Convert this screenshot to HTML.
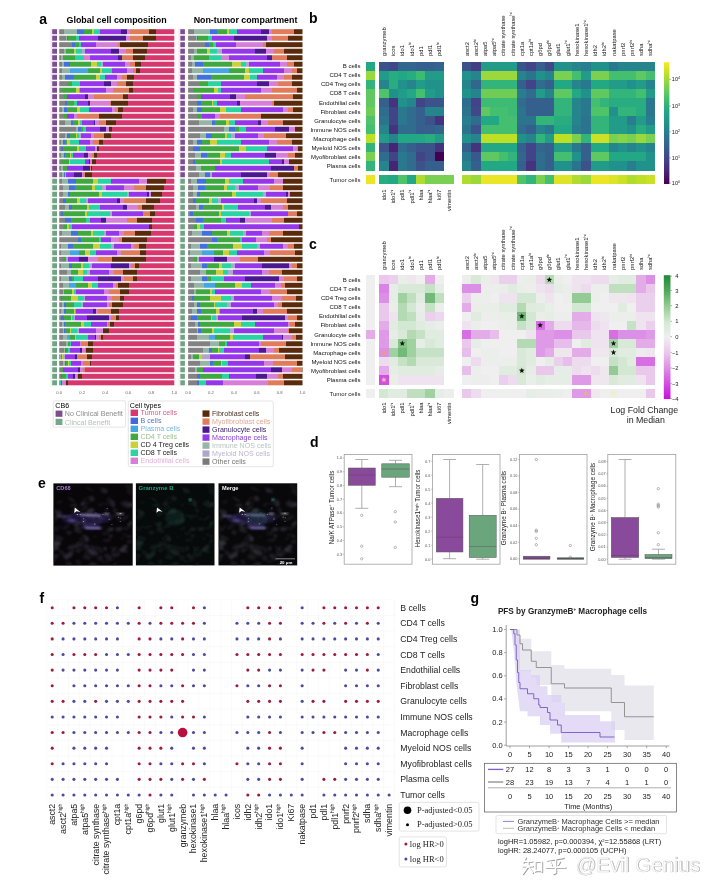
<!DOCTYPE html>
<html><head><meta charset="utf-8"><title>Figure</title>
<style>
html,body{margin:0;padding:0;background:#fff;}
body{width:720px;height:893px;overflow:hidden;}
svg{display:block;font-family:"Liberation Sans",sans-serif;will-change:transform;}
.ce rect{shape-rendering:crispEdges;}
</style></head><body>
<svg width="720" height="893" viewBox="0 0 720 893">
<rect width="720" height="893" fill="#fff"/>
<defs><linearGradient id="gl0" gradientUnits="userSpaceOnUse" x1="59.2" y1="0" x2="174.3" y2="0"><stop offset="0.0000" stop-color="#828282"/><stop offset="0.0412" stop-color="#828282"/><stop offset="0.0412" stop-color="#97b5a6"/><stop offset="0.1580" stop-color="#97b5a6"/><stop offset="0.1580" stop-color="#4470de"/><stop offset="0.2129" stop-color="#4470de"/><stop offset="0.2129" stop-color="#3fa83f"/><stop offset="0.2885" stop-color="#3fa83f"/><stop offset="0.2885" stop-color="#c9d038"/><stop offset="0.3022" stop-color="#c9d038"/><stop offset="0.3022" stop-color="#2ad3a2"/><stop offset="0.3572" stop-color="#2ad3a2"/><stop offset="0.3572" stop-color="#9636ea"/><stop offset="0.5358" stop-color="#9636ea"/><stop offset="0.5358" stop-color="#4c1890"/><stop offset="0.5907" stop-color="#4c1890"/><stop offset="0.5907" stop-color="#d77fd8"/><stop offset="0.6113" stop-color="#d77fd8"/><stop offset="0.6113" stop-color="#e07c5c"/><stop offset="0.7762" stop-color="#e07c5c"/><stop offset="0.7762" stop-color="#5a2a0c"/><stop offset="0.8380" stop-color="#5a2a0c"/><stop offset="0.8380" stop-color="#d6386e"/><stop offset="1.0000" stop-color="#d6386e"/></linearGradient><linearGradient id="gr0" gradientUnits="userSpaceOnUse" x1="188.1" y1="0" x2="302.5" y2="0"><stop offset="0.0000" stop-color="#828282"/><stop offset="0.0492" stop-color="#828282"/><stop offset="0.0492" stop-color="#97b5a6"/><stop offset="0.1885" stop-color="#97b5a6"/><stop offset="0.1885" stop-color="#4470de"/><stop offset="0.2541" stop-color="#4470de"/><stop offset="0.2541" stop-color="#3fa83f"/><stop offset="0.3443" stop-color="#3fa83f"/><stop offset="0.3443" stop-color="#c9d038"/><stop offset="0.3607" stop-color="#c9d038"/><stop offset="0.3607" stop-color="#2ad3a2"/><stop offset="0.4262" stop-color="#2ad3a2"/><stop offset="0.4262" stop-color="#9636ea"/><stop offset="0.6393" stop-color="#9636ea"/><stop offset="0.6393" stop-color="#4c1890"/><stop offset="0.7049" stop-color="#4c1890"/><stop offset="0.7049" stop-color="#d77fd8"/><stop offset="0.7295" stop-color="#d77fd8"/><stop offset="0.7295" stop-color="#e07c5c"/><stop offset="0.9262" stop-color="#e07c5c"/><stop offset="0.9262" stop-color="#5a2a0c"/><stop offset="1.0000" stop-color="#5a2a0c"/></linearGradient><linearGradient id="gl1" gradientUnits="userSpaceOnUse" x1="59.2" y1="0" x2="174.3" y2="0"><stop offset="0.0000" stop-color="#828282"/><stop offset="0.0550" stop-color="#828282"/><stop offset="0.0550" stop-color="#97b5a6"/><stop offset="0.0687" stop-color="#97b5a6"/><stop offset="0.0687" stop-color="#4470de"/><stop offset="0.0756" stop-color="#4470de"/><stop offset="0.0756" stop-color="#3fa83f"/><stop offset="0.1442" stop-color="#3fa83f"/><stop offset="0.1442" stop-color="#2ad3a2"/><stop offset="0.1717" stop-color="#2ad3a2"/><stop offset="0.1717" stop-color="#9636ea"/><stop offset="0.3366" stop-color="#9636ea"/><stop offset="0.3366" stop-color="#4c1890"/><stop offset="0.5770" stop-color="#4c1890"/><stop offset="0.5770" stop-color="#d77fd8"/><stop offset="0.6113" stop-color="#d77fd8"/><stop offset="0.6113" stop-color="#e07c5c"/><stop offset="0.7281" stop-color="#e07c5c"/><stop offset="0.7281" stop-color="#5a2a0c"/><stop offset="0.8380" stop-color="#5a2a0c"/><stop offset="0.8380" stop-color="#d6386e"/><stop offset="1.0000" stop-color="#d6386e"/></linearGradient><linearGradient id="gr1" gradientUnits="userSpaceOnUse" x1="188.1" y1="0" x2="302.5" y2="0"><stop offset="0.0000" stop-color="#828282"/><stop offset="0.0656" stop-color="#828282"/><stop offset="0.0656" stop-color="#97b5a6"/><stop offset="0.0820" stop-color="#97b5a6"/><stop offset="0.0820" stop-color="#4470de"/><stop offset="0.0902" stop-color="#4470de"/><stop offset="0.0902" stop-color="#3fa83f"/><stop offset="0.1721" stop-color="#3fa83f"/><stop offset="0.1721" stop-color="#2ad3a2"/><stop offset="0.2049" stop-color="#2ad3a2"/><stop offset="0.2049" stop-color="#9636ea"/><stop offset="0.4016" stop-color="#9636ea"/><stop offset="0.4016" stop-color="#4c1890"/><stop offset="0.6885" stop-color="#4c1890"/><stop offset="0.6885" stop-color="#d77fd8"/><stop offset="0.7295" stop-color="#d77fd8"/><stop offset="0.7295" stop-color="#e07c5c"/><stop offset="0.8689" stop-color="#e07c5c"/><stop offset="0.8689" stop-color="#5a2a0c"/><stop offset="1.0000" stop-color="#5a2a0c"/></linearGradient><linearGradient id="gl2" gradientUnits="userSpaceOnUse" x1="59.2" y1="0" x2="174.3" y2="0"><stop offset="0.0000" stop-color="#828282"/><stop offset="0.1143" stop-color="#828282"/><stop offset="0.1143" stop-color="#4470de"/><stop offset="0.1398" stop-color="#4470de"/><stop offset="0.1398" stop-color="#3fa83f"/><stop offset="0.1715" stop-color="#3fa83f"/><stop offset="0.1715" stop-color="#2ad3a2"/><stop offset="0.1906" stop-color="#2ad3a2"/><stop offset="0.1906" stop-color="#9636ea"/><stop offset="0.3240" stop-color="#9636ea"/><stop offset="0.3240" stop-color="#d77fd8"/><stop offset="0.5082" stop-color="#d77fd8"/><stop offset="0.5082" stop-color="#e07c5c"/><stop offset="0.5273" stop-color="#e07c5c"/><stop offset="0.5273" stop-color="#5a2a0c"/><stop offset="0.7750" stop-color="#5a2a0c"/><stop offset="0.7750" stop-color="#d6386e"/><stop offset="1.0000" stop-color="#d6386e"/></linearGradient><linearGradient id="gr2" gradientUnits="userSpaceOnUse" x1="188.1" y1="0" x2="302.5" y2="0"><stop offset="0.0000" stop-color="#828282"/><stop offset="0.1475" stop-color="#828282"/><stop offset="0.1475" stop-color="#4470de"/><stop offset="0.1803" stop-color="#4470de"/><stop offset="0.1803" stop-color="#3fa83f"/><stop offset="0.2213" stop-color="#3fa83f"/><stop offset="0.2213" stop-color="#2ad3a2"/><stop offset="0.2459" stop-color="#2ad3a2"/><stop offset="0.2459" stop-color="#9636ea"/><stop offset="0.4180" stop-color="#9636ea"/><stop offset="0.4180" stop-color="#d77fd8"/><stop offset="0.6557" stop-color="#d77fd8"/><stop offset="0.6557" stop-color="#e07c5c"/><stop offset="0.6803" stop-color="#e07c5c"/><stop offset="0.6803" stop-color="#5a2a0c"/><stop offset="1.0000" stop-color="#5a2a0c"/></linearGradient><linearGradient id="gl3" gradientUnits="userSpaceOnUse" x1="59.2" y1="0" x2="174.3" y2="0"><stop offset="0.0000" stop-color="#828282"/><stop offset="0.0377" stop-color="#828282"/><stop offset="0.0377" stop-color="#97b5a6"/><stop offset="0.0566" stop-color="#97b5a6"/><stop offset="0.0566" stop-color="#3fa83f"/><stop offset="0.1257" stop-color="#3fa83f"/><stop offset="0.1257" stop-color="#c9d038"/><stop offset="0.1446" stop-color="#c9d038"/><stop offset="0.1446" stop-color="#2ad3a2"/><stop offset="0.1949" stop-color="#2ad3a2"/><stop offset="0.1949" stop-color="#aea6cc"/><stop offset="0.2263" stop-color="#aea6cc"/><stop offset="0.2263" stop-color="#9636ea"/><stop offset="0.4464" stop-color="#9636ea"/><stop offset="0.4464" stop-color="#4c1890"/><stop offset="0.5218" stop-color="#4c1890"/><stop offset="0.5218" stop-color="#d77fd8"/><stop offset="0.5784" stop-color="#d77fd8"/><stop offset="0.5784" stop-color="#e07c5c"/><stop offset="0.6413" stop-color="#e07c5c"/><stop offset="0.6413" stop-color="#5a2a0c"/><stop offset="0.7670" stop-color="#5a2a0c"/><stop offset="0.7670" stop-color="#d6386e"/><stop offset="1.0000" stop-color="#d6386e"/></linearGradient><linearGradient id="gr3" gradientUnits="userSpaceOnUse" x1="188.1" y1="0" x2="302.5" y2="0"><stop offset="0.0000" stop-color="#828282"/><stop offset="0.0492" stop-color="#828282"/><stop offset="0.0492" stop-color="#97b5a6"/><stop offset="0.0738" stop-color="#97b5a6"/><stop offset="0.0738" stop-color="#3fa83f"/><stop offset="0.1639" stop-color="#3fa83f"/><stop offset="0.1639" stop-color="#c9d038"/><stop offset="0.1885" stop-color="#c9d038"/><stop offset="0.1885" stop-color="#2ad3a2"/><stop offset="0.2541" stop-color="#2ad3a2"/><stop offset="0.2541" stop-color="#aea6cc"/><stop offset="0.2951" stop-color="#aea6cc"/><stop offset="0.2951" stop-color="#9636ea"/><stop offset="0.5820" stop-color="#9636ea"/><stop offset="0.5820" stop-color="#4c1890"/><stop offset="0.6803" stop-color="#4c1890"/><stop offset="0.6803" stop-color="#d77fd8"/><stop offset="0.7541" stop-color="#d77fd8"/><stop offset="0.7541" stop-color="#e07c5c"/><stop offset="0.8361" stop-color="#e07c5c"/><stop offset="0.8361" stop-color="#5a2a0c"/><stop offset="1.0000" stop-color="#5a2a0c"/></linearGradient><linearGradient id="gl4" gradientUnits="userSpaceOnUse" x1="59.2" y1="0" x2="174.3" y2="0"><stop offset="0.0000" stop-color="#828282"/><stop offset="0.0183" stop-color="#828282"/><stop offset="0.0183" stop-color="#97b5a6"/><stop offset="0.0366" stop-color="#97b5a6"/><stop offset="0.0366" stop-color="#3fa83f"/><stop offset="0.1342" stop-color="#3fa83f"/><stop offset="0.1342" stop-color="#2ad3a2"/><stop offset="0.2134" stop-color="#2ad3a2"/><stop offset="0.2134" stop-color="#d77fd8"/><stop offset="0.2683" stop-color="#d77fd8"/><stop offset="0.2683" stop-color="#9636ea"/><stop offset="0.5123" stop-color="#9636ea"/><stop offset="0.5123" stop-color="#4c1890"/><stop offset="0.5428" stop-color="#4c1890"/><stop offset="0.5428" stop-color="#e07c5c"/><stop offset="0.6403" stop-color="#e07c5c"/><stop offset="0.6403" stop-color="#5a2a0c"/><stop offset="0.7440" stop-color="#5a2a0c"/><stop offset="0.7440" stop-color="#d6386e"/><stop offset="1.0000" stop-color="#d6386e"/></linearGradient><linearGradient id="gr4" gradientUnits="userSpaceOnUse" x1="188.1" y1="0" x2="302.5" y2="0"><stop offset="0.0000" stop-color="#828282"/><stop offset="0.0246" stop-color="#828282"/><stop offset="0.0246" stop-color="#97b5a6"/><stop offset="0.0492" stop-color="#97b5a6"/><stop offset="0.0492" stop-color="#3fa83f"/><stop offset="0.1803" stop-color="#3fa83f"/><stop offset="0.1803" stop-color="#2ad3a2"/><stop offset="0.2869" stop-color="#2ad3a2"/><stop offset="0.2869" stop-color="#d77fd8"/><stop offset="0.3607" stop-color="#d77fd8"/><stop offset="0.3607" stop-color="#9636ea"/><stop offset="0.6885" stop-color="#9636ea"/><stop offset="0.6885" stop-color="#4c1890"/><stop offset="0.7295" stop-color="#4c1890"/><stop offset="0.7295" stop-color="#e07c5c"/><stop offset="0.8607" stop-color="#e07c5c"/><stop offset="0.8607" stop-color="#5a2a0c"/><stop offset="1.0000" stop-color="#5a2a0c"/></linearGradient><linearGradient id="gl5" gradientUnits="userSpaceOnUse" x1="59.2" y1="0" x2="174.3" y2="0"><stop offset="0.0000" stop-color="#828282"/><stop offset="0.0233" stop-color="#828282"/><stop offset="0.0233" stop-color="#97b5a6"/><stop offset="0.0409" stop-color="#97b5a6"/><stop offset="0.0409" stop-color="#4470de"/><stop offset="0.0934" stop-color="#4470de"/><stop offset="0.0934" stop-color="#3fa83f"/><stop offset="0.2743" stop-color="#3fa83f"/><stop offset="0.2743" stop-color="#c9d038"/><stop offset="0.3268" stop-color="#c9d038"/><stop offset="0.3268" stop-color="#2ad3a2"/><stop offset="0.3618" stop-color="#2ad3a2"/><stop offset="0.3618" stop-color="#aea6cc"/><stop offset="0.3793" stop-color="#aea6cc"/><stop offset="0.3793" stop-color="#9636ea"/><stop offset="0.5719" stop-color="#9636ea"/><stop offset="0.5719" stop-color="#d77fd8"/><stop offset="0.6128" stop-color="#d77fd8"/><stop offset="0.6128" stop-color="#e07c5c"/><stop offset="0.6595" stop-color="#e07c5c"/><stop offset="0.6595" stop-color="#5a2a0c"/><stop offset="0.7120" stop-color="#5a2a0c"/><stop offset="0.7120" stop-color="#d6386e"/><stop offset="1.0000" stop-color="#d6386e"/></linearGradient><linearGradient id="gr5" gradientUnits="userSpaceOnUse" x1="188.1" y1="0" x2="302.5" y2="0"><stop offset="0.0000" stop-color="#828282"/><stop offset="0.0328" stop-color="#828282"/><stop offset="0.0328" stop-color="#97b5a6"/><stop offset="0.0574" stop-color="#97b5a6"/><stop offset="0.0574" stop-color="#4470de"/><stop offset="0.1311" stop-color="#4470de"/><stop offset="0.1311" stop-color="#3fa83f"/><stop offset="0.3852" stop-color="#3fa83f"/><stop offset="0.3852" stop-color="#c9d038"/><stop offset="0.4590" stop-color="#c9d038"/><stop offset="0.4590" stop-color="#2ad3a2"/><stop offset="0.5082" stop-color="#2ad3a2"/><stop offset="0.5082" stop-color="#aea6cc"/><stop offset="0.5328" stop-color="#aea6cc"/><stop offset="0.5328" stop-color="#9636ea"/><stop offset="0.8033" stop-color="#9636ea"/><stop offset="0.8033" stop-color="#d77fd8"/><stop offset="0.8607" stop-color="#d77fd8"/><stop offset="0.8607" stop-color="#e07c5c"/><stop offset="0.9262" stop-color="#e07c5c"/><stop offset="0.9262" stop-color="#5a2a0c"/><stop offset="1.0000" stop-color="#5a2a0c"/></linearGradient><linearGradient id="gl6" gradientUnits="userSpaceOnUse" x1="59.2" y1="0" x2="174.3" y2="0"><stop offset="0.0000" stop-color="#828282"/><stop offset="0.0231" stop-color="#828282"/><stop offset="0.0231" stop-color="#97b5a6"/><stop offset="0.0923" stop-color="#97b5a6"/><stop offset="0.0923" stop-color="#46a6e4"/><stop offset="0.2539" stop-color="#46a6e4"/><stop offset="0.2539" stop-color="#3fa83f"/><stop offset="0.3520" stop-color="#3fa83f"/><stop offset="0.3520" stop-color="#c9d038"/><stop offset="0.3751" stop-color="#c9d038"/><stop offset="0.3751" stop-color="#2ad3a2"/><stop offset="0.4616" stop-color="#2ad3a2"/><stop offset="0.4616" stop-color="#9636ea"/><stop offset="0.5886" stop-color="#9636ea"/><stop offset="0.5886" stop-color="#d77fd8"/><stop offset="0.6405" stop-color="#d77fd8"/><stop offset="0.6405" stop-color="#e07c5c"/><stop offset="0.6694" stop-color="#e07c5c"/><stop offset="0.6694" stop-color="#5a2a0c"/><stop offset="0.7040" stop-color="#5a2a0c"/><stop offset="0.7040" stop-color="#d6386e"/><stop offset="1.0000" stop-color="#d6386e"/></linearGradient><linearGradient id="gr6" gradientUnits="userSpaceOnUse" x1="188.1" y1="0" x2="302.5" y2="0"><stop offset="0.0000" stop-color="#828282"/><stop offset="0.0328" stop-color="#828282"/><stop offset="0.0328" stop-color="#97b5a6"/><stop offset="0.1311" stop-color="#97b5a6"/><stop offset="0.1311" stop-color="#46a6e4"/><stop offset="0.3607" stop-color="#46a6e4"/><stop offset="0.3607" stop-color="#3fa83f"/><stop offset="0.5000" stop-color="#3fa83f"/><stop offset="0.5000" stop-color="#c9d038"/><stop offset="0.5328" stop-color="#c9d038"/><stop offset="0.5328" stop-color="#2ad3a2"/><stop offset="0.6557" stop-color="#2ad3a2"/><stop offset="0.6557" stop-color="#9636ea"/><stop offset="0.8361" stop-color="#9636ea"/><stop offset="0.8361" stop-color="#d77fd8"/><stop offset="0.9098" stop-color="#d77fd8"/><stop offset="0.9098" stop-color="#e07c5c"/><stop offset="0.9508" stop-color="#e07c5c"/><stop offset="0.9508" stop-color="#5a2a0c"/><stop offset="1.0000" stop-color="#5a2a0c"/></linearGradient><linearGradient id="gl7" gradientUnits="userSpaceOnUse" x1="59.2" y1="0" x2="174.3" y2="0"><stop offset="0.0000" stop-color="#828282"/><stop offset="0.0266" stop-color="#828282"/><stop offset="0.0266" stop-color="#97b5a6"/><stop offset="0.0532" stop-color="#97b5a6"/><stop offset="0.0532" stop-color="#4470de"/><stop offset="0.1277" stop-color="#4470de"/><stop offset="0.1277" stop-color="#3fa83f"/><stop offset="0.3192" stop-color="#3fa83f"/><stop offset="0.3192" stop-color="#c9d038"/><stop offset="0.3511" stop-color="#c9d038"/><stop offset="0.3511" stop-color="#2ad3a2"/><stop offset="0.3937" stop-color="#2ad3a2"/><stop offset="0.3937" stop-color="#9636ea"/><stop offset="0.5054" stop-color="#9636ea"/><stop offset="0.5054" stop-color="#d77fd8"/><stop offset="0.5426" stop-color="#d77fd8"/><stop offset="0.5426" stop-color="#e07c5c"/><stop offset="0.5905" stop-color="#e07c5c"/><stop offset="0.5905" stop-color="#5a2a0c"/><stop offset="0.6490" stop-color="#5a2a0c"/><stop offset="0.6490" stop-color="#d6386e"/><stop offset="1.0000" stop-color="#d6386e"/></linearGradient><linearGradient id="gr7" gradientUnits="userSpaceOnUse" x1="188.1" y1="0" x2="302.5" y2="0"><stop offset="0.0000" stop-color="#828282"/><stop offset="0.0410" stop-color="#828282"/><stop offset="0.0410" stop-color="#97b5a6"/><stop offset="0.0820" stop-color="#97b5a6"/><stop offset="0.0820" stop-color="#4470de"/><stop offset="0.1967" stop-color="#4470de"/><stop offset="0.1967" stop-color="#3fa83f"/><stop offset="0.4918" stop-color="#3fa83f"/><stop offset="0.4918" stop-color="#c9d038"/><stop offset="0.5410" stop-color="#c9d038"/><stop offset="0.5410" stop-color="#2ad3a2"/><stop offset="0.6066" stop-color="#2ad3a2"/><stop offset="0.6066" stop-color="#9636ea"/><stop offset="0.7787" stop-color="#9636ea"/><stop offset="0.7787" stop-color="#d77fd8"/><stop offset="0.8361" stop-color="#d77fd8"/><stop offset="0.8361" stop-color="#e07c5c"/><stop offset="0.9098" stop-color="#e07c5c"/><stop offset="0.9098" stop-color="#5a2a0c"/><stop offset="1.0000" stop-color="#5a2a0c"/></linearGradient><linearGradient id="gl8" gradientUnits="userSpaceOnUse" x1="59.2" y1="0" x2="174.3" y2="0"><stop offset="0.0000" stop-color="#828282"/><stop offset="0.0684" stop-color="#828282"/><stop offset="0.0684" stop-color="#3fa83f"/><stop offset="0.1105" stop-color="#3fa83f"/><stop offset="0.1105" stop-color="#2ad3a2"/><stop offset="0.1842" stop-color="#2ad3a2"/><stop offset="0.1842" stop-color="#9636ea"/><stop offset="0.3894" stop-color="#9636ea"/><stop offset="0.3894" stop-color="#4c1890"/><stop offset="0.4526" stop-color="#4c1890"/><stop offset="0.4526" stop-color="#d77fd8"/><stop offset="0.5052" stop-color="#d77fd8"/><stop offset="0.5052" stop-color="#e07c5c"/><stop offset="0.5841" stop-color="#e07c5c"/><stop offset="0.5841" stop-color="#5a2a0c"/><stop offset="0.6420" stop-color="#5a2a0c"/><stop offset="0.6420" stop-color="#d6386e"/><stop offset="1.0000" stop-color="#d6386e"/></linearGradient><linearGradient id="gr8" gradientUnits="userSpaceOnUse" x1="188.1" y1="0" x2="302.5" y2="0"><stop offset="0.0000" stop-color="#828282"/><stop offset="0.1066" stop-color="#828282"/><stop offset="0.1066" stop-color="#3fa83f"/><stop offset="0.1721" stop-color="#3fa83f"/><stop offset="0.1721" stop-color="#2ad3a2"/><stop offset="0.2869" stop-color="#2ad3a2"/><stop offset="0.2869" stop-color="#9636ea"/><stop offset="0.6066" stop-color="#9636ea"/><stop offset="0.6066" stop-color="#4c1890"/><stop offset="0.7049" stop-color="#4c1890"/><stop offset="0.7049" stop-color="#d77fd8"/><stop offset="0.7869" stop-color="#d77fd8"/><stop offset="0.7869" stop-color="#e07c5c"/><stop offset="0.9098" stop-color="#e07c5c"/><stop offset="0.9098" stop-color="#5a2a0c"/><stop offset="1.0000" stop-color="#5a2a0c"/></linearGradient><linearGradient id="gl9" gradientUnits="userSpaceOnUse" x1="59.2" y1="0" x2="174.3" y2="0"><stop offset="0.0000" stop-color="#828282"/><stop offset="0.0263" stop-color="#828282"/><stop offset="0.0263" stop-color="#3fa83f"/><stop offset="0.1473" stop-color="#3fa83f"/><stop offset="0.1473" stop-color="#c9d038"/><stop offset="0.1684" stop-color="#c9d038"/><stop offset="0.1684" stop-color="#2ad3a2"/><stop offset="0.1842" stop-color="#2ad3a2"/><stop offset="0.1842" stop-color="#9636ea"/><stop offset="0.4105" stop-color="#9636ea"/><stop offset="0.4105" stop-color="#d77fd8"/><stop offset="0.4683" stop-color="#d77fd8"/><stop offset="0.4683" stop-color="#e07c5c"/><stop offset="0.6104" stop-color="#e07c5c"/><stop offset="0.6104" stop-color="#5a2a0c"/><stop offset="0.6420" stop-color="#5a2a0c"/><stop offset="0.6420" stop-color="#d6386e"/><stop offset="1.0000" stop-color="#d6386e"/></linearGradient><linearGradient id="gr9" gradientUnits="userSpaceOnUse" x1="188.1" y1="0" x2="302.5" y2="0"><stop offset="0.0000" stop-color="#828282"/><stop offset="0.0410" stop-color="#828282"/><stop offset="0.0410" stop-color="#3fa83f"/><stop offset="0.2295" stop-color="#3fa83f"/><stop offset="0.2295" stop-color="#c9d038"/><stop offset="0.2623" stop-color="#c9d038"/><stop offset="0.2623" stop-color="#2ad3a2"/><stop offset="0.2869" stop-color="#2ad3a2"/><stop offset="0.2869" stop-color="#9636ea"/><stop offset="0.6393" stop-color="#9636ea"/><stop offset="0.6393" stop-color="#d77fd8"/><stop offset="0.7295" stop-color="#d77fd8"/><stop offset="0.7295" stop-color="#e07c5c"/><stop offset="0.9508" stop-color="#e07c5c"/><stop offset="0.9508" stop-color="#5a2a0c"/><stop offset="1.0000" stop-color="#5a2a0c"/></linearGradient><linearGradient id="gl10" gradientUnits="userSpaceOnUse" x1="59.2" y1="0" x2="174.3" y2="0"><stop offset="0.0000" stop-color="#828282"/><stop offset="0.0444" stop-color="#828282"/><stop offset="0.0444" stop-color="#3fa83f"/><stop offset="0.0691" stop-color="#3fa83f"/><stop offset="0.0691" stop-color="#9636ea"/><stop offset="0.2220" stop-color="#9636ea"/><stop offset="0.2220" stop-color="#4c1890"/><stop offset="0.2517" stop-color="#4c1890"/><stop offset="0.2517" stop-color="#d77fd8"/><stop offset="0.3010" stop-color="#d77fd8"/><stop offset="0.3010" stop-color="#e07c5c"/><stop offset="0.5527" stop-color="#e07c5c"/><stop offset="0.5527" stop-color="#5a2a0c"/><stop offset="0.6020" stop-color="#5a2a0c"/><stop offset="0.6020" stop-color="#d6386e"/><stop offset="1.0000" stop-color="#d6386e"/></linearGradient><linearGradient id="gr10" gradientUnits="userSpaceOnUse" x1="188.1" y1="0" x2="302.5" y2="0"><stop offset="0.0000" stop-color="#828282"/><stop offset="0.0738" stop-color="#828282"/><stop offset="0.0738" stop-color="#3fa83f"/><stop offset="0.1148" stop-color="#3fa83f"/><stop offset="0.1148" stop-color="#9636ea"/><stop offset="0.3689" stop-color="#9636ea"/><stop offset="0.3689" stop-color="#4c1890"/><stop offset="0.4180" stop-color="#4c1890"/><stop offset="0.4180" stop-color="#d77fd8"/><stop offset="0.5000" stop-color="#d77fd8"/><stop offset="0.5000" stop-color="#e07c5c"/><stop offset="0.9180" stop-color="#e07c5c"/><stop offset="0.9180" stop-color="#5a2a0c"/><stop offset="1.0000" stop-color="#5a2a0c"/></linearGradient><linearGradient id="gl11" gradientUnits="userSpaceOnUse" x1="59.2" y1="0" x2="174.3" y2="0"><stop offset="0.0000" stop-color="#828282"/><stop offset="0.0487" stop-color="#828282"/><stop offset="0.0487" stop-color="#4470de"/><stop offset="0.0682" stop-color="#4470de"/><stop offset="0.0682" stop-color="#3fa83f"/><stop offset="0.1266" stop-color="#3fa83f"/><stop offset="0.1266" stop-color="#c9d038"/><stop offset="0.1315" stop-color="#c9d038"/><stop offset="0.1315" stop-color="#2ad3a2"/><stop offset="0.1509" stop-color="#2ad3a2"/><stop offset="0.1509" stop-color="#9636ea"/><stop offset="0.2532" stop-color="#9636ea"/><stop offset="0.2532" stop-color="#4c1890"/><stop offset="0.2678" stop-color="#4c1890"/><stop offset="0.2678" stop-color="#d77fd8"/><stop offset="0.4382" stop-color="#d77fd8"/><stop offset="0.4382" stop-color="#e07c5c"/><stop offset="0.4479" stop-color="#e07c5c"/><stop offset="0.4479" stop-color="#5a2a0c"/><stop offset="0.5940" stop-color="#5a2a0c"/><stop offset="0.5940" stop-color="#d6386e"/><stop offset="1.0000" stop-color="#d6386e"/></linearGradient><linearGradient id="gr11" gradientUnits="userSpaceOnUse" x1="188.1" y1="0" x2="302.5" y2="0"><stop offset="0.0000" stop-color="#828282"/><stop offset="0.0820" stop-color="#828282"/><stop offset="0.0820" stop-color="#4470de"/><stop offset="0.1148" stop-color="#4470de"/><stop offset="0.1148" stop-color="#3fa83f"/><stop offset="0.2131" stop-color="#3fa83f"/><stop offset="0.2131" stop-color="#c9d038"/><stop offset="0.2213" stop-color="#c9d038"/><stop offset="0.2213" stop-color="#2ad3a2"/><stop offset="0.2541" stop-color="#2ad3a2"/><stop offset="0.2541" stop-color="#9636ea"/><stop offset="0.4262" stop-color="#9636ea"/><stop offset="0.4262" stop-color="#4c1890"/><stop offset="0.4508" stop-color="#4c1890"/><stop offset="0.4508" stop-color="#d77fd8"/><stop offset="0.7377" stop-color="#d77fd8"/><stop offset="0.7377" stop-color="#e07c5c"/><stop offset="0.7541" stop-color="#e07c5c"/><stop offset="0.7541" stop-color="#5a2a0c"/><stop offset="1.0000" stop-color="#5a2a0c"/></linearGradient><linearGradient id="gl12" gradientUnits="userSpaceOnUse" x1="59.2" y1="0" x2="174.3" y2="0"><stop offset="0.0000" stop-color="#828282"/><stop offset="0.0227" stop-color="#828282"/><stop offset="0.0227" stop-color="#97b5a6"/><stop offset="0.0409" stop-color="#97b5a6"/><stop offset="0.0409" stop-color="#4470de"/><stop offset="0.0682" stop-color="#4470de"/><stop offset="0.0682" stop-color="#3fa83f"/><stop offset="0.1547" stop-color="#3fa83f"/><stop offset="0.1547" stop-color="#c9d038"/><stop offset="0.1820" stop-color="#c9d038"/><stop offset="0.1820" stop-color="#2ad3a2"/><stop offset="0.2548" stop-color="#2ad3a2"/><stop offset="0.2548" stop-color="#9636ea"/><stop offset="0.4595" stop-color="#9636ea"/><stop offset="0.4595" stop-color="#d77fd8"/><stop offset="0.4822" stop-color="#d77fd8"/><stop offset="0.4822" stop-color="#e07c5c"/><stop offset="0.5095" stop-color="#e07c5c"/><stop offset="0.5095" stop-color="#5a2a0c"/><stop offset="0.5550" stop-color="#5a2a0c"/><stop offset="0.5550" stop-color="#d6386e"/><stop offset="1.0000" stop-color="#d6386e"/></linearGradient><linearGradient id="gr12" gradientUnits="userSpaceOnUse" x1="188.1" y1="0" x2="302.5" y2="0"><stop offset="0.0000" stop-color="#828282"/><stop offset="0.0410" stop-color="#828282"/><stop offset="0.0410" stop-color="#97b5a6"/><stop offset="0.0738" stop-color="#97b5a6"/><stop offset="0.0738" stop-color="#4470de"/><stop offset="0.1230" stop-color="#4470de"/><stop offset="0.1230" stop-color="#3fa83f"/><stop offset="0.2787" stop-color="#3fa83f"/><stop offset="0.2787" stop-color="#c9d038"/><stop offset="0.3279" stop-color="#c9d038"/><stop offset="0.3279" stop-color="#2ad3a2"/><stop offset="0.4590" stop-color="#2ad3a2"/><stop offset="0.4590" stop-color="#9636ea"/><stop offset="0.8279" stop-color="#9636ea"/><stop offset="0.8279" stop-color="#d77fd8"/><stop offset="0.8689" stop-color="#d77fd8"/><stop offset="0.8689" stop-color="#e07c5c"/><stop offset="0.9180" stop-color="#e07c5c"/><stop offset="0.9180" stop-color="#5a2a0c"/><stop offset="1.0000" stop-color="#5a2a0c"/></linearGradient><linearGradient id="gl13" gradientUnits="userSpaceOnUse" x1="59.2" y1="0" x2="174.3" y2="0"><stop offset="0.0000" stop-color="#828282"/><stop offset="0.0448" stop-color="#828282"/><stop offset="0.0448" stop-color="#3fa83f"/><stop offset="0.0673" stop-color="#3fa83f"/><stop offset="0.0673" stop-color="#9636ea"/><stop offset="0.1300" stop-color="#9636ea"/><stop offset="0.1300" stop-color="#d77fd8"/><stop offset="0.1524" stop-color="#d77fd8"/><stop offset="0.1524" stop-color="#e07c5c"/><stop offset="0.3497" stop-color="#e07c5c"/><stop offset="0.3497" stop-color="#5a2a0c"/><stop offset="0.5470" stop-color="#5a2a0c"/><stop offset="0.5470" stop-color="#d6386e"/><stop offset="1.0000" stop-color="#d6386e"/></linearGradient><linearGradient id="gr13" gradientUnits="userSpaceOnUse" x1="188.1" y1="0" x2="302.5" y2="0"><stop offset="0.0000" stop-color="#828282"/><stop offset="0.0820" stop-color="#828282"/><stop offset="0.0820" stop-color="#3fa83f"/><stop offset="0.1230" stop-color="#3fa83f"/><stop offset="0.1230" stop-color="#9636ea"/><stop offset="0.2377" stop-color="#9636ea"/><stop offset="0.2377" stop-color="#d77fd8"/><stop offset="0.2787" stop-color="#d77fd8"/><stop offset="0.2787" stop-color="#e07c5c"/><stop offset="0.6393" stop-color="#e07c5c"/><stop offset="0.6393" stop-color="#5a2a0c"/><stop offset="1.0000" stop-color="#5a2a0c"/></linearGradient><linearGradient id="gl14" gradientUnits="userSpaceOnUse" x1="59.2" y1="0" x2="174.3" y2="0"><stop offset="0.0000" stop-color="#828282"/><stop offset="0.0484" stop-color="#828282"/><stop offset="0.0484" stop-color="#97b5a6"/><stop offset="0.1008" stop-color="#97b5a6"/><stop offset="0.1008" stop-color="#4470de"/><stop offset="0.1170" stop-color="#4470de"/><stop offset="0.1170" stop-color="#3fa83f"/><stop offset="0.1613" stop-color="#3fa83f"/><stop offset="0.1613" stop-color="#c9d038"/><stop offset="0.1774" stop-color="#c9d038"/><stop offset="0.1774" stop-color="#2ad3a2"/><stop offset="0.2016" stop-color="#2ad3a2"/><stop offset="0.2016" stop-color="#9636ea"/><stop offset="0.3025" stop-color="#9636ea"/><stop offset="0.3025" stop-color="#4c1890"/><stop offset="0.3146" stop-color="#4c1890"/><stop offset="0.3146" stop-color="#d77fd8"/><stop offset="0.3428" stop-color="#d77fd8"/><stop offset="0.3428" stop-color="#e07c5c"/><stop offset="0.4073" stop-color="#e07c5c"/><stop offset="0.4073" stop-color="#5a2a0c"/><stop offset="0.4920" stop-color="#5a2a0c"/><stop offset="0.4920" stop-color="#d6386e"/><stop offset="1.0000" stop-color="#d6386e"/></linearGradient><linearGradient id="gr14" gradientUnits="userSpaceOnUse" x1="188.1" y1="0" x2="302.5" y2="0"><stop offset="0.0000" stop-color="#828282"/><stop offset="0.0984" stop-color="#828282"/><stop offset="0.0984" stop-color="#97b5a6"/><stop offset="0.2049" stop-color="#97b5a6"/><stop offset="0.2049" stop-color="#4470de"/><stop offset="0.2377" stop-color="#4470de"/><stop offset="0.2377" stop-color="#3fa83f"/><stop offset="0.3279" stop-color="#3fa83f"/><stop offset="0.3279" stop-color="#c9d038"/><stop offset="0.3607" stop-color="#c9d038"/><stop offset="0.3607" stop-color="#2ad3a2"/><stop offset="0.4098" stop-color="#2ad3a2"/><stop offset="0.4098" stop-color="#9636ea"/><stop offset="0.6148" stop-color="#9636ea"/><stop offset="0.6148" stop-color="#4c1890"/><stop offset="0.6393" stop-color="#4c1890"/><stop offset="0.6393" stop-color="#d77fd8"/><stop offset="0.6967" stop-color="#d77fd8"/><stop offset="0.6967" stop-color="#e07c5c"/><stop offset="0.8279" stop-color="#e07c5c"/><stop offset="0.8279" stop-color="#5a2a0c"/><stop offset="1.0000" stop-color="#5a2a0c"/></linearGradient><linearGradient id="gl15" gradientUnits="userSpaceOnUse" x1="59.2" y1="0" x2="174.3" y2="0"><stop offset="0.0000" stop-color="#828282"/><stop offset="0.1433" stop-color="#828282"/><stop offset="0.1433" stop-color="#97b5a6"/><stop offset="0.1659" stop-color="#97b5a6"/><stop offset="0.1659" stop-color="#4470de"/><stop offset="0.1885" stop-color="#4470de"/><stop offset="0.1885" stop-color="#3fa83f"/><stop offset="0.2036" stop-color="#3fa83f"/><stop offset="0.2036" stop-color="#2ad3a2"/><stop offset="0.2338" stop-color="#2ad3a2"/><stop offset="0.2338" stop-color="#9636ea"/><stop offset="0.3507" stop-color="#9636ea"/><stop offset="0.3507" stop-color="#4c1890"/><stop offset="0.4072" stop-color="#4c1890"/><stop offset="0.4072" stop-color="#d77fd8"/><stop offset="0.4298" stop-color="#d77fd8"/><stop offset="0.4298" stop-color="#5a2a0c"/><stop offset="0.4600" stop-color="#5a2a0c"/><stop offset="0.4600" stop-color="#d6386e"/><stop offset="1.0000" stop-color="#d6386e"/></linearGradient><linearGradient id="gr15" gradientUnits="userSpaceOnUse" x1="188.1" y1="0" x2="302.5" y2="0"><stop offset="0.0000" stop-color="#828282"/><stop offset="0.3115" stop-color="#828282"/><stop offset="0.3115" stop-color="#97b5a6"/><stop offset="0.3607" stop-color="#97b5a6"/><stop offset="0.3607" stop-color="#4470de"/><stop offset="0.4098" stop-color="#4470de"/><stop offset="0.4098" stop-color="#3fa83f"/><stop offset="0.4426" stop-color="#3fa83f"/><stop offset="0.4426" stop-color="#2ad3a2"/><stop offset="0.5082" stop-color="#2ad3a2"/><stop offset="0.5082" stop-color="#9636ea"/><stop offset="0.7623" stop-color="#9636ea"/><stop offset="0.7623" stop-color="#4c1890"/><stop offset="0.8852" stop-color="#4c1890"/><stop offset="0.8852" stop-color="#d77fd8"/><stop offset="0.9344" stop-color="#d77fd8"/><stop offset="0.9344" stop-color="#5a2a0c"/><stop offset="1.0000" stop-color="#5a2a0c"/></linearGradient><linearGradient id="gl16" gradientUnits="userSpaceOnUse" x1="59.2" y1="0" x2="174.3" y2="0"><stop offset="0.0000" stop-color="#828282"/><stop offset="0.0483" stop-color="#828282"/><stop offset="0.0483" stop-color="#97b5a6"/><stop offset="0.0705" stop-color="#97b5a6"/><stop offset="0.0705" stop-color="#4470de"/><stop offset="0.0928" stop-color="#4470de"/><stop offset="0.0928" stop-color="#3fa83f"/><stop offset="0.1448" stop-color="#3fa83f"/><stop offset="0.1448" stop-color="#c9d038"/><stop offset="0.1522" stop-color="#c9d038"/><stop offset="0.1522" stop-color="#2ad3a2"/><stop offset="0.1708" stop-color="#2ad3a2"/><stop offset="0.1708" stop-color="#aea6cc"/><stop offset="0.1857" stop-color="#aea6cc"/><stop offset="0.1857" stop-color="#9636ea"/><stop offset="0.2785" stop-color="#9636ea"/><stop offset="0.2785" stop-color="#d77fd8"/><stop offset="0.3008" stop-color="#d77fd8"/><stop offset="0.3008" stop-color="#e07c5c"/><stop offset="0.3862" stop-color="#e07c5c"/><stop offset="0.3862" stop-color="#5a2a0c"/><stop offset="0.4530" stop-color="#5a2a0c"/><stop offset="0.4530" stop-color="#d6386e"/><stop offset="1.0000" stop-color="#d6386e"/></linearGradient><linearGradient id="gr16" gradientUnits="userSpaceOnUse" x1="188.1" y1="0" x2="302.5" y2="0"><stop offset="0.0000" stop-color="#828282"/><stop offset="0.1066" stop-color="#828282"/><stop offset="0.1066" stop-color="#97b5a6"/><stop offset="0.1557" stop-color="#97b5a6"/><stop offset="0.1557" stop-color="#4470de"/><stop offset="0.2049" stop-color="#4470de"/><stop offset="0.2049" stop-color="#3fa83f"/><stop offset="0.3197" stop-color="#3fa83f"/><stop offset="0.3197" stop-color="#c9d038"/><stop offset="0.3361" stop-color="#c9d038"/><stop offset="0.3361" stop-color="#2ad3a2"/><stop offset="0.3770" stop-color="#2ad3a2"/><stop offset="0.3770" stop-color="#aea6cc"/><stop offset="0.4098" stop-color="#aea6cc"/><stop offset="0.4098" stop-color="#9636ea"/><stop offset="0.6148" stop-color="#9636ea"/><stop offset="0.6148" stop-color="#d77fd8"/><stop offset="0.6639" stop-color="#d77fd8"/><stop offset="0.6639" stop-color="#e07c5c"/><stop offset="0.8525" stop-color="#e07c5c"/><stop offset="0.8525" stop-color="#5a2a0c"/><stop offset="1.0000" stop-color="#5a2a0c"/></linearGradient><linearGradient id="gl17" gradientUnits="userSpaceOnUse" x1="59.2" y1="0" x2="174.3" y2="0"><stop offset="0.0000" stop-color="#828282"/><stop offset="0.0157" stop-color="#828282"/><stop offset="0.0157" stop-color="#97b5a6"/><stop offset="0.0313" stop-color="#97b5a6"/><stop offset="0.0313" stop-color="#4470de"/><stop offset="0.0470" stop-color="#4470de"/><stop offset="0.0470" stop-color="#3fa83f"/><stop offset="0.0720" stop-color="#3fa83f"/><stop offset="0.0720" stop-color="#c9d038"/><stop offset="0.0971" stop-color="#c9d038"/><stop offset="0.0971" stop-color="#2ad3a2"/><stop offset="0.1753" stop-color="#2ad3a2"/><stop offset="0.1753" stop-color="#9636ea"/><stop offset="0.2693" stop-color="#9636ea"/><stop offset="0.2693" stop-color="#d77fd8"/><stop offset="0.2975" stop-color="#d77fd8"/><stop offset="0.2975" stop-color="#e07c5c"/><stop offset="0.3476" stop-color="#e07c5c"/><stop offset="0.3476" stop-color="#5a2a0c"/><stop offset="0.3820" stop-color="#5a2a0c"/><stop offset="0.3820" stop-color="#d6386e"/><stop offset="1.0000" stop-color="#d6386e"/></linearGradient><linearGradient id="gr17" gradientUnits="userSpaceOnUse" x1="188.1" y1="0" x2="302.5" y2="0"><stop offset="0.0000" stop-color="#828282"/><stop offset="0.0410" stop-color="#828282"/><stop offset="0.0410" stop-color="#97b5a6"/><stop offset="0.0820" stop-color="#97b5a6"/><stop offset="0.0820" stop-color="#4470de"/><stop offset="0.1230" stop-color="#4470de"/><stop offset="0.1230" stop-color="#3fa83f"/><stop offset="0.1885" stop-color="#3fa83f"/><stop offset="0.1885" stop-color="#c9d038"/><stop offset="0.2541" stop-color="#c9d038"/><stop offset="0.2541" stop-color="#2ad3a2"/><stop offset="0.4590" stop-color="#2ad3a2"/><stop offset="0.4590" stop-color="#9636ea"/><stop offset="0.7049" stop-color="#9636ea"/><stop offset="0.7049" stop-color="#d77fd8"/><stop offset="0.7787" stop-color="#d77fd8"/><stop offset="0.7787" stop-color="#e07c5c"/><stop offset="0.9098" stop-color="#e07c5c"/><stop offset="0.9098" stop-color="#5a2a0c"/><stop offset="1.0000" stop-color="#5a2a0c"/></linearGradient><linearGradient id="gl18" gradientUnits="userSpaceOnUse" x1="59.2" y1="0" x2="174.3" y2="0"><stop offset="0.0000" stop-color="#828282"/><stop offset="0.0141" stop-color="#828282"/><stop offset="0.0141" stop-color="#4470de"/><stop offset="0.0365" stop-color="#4470de"/><stop offset="0.0365" stop-color="#3fa83f"/><stop offset="0.1518" stop-color="#3fa83f"/><stop offset="0.1518" stop-color="#c9d038"/><stop offset="0.1743" stop-color="#c9d038"/><stop offset="0.1743" stop-color="#2ad3a2"/><stop offset="0.2362" stop-color="#2ad3a2"/><stop offset="0.2362" stop-color="#9636ea"/><stop offset="0.3149" stop-color="#9636ea"/><stop offset="0.3149" stop-color="#d77fd8"/><stop offset="0.3261" stop-color="#d77fd8"/><stop offset="0.3261" stop-color="#e07c5c"/><stop offset="0.3289" stop-color="#e07c5c"/><stop offset="0.3289" stop-color="#5a2a0c"/><stop offset="0.3430" stop-color="#5a2a0c"/><stop offset="0.3430" stop-color="#d6386e"/><stop offset="1.0000" stop-color="#d6386e"/></linearGradient><linearGradient id="gr18" gradientUnits="userSpaceOnUse" x1="188.1" y1="0" x2="302.5" y2="0"><stop offset="0.0000" stop-color="#828282"/><stop offset="0.0410" stop-color="#828282"/><stop offset="0.0410" stop-color="#4470de"/><stop offset="0.1066" stop-color="#4470de"/><stop offset="0.1066" stop-color="#3fa83f"/><stop offset="0.4426" stop-color="#3fa83f"/><stop offset="0.4426" stop-color="#c9d038"/><stop offset="0.5082" stop-color="#c9d038"/><stop offset="0.5082" stop-color="#2ad3a2"/><stop offset="0.6885" stop-color="#2ad3a2"/><stop offset="0.6885" stop-color="#9636ea"/><stop offset="0.9180" stop-color="#9636ea"/><stop offset="0.9180" stop-color="#d77fd8"/><stop offset="0.9508" stop-color="#d77fd8"/><stop offset="0.9508" stop-color="#e07c5c"/><stop offset="0.9590" stop-color="#e07c5c"/><stop offset="0.9590" stop-color="#5a2a0c"/><stop offset="1.0000" stop-color="#5a2a0c"/></linearGradient><linearGradient id="gl19" gradientUnits="userSpaceOnUse" x1="59.2" y1="0" x2="174.3" y2="0"><stop offset="0.0000" stop-color="#828282"/><stop offset="0.0188" stop-color="#828282"/><stop offset="0.0188" stop-color="#97b5a6"/><stop offset="0.0375" stop-color="#97b5a6"/><stop offset="0.0375" stop-color="#4470de"/><stop offset="0.0536" stop-color="#4470de"/><stop offset="0.0536" stop-color="#3fa83f"/><stop offset="0.0911" stop-color="#3fa83f"/><stop offset="0.0911" stop-color="#c9d038"/><stop offset="0.1045" stop-color="#c9d038"/><stop offset="0.1045" stop-color="#2ad3a2"/><stop offset="0.1233" stop-color="#2ad3a2"/><stop offset="0.1233" stop-color="#9636ea"/><stop offset="0.2198" stop-color="#9636ea"/><stop offset="0.2198" stop-color="#4c1890"/><stop offset="0.2520" stop-color="#4c1890"/><stop offset="0.2520" stop-color="#d77fd8"/><stop offset="0.2841" stop-color="#d77fd8"/><stop offset="0.2841" stop-color="#e07c5c"/><stop offset="0.3056" stop-color="#e07c5c"/><stop offset="0.3056" stop-color="#5a2a0c"/><stop offset="0.3270" stop-color="#5a2a0c"/><stop offset="0.3270" stop-color="#d6386e"/><stop offset="1.0000" stop-color="#d6386e"/></linearGradient><linearGradient id="gr19" gradientUnits="userSpaceOnUse" x1="188.1" y1="0" x2="302.5" y2="0"><stop offset="0.0000" stop-color="#828282"/><stop offset="0.0574" stop-color="#828282"/><stop offset="0.0574" stop-color="#97b5a6"/><stop offset="0.1148" stop-color="#97b5a6"/><stop offset="0.1148" stop-color="#4470de"/><stop offset="0.1639" stop-color="#4470de"/><stop offset="0.1639" stop-color="#3fa83f"/><stop offset="0.2787" stop-color="#3fa83f"/><stop offset="0.2787" stop-color="#c9d038"/><stop offset="0.3197" stop-color="#c9d038"/><stop offset="0.3197" stop-color="#2ad3a2"/><stop offset="0.3770" stop-color="#2ad3a2"/><stop offset="0.3770" stop-color="#9636ea"/><stop offset="0.6721" stop-color="#9636ea"/><stop offset="0.6721" stop-color="#4c1890"/><stop offset="0.7705" stop-color="#4c1890"/><stop offset="0.7705" stop-color="#d77fd8"/><stop offset="0.8689" stop-color="#d77fd8"/><stop offset="0.8689" stop-color="#e07c5c"/><stop offset="0.9344" stop-color="#e07c5c"/><stop offset="0.9344" stop-color="#5a2a0c"/><stop offset="1.0000" stop-color="#5a2a0c"/></linearGradient><linearGradient id="gl20" gradientUnits="userSpaceOnUse" x1="59.2" y1="0" x2="174.3" y2="0"><stop offset="0.0000" stop-color="#828282"/><stop offset="0.0131" stop-color="#828282"/><stop offset="0.0131" stop-color="#4470de"/><stop offset="0.0183" stop-color="#4470de"/><stop offset="0.0183" stop-color="#3fa83f"/><stop offset="0.0889" stop-color="#3fa83f"/><stop offset="0.0889" stop-color="#c9d038"/><stop offset="0.0941" stop-color="#c9d038"/><stop offset="0.0941" stop-color="#2ad3a2"/><stop offset="0.2249" stop-color="#2ad3a2"/><stop offset="0.2249" stop-color="#9636ea"/><stop offset="0.2615" stop-color="#9636ea"/><stop offset="0.2615" stop-color="#4c1890"/><stop offset="0.2667" stop-color="#4c1890"/><stop offset="0.2667" stop-color="#d77fd8"/><stop offset="0.2824" stop-color="#d77fd8"/><stop offset="0.2824" stop-color="#5a2a0c"/><stop offset="0.3190" stop-color="#5a2a0c"/><stop offset="0.3190" stop-color="#d6386e"/><stop offset="1.0000" stop-color="#d6386e"/></linearGradient><linearGradient id="gr20" gradientUnits="userSpaceOnUse" x1="188.1" y1="0" x2="302.5" y2="0"><stop offset="0.0000" stop-color="#828282"/><stop offset="0.0410" stop-color="#828282"/><stop offset="0.0410" stop-color="#4470de"/><stop offset="0.0574" stop-color="#4470de"/><stop offset="0.0574" stop-color="#3fa83f"/><stop offset="0.2787" stop-color="#3fa83f"/><stop offset="0.2787" stop-color="#c9d038"/><stop offset="0.2951" stop-color="#c9d038"/><stop offset="0.2951" stop-color="#2ad3a2"/><stop offset="0.7049" stop-color="#2ad3a2"/><stop offset="0.7049" stop-color="#9636ea"/><stop offset="0.8197" stop-color="#9636ea"/><stop offset="0.8197" stop-color="#4c1890"/><stop offset="0.8361" stop-color="#4c1890"/><stop offset="0.8361" stop-color="#d77fd8"/><stop offset="0.8852" stop-color="#d77fd8"/><stop offset="0.8852" stop-color="#5a2a0c"/><stop offset="1.0000" stop-color="#5a2a0c"/></linearGradient><linearGradient id="gl21" gradientUnits="userSpaceOnUse" x1="59.2" y1="0" x2="174.3" y2="0"><stop offset="0.0000" stop-color="#828282"/><stop offset="0.0189" stop-color="#828282"/><stop offset="0.0189" stop-color="#97b5a6"/><stop offset="0.0330" stop-color="#97b5a6"/><stop offset="0.0330" stop-color="#3fa83f"/><stop offset="0.0685" stop-color="#3fa83f"/><stop offset="0.0685" stop-color="#9636ea"/><stop offset="0.2077" stop-color="#9636ea"/><stop offset="0.2077" stop-color="#4c1890"/><stop offset="0.2668" stop-color="#4c1890"/><stop offset="0.2668" stop-color="#e07c5c"/><stop offset="0.2762" stop-color="#e07c5c"/><stop offset="0.2762" stop-color="#5a2a0c"/><stop offset="0.2880" stop-color="#5a2a0c"/><stop offset="0.2880" stop-color="#d6386e"/><stop offset="1.0000" stop-color="#d6386e"/></linearGradient><linearGradient id="gr21" gradientUnits="userSpaceOnUse" x1="188.1" y1="0" x2="302.5" y2="0"><stop offset="0.0000" stop-color="#828282"/><stop offset="0.0656" stop-color="#828282"/><stop offset="0.0656" stop-color="#97b5a6"/><stop offset="0.1148" stop-color="#97b5a6"/><stop offset="0.1148" stop-color="#3fa83f"/><stop offset="0.2377" stop-color="#3fa83f"/><stop offset="0.2377" stop-color="#9636ea"/><stop offset="0.7213" stop-color="#9636ea"/><stop offset="0.7213" stop-color="#4c1890"/><stop offset="0.9262" stop-color="#4c1890"/><stop offset="0.9262" stop-color="#e07c5c"/><stop offset="0.9590" stop-color="#e07c5c"/><stop offset="0.9590" stop-color="#5a2a0c"/><stop offset="1.0000" stop-color="#5a2a0c"/></linearGradient><linearGradient id="gl22" gradientUnits="userSpaceOnUse" x1="59.2" y1="0" x2="174.3" y2="0"><stop offset="0.0000" stop-color="#828282"/><stop offset="0.0283" stop-color="#828282"/><stop offset="0.0283" stop-color="#97b5a6"/><stop offset="0.0425" stop-color="#97b5a6"/><stop offset="0.0425" stop-color="#4470de"/><stop offset="0.0543" stop-color="#4470de"/><stop offset="0.0543" stop-color="#aea6cc"/><stop offset="0.0614" stop-color="#aea6cc"/><stop offset="0.0614" stop-color="#9636ea"/><stop offset="0.1322" stop-color="#9636ea"/><stop offset="0.1322" stop-color="#4c1890"/><stop offset="0.1983" stop-color="#4c1890"/><stop offset="0.1983" stop-color="#d77fd8"/><stop offset="0.2054" stop-color="#d77fd8"/><stop offset="0.2054" stop-color="#e07c5c"/><stop offset="0.2266" stop-color="#e07c5c"/><stop offset="0.2266" stop-color="#5a2a0c"/><stop offset="0.2880" stop-color="#5a2a0c"/><stop offset="0.2880" stop-color="#d6386e"/><stop offset="1.0000" stop-color="#d6386e"/></linearGradient><linearGradient id="gr22" gradientUnits="userSpaceOnUse" x1="188.1" y1="0" x2="302.5" y2="0"><stop offset="0.0000" stop-color="#828282"/><stop offset="0.0984" stop-color="#828282"/><stop offset="0.0984" stop-color="#97b5a6"/><stop offset="0.1475" stop-color="#97b5a6"/><stop offset="0.1475" stop-color="#4470de"/><stop offset="0.1885" stop-color="#4470de"/><stop offset="0.1885" stop-color="#aea6cc"/><stop offset="0.2131" stop-color="#aea6cc"/><stop offset="0.2131" stop-color="#9636ea"/><stop offset="0.4590" stop-color="#9636ea"/><stop offset="0.4590" stop-color="#4c1890"/><stop offset="0.6885" stop-color="#4c1890"/><stop offset="0.6885" stop-color="#d77fd8"/><stop offset="0.7131" stop-color="#d77fd8"/><stop offset="0.7131" stop-color="#e07c5c"/><stop offset="0.7869" stop-color="#e07c5c"/><stop offset="0.7869" stop-color="#5a2a0c"/><stop offset="1.0000" stop-color="#5a2a0c"/></linearGradient><linearGradient id="gl23" gradientUnits="userSpaceOnUse" x1="59.2" y1="0" x2="174.3" y2="0"><stop offset="0.0000" stop-color="#828282"/><stop offset="0.0227" stop-color="#828282"/><stop offset="0.0227" stop-color="#97b5a6"/><stop offset="0.0758" stop-color="#97b5a6"/><stop offset="0.0758" stop-color="#4470de"/><stop offset="0.1441" stop-color="#4470de"/><stop offset="0.1441" stop-color="#3fa83f"/><stop offset="0.2957" stop-color="#3fa83f"/><stop offset="0.2957" stop-color="#c9d038"/><stop offset="0.3336" stop-color="#c9d038"/><stop offset="0.3336" stop-color="#2ad3a2"/><stop offset="0.4473" stop-color="#2ad3a2"/><stop offset="0.4473" stop-color="#9636ea"/><stop offset="0.6975" stop-color="#9636ea"/><stop offset="0.6975" stop-color="#d77fd8"/><stop offset="0.7658" stop-color="#d77fd8"/><stop offset="0.7658" stop-color="#5a2a0c"/><stop offset="0.9250" stop-color="#5a2a0c"/><stop offset="0.9250" stop-color="#d6386e"/><stop offset="1.0000" stop-color="#d6386e"/></linearGradient><linearGradient id="gr23" gradientUnits="userSpaceOnUse" x1="188.1" y1="0" x2="302.5" y2="0"><stop offset="0.0000" stop-color="#828282"/><stop offset="0.0246" stop-color="#828282"/><stop offset="0.0246" stop-color="#97b5a6"/><stop offset="0.0820" stop-color="#97b5a6"/><stop offset="0.0820" stop-color="#4470de"/><stop offset="0.1557" stop-color="#4470de"/><stop offset="0.1557" stop-color="#3fa83f"/><stop offset="0.3197" stop-color="#3fa83f"/><stop offset="0.3197" stop-color="#c9d038"/><stop offset="0.3607" stop-color="#c9d038"/><stop offset="0.3607" stop-color="#2ad3a2"/><stop offset="0.4836" stop-color="#2ad3a2"/><stop offset="0.4836" stop-color="#9636ea"/><stop offset="0.7541" stop-color="#9636ea"/><stop offset="0.7541" stop-color="#d77fd8"/><stop offset="0.8279" stop-color="#d77fd8"/><stop offset="0.8279" stop-color="#5a2a0c"/><stop offset="1.0000" stop-color="#5a2a0c"/></linearGradient><linearGradient id="gl24" gradientUnits="userSpaceOnUse" x1="59.2" y1="0" x2="174.3" y2="0"><stop offset="0.0000" stop-color="#828282"/><stop offset="0.0373" stop-color="#828282"/><stop offset="0.0373" stop-color="#97b5a6"/><stop offset="0.0820" stop-color="#97b5a6"/><stop offset="0.0820" stop-color="#4470de"/><stop offset="0.1341" stop-color="#4470de"/><stop offset="0.1341" stop-color="#3fa83f"/><stop offset="0.2831" stop-color="#3fa83f"/><stop offset="0.2831" stop-color="#c9d038"/><stop offset="0.3129" stop-color="#c9d038"/><stop offset="0.3129" stop-color="#2ad3a2"/><stop offset="0.3725" stop-color="#2ad3a2"/><stop offset="0.3725" stop-color="#aea6cc"/><stop offset="0.4023" stop-color="#aea6cc"/><stop offset="0.4023" stop-color="#9636ea"/><stop offset="0.5588" stop-color="#9636ea"/><stop offset="0.5588" stop-color="#d77fd8"/><stop offset="0.6482" stop-color="#d77fd8"/><stop offset="0.6482" stop-color="#e07c5c"/><stop offset="0.7525" stop-color="#e07c5c"/><stop offset="0.7525" stop-color="#5a2a0c"/><stop offset="0.9090" stop-color="#5a2a0c"/><stop offset="0.9090" stop-color="#d6386e"/><stop offset="1.0000" stop-color="#d6386e"/></linearGradient><linearGradient id="gr24" gradientUnits="userSpaceOnUse" x1="188.1" y1="0" x2="302.5" y2="0"><stop offset="0.0000" stop-color="#828282"/><stop offset="0.0410" stop-color="#828282"/><stop offset="0.0410" stop-color="#97b5a6"/><stop offset="0.0902" stop-color="#97b5a6"/><stop offset="0.0902" stop-color="#4470de"/><stop offset="0.1475" stop-color="#4470de"/><stop offset="0.1475" stop-color="#3fa83f"/><stop offset="0.3115" stop-color="#3fa83f"/><stop offset="0.3115" stop-color="#c9d038"/><stop offset="0.3443" stop-color="#c9d038"/><stop offset="0.3443" stop-color="#2ad3a2"/><stop offset="0.4098" stop-color="#2ad3a2"/><stop offset="0.4098" stop-color="#aea6cc"/><stop offset="0.4426" stop-color="#aea6cc"/><stop offset="0.4426" stop-color="#9636ea"/><stop offset="0.6148" stop-color="#9636ea"/><stop offset="0.6148" stop-color="#d77fd8"/><stop offset="0.7131" stop-color="#d77fd8"/><stop offset="0.7131" stop-color="#e07c5c"/><stop offset="0.8279" stop-color="#e07c5c"/><stop offset="0.8279" stop-color="#5a2a0c"/><stop offset="1.0000" stop-color="#5a2a0c"/></linearGradient><linearGradient id="gl25" gradientUnits="userSpaceOnUse" x1="59.2" y1="0" x2="174.3" y2="0"><stop offset="0.0000" stop-color="#828282"/><stop offset="0.0366" stop-color="#828282"/><stop offset="0.0366" stop-color="#97b5a6"/><stop offset="0.0732" stop-color="#97b5a6"/><stop offset="0.0732" stop-color="#4470de"/><stop offset="0.0952" stop-color="#4470de"/><stop offset="0.0952" stop-color="#3fa83f"/><stop offset="0.3440" stop-color="#3fa83f"/><stop offset="0.3440" stop-color="#c9d038"/><stop offset="0.3733" stop-color="#c9d038"/><stop offset="0.3733" stop-color="#2ad3a2"/><stop offset="0.5856" stop-color="#2ad3a2"/><stop offset="0.5856" stop-color="#aea6cc"/><stop offset="0.6075" stop-color="#aea6cc"/><stop offset="0.6075" stop-color="#9636ea"/><stop offset="0.7612" stop-color="#9636ea"/><stop offset="0.7612" stop-color="#4c1890"/><stop offset="0.7759" stop-color="#4c1890"/><stop offset="0.7759" stop-color="#d77fd8"/><stop offset="0.7978" stop-color="#d77fd8"/><stop offset="0.7978" stop-color="#5a2a0c"/><stop offset="0.8930" stop-color="#5a2a0c"/><stop offset="0.8930" stop-color="#d6386e"/><stop offset="1.0000" stop-color="#d6386e"/></linearGradient><linearGradient id="gr25" gradientUnits="userSpaceOnUse" x1="188.1" y1="0" x2="302.5" y2="0"><stop offset="0.0000" stop-color="#828282"/><stop offset="0.0410" stop-color="#828282"/><stop offset="0.0410" stop-color="#97b5a6"/><stop offset="0.0820" stop-color="#97b5a6"/><stop offset="0.0820" stop-color="#4470de"/><stop offset="0.1066" stop-color="#4470de"/><stop offset="0.1066" stop-color="#3fa83f"/><stop offset="0.3852" stop-color="#3fa83f"/><stop offset="0.3852" stop-color="#c9d038"/><stop offset="0.4180" stop-color="#c9d038"/><stop offset="0.4180" stop-color="#2ad3a2"/><stop offset="0.6557" stop-color="#2ad3a2"/><stop offset="0.6557" stop-color="#aea6cc"/><stop offset="0.6803" stop-color="#aea6cc"/><stop offset="0.6803" stop-color="#9636ea"/><stop offset="0.8525" stop-color="#9636ea"/><stop offset="0.8525" stop-color="#4c1890"/><stop offset="0.8689" stop-color="#4c1890"/><stop offset="0.8689" stop-color="#d77fd8"/><stop offset="0.8934" stop-color="#d77fd8"/><stop offset="0.8934" stop-color="#5a2a0c"/><stop offset="1.0000" stop-color="#5a2a0c"/></linearGradient><linearGradient id="gl26" gradientUnits="userSpaceOnUse" x1="59.2" y1="0" x2="174.3" y2="0"><stop offset="0.0000" stop-color="#828282"/><stop offset="0.0359" stop-color="#828282"/><stop offset="0.0359" stop-color="#4470de"/><stop offset="0.0575" stop-color="#4470de"/><stop offset="0.0575" stop-color="#3fa83f"/><stop offset="0.1581" stop-color="#3fa83f"/><stop offset="0.1581" stop-color="#c9d038"/><stop offset="0.1797" stop-color="#c9d038"/><stop offset="0.1797" stop-color="#2ad3a2"/><stop offset="0.2300" stop-color="#2ad3a2"/><stop offset="0.2300" stop-color="#aea6cc"/><stop offset="0.2516" stop-color="#aea6cc"/><stop offset="0.2516" stop-color="#9636ea"/><stop offset="0.5032" stop-color="#9636ea"/><stop offset="0.5032" stop-color="#4c1890"/><stop offset="0.5320" stop-color="#4c1890"/><stop offset="0.5320" stop-color="#d77fd8"/><stop offset="0.5607" stop-color="#d77fd8"/><stop offset="0.5607" stop-color="#e07c5c"/><stop offset="0.7548" stop-color="#e07c5c"/><stop offset="0.7548" stop-color="#5a2a0c"/><stop offset="0.8770" stop-color="#5a2a0c"/><stop offset="0.8770" stop-color="#d6386e"/><stop offset="1.0000" stop-color="#d6386e"/></linearGradient><linearGradient id="gr26" gradientUnits="userSpaceOnUse" x1="188.1" y1="0" x2="302.5" y2="0"><stop offset="0.0000" stop-color="#828282"/><stop offset="0.0410" stop-color="#828282"/><stop offset="0.0410" stop-color="#4470de"/><stop offset="0.0656" stop-color="#4470de"/><stop offset="0.0656" stop-color="#3fa83f"/><stop offset="0.1803" stop-color="#3fa83f"/><stop offset="0.1803" stop-color="#c9d038"/><stop offset="0.2049" stop-color="#c9d038"/><stop offset="0.2049" stop-color="#2ad3a2"/><stop offset="0.2623" stop-color="#2ad3a2"/><stop offset="0.2623" stop-color="#aea6cc"/><stop offset="0.2869" stop-color="#aea6cc"/><stop offset="0.2869" stop-color="#9636ea"/><stop offset="0.5738" stop-color="#9636ea"/><stop offset="0.5738" stop-color="#4c1890"/><stop offset="0.6066" stop-color="#4c1890"/><stop offset="0.6066" stop-color="#d77fd8"/><stop offset="0.6393" stop-color="#d77fd8"/><stop offset="0.6393" stop-color="#e07c5c"/><stop offset="0.8607" stop-color="#e07c5c"/><stop offset="0.8607" stop-color="#5a2a0c"/><stop offset="1.0000" stop-color="#5a2a0c"/></linearGradient><linearGradient id="gl27" gradientUnits="userSpaceOnUse" x1="59.2" y1="0" x2="174.3" y2="0"><stop offset="0.0000" stop-color="#828282"/><stop offset="0.0539" stop-color="#828282"/><stop offset="0.0539" stop-color="#97b5a6"/><stop offset="0.0809" stop-color="#97b5a6"/><stop offset="0.0809" stop-color="#4470de"/><stop offset="0.1078" stop-color="#4470de"/><stop offset="0.1078" stop-color="#3fa83f"/><stop offset="0.2426" stop-color="#3fa83f"/><stop offset="0.2426" stop-color="#c9d038"/><stop offset="0.2560" stop-color="#c9d038"/><stop offset="0.2560" stop-color="#2ad3a2"/><stop offset="0.3571" stop-color="#2ad3a2"/><stop offset="0.3571" stop-color="#9636ea"/><stop offset="0.5525" stop-color="#9636ea"/><stop offset="0.5525" stop-color="#4c1890"/><stop offset="0.5929" stop-color="#4c1890"/><stop offset="0.5929" stop-color="#d77fd8"/><stop offset="0.6805" stop-color="#d77fd8"/><stop offset="0.6805" stop-color="#e07c5c"/><stop offset="0.7209" stop-color="#e07c5c"/><stop offset="0.7209" stop-color="#5a2a0c"/><stop offset="0.8220" stop-color="#5a2a0c"/><stop offset="0.8220" stop-color="#d6386e"/><stop offset="1.0000" stop-color="#d6386e"/></linearGradient><linearGradient id="gr27" gradientUnits="userSpaceOnUse" x1="188.1" y1="0" x2="302.5" y2="0"><stop offset="0.0000" stop-color="#828282"/><stop offset="0.0656" stop-color="#828282"/><stop offset="0.0656" stop-color="#97b5a6"/><stop offset="0.0984" stop-color="#97b5a6"/><stop offset="0.0984" stop-color="#4470de"/><stop offset="0.1311" stop-color="#4470de"/><stop offset="0.1311" stop-color="#3fa83f"/><stop offset="0.2951" stop-color="#3fa83f"/><stop offset="0.2951" stop-color="#c9d038"/><stop offset="0.3115" stop-color="#c9d038"/><stop offset="0.3115" stop-color="#2ad3a2"/><stop offset="0.4344" stop-color="#2ad3a2"/><stop offset="0.4344" stop-color="#9636ea"/><stop offset="0.6721" stop-color="#9636ea"/><stop offset="0.6721" stop-color="#4c1890"/><stop offset="0.7213" stop-color="#4c1890"/><stop offset="0.7213" stop-color="#d77fd8"/><stop offset="0.8279" stop-color="#d77fd8"/><stop offset="0.8279" stop-color="#e07c5c"/><stop offset="0.8770" stop-color="#e07c5c"/><stop offset="0.8770" stop-color="#5a2a0c"/><stop offset="1.0000" stop-color="#5a2a0c"/></linearGradient><linearGradient id="gl28" gradientUnits="userSpaceOnUse" x1="59.2" y1="0" x2="174.3" y2="0"><stop offset="0.0000" stop-color="#828282"/><stop offset="0.0136" stop-color="#828282"/><stop offset="0.0136" stop-color="#4470de"/><stop offset="0.0340" stop-color="#4470de"/><stop offset="0.0340" stop-color="#3fa83f"/><stop offset="0.2245" stop-color="#3fa83f"/><stop offset="0.2245" stop-color="#c9d038"/><stop offset="0.2381" stop-color="#c9d038"/><stop offset="0.2381" stop-color="#2ad3a2"/><stop offset="0.4422" stop-color="#2ad3a2"/><stop offset="0.4422" stop-color="#aea6cc"/><stop offset="0.4558" stop-color="#aea6cc"/><stop offset="0.4558" stop-color="#9636ea"/><stop offset="0.7280" stop-color="#9636ea"/><stop offset="0.7280" stop-color="#e07c5c"/><stop offset="0.7892" stop-color="#e07c5c"/><stop offset="0.7892" stop-color="#5a2a0c"/><stop offset="0.8300" stop-color="#5a2a0c"/><stop offset="0.8300" stop-color="#d6386e"/><stop offset="1.0000" stop-color="#d6386e"/></linearGradient><linearGradient id="gr28" gradientUnits="userSpaceOnUse" x1="188.1" y1="0" x2="302.5" y2="0"><stop offset="0.0000" stop-color="#828282"/><stop offset="0.0164" stop-color="#828282"/><stop offset="0.0164" stop-color="#4470de"/><stop offset="0.0410" stop-color="#4470de"/><stop offset="0.0410" stop-color="#3fa83f"/><stop offset="0.2705" stop-color="#3fa83f"/><stop offset="0.2705" stop-color="#c9d038"/><stop offset="0.2869" stop-color="#c9d038"/><stop offset="0.2869" stop-color="#2ad3a2"/><stop offset="0.5328" stop-color="#2ad3a2"/><stop offset="0.5328" stop-color="#aea6cc"/><stop offset="0.5492" stop-color="#aea6cc"/><stop offset="0.5492" stop-color="#9636ea"/><stop offset="0.8770" stop-color="#9636ea"/><stop offset="0.8770" stop-color="#e07c5c"/><stop offset="0.9508" stop-color="#e07c5c"/><stop offset="0.9508" stop-color="#5a2a0c"/><stop offset="1.0000" stop-color="#5a2a0c"/></linearGradient><linearGradient id="gl29" gradientUnits="userSpaceOnUse" x1="59.2" y1="0" x2="174.3" y2="0"><stop offset="0.0000" stop-color="#828282"/><stop offset="0.0529" stop-color="#828282"/><stop offset="0.0529" stop-color="#4470de"/><stop offset="0.1058" stop-color="#4470de"/><stop offset="0.1058" stop-color="#3fa83f"/><stop offset="0.2315" stop-color="#3fa83f"/><stop offset="0.2315" stop-color="#2ad3a2"/><stop offset="0.2646" stop-color="#2ad3a2"/><stop offset="0.2646" stop-color="#9636ea"/><stop offset="0.3638" stop-color="#9636ea"/><stop offset="0.3638" stop-color="#4c1890"/><stop offset="0.4035" stop-color="#4c1890"/><stop offset="0.4035" stop-color="#d77fd8"/><stop offset="0.5887" stop-color="#d77fd8"/><stop offset="0.5887" stop-color="#e07c5c"/><stop offset="0.6747" stop-color="#e07c5c"/><stop offset="0.6747" stop-color="#5a2a0c"/><stop offset="0.8070" stop-color="#5a2a0c"/><stop offset="0.8070" stop-color="#d6386e"/><stop offset="1.0000" stop-color="#d6386e"/></linearGradient><linearGradient id="gr29" gradientUnits="userSpaceOnUse" x1="188.1" y1="0" x2="302.5" y2="0"><stop offset="0.0000" stop-color="#828282"/><stop offset="0.0656" stop-color="#828282"/><stop offset="0.0656" stop-color="#4470de"/><stop offset="0.1311" stop-color="#4470de"/><stop offset="0.1311" stop-color="#3fa83f"/><stop offset="0.2869" stop-color="#3fa83f"/><stop offset="0.2869" stop-color="#2ad3a2"/><stop offset="0.3279" stop-color="#2ad3a2"/><stop offset="0.3279" stop-color="#9636ea"/><stop offset="0.4508" stop-color="#9636ea"/><stop offset="0.4508" stop-color="#4c1890"/><stop offset="0.5000" stop-color="#4c1890"/><stop offset="0.5000" stop-color="#d77fd8"/><stop offset="0.7295" stop-color="#d77fd8"/><stop offset="0.7295" stop-color="#e07c5c"/><stop offset="0.8361" stop-color="#e07c5c"/><stop offset="0.8361" stop-color="#5a2a0c"/><stop offset="1.0000" stop-color="#5a2a0c"/></linearGradient><linearGradient id="gl30" gradientUnits="userSpaceOnUse" x1="59.2" y1="0" x2="174.3" y2="0"><stop offset="0.0000" stop-color="#828282"/><stop offset="0.0397" stop-color="#828282"/><stop offset="0.0397" stop-color="#3fa83f"/><stop offset="0.0661" stop-color="#3fa83f"/><stop offset="0.0661" stop-color="#c9d038"/><stop offset="0.0860" stop-color="#c9d038"/><stop offset="0.0860" stop-color="#2ad3a2"/><stop offset="0.1125" stop-color="#2ad3a2"/><stop offset="0.1125" stop-color="#9636ea"/><stop offset="0.7805" stop-color="#9636ea"/><stop offset="0.7805" stop-color="#5a2a0c"/><stop offset="0.8070" stop-color="#5a2a0c"/><stop offset="0.8070" stop-color="#d6386e"/><stop offset="1.0000" stop-color="#d6386e"/></linearGradient><linearGradient id="gr30" gradientUnits="userSpaceOnUse" x1="188.1" y1="0" x2="302.5" y2="0"><stop offset="0.0000" stop-color="#828282"/><stop offset="0.0492" stop-color="#828282"/><stop offset="0.0492" stop-color="#3fa83f"/><stop offset="0.0820" stop-color="#3fa83f"/><stop offset="0.0820" stop-color="#c9d038"/><stop offset="0.1066" stop-color="#c9d038"/><stop offset="0.1066" stop-color="#2ad3a2"/><stop offset="0.1393" stop-color="#2ad3a2"/><stop offset="0.1393" stop-color="#9636ea"/><stop offset="0.9672" stop-color="#9636ea"/><stop offset="0.9672" stop-color="#5a2a0c"/><stop offset="1.0000" stop-color="#5a2a0c"/></linearGradient><linearGradient id="gl31" gradientUnits="userSpaceOnUse" x1="59.2" y1="0" x2="174.3" y2="0"><stop offset="0.0000" stop-color="#828282"/><stop offset="0.0262" stop-color="#828282"/><stop offset="0.0262" stop-color="#97b5a6"/><stop offset="0.0982" stop-color="#97b5a6"/><stop offset="0.0982" stop-color="#4470de"/><stop offset="0.1637" stop-color="#4470de"/><stop offset="0.1637" stop-color="#3fa83f"/><stop offset="0.2751" stop-color="#3fa83f"/><stop offset="0.2751" stop-color="#c9d038"/><stop offset="0.2947" stop-color="#c9d038"/><stop offset="0.2947" stop-color="#2ad3a2"/><stop offset="0.3864" stop-color="#2ad3a2"/><stop offset="0.3864" stop-color="#aea6cc"/><stop offset="0.4060" stop-color="#aea6cc"/><stop offset="0.4060" stop-color="#9636ea"/><stop offset="0.5174" stop-color="#9636ea"/><stop offset="0.5174" stop-color="#d77fd8"/><stop offset="0.5632" stop-color="#d77fd8"/><stop offset="0.5632" stop-color="#e07c5c"/><stop offset="0.6615" stop-color="#e07c5c"/><stop offset="0.6615" stop-color="#5a2a0c"/><stop offset="0.7990" stop-color="#5a2a0c"/><stop offset="0.7990" stop-color="#d6386e"/><stop offset="1.0000" stop-color="#d6386e"/></linearGradient><linearGradient id="gr31" gradientUnits="userSpaceOnUse" x1="188.1" y1="0" x2="302.5" y2="0"><stop offset="0.0000" stop-color="#828282"/><stop offset="0.0328" stop-color="#828282"/><stop offset="0.0328" stop-color="#97b5a6"/><stop offset="0.1230" stop-color="#97b5a6"/><stop offset="0.1230" stop-color="#4470de"/><stop offset="0.2049" stop-color="#4470de"/><stop offset="0.2049" stop-color="#3fa83f"/><stop offset="0.3443" stop-color="#3fa83f"/><stop offset="0.3443" stop-color="#c9d038"/><stop offset="0.3689" stop-color="#c9d038"/><stop offset="0.3689" stop-color="#2ad3a2"/><stop offset="0.4836" stop-color="#2ad3a2"/><stop offset="0.4836" stop-color="#aea6cc"/><stop offset="0.5082" stop-color="#aea6cc"/><stop offset="0.5082" stop-color="#9636ea"/><stop offset="0.6475" stop-color="#9636ea"/><stop offset="0.6475" stop-color="#d77fd8"/><stop offset="0.7049" stop-color="#d77fd8"/><stop offset="0.7049" stop-color="#e07c5c"/><stop offset="0.8279" stop-color="#e07c5c"/><stop offset="0.8279" stop-color="#5a2a0c"/><stop offset="1.0000" stop-color="#5a2a0c"/></linearGradient><linearGradient id="gl32" gradientUnits="userSpaceOnUse" x1="59.2" y1="0" x2="174.3" y2="0"><stop offset="0.0000" stop-color="#828282"/><stop offset="0.1618" stop-color="#828282"/><stop offset="0.1618" stop-color="#4470de"/><stop offset="0.1929" stop-color="#4470de"/><stop offset="0.1929" stop-color="#3fa83f"/><stop offset="0.3422" stop-color="#3fa83f"/><stop offset="0.3422" stop-color="#2ad3a2"/><stop offset="0.3608" stop-color="#2ad3a2"/><stop offset="0.3608" stop-color="#9636ea"/><stop offset="0.4479" stop-color="#9636ea"/><stop offset="0.4479" stop-color="#d77fd8"/><stop offset="0.5226" stop-color="#d77fd8"/><stop offset="0.5226" stop-color="#e07c5c"/><stop offset="0.5475" stop-color="#e07c5c"/><stop offset="0.5475" stop-color="#5a2a0c"/><stop offset="0.7590" stop-color="#5a2a0c"/><stop offset="0.7590" stop-color="#d6386e"/><stop offset="1.0000" stop-color="#d6386e"/></linearGradient><linearGradient id="gr32" gradientUnits="userSpaceOnUse" x1="188.1" y1="0" x2="302.5" y2="0"><stop offset="0.0000" stop-color="#828282"/><stop offset="0.2131" stop-color="#828282"/><stop offset="0.2131" stop-color="#4470de"/><stop offset="0.2541" stop-color="#4470de"/><stop offset="0.2541" stop-color="#3fa83f"/><stop offset="0.4508" stop-color="#3fa83f"/><stop offset="0.4508" stop-color="#2ad3a2"/><stop offset="0.4754" stop-color="#2ad3a2"/><stop offset="0.4754" stop-color="#9636ea"/><stop offset="0.5902" stop-color="#9636ea"/><stop offset="0.5902" stop-color="#d77fd8"/><stop offset="0.6885" stop-color="#d77fd8"/><stop offset="0.6885" stop-color="#e07c5c"/><stop offset="0.7213" stop-color="#e07c5c"/><stop offset="0.7213" stop-color="#5a2a0c"/><stop offset="1.0000" stop-color="#5a2a0c"/></linearGradient><linearGradient id="gl33" gradientUnits="userSpaceOnUse" x1="59.2" y1="0" x2="174.3" y2="0"><stop offset="0.0000" stop-color="#828282"/><stop offset="0.0185" stop-color="#828282"/><stop offset="0.0185" stop-color="#97b5a6"/><stop offset="0.0801" stop-color="#97b5a6"/><stop offset="0.0801" stop-color="#4470de"/><stop offset="0.1233" stop-color="#4470de"/><stop offset="0.1233" stop-color="#3fa83f"/><stop offset="0.2959" stop-color="#3fa83f"/><stop offset="0.2959" stop-color="#c9d038"/><stop offset="0.3575" stop-color="#c9d038"/><stop offset="0.3575" stop-color="#2ad3a2"/><stop offset="0.4500" stop-color="#2ad3a2"/><stop offset="0.4500" stop-color="#aea6cc"/><stop offset="0.4746" stop-color="#aea6cc"/><stop offset="0.4746" stop-color="#9636ea"/><stop offset="0.6226" stop-color="#9636ea"/><stop offset="0.6226" stop-color="#d77fd8"/><stop offset="0.6534" stop-color="#d77fd8"/><stop offset="0.6534" stop-color="#e07c5c"/><stop offset="0.6965" stop-color="#e07c5c"/><stop offset="0.6965" stop-color="#5a2a0c"/><stop offset="0.7520" stop-color="#5a2a0c"/><stop offset="0.7520" stop-color="#d6386e"/><stop offset="1.0000" stop-color="#d6386e"/></linearGradient><linearGradient id="gr33" gradientUnits="userSpaceOnUse" x1="188.1" y1="0" x2="302.5" y2="0"><stop offset="0.0000" stop-color="#828282"/><stop offset="0.0246" stop-color="#828282"/><stop offset="0.0246" stop-color="#97b5a6"/><stop offset="0.1066" stop-color="#97b5a6"/><stop offset="0.1066" stop-color="#4470de"/><stop offset="0.1639" stop-color="#4470de"/><stop offset="0.1639" stop-color="#3fa83f"/><stop offset="0.3934" stop-color="#3fa83f"/><stop offset="0.3934" stop-color="#c9d038"/><stop offset="0.4754" stop-color="#c9d038"/><stop offset="0.4754" stop-color="#2ad3a2"/><stop offset="0.5984" stop-color="#2ad3a2"/><stop offset="0.5984" stop-color="#aea6cc"/><stop offset="0.6311" stop-color="#aea6cc"/><stop offset="0.6311" stop-color="#9636ea"/><stop offset="0.8279" stop-color="#9636ea"/><stop offset="0.8279" stop-color="#d77fd8"/><stop offset="0.8689" stop-color="#d77fd8"/><stop offset="0.8689" stop-color="#e07c5c"/><stop offset="0.9262" stop-color="#e07c5c"/><stop offset="0.9262" stop-color="#5a2a0c"/><stop offset="1.0000" stop-color="#5a2a0c"/></linearGradient><linearGradient id="gl34" gradientUnits="userSpaceOnUse" x1="59.2" y1="0" x2="174.3" y2="0"><stop offset="0.0000" stop-color="#828282"/><stop offset="0.0123" stop-color="#828282"/><stop offset="0.0123" stop-color="#97b5a6"/><stop offset="0.0925" stop-color="#97b5a6"/><stop offset="0.0925" stop-color="#46a6e4"/><stop offset="0.1726" stop-color="#46a6e4"/><stop offset="0.1726" stop-color="#3fa83f"/><stop offset="0.2281" stop-color="#3fa83f"/><stop offset="0.2281" stop-color="#c9d038"/><stop offset="0.2712" stop-color="#c9d038"/><stop offset="0.2712" stop-color="#2ad3a2"/><stop offset="0.3205" stop-color="#2ad3a2"/><stop offset="0.3205" stop-color="#9636ea"/><stop offset="0.4993" stop-color="#9636ea"/><stop offset="0.4993" stop-color="#d77fd8"/><stop offset="0.5363" stop-color="#d77fd8"/><stop offset="0.5363" stop-color="#e07c5c"/><stop offset="0.7027" stop-color="#e07c5c"/><stop offset="0.7027" stop-color="#5a2a0c"/><stop offset="0.7520" stop-color="#5a2a0c"/><stop offset="0.7520" stop-color="#d6386e"/><stop offset="1.0000" stop-color="#d6386e"/></linearGradient><linearGradient id="gr34" gradientUnits="userSpaceOnUse" x1="188.1" y1="0" x2="302.5" y2="0"><stop offset="0.0000" stop-color="#828282"/><stop offset="0.0164" stop-color="#828282"/><stop offset="0.0164" stop-color="#97b5a6"/><stop offset="0.1230" stop-color="#97b5a6"/><stop offset="0.1230" stop-color="#46a6e4"/><stop offset="0.2295" stop-color="#46a6e4"/><stop offset="0.2295" stop-color="#3fa83f"/><stop offset="0.3033" stop-color="#3fa83f"/><stop offset="0.3033" stop-color="#c9d038"/><stop offset="0.3607" stop-color="#c9d038"/><stop offset="0.3607" stop-color="#2ad3a2"/><stop offset="0.4262" stop-color="#2ad3a2"/><stop offset="0.4262" stop-color="#9636ea"/><stop offset="0.6639" stop-color="#9636ea"/><stop offset="0.6639" stop-color="#d77fd8"/><stop offset="0.7131" stop-color="#d77fd8"/><stop offset="0.7131" stop-color="#e07c5c"/><stop offset="0.9344" stop-color="#e07c5c"/><stop offset="0.9344" stop-color="#5a2a0c"/><stop offset="1.0000" stop-color="#5a2a0c"/></linearGradient><linearGradient id="gl35" gradientUnits="userSpaceOnUse" x1="59.2" y1="0" x2="174.3" y2="0"><stop offset="0.0000" stop-color="#828282"/><stop offset="0.0370" stop-color="#828282"/><stop offset="0.0370" stop-color="#3fa83f"/><stop offset="0.0616" stop-color="#3fa83f"/><stop offset="0.0616" stop-color="#aea6cc"/><stop offset="0.0740" stop-color="#aea6cc"/><stop offset="0.0740" stop-color="#9636ea"/><stop offset="0.1726" stop-color="#9636ea"/><stop offset="0.1726" stop-color="#4c1890"/><stop offset="0.2527" stop-color="#4c1890"/><stop offset="0.2527" stop-color="#d77fd8"/><stop offset="0.3390" stop-color="#d77fd8"/><stop offset="0.3390" stop-color="#e07c5c"/><stop offset="0.4623" stop-color="#e07c5c"/><stop offset="0.4623" stop-color="#5a2a0c"/><stop offset="0.7520" stop-color="#5a2a0c"/><stop offset="0.7520" stop-color="#d6386e"/><stop offset="1.0000" stop-color="#d6386e"/></linearGradient><linearGradient id="gr35" gradientUnits="userSpaceOnUse" x1="188.1" y1="0" x2="302.5" y2="0"><stop offset="0.0000" stop-color="#828282"/><stop offset="0.0492" stop-color="#828282"/><stop offset="0.0492" stop-color="#3fa83f"/><stop offset="0.0820" stop-color="#3fa83f"/><stop offset="0.0820" stop-color="#aea6cc"/><stop offset="0.0984" stop-color="#aea6cc"/><stop offset="0.0984" stop-color="#9636ea"/><stop offset="0.2295" stop-color="#9636ea"/><stop offset="0.2295" stop-color="#4c1890"/><stop offset="0.3361" stop-color="#4c1890"/><stop offset="0.3361" stop-color="#d77fd8"/><stop offset="0.4508" stop-color="#d77fd8"/><stop offset="0.4508" stop-color="#e07c5c"/><stop offset="0.6148" stop-color="#e07c5c"/><stop offset="0.6148" stop-color="#5a2a0c"/><stop offset="1.0000" stop-color="#5a2a0c"/></linearGradient><linearGradient id="gl36" gradientUnits="userSpaceOnUse" x1="59.2" y1="0" x2="174.3" y2="0"><stop offset="0.0000" stop-color="#828282"/><stop offset="0.0169" stop-color="#828282"/><stop offset="0.0169" stop-color="#97b5a6"/><stop offset="0.0847" stop-color="#97b5a6"/><stop offset="0.0847" stop-color="#4470de"/><stop offset="0.1130" stop-color="#4470de"/><stop offset="0.1130" stop-color="#3fa83f"/><stop offset="0.1864" stop-color="#3fa83f"/><stop offset="0.1864" stop-color="#c9d038"/><stop offset="0.2033" stop-color="#c9d038"/><stop offset="0.2033" stop-color="#2ad3a2"/><stop offset="0.2598" stop-color="#2ad3a2"/><stop offset="0.2598" stop-color="#aea6cc"/><stop offset="0.2824" stop-color="#aea6cc"/><stop offset="0.2824" stop-color="#9636ea"/><stop offset="0.4462" stop-color="#9636ea"/><stop offset="0.4462" stop-color="#4c1890"/><stop offset="0.6099" stop-color="#4c1890"/><stop offset="0.6099" stop-color="#d77fd8"/><stop offset="0.6269" stop-color="#d77fd8"/><stop offset="0.6269" stop-color="#e07c5c"/><stop offset="0.6551" stop-color="#e07c5c"/><stop offset="0.6551" stop-color="#5a2a0c"/><stop offset="0.6890" stop-color="#5a2a0c"/><stop offset="0.6890" stop-color="#d6386e"/><stop offset="1.0000" stop-color="#d6386e"/></linearGradient><linearGradient id="gr36" gradientUnits="userSpaceOnUse" x1="188.1" y1="0" x2="302.5" y2="0"><stop offset="0.0000" stop-color="#828282"/><stop offset="0.0246" stop-color="#828282"/><stop offset="0.0246" stop-color="#97b5a6"/><stop offset="0.1230" stop-color="#97b5a6"/><stop offset="0.1230" stop-color="#4470de"/><stop offset="0.1639" stop-color="#4470de"/><stop offset="0.1639" stop-color="#3fa83f"/><stop offset="0.2705" stop-color="#3fa83f"/><stop offset="0.2705" stop-color="#c9d038"/><stop offset="0.2951" stop-color="#c9d038"/><stop offset="0.2951" stop-color="#2ad3a2"/><stop offset="0.3770" stop-color="#2ad3a2"/><stop offset="0.3770" stop-color="#aea6cc"/><stop offset="0.4098" stop-color="#aea6cc"/><stop offset="0.4098" stop-color="#9636ea"/><stop offset="0.6475" stop-color="#9636ea"/><stop offset="0.6475" stop-color="#4c1890"/><stop offset="0.8852" stop-color="#4c1890"/><stop offset="0.8852" stop-color="#d77fd8"/><stop offset="0.9098" stop-color="#d77fd8"/><stop offset="0.9098" stop-color="#e07c5c"/><stop offset="0.9508" stop-color="#e07c5c"/><stop offset="0.9508" stop-color="#5a2a0c"/><stop offset="1.0000" stop-color="#5a2a0c"/></linearGradient><linearGradient id="gl37" gradientUnits="userSpaceOnUse" x1="59.2" y1="0" x2="174.3" y2="0"><stop offset="0.0000" stop-color="#828282"/><stop offset="0.0717" stop-color="#828282"/><stop offset="0.0717" stop-color="#97b5a6"/><stop offset="0.1048" stop-color="#97b5a6"/><stop offset="0.1048" stop-color="#3fa83f"/><stop offset="0.1655" stop-color="#3fa83f"/><stop offset="0.1655" stop-color="#c9d038"/><stop offset="0.2041" stop-color="#c9d038"/><stop offset="0.2041" stop-color="#2ad3a2"/><stop offset="0.2372" stop-color="#2ad3a2"/><stop offset="0.2372" stop-color="#aea6cc"/><stop offset="0.2648" stop-color="#aea6cc"/><stop offset="0.2648" stop-color="#9636ea"/><stop offset="0.4358" stop-color="#9636ea"/><stop offset="0.4358" stop-color="#d77fd8"/><stop offset="0.4744" stop-color="#d77fd8"/><stop offset="0.4744" stop-color="#e07c5c"/><stop offset="0.5516" stop-color="#e07c5c"/><stop offset="0.5516" stop-color="#5a2a0c"/><stop offset="0.6730" stop-color="#5a2a0c"/><stop offset="0.6730" stop-color="#d6386e"/><stop offset="1.0000" stop-color="#d6386e"/></linearGradient><linearGradient id="gr37" gradientUnits="userSpaceOnUse" x1="188.1" y1="0" x2="302.5" y2="0"><stop offset="0.0000" stop-color="#828282"/><stop offset="0.1066" stop-color="#828282"/><stop offset="0.1066" stop-color="#97b5a6"/><stop offset="0.1557" stop-color="#97b5a6"/><stop offset="0.1557" stop-color="#3fa83f"/><stop offset="0.2459" stop-color="#3fa83f"/><stop offset="0.2459" stop-color="#c9d038"/><stop offset="0.3033" stop-color="#c9d038"/><stop offset="0.3033" stop-color="#2ad3a2"/><stop offset="0.3525" stop-color="#2ad3a2"/><stop offset="0.3525" stop-color="#aea6cc"/><stop offset="0.3934" stop-color="#aea6cc"/><stop offset="0.3934" stop-color="#9636ea"/><stop offset="0.6475" stop-color="#9636ea"/><stop offset="0.6475" stop-color="#d77fd8"/><stop offset="0.7049" stop-color="#d77fd8"/><stop offset="0.7049" stop-color="#e07c5c"/><stop offset="0.8197" stop-color="#e07c5c"/><stop offset="0.8197" stop-color="#5a2a0c"/><stop offset="1.0000" stop-color="#5a2a0c"/></linearGradient><linearGradient id="gl38" gradientUnits="userSpaceOnUse" x1="59.2" y1="0" x2="174.3" y2="0"><stop offset="0.0000" stop-color="#828282"/><stop offset="0.0165" stop-color="#828282"/><stop offset="0.0165" stop-color="#97b5a6"/><stop offset="0.0827" stop-color="#97b5a6"/><stop offset="0.0827" stop-color="#4470de"/><stop offset="0.1103" stop-color="#4470de"/><stop offset="0.1103" stop-color="#3fa83f"/><stop offset="0.1324" stop-color="#3fa83f"/><stop offset="0.1324" stop-color="#2ad3a2"/><stop offset="0.2096" stop-color="#2ad3a2"/><stop offset="0.2096" stop-color="#9636ea"/><stop offset="0.3365" stop-color="#9636ea"/><stop offset="0.3365" stop-color="#4c1890"/><stop offset="0.5351" stop-color="#4c1890"/><stop offset="0.5351" stop-color="#d77fd8"/><stop offset="0.5627" stop-color="#d77fd8"/><stop offset="0.5627" stop-color="#e07c5c"/><stop offset="0.6399" stop-color="#e07c5c"/><stop offset="0.6399" stop-color="#5a2a0c"/><stop offset="0.6730" stop-color="#5a2a0c"/><stop offset="0.6730" stop-color="#d6386e"/><stop offset="1.0000" stop-color="#d6386e"/></linearGradient><linearGradient id="gr38" gradientUnits="userSpaceOnUse" x1="188.1" y1="0" x2="302.5" y2="0"><stop offset="0.0000" stop-color="#828282"/><stop offset="0.0246" stop-color="#828282"/><stop offset="0.0246" stop-color="#97b5a6"/><stop offset="0.1230" stop-color="#97b5a6"/><stop offset="0.1230" stop-color="#4470de"/><stop offset="0.1639" stop-color="#4470de"/><stop offset="0.1639" stop-color="#3fa83f"/><stop offset="0.1967" stop-color="#3fa83f"/><stop offset="0.1967" stop-color="#2ad3a2"/><stop offset="0.3115" stop-color="#2ad3a2"/><stop offset="0.3115" stop-color="#9636ea"/><stop offset="0.5000" stop-color="#9636ea"/><stop offset="0.5000" stop-color="#4c1890"/><stop offset="0.7951" stop-color="#4c1890"/><stop offset="0.7951" stop-color="#d77fd8"/><stop offset="0.8361" stop-color="#d77fd8"/><stop offset="0.8361" stop-color="#e07c5c"/><stop offset="0.9508" stop-color="#e07c5c"/><stop offset="0.9508" stop-color="#5a2a0c"/><stop offset="1.0000" stop-color="#5a2a0c"/></linearGradient><linearGradient id="gl39" gradientUnits="userSpaceOnUse" x1="59.2" y1="0" x2="174.3" y2="0"><stop offset="0.0000" stop-color="#828282"/><stop offset="0.0300" stop-color="#828282"/><stop offset="0.0300" stop-color="#97b5a6"/><stop offset="0.0850" stop-color="#97b5a6"/><stop offset="0.0850" stop-color="#46a6e4"/><stop offset="0.1450" stop-color="#46a6e4"/><stop offset="0.1450" stop-color="#3fa83f"/><stop offset="0.2500" stop-color="#3fa83f"/><stop offset="0.2500" stop-color="#c9d038"/><stop offset="0.2850" stop-color="#c9d038"/><stop offset="0.2850" stop-color="#2ad3a2"/><stop offset="0.3350" stop-color="#2ad3a2"/><stop offset="0.3350" stop-color="#9636ea"/><stop offset="0.4650" stop-color="#9636ea"/><stop offset="0.4650" stop-color="#d77fd8"/><stop offset="0.4950" stop-color="#d77fd8"/><stop offset="0.4950" stop-color="#e07c5c"/><stop offset="0.5150" stop-color="#e07c5c"/><stop offset="0.5150" stop-color="#5a2a0c"/><stop offset="0.6100" stop-color="#5a2a0c"/><stop offset="0.6100" stop-color="#d6386e"/><stop offset="1.0000" stop-color="#d6386e"/></linearGradient><linearGradient id="gr39" gradientUnits="userSpaceOnUse" x1="188.1" y1="0" x2="302.5" y2="0"><stop offset="0.0000" stop-color="#828282"/><stop offset="0.0492" stop-color="#828282"/><stop offset="0.0492" stop-color="#97b5a6"/><stop offset="0.1393" stop-color="#97b5a6"/><stop offset="0.1393" stop-color="#46a6e4"/><stop offset="0.2377" stop-color="#46a6e4"/><stop offset="0.2377" stop-color="#3fa83f"/><stop offset="0.4098" stop-color="#3fa83f"/><stop offset="0.4098" stop-color="#c9d038"/><stop offset="0.4672" stop-color="#c9d038"/><stop offset="0.4672" stop-color="#2ad3a2"/><stop offset="0.5492" stop-color="#2ad3a2"/><stop offset="0.5492" stop-color="#9636ea"/><stop offset="0.7623" stop-color="#9636ea"/><stop offset="0.7623" stop-color="#d77fd8"/><stop offset="0.8115" stop-color="#d77fd8"/><stop offset="0.8115" stop-color="#e07c5c"/><stop offset="0.8443" stop-color="#e07c5c"/><stop offset="0.8443" stop-color="#5a2a0c"/><stop offset="1.0000" stop-color="#5a2a0c"/></linearGradient><linearGradient id="gl40" gradientUnits="userSpaceOnUse" x1="59.2" y1="0" x2="174.3" y2="0"><stop offset="0.0000" stop-color="#828282"/><stop offset="0.0300" stop-color="#828282"/><stop offset="0.0300" stop-color="#97b5a6"/><stop offset="0.0400" stop-color="#97b5a6"/><stop offset="0.0400" stop-color="#3fa83f"/><stop offset="0.1150" stop-color="#3fa83f"/><stop offset="0.1150" stop-color="#c9d038"/><stop offset="0.1250" stop-color="#c9d038"/><stop offset="0.1250" stop-color="#2ad3a2"/><stop offset="0.1450" stop-color="#2ad3a2"/><stop offset="0.1450" stop-color="#9636ea"/><stop offset="0.3900" stop-color="#9636ea"/><stop offset="0.3900" stop-color="#d77fd8"/><stop offset="0.4350" stop-color="#d77fd8"/><stop offset="0.4350" stop-color="#e07c5c"/><stop offset="0.5250" stop-color="#e07c5c"/><stop offset="0.5250" stop-color="#5a2a0c"/><stop offset="0.6100" stop-color="#5a2a0c"/><stop offset="0.6100" stop-color="#d6386e"/><stop offset="1.0000" stop-color="#d6386e"/></linearGradient><linearGradient id="gr40" gradientUnits="userSpaceOnUse" x1="188.1" y1="0" x2="302.5" y2="0"><stop offset="0.0000" stop-color="#828282"/><stop offset="0.0492" stop-color="#828282"/><stop offset="0.0492" stop-color="#97b5a6"/><stop offset="0.0656" stop-color="#97b5a6"/><stop offset="0.0656" stop-color="#3fa83f"/><stop offset="0.1885" stop-color="#3fa83f"/><stop offset="0.1885" stop-color="#c9d038"/><stop offset="0.2049" stop-color="#c9d038"/><stop offset="0.2049" stop-color="#2ad3a2"/><stop offset="0.2377" stop-color="#2ad3a2"/><stop offset="0.2377" stop-color="#9636ea"/><stop offset="0.6393" stop-color="#9636ea"/><stop offset="0.6393" stop-color="#d77fd8"/><stop offset="0.7131" stop-color="#d77fd8"/><stop offset="0.7131" stop-color="#e07c5c"/><stop offset="0.8607" stop-color="#e07c5c"/><stop offset="0.8607" stop-color="#5a2a0c"/><stop offset="1.0000" stop-color="#5a2a0c"/></linearGradient><linearGradient id="gl41" gradientUnits="userSpaceOnUse" x1="59.2" y1="0" x2="174.3" y2="0"><stop offset="0.0000" stop-color="#828282"/><stop offset="0.0185" stop-color="#828282"/><stop offset="0.0185" stop-color="#4470de"/><stop offset="0.0277" stop-color="#4470de"/><stop offset="0.0277" stop-color="#3fa83f"/><stop offset="0.1061" stop-color="#3fa83f"/><stop offset="0.1061" stop-color="#c9d038"/><stop offset="0.1615" stop-color="#c9d038"/><stop offset="0.1615" stop-color="#2ad3a2"/><stop offset="0.2123" stop-color="#2ad3a2"/><stop offset="0.2123" stop-color="#aea6cc"/><stop offset="0.2261" stop-color="#aea6cc"/><stop offset="0.2261" stop-color="#9636ea"/><stop offset="0.4153" stop-color="#9636ea"/><stop offset="0.4153" stop-color="#d77fd8"/><stop offset="0.4615" stop-color="#d77fd8"/><stop offset="0.4615" stop-color="#e07c5c"/><stop offset="0.5307" stop-color="#e07c5c"/><stop offset="0.5307" stop-color="#5a2a0c"/><stop offset="0.5630" stop-color="#5a2a0c"/><stop offset="0.5630" stop-color="#d6386e"/><stop offset="1.0000" stop-color="#d6386e"/></linearGradient><linearGradient id="gr41" gradientUnits="userSpaceOnUse" x1="188.1" y1="0" x2="302.5" y2="0"><stop offset="0.0000" stop-color="#828282"/><stop offset="0.0328" stop-color="#828282"/><stop offset="0.0328" stop-color="#4470de"/><stop offset="0.0492" stop-color="#4470de"/><stop offset="0.0492" stop-color="#3fa83f"/><stop offset="0.1885" stop-color="#3fa83f"/><stop offset="0.1885" stop-color="#c9d038"/><stop offset="0.2869" stop-color="#c9d038"/><stop offset="0.2869" stop-color="#2ad3a2"/><stop offset="0.3770" stop-color="#2ad3a2"/><stop offset="0.3770" stop-color="#aea6cc"/><stop offset="0.4016" stop-color="#aea6cc"/><stop offset="0.4016" stop-color="#9636ea"/><stop offset="0.7377" stop-color="#9636ea"/><stop offset="0.7377" stop-color="#d77fd8"/><stop offset="0.8197" stop-color="#d77fd8"/><stop offset="0.8197" stop-color="#e07c5c"/><stop offset="0.9426" stop-color="#e07c5c"/><stop offset="0.9426" stop-color="#5a2a0c"/><stop offset="1.0000" stop-color="#5a2a0c"/></linearGradient><linearGradient id="gl42" gradientUnits="userSpaceOnUse" x1="59.2" y1="0" x2="174.3" y2="0"><stop offset="0.0000" stop-color="#828282"/><stop offset="0.0273" stop-color="#828282"/><stop offset="0.0273" stop-color="#97b5a6"/><stop offset="0.0455" stop-color="#97b5a6"/><stop offset="0.0455" stop-color="#4470de"/><stop offset="0.0591" stop-color="#4470de"/><stop offset="0.0591" stop-color="#3fa83f"/><stop offset="0.1274" stop-color="#3fa83f"/><stop offset="0.1274" stop-color="#c9d038"/><stop offset="0.1319" stop-color="#c9d038"/><stop offset="0.1319" stop-color="#2ad3a2"/><stop offset="0.1865" stop-color="#2ad3a2"/><stop offset="0.1865" stop-color="#aea6cc"/><stop offset="0.2093" stop-color="#aea6cc"/><stop offset="0.2093" stop-color="#9636ea"/><stop offset="0.4185" stop-color="#9636ea"/><stop offset="0.4185" stop-color="#d77fd8"/><stop offset="0.4367" stop-color="#d77fd8"/><stop offset="0.4367" stop-color="#e07c5c"/><stop offset="0.4549" stop-color="#e07c5c"/><stop offset="0.4549" stop-color="#5a2a0c"/><stop offset="0.5550" stop-color="#5a2a0c"/><stop offset="0.5550" stop-color="#d6386e"/><stop offset="1.0000" stop-color="#d6386e"/></linearGradient><linearGradient id="gr42" gradientUnits="userSpaceOnUse" x1="188.1" y1="0" x2="302.5" y2="0"><stop offset="0.0000" stop-color="#828282"/><stop offset="0.0492" stop-color="#828282"/><stop offset="0.0492" stop-color="#97b5a6"/><stop offset="0.0820" stop-color="#97b5a6"/><stop offset="0.0820" stop-color="#4470de"/><stop offset="0.1066" stop-color="#4470de"/><stop offset="0.1066" stop-color="#3fa83f"/><stop offset="0.2295" stop-color="#3fa83f"/><stop offset="0.2295" stop-color="#c9d038"/><stop offset="0.2377" stop-color="#c9d038"/><stop offset="0.2377" stop-color="#2ad3a2"/><stop offset="0.3361" stop-color="#2ad3a2"/><stop offset="0.3361" stop-color="#aea6cc"/><stop offset="0.3770" stop-color="#aea6cc"/><stop offset="0.3770" stop-color="#9636ea"/><stop offset="0.7541" stop-color="#9636ea"/><stop offset="0.7541" stop-color="#d77fd8"/><stop offset="0.7869" stop-color="#d77fd8"/><stop offset="0.7869" stop-color="#e07c5c"/><stop offset="0.8197" stop-color="#e07c5c"/><stop offset="0.8197" stop-color="#5a2a0c"/><stop offset="1.0000" stop-color="#5a2a0c"/></linearGradient><linearGradient id="gl43" gradientUnits="userSpaceOnUse" x1="59.2" y1="0" x2="174.3" y2="0"><stop offset="0.0000" stop-color="#828282"/><stop offset="0.0170" stop-color="#828282"/><stop offset="0.0170" stop-color="#97b5a6"/><stop offset="0.0384" stop-color="#97b5a6"/><stop offset="0.0384" stop-color="#4470de"/><stop offset="0.0597" stop-color="#4470de"/><stop offset="0.0597" stop-color="#3fa83f"/><stop offset="0.1279" stop-color="#3fa83f"/><stop offset="0.1279" stop-color="#c9d038"/><stop offset="0.1407" stop-color="#c9d038"/><stop offset="0.1407" stop-color="#2ad3a2"/><stop offset="0.1449" stop-color="#2ad3a2"/><stop offset="0.1449" stop-color="#9636ea"/><stop offset="0.2941" stop-color="#9636ea"/><stop offset="0.2941" stop-color="#4c1890"/><stop offset="0.3154" stop-color="#4c1890"/><stop offset="0.3154" stop-color="#d77fd8"/><stop offset="0.3410" stop-color="#d77fd8"/><stop offset="0.3410" stop-color="#e07c5c"/><stop offset="0.4475" stop-color="#e07c5c"/><stop offset="0.4475" stop-color="#5a2a0c"/><stop offset="0.5200" stop-color="#5a2a0c"/><stop offset="0.5200" stop-color="#d6386e"/><stop offset="1.0000" stop-color="#d6386e"/></linearGradient><linearGradient id="gr43" gradientUnits="userSpaceOnUse" x1="188.1" y1="0" x2="302.5" y2="0"><stop offset="0.0000" stop-color="#828282"/><stop offset="0.0328" stop-color="#828282"/><stop offset="0.0328" stop-color="#97b5a6"/><stop offset="0.0738" stop-color="#97b5a6"/><stop offset="0.0738" stop-color="#4470de"/><stop offset="0.1148" stop-color="#4470de"/><stop offset="0.1148" stop-color="#3fa83f"/><stop offset="0.2459" stop-color="#3fa83f"/><stop offset="0.2459" stop-color="#c9d038"/><stop offset="0.2705" stop-color="#c9d038"/><stop offset="0.2705" stop-color="#2ad3a2"/><stop offset="0.2787" stop-color="#2ad3a2"/><stop offset="0.2787" stop-color="#9636ea"/><stop offset="0.5656" stop-color="#9636ea"/><stop offset="0.5656" stop-color="#4c1890"/><stop offset="0.6066" stop-color="#4c1890"/><stop offset="0.6066" stop-color="#d77fd8"/><stop offset="0.6557" stop-color="#d77fd8"/><stop offset="0.6557" stop-color="#e07c5c"/><stop offset="0.8607" stop-color="#e07c5c"/><stop offset="0.8607" stop-color="#5a2a0c"/><stop offset="1.0000" stop-color="#5a2a0c"/></linearGradient><linearGradient id="gl44" gradientUnits="userSpaceOnUse" x1="59.2" y1="0" x2="174.3" y2="0"><stop offset="0.0000" stop-color="#828282"/><stop offset="0.0127" stop-color="#828282"/><stop offset="0.0127" stop-color="#4470de"/><stop offset="0.0381" stop-color="#4470de"/><stop offset="0.0381" stop-color="#3fa83f"/><stop offset="0.1015" stop-color="#3fa83f"/><stop offset="0.1015" stop-color="#c9d038"/><stop offset="0.1100" stop-color="#c9d038"/><stop offset="0.1100" stop-color="#2ad3a2"/><stop offset="0.1269" stop-color="#2ad3a2"/><stop offset="0.1269" stop-color="#aea6cc"/><stop offset="0.1353" stop-color="#aea6cc"/><stop offset="0.1353" stop-color="#9636ea"/><stop offset="0.2411" stop-color="#9636ea"/><stop offset="0.2411" stop-color="#4c1890"/><stop offset="0.4356" stop-color="#4c1890"/><stop offset="0.4356" stop-color="#d77fd8"/><stop offset="0.4483" stop-color="#d77fd8"/><stop offset="0.4483" stop-color="#e07c5c"/><stop offset="0.4906" stop-color="#e07c5c"/><stop offset="0.4906" stop-color="#5a2a0c"/><stop offset="0.5160" stop-color="#5a2a0c"/><stop offset="0.5160" stop-color="#d6386e"/><stop offset="1.0000" stop-color="#d6386e"/></linearGradient><linearGradient id="gr44" gradientUnits="userSpaceOnUse" x1="188.1" y1="0" x2="302.5" y2="0"><stop offset="0.0000" stop-color="#828282"/><stop offset="0.0246" stop-color="#828282"/><stop offset="0.0246" stop-color="#4470de"/><stop offset="0.0738" stop-color="#4470de"/><stop offset="0.0738" stop-color="#3fa83f"/><stop offset="0.1967" stop-color="#3fa83f"/><stop offset="0.1967" stop-color="#c9d038"/><stop offset="0.2131" stop-color="#c9d038"/><stop offset="0.2131" stop-color="#2ad3a2"/><stop offset="0.2459" stop-color="#2ad3a2"/><stop offset="0.2459" stop-color="#aea6cc"/><stop offset="0.2623" stop-color="#aea6cc"/><stop offset="0.2623" stop-color="#9636ea"/><stop offset="0.4672" stop-color="#9636ea"/><stop offset="0.4672" stop-color="#4c1890"/><stop offset="0.8443" stop-color="#4c1890"/><stop offset="0.8443" stop-color="#d77fd8"/><stop offset="0.8689" stop-color="#d77fd8"/><stop offset="0.8689" stop-color="#e07c5c"/><stop offset="0.9508" stop-color="#e07c5c"/><stop offset="0.9508" stop-color="#5a2a0c"/><stop offset="1.0000" stop-color="#5a2a0c"/></linearGradient><linearGradient id="gl45" gradientUnits="userSpaceOnUse" x1="59.2" y1="0" x2="174.3" y2="0"><stop offset="0.0000" stop-color="#828282"/><stop offset="0.0273" stop-color="#828282"/><stop offset="0.0273" stop-color="#97b5a6"/><stop offset="0.0429" stop-color="#97b5a6"/><stop offset="0.0429" stop-color="#4470de"/><stop offset="0.0507" stop-color="#4470de"/><stop offset="0.0507" stop-color="#3fa83f"/><stop offset="0.1912" stop-color="#3fa83f"/><stop offset="0.1912" stop-color="#c9d038"/><stop offset="0.2185" stop-color="#c9d038"/><stop offset="0.2185" stop-color="#2ad3a2"/><stop offset="0.2770" stop-color="#2ad3a2"/><stop offset="0.2770" stop-color="#9636ea"/><stop offset="0.4175" stop-color="#9636ea"/><stop offset="0.4175" stop-color="#d77fd8"/><stop offset="0.4253" stop-color="#d77fd8"/><stop offset="0.4253" stop-color="#e07c5c"/><stop offset="0.4448" stop-color="#e07c5c"/><stop offset="0.4448" stop-color="#5a2a0c"/><stop offset="0.4760" stop-color="#5a2a0c"/><stop offset="0.4760" stop-color="#d6386e"/><stop offset="1.0000" stop-color="#d6386e"/></linearGradient><linearGradient id="gr45" gradientUnits="userSpaceOnUse" x1="188.1" y1="0" x2="302.5" y2="0"><stop offset="0.0000" stop-color="#828282"/><stop offset="0.0574" stop-color="#828282"/><stop offset="0.0574" stop-color="#97b5a6"/><stop offset="0.0902" stop-color="#97b5a6"/><stop offset="0.0902" stop-color="#4470de"/><stop offset="0.1066" stop-color="#4470de"/><stop offset="0.1066" stop-color="#3fa83f"/><stop offset="0.4016" stop-color="#3fa83f"/><stop offset="0.4016" stop-color="#c9d038"/><stop offset="0.4590" stop-color="#c9d038"/><stop offset="0.4590" stop-color="#2ad3a2"/><stop offset="0.5820" stop-color="#2ad3a2"/><stop offset="0.5820" stop-color="#9636ea"/><stop offset="0.8770" stop-color="#9636ea"/><stop offset="0.8770" stop-color="#d77fd8"/><stop offset="0.8934" stop-color="#d77fd8"/><stop offset="0.8934" stop-color="#e07c5c"/><stop offset="0.9344" stop-color="#e07c5c"/><stop offset="0.9344" stop-color="#5a2a0c"/><stop offset="1.0000" stop-color="#5a2a0c"/></linearGradient><linearGradient id="gl46" gradientUnits="userSpaceOnUse" x1="59.2" y1="0" x2="174.3" y2="0"><stop offset="0.0000" stop-color="#828282"/><stop offset="0.0316" stop-color="#828282"/><stop offset="0.0316" stop-color="#97b5a6"/><stop offset="0.0387" stop-color="#97b5a6"/><stop offset="0.0387" stop-color="#4470de"/><stop offset="0.0492" stop-color="#4470de"/><stop offset="0.0492" stop-color="#3fa83f"/><stop offset="0.0914" stop-color="#3fa83f"/><stop offset="0.0914" stop-color="#c9d038"/><stop offset="0.0985" stop-color="#c9d038"/><stop offset="0.0985" stop-color="#2ad3a2"/><stop offset="0.1582" stop-color="#2ad3a2"/><stop offset="0.1582" stop-color="#aea6cc"/><stop offset="0.1723" stop-color="#aea6cc"/><stop offset="0.1723" stop-color="#9636ea"/><stop offset="0.3235" stop-color="#9636ea"/><stop offset="0.3235" stop-color="#d77fd8"/><stop offset="0.3763" stop-color="#d77fd8"/><stop offset="0.3763" stop-color="#e07c5c"/><stop offset="0.3798" stop-color="#e07c5c"/><stop offset="0.3798" stop-color="#5a2a0c"/><stop offset="0.4290" stop-color="#5a2a0c"/><stop offset="0.4290" stop-color="#d6386e"/><stop offset="1.0000" stop-color="#d6386e"/></linearGradient><linearGradient id="gr46" gradientUnits="userSpaceOnUse" x1="188.1" y1="0" x2="302.5" y2="0"><stop offset="0.0000" stop-color="#828282"/><stop offset="0.0738" stop-color="#828282"/><stop offset="0.0738" stop-color="#97b5a6"/><stop offset="0.0902" stop-color="#97b5a6"/><stop offset="0.0902" stop-color="#4470de"/><stop offset="0.1148" stop-color="#4470de"/><stop offset="0.1148" stop-color="#3fa83f"/><stop offset="0.2131" stop-color="#3fa83f"/><stop offset="0.2131" stop-color="#c9d038"/><stop offset="0.2295" stop-color="#c9d038"/><stop offset="0.2295" stop-color="#2ad3a2"/><stop offset="0.3689" stop-color="#2ad3a2"/><stop offset="0.3689" stop-color="#aea6cc"/><stop offset="0.4016" stop-color="#aea6cc"/><stop offset="0.4016" stop-color="#9636ea"/><stop offset="0.7541" stop-color="#9636ea"/><stop offset="0.7541" stop-color="#d77fd8"/><stop offset="0.8770" stop-color="#d77fd8"/><stop offset="0.8770" stop-color="#e07c5c"/><stop offset="0.8852" stop-color="#e07c5c"/><stop offset="0.8852" stop-color="#5a2a0c"/><stop offset="1.0000" stop-color="#5a2a0c"/></linearGradient><linearGradient id="gl47" gradientUnits="userSpaceOnUse" x1="59.2" y1="0" x2="174.3" y2="0"><stop offset="0.0000" stop-color="#828282"/><stop offset="0.0313" stop-color="#828282"/><stop offset="0.0313" stop-color="#97b5a6"/><stop offset="0.0689" stop-color="#97b5a6"/><stop offset="0.0689" stop-color="#46a6e4"/><stop offset="0.0908" stop-color="#46a6e4"/><stop offset="0.0908" stop-color="#3fa83f"/><stop offset="0.1409" stop-color="#3fa83f"/><stop offset="0.1409" stop-color="#c9d038"/><stop offset="0.1503" stop-color="#c9d038"/><stop offset="0.1503" stop-color="#2ad3a2"/><stop offset="0.2505" stop-color="#2ad3a2"/><stop offset="0.2505" stop-color="#9636ea"/><stop offset="0.3131" stop-color="#9636ea"/><stop offset="0.3131" stop-color="#4c1890"/><stop offset="0.3162" stop-color="#4c1890"/><stop offset="0.3162" stop-color="#d77fd8"/><stop offset="0.3476" stop-color="#d77fd8"/><stop offset="0.3476" stop-color="#e07c5c"/><stop offset="0.3601" stop-color="#e07c5c"/><stop offset="0.3601" stop-color="#5a2a0c"/><stop offset="0.3820" stop-color="#5a2a0c"/><stop offset="0.3820" stop-color="#d6386e"/><stop offset="1.0000" stop-color="#d6386e"/></linearGradient><linearGradient id="gr47" gradientUnits="userSpaceOnUse" x1="188.1" y1="0" x2="302.5" y2="0"><stop offset="0.0000" stop-color="#828282"/><stop offset="0.0820" stop-color="#828282"/><stop offset="0.0820" stop-color="#97b5a6"/><stop offset="0.1803" stop-color="#97b5a6"/><stop offset="0.1803" stop-color="#46a6e4"/><stop offset="0.2377" stop-color="#46a6e4"/><stop offset="0.2377" stop-color="#3fa83f"/><stop offset="0.3689" stop-color="#3fa83f"/><stop offset="0.3689" stop-color="#c9d038"/><stop offset="0.3934" stop-color="#c9d038"/><stop offset="0.3934" stop-color="#2ad3a2"/><stop offset="0.6557" stop-color="#2ad3a2"/><stop offset="0.6557" stop-color="#9636ea"/><stop offset="0.8197" stop-color="#9636ea"/><stop offset="0.8197" stop-color="#4c1890"/><stop offset="0.8279" stop-color="#4c1890"/><stop offset="0.8279" stop-color="#d77fd8"/><stop offset="0.9098" stop-color="#d77fd8"/><stop offset="0.9098" stop-color="#e07c5c"/><stop offset="0.9426" stop-color="#e07c5c"/><stop offset="0.9426" stop-color="#5a2a0c"/><stop offset="1.0000" stop-color="#5a2a0c"/></linearGradient><linearGradient id="gl48" gradientUnits="userSpaceOnUse" x1="59.2" y1="0" x2="174.3" y2="0"><stop offset="0.0000" stop-color="#828282"/><stop offset="0.0558" stop-color="#828282"/><stop offset="0.0558" stop-color="#97b5a6"/><stop offset="0.0801" stop-color="#97b5a6"/><stop offset="0.0801" stop-color="#3fa83f"/><stop offset="0.0946" stop-color="#3fa83f"/><stop offset="0.0946" stop-color="#2ad3a2"/><stop offset="0.1019" stop-color="#2ad3a2"/><stop offset="0.1019" stop-color="#9636ea"/><stop offset="0.1844" stop-color="#9636ea"/><stop offset="0.1844" stop-color="#d77fd8"/><stop offset="0.1892" stop-color="#d77fd8"/><stop offset="0.1892" stop-color="#e07c5c"/><stop offset="0.2523" stop-color="#e07c5c"/><stop offset="0.2523" stop-color="#5a2a0c"/><stop offset="0.2960" stop-color="#5a2a0c"/><stop offset="0.2960" stop-color="#d6386e"/><stop offset="1.0000" stop-color="#d6386e"/></linearGradient><linearGradient id="gr48" gradientUnits="userSpaceOnUse" x1="188.1" y1="0" x2="302.5" y2="0"><stop offset="0.0000" stop-color="#828282"/><stop offset="0.1885" stop-color="#828282"/><stop offset="0.1885" stop-color="#97b5a6"/><stop offset="0.2705" stop-color="#97b5a6"/><stop offset="0.2705" stop-color="#3fa83f"/><stop offset="0.3197" stop-color="#3fa83f"/><stop offset="0.3197" stop-color="#2ad3a2"/><stop offset="0.3443" stop-color="#2ad3a2"/><stop offset="0.3443" stop-color="#9636ea"/><stop offset="0.6230" stop-color="#9636ea"/><stop offset="0.6230" stop-color="#d77fd8"/><stop offset="0.6393" stop-color="#d77fd8"/><stop offset="0.6393" stop-color="#e07c5c"/><stop offset="0.8525" stop-color="#e07c5c"/><stop offset="0.8525" stop-color="#5a2a0c"/><stop offset="1.0000" stop-color="#5a2a0c"/></linearGradient><linearGradient id="gl49" gradientUnits="userSpaceOnUse" x1="59.2" y1="0" x2="174.3" y2="0"><stop offset="0.0000" stop-color="#828282"/><stop offset="0.0388" stop-color="#828282"/><stop offset="0.0388" stop-color="#97b5a6"/><stop offset="0.0534" stop-color="#97b5a6"/><stop offset="0.0534" stop-color="#4470de"/><stop offset="0.0607" stop-color="#4470de"/><stop offset="0.0607" stop-color="#3fa83f"/><stop offset="0.0776" stop-color="#3fa83f"/><stop offset="0.0776" stop-color="#c9d038"/><stop offset="0.0801" stop-color="#c9d038"/><stop offset="0.0801" stop-color="#2ad3a2"/><stop offset="0.0922" stop-color="#2ad3a2"/><stop offset="0.0922" stop-color="#9636ea"/><stop offset="0.1844" stop-color="#9636ea"/><stop offset="0.1844" stop-color="#4c1890"/><stop offset="0.2014" stop-color="#4c1890"/><stop offset="0.2014" stop-color="#d77fd8"/><stop offset="0.2232" stop-color="#d77fd8"/><stop offset="0.2232" stop-color="#e07c5c"/><stop offset="0.2353" stop-color="#e07c5c"/><stop offset="0.2353" stop-color="#5a2a0c"/><stop offset="0.2960" stop-color="#5a2a0c"/><stop offset="0.2960" stop-color="#d6386e"/><stop offset="1.0000" stop-color="#d6386e"/></linearGradient><linearGradient id="gr49" gradientUnits="userSpaceOnUse" x1="188.1" y1="0" x2="302.5" y2="0"><stop offset="0.0000" stop-color="#828282"/><stop offset="0.1311" stop-color="#828282"/><stop offset="0.1311" stop-color="#97b5a6"/><stop offset="0.1803" stop-color="#97b5a6"/><stop offset="0.1803" stop-color="#4470de"/><stop offset="0.2049" stop-color="#4470de"/><stop offset="0.2049" stop-color="#3fa83f"/><stop offset="0.2623" stop-color="#3fa83f"/><stop offset="0.2623" stop-color="#c9d038"/><stop offset="0.2705" stop-color="#c9d038"/><stop offset="0.2705" stop-color="#2ad3a2"/><stop offset="0.3115" stop-color="#2ad3a2"/><stop offset="0.3115" stop-color="#9636ea"/><stop offset="0.6230" stop-color="#9636ea"/><stop offset="0.6230" stop-color="#4c1890"/><stop offset="0.6803" stop-color="#4c1890"/><stop offset="0.6803" stop-color="#d77fd8"/><stop offset="0.7541" stop-color="#d77fd8"/><stop offset="0.7541" stop-color="#e07c5c"/><stop offset="0.7951" stop-color="#e07c5c"/><stop offset="0.7951" stop-color="#5a2a0c"/><stop offset="1.0000" stop-color="#5a2a0c"/></linearGradient><linearGradient id="gl50" gradientUnits="userSpaceOnUse" x1="59.2" y1="0" x2="174.3" y2="0"><stop offset="0.0000" stop-color="#828282"/><stop offset="0.0070" stop-color="#828282"/><stop offset="0.0070" stop-color="#97b5a6"/><stop offset="0.0116" stop-color="#97b5a6"/><stop offset="0.0116" stop-color="#3fa83f"/><stop offset="0.0278" stop-color="#3fa83f"/><stop offset="0.0278" stop-color="#c9d038"/><stop offset="0.0348" stop-color="#c9d038"/><stop offset="0.0348" stop-color="#aea6cc"/><stop offset="0.0534" stop-color="#aea6cc"/><stop offset="0.0534" stop-color="#9636ea"/><stop offset="0.1415" stop-color="#9636ea"/><stop offset="0.1415" stop-color="#4c1890"/><stop offset="0.1531" stop-color="#4c1890"/><stop offset="0.1531" stop-color="#e07c5c"/><stop offset="0.2389" stop-color="#e07c5c"/><stop offset="0.2389" stop-color="#5a2a0c"/><stop offset="0.2830" stop-color="#5a2a0c"/><stop offset="0.2830" stop-color="#d6386e"/><stop offset="1.0000" stop-color="#d6386e"/></linearGradient><linearGradient id="gr50" gradientUnits="userSpaceOnUse" x1="188.1" y1="0" x2="302.5" y2="0"><stop offset="0.0000" stop-color="#828282"/><stop offset="0.0246" stop-color="#828282"/><stop offset="0.0246" stop-color="#97b5a6"/><stop offset="0.0410" stop-color="#97b5a6"/><stop offset="0.0410" stop-color="#3fa83f"/><stop offset="0.0984" stop-color="#3fa83f"/><stop offset="0.0984" stop-color="#c9d038"/><stop offset="0.1230" stop-color="#c9d038"/><stop offset="0.1230" stop-color="#aea6cc"/><stop offset="0.1885" stop-color="#aea6cc"/><stop offset="0.1885" stop-color="#9636ea"/><stop offset="0.5000" stop-color="#9636ea"/><stop offset="0.5000" stop-color="#4c1890"/><stop offset="0.5410" stop-color="#4c1890"/><stop offset="0.5410" stop-color="#e07c5c"/><stop offset="0.8443" stop-color="#e07c5c"/><stop offset="0.8443" stop-color="#5a2a0c"/><stop offset="1.0000" stop-color="#5a2a0c"/></linearGradient><linearGradient id="gl51" gradientUnits="userSpaceOnUse" x1="59.2" y1="0" x2="174.3" y2="0"><stop offset="0.0000" stop-color="#828282"/><stop offset="0.0298" stop-color="#828282"/><stop offset="0.0298" stop-color="#97b5a6"/><stop offset="0.0528" stop-color="#97b5a6"/><stop offset="0.0528" stop-color="#4470de"/><stop offset="0.0620" stop-color="#4470de"/><stop offset="0.0620" stop-color="#3fa83f"/><stop offset="0.0803" stop-color="#3fa83f"/><stop offset="0.0803" stop-color="#c9d038"/><stop offset="0.0826" stop-color="#c9d038"/><stop offset="0.0826" stop-color="#2ad3a2"/><stop offset="0.0987" stop-color="#2ad3a2"/><stop offset="0.0987" stop-color="#9636ea"/><stop offset="0.1859" stop-color="#9636ea"/><stop offset="0.1859" stop-color="#d77fd8"/><stop offset="0.2089" stop-color="#d77fd8"/><stop offset="0.2089" stop-color="#e07c5c"/><stop offset="0.2662" stop-color="#e07c5c"/><stop offset="0.2662" stop-color="#5a2a0c"/><stop offset="0.2800" stop-color="#5a2a0c"/><stop offset="0.2800" stop-color="#d6386e"/><stop offset="1.0000" stop-color="#d6386e"/></linearGradient><linearGradient id="gr51" gradientUnits="userSpaceOnUse" x1="188.1" y1="0" x2="302.5" y2="0"><stop offset="0.0000" stop-color="#828282"/><stop offset="0.1066" stop-color="#828282"/><stop offset="0.1066" stop-color="#97b5a6"/><stop offset="0.1885" stop-color="#97b5a6"/><stop offset="0.1885" stop-color="#4470de"/><stop offset="0.2213" stop-color="#4470de"/><stop offset="0.2213" stop-color="#3fa83f"/><stop offset="0.2869" stop-color="#3fa83f"/><stop offset="0.2869" stop-color="#c9d038"/><stop offset="0.2951" stop-color="#c9d038"/><stop offset="0.2951" stop-color="#2ad3a2"/><stop offset="0.3525" stop-color="#2ad3a2"/><stop offset="0.3525" stop-color="#9636ea"/><stop offset="0.6639" stop-color="#9636ea"/><stop offset="0.6639" stop-color="#d77fd8"/><stop offset="0.7459" stop-color="#d77fd8"/><stop offset="0.7459" stop-color="#e07c5c"/><stop offset="0.9508" stop-color="#e07c5c"/><stop offset="0.9508" stop-color="#5a2a0c"/><stop offset="1.0000" stop-color="#5a2a0c"/></linearGradient><linearGradient id="gl52" gradientUnits="userSpaceOnUse" x1="59.2" y1="0" x2="174.3" y2="0"><stop offset="0.0000" stop-color="#828282"/><stop offset="0.0129" stop-color="#828282"/><stop offset="0.0129" stop-color="#97b5a6"/><stop offset="0.0166" stop-color="#97b5a6"/><stop offset="0.0166" stop-color="#3fa83f"/><stop offset="0.0295" stop-color="#3fa83f"/><stop offset="0.0295" stop-color="#9636ea"/><stop offset="0.1623" stop-color="#9636ea"/><stop offset="0.1623" stop-color="#4c1890"/><stop offset="0.1844" stop-color="#4c1890"/><stop offset="0.1844" stop-color="#d77fd8"/><stop offset="0.2047" stop-color="#d77fd8"/><stop offset="0.2047" stop-color="#e07c5c"/><stop offset="0.2232" stop-color="#e07c5c"/><stop offset="0.2232" stop-color="#5a2a0c"/><stop offset="0.2250" stop-color="#5a2a0c"/><stop offset="0.2250" stop-color="#d6386e"/><stop offset="1.0000" stop-color="#d6386e"/></linearGradient><linearGradient id="gr52" gradientUnits="userSpaceOnUse" x1="188.1" y1="0" x2="302.5" y2="0"><stop offset="0.0000" stop-color="#828282"/><stop offset="0.0574" stop-color="#828282"/><stop offset="0.0574" stop-color="#97b5a6"/><stop offset="0.0738" stop-color="#97b5a6"/><stop offset="0.0738" stop-color="#3fa83f"/><stop offset="0.1311" stop-color="#3fa83f"/><stop offset="0.1311" stop-color="#9636ea"/><stop offset="0.7213" stop-color="#9636ea"/><stop offset="0.7213" stop-color="#4c1890"/><stop offset="0.8197" stop-color="#4c1890"/><stop offset="0.8197" stop-color="#d77fd8"/><stop offset="0.9098" stop-color="#d77fd8"/><stop offset="0.9098" stop-color="#e07c5c"/><stop offset="0.9918" stop-color="#e07c5c"/><stop offset="0.9918" stop-color="#5a2a0c"/><stop offset="1.0000" stop-color="#5a2a0c"/></linearGradient><linearGradient id="gl53" gradientUnits="userSpaceOnUse" x1="59.2" y1="0" x2="174.3" y2="0"><stop offset="0.0000" stop-color="#828282"/><stop offset="0.0165" stop-color="#828282"/><stop offset="0.0165" stop-color="#4470de"/><stop offset="0.0214" stop-color="#4470de"/><stop offset="0.0214" stop-color="#3fa83f"/><stop offset="0.0593" stop-color="#3fa83f"/><stop offset="0.0593" stop-color="#2ad3a2"/><stop offset="0.0725" stop-color="#2ad3a2"/><stop offset="0.0725" stop-color="#9636ea"/><stop offset="0.1186" stop-color="#9636ea"/><stop offset="0.1186" stop-color="#4c1890"/><stop offset="0.1384" stop-color="#4c1890"/><stop offset="0.1384" stop-color="#d77fd8"/><stop offset="0.1582" stop-color="#d77fd8"/><stop offset="0.1582" stop-color="#e07c5c"/><stop offset="0.1664" stop-color="#e07c5c"/><stop offset="0.1664" stop-color="#5a2a0c"/><stop offset="0.2010" stop-color="#5a2a0c"/><stop offset="0.2010" stop-color="#d6386e"/><stop offset="1.0000" stop-color="#d6386e"/></linearGradient><linearGradient id="gr53" gradientUnits="userSpaceOnUse" x1="188.1" y1="0" x2="302.5" y2="0"><stop offset="0.0000" stop-color="#828282"/><stop offset="0.0820" stop-color="#828282"/><stop offset="0.0820" stop-color="#4470de"/><stop offset="0.1066" stop-color="#4470de"/><stop offset="0.1066" stop-color="#3fa83f"/><stop offset="0.2951" stop-color="#3fa83f"/><stop offset="0.2951" stop-color="#2ad3a2"/><stop offset="0.3607" stop-color="#2ad3a2"/><stop offset="0.3607" stop-color="#9636ea"/><stop offset="0.5902" stop-color="#9636ea"/><stop offset="0.5902" stop-color="#4c1890"/><stop offset="0.6885" stop-color="#4c1890"/><stop offset="0.6885" stop-color="#d77fd8"/><stop offset="0.7869" stop-color="#d77fd8"/><stop offset="0.7869" stop-color="#e07c5c"/><stop offset="0.8279" stop-color="#e07c5c"/><stop offset="0.8279" stop-color="#5a2a0c"/><stop offset="1.0000" stop-color="#5a2a0c"/></linearGradient><linearGradient id="gl54" gradientUnits="userSpaceOnUse" x1="59.2" y1="0" x2="174.3" y2="0"><stop offset="0.0000" stop-color="#828282"/><stop offset="0.0055" stop-color="#828282"/><stop offset="0.0055" stop-color="#4470de"/><stop offset="0.0074" stop-color="#4470de"/><stop offset="0.0074" stop-color="#2ad3a2"/><stop offset="0.0117" stop-color="#2ad3a2"/><stop offset="0.0117" stop-color="#9636ea"/><stop offset="0.0227" stop-color="#9636ea"/><stop offset="0.0227" stop-color="#d77fd8"/><stop offset="0.0523" stop-color="#d77fd8"/><stop offset="0.0523" stop-color="#e07c5c"/><stop offset="0.0627" stop-color="#e07c5c"/><stop offset="0.0627" stop-color="#5a2a0c"/><stop offset="0.0750" stop-color="#5a2a0c"/><stop offset="0.0750" stop-color="#d6386e"/><stop offset="1.0000" stop-color="#d6386e"/></linearGradient><linearGradient id="gr54" gradientUnits="userSpaceOnUse" x1="188.1" y1="0" x2="302.5" y2="0"><stop offset="0.0000" stop-color="#828282"/><stop offset="0.0738" stop-color="#828282"/><stop offset="0.0738" stop-color="#4470de"/><stop offset="0.0984" stop-color="#4470de"/><stop offset="0.0984" stop-color="#2ad3a2"/><stop offset="0.1557" stop-color="#2ad3a2"/><stop offset="0.1557" stop-color="#9636ea"/><stop offset="0.3033" stop-color="#9636ea"/><stop offset="0.3033" stop-color="#d77fd8"/><stop offset="0.6967" stop-color="#d77fd8"/><stop offset="0.6967" stop-color="#e07c5c"/><stop offset="0.8361" stop-color="#e07c5c"/><stop offset="0.8361" stop-color="#5a2a0c"/><stop offset="1.0000" stop-color="#5a2a0c"/></linearGradient></defs>
<rect x="52.2" y="29.20" width="4.8" height="5.00" fill="#7e4e92"/>
<rect x="180.3" y="29.20" width="4.6" height="5.00" fill="#7e4e92"/>
<rect x="59.2" y="29.20" width="115.10" height="5.00" fill="url(#gl0)"/>
<rect x="188.1" y="29.20" width="114.40" height="5.00" fill="url(#gr0)"/>
<rect x="52.2" y="35.70" width="4.8" height="5.00" fill="#7e4e92"/>
<rect x="180.3" y="35.70" width="4.6" height="5.00" fill="#7e4e92"/>
<rect x="59.2" y="35.70" width="115.10" height="5.00" fill="url(#gl1)"/>
<rect x="188.1" y="35.70" width="114.40" height="5.00" fill="url(#gr1)"/>
<rect x="52.2" y="42.20" width="4.8" height="5.00" fill="#7e4e92"/>
<rect x="180.3" y="42.20" width="4.6" height="5.00" fill="#7e4e92"/>
<rect x="59.2" y="42.20" width="115.10" height="5.00" fill="url(#gl2)"/>
<rect x="188.1" y="42.20" width="114.40" height="5.00" fill="url(#gr2)"/>
<rect x="52.2" y="48.71" width="4.8" height="5.00" fill="#7e4e92"/>
<rect x="180.3" y="48.71" width="4.6" height="5.00" fill="#7e4e92"/>
<rect x="59.2" y="48.71" width="115.10" height="5.00" fill="url(#gl3)"/>
<rect x="188.1" y="48.71" width="114.40" height="5.00" fill="url(#gr3)"/>
<rect x="52.2" y="55.21" width="4.8" height="5.00" fill="#7e4e92"/>
<rect x="180.3" y="55.21" width="4.6" height="5.00" fill="#7e4e92"/>
<rect x="59.2" y="55.21" width="115.10" height="5.00" fill="url(#gl4)"/>
<rect x="188.1" y="55.21" width="114.40" height="5.00" fill="url(#gr4)"/>
<rect x="52.2" y="61.71" width="4.8" height="5.00" fill="#7e4e92"/>
<rect x="180.3" y="61.71" width="4.6" height="5.00" fill="#7e4e92"/>
<rect x="59.2" y="61.71" width="115.10" height="5.00" fill="url(#gl5)"/>
<rect x="188.1" y="61.71" width="114.40" height="5.00" fill="url(#gr5)"/>
<rect x="52.2" y="68.21" width="4.8" height="5.00" fill="#7e4e92"/>
<rect x="180.3" y="68.21" width="4.6" height="5.00" fill="#7e4e92"/>
<rect x="59.2" y="68.21" width="115.10" height="5.00" fill="url(#gl6)"/>
<rect x="188.1" y="68.21" width="114.40" height="5.00" fill="url(#gr6)"/>
<rect x="52.2" y="74.71" width="4.8" height="5.00" fill="#7e4e92"/>
<rect x="180.3" y="74.71" width="4.6" height="5.00" fill="#7e4e92"/>
<rect x="59.2" y="74.71" width="115.10" height="5.00" fill="url(#gl7)"/>
<rect x="188.1" y="74.71" width="114.40" height="5.00" fill="url(#gr7)"/>
<rect x="52.2" y="81.21" width="4.8" height="5.00" fill="#7e4e92"/>
<rect x="180.3" y="81.21" width="4.6" height="5.00" fill="#7e4e92"/>
<rect x="59.2" y="81.21" width="115.10" height="5.00" fill="url(#gl8)"/>
<rect x="188.1" y="81.21" width="114.40" height="5.00" fill="url(#gr8)"/>
<rect x="52.2" y="87.72" width="4.8" height="5.00" fill="#7e4e92"/>
<rect x="180.3" y="87.72" width="4.6" height="5.00" fill="#7e4e92"/>
<rect x="59.2" y="87.72" width="115.10" height="5.00" fill="url(#gl9)"/>
<rect x="188.1" y="87.72" width="114.40" height="5.00" fill="url(#gr9)"/>
<rect x="52.2" y="94.22" width="4.8" height="5.00" fill="#7e4e92"/>
<rect x="180.3" y="94.22" width="4.6" height="5.00" fill="#7e4e92"/>
<rect x="59.2" y="94.22" width="115.10" height="5.00" fill="url(#gl10)"/>
<rect x="188.1" y="94.22" width="114.40" height="5.00" fill="url(#gr10)"/>
<rect x="52.2" y="100.72" width="4.8" height="5.00" fill="#7e4e92"/>
<rect x="180.3" y="100.72" width="4.6" height="5.00" fill="#7e4e92"/>
<rect x="59.2" y="100.72" width="115.10" height="5.00" fill="url(#gl11)"/>
<rect x="188.1" y="100.72" width="114.40" height="5.00" fill="url(#gr11)"/>
<rect x="52.2" y="107.22" width="4.8" height="5.00" fill="#7e4e92"/>
<rect x="180.3" y="107.22" width="4.6" height="5.00" fill="#7e4e92"/>
<rect x="59.2" y="107.22" width="115.10" height="5.00" fill="url(#gl12)"/>
<rect x="188.1" y="107.22" width="114.40" height="5.00" fill="url(#gr12)"/>
<rect x="52.2" y="113.72" width="4.8" height="5.00" fill="#7e4e92"/>
<rect x="180.3" y="113.72" width="4.6" height="5.00" fill="#7e4e92"/>
<rect x="59.2" y="113.72" width="115.10" height="5.00" fill="url(#gl13)"/>
<rect x="188.1" y="113.72" width="114.40" height="5.00" fill="url(#gr13)"/>
<rect x="52.2" y="120.23" width="4.8" height="5.00" fill="#7e4e92"/>
<rect x="180.3" y="120.23" width="4.6" height="5.00" fill="#7e4e92"/>
<rect x="59.2" y="120.23" width="115.10" height="5.00" fill="url(#gl14)"/>
<rect x="188.1" y="120.23" width="114.40" height="5.00" fill="url(#gr14)"/>
<rect x="52.2" y="126.73" width="4.8" height="5.00" fill="#7e4e92"/>
<rect x="180.3" y="126.73" width="4.6" height="5.00" fill="#7e4e92"/>
<rect x="59.2" y="126.73" width="115.10" height="5.00" fill="url(#gl15)"/>
<rect x="188.1" y="126.73" width="114.40" height="5.00" fill="url(#gr15)"/>
<rect x="52.2" y="133.23" width="4.8" height="5.00" fill="#7e4e92"/>
<rect x="180.3" y="133.23" width="4.6" height="5.00" fill="#7e4e92"/>
<rect x="59.2" y="133.23" width="115.10" height="5.00" fill="url(#gl16)"/>
<rect x="188.1" y="133.23" width="114.40" height="5.00" fill="url(#gr16)"/>
<rect x="52.2" y="139.73" width="4.8" height="5.00" fill="#7e4e92"/>
<rect x="180.3" y="139.73" width="4.6" height="5.00" fill="#7e4e92"/>
<rect x="59.2" y="139.73" width="115.10" height="5.00" fill="url(#gl17)"/>
<rect x="188.1" y="139.73" width="114.40" height="5.00" fill="url(#gr17)"/>
<rect x="52.2" y="146.23" width="4.8" height="5.00" fill="#7e4e92"/>
<rect x="180.3" y="146.23" width="4.6" height="5.00" fill="#7e4e92"/>
<rect x="59.2" y="146.23" width="115.10" height="5.00" fill="url(#gl18)"/>
<rect x="188.1" y="146.23" width="114.40" height="5.00" fill="url(#gr18)"/>
<rect x="52.2" y="152.73" width="4.8" height="5.00" fill="#7e4e92"/>
<rect x="180.3" y="152.73" width="4.6" height="5.00" fill="#7e4e92"/>
<rect x="59.2" y="152.73" width="115.10" height="5.00" fill="url(#gl19)"/>
<rect x="188.1" y="152.73" width="114.40" height="5.00" fill="url(#gr19)"/>
<rect x="52.2" y="159.24" width="4.8" height="5.00" fill="#7e4e92"/>
<rect x="180.3" y="159.24" width="4.6" height="5.00" fill="#7e4e92"/>
<rect x="59.2" y="159.24" width="115.10" height="5.00" fill="url(#gl20)"/>
<rect x="188.1" y="159.24" width="114.40" height="5.00" fill="url(#gr20)"/>
<rect x="52.2" y="165.74" width="4.8" height="5.00" fill="#7e4e92"/>
<rect x="180.3" y="165.74" width="4.6" height="5.00" fill="#7e4e92"/>
<rect x="59.2" y="165.74" width="115.10" height="5.00" fill="url(#gl21)"/>
<rect x="188.1" y="165.74" width="114.40" height="5.00" fill="url(#gr21)"/>
<rect x="52.2" y="172.24" width="4.8" height="5.00" fill="#7e4e92"/>
<rect x="180.3" y="172.24" width="4.6" height="5.00" fill="#7e4e92"/>
<rect x="59.2" y="172.24" width="115.10" height="5.00" fill="url(#gl22)"/>
<rect x="188.1" y="172.24" width="114.40" height="5.00" fill="url(#gr22)"/>
<rect x="52.2" y="178.74" width="4.8" height="5.00" fill="#70a383"/>
<rect x="180.3" y="178.74" width="4.6" height="5.00" fill="#70a383"/>
<rect x="59.2" y="178.74" width="115.10" height="5.00" fill="url(#gl23)"/>
<rect x="188.1" y="178.74" width="114.40" height="5.00" fill="url(#gr23)"/>
<rect x="52.2" y="185.24" width="4.8" height="5.00" fill="#70a383"/>
<rect x="180.3" y="185.24" width="4.6" height="5.00" fill="#70a383"/>
<rect x="59.2" y="185.24" width="115.10" height="5.00" fill="url(#gl24)"/>
<rect x="188.1" y="185.24" width="114.40" height="5.00" fill="url(#gr24)"/>
<rect x="52.2" y="191.75" width="4.8" height="5.00" fill="#70a383"/>
<rect x="180.3" y="191.75" width="4.6" height="5.00" fill="#70a383"/>
<rect x="59.2" y="191.75" width="115.10" height="5.00" fill="url(#gl25)"/>
<rect x="188.1" y="191.75" width="114.40" height="5.00" fill="url(#gr25)"/>
<rect x="52.2" y="198.25" width="4.8" height="5.00" fill="#70a383"/>
<rect x="180.3" y="198.25" width="4.6" height="5.00" fill="#70a383"/>
<rect x="59.2" y="198.25" width="115.10" height="5.00" fill="url(#gl26)"/>
<rect x="188.1" y="198.25" width="114.40" height="5.00" fill="url(#gr26)"/>
<rect x="52.2" y="204.75" width="4.8" height="5.00" fill="#70a383"/>
<rect x="180.3" y="204.75" width="4.6" height="5.00" fill="#70a383"/>
<rect x="59.2" y="204.75" width="115.10" height="5.00" fill="url(#gl27)"/>
<rect x="188.1" y="204.75" width="114.40" height="5.00" fill="url(#gr27)"/>
<rect x="52.2" y="211.25" width="4.8" height="5.00" fill="#70a383"/>
<rect x="180.3" y="211.25" width="4.6" height="5.00" fill="#70a383"/>
<rect x="59.2" y="211.25" width="115.10" height="5.00" fill="url(#gl28)"/>
<rect x="188.1" y="211.25" width="114.40" height="5.00" fill="url(#gr28)"/>
<rect x="52.2" y="217.75" width="4.8" height="5.00" fill="#70a383"/>
<rect x="180.3" y="217.75" width="4.6" height="5.00" fill="#70a383"/>
<rect x="59.2" y="217.75" width="115.10" height="5.00" fill="url(#gl29)"/>
<rect x="188.1" y="217.75" width="114.40" height="5.00" fill="url(#gr29)"/>
<rect x="52.2" y="224.25" width="4.8" height="5.00" fill="#70a383"/>
<rect x="180.3" y="224.25" width="4.6" height="5.00" fill="#70a383"/>
<rect x="59.2" y="224.25" width="115.10" height="5.00" fill="url(#gl30)"/>
<rect x="188.1" y="224.25" width="114.40" height="5.00" fill="url(#gr30)"/>
<rect x="52.2" y="230.76" width="4.8" height="5.00" fill="#70a383"/>
<rect x="180.3" y="230.76" width="4.6" height="5.00" fill="#70a383"/>
<rect x="59.2" y="230.76" width="115.10" height="5.00" fill="url(#gl31)"/>
<rect x="188.1" y="230.76" width="114.40" height="5.00" fill="url(#gr31)"/>
<rect x="52.2" y="237.26" width="4.8" height="5.00" fill="#70a383"/>
<rect x="180.3" y="237.26" width="4.6" height="5.00" fill="#70a383"/>
<rect x="59.2" y="237.26" width="115.10" height="5.00" fill="url(#gl32)"/>
<rect x="188.1" y="237.26" width="114.40" height="5.00" fill="url(#gr32)"/>
<rect x="52.2" y="243.76" width="4.8" height="5.00" fill="#70a383"/>
<rect x="180.3" y="243.76" width="4.6" height="5.00" fill="#70a383"/>
<rect x="59.2" y="243.76" width="115.10" height="5.00" fill="url(#gl33)"/>
<rect x="188.1" y="243.76" width="114.40" height="5.00" fill="url(#gr33)"/>
<rect x="52.2" y="250.26" width="4.8" height="5.00" fill="#70a383"/>
<rect x="180.3" y="250.26" width="4.6" height="5.00" fill="#70a383"/>
<rect x="59.2" y="250.26" width="115.10" height="5.00" fill="url(#gl34)"/>
<rect x="188.1" y="250.26" width="114.40" height="5.00" fill="url(#gr34)"/>
<rect x="52.2" y="256.76" width="4.8" height="5.00" fill="#70a383"/>
<rect x="180.3" y="256.76" width="4.6" height="5.00" fill="#70a383"/>
<rect x="59.2" y="256.76" width="115.10" height="5.00" fill="url(#gl35)"/>
<rect x="188.1" y="256.76" width="114.40" height="5.00" fill="url(#gr35)"/>
<rect x="52.2" y="263.27" width="4.8" height="5.00" fill="#70a383"/>
<rect x="180.3" y="263.27" width="4.6" height="5.00" fill="#70a383"/>
<rect x="59.2" y="263.27" width="115.10" height="5.00" fill="url(#gl36)"/>
<rect x="188.1" y="263.27" width="114.40" height="5.00" fill="url(#gr36)"/>
<rect x="52.2" y="269.77" width="4.8" height="5.00" fill="#70a383"/>
<rect x="180.3" y="269.77" width="4.6" height="5.00" fill="#70a383"/>
<rect x="59.2" y="269.77" width="115.10" height="5.00" fill="url(#gl37)"/>
<rect x="188.1" y="269.77" width="114.40" height="5.00" fill="url(#gr37)"/>
<rect x="52.2" y="276.27" width="4.8" height="5.00" fill="#70a383"/>
<rect x="180.3" y="276.27" width="4.6" height="5.00" fill="#70a383"/>
<rect x="59.2" y="276.27" width="115.10" height="5.00" fill="url(#gl38)"/>
<rect x="188.1" y="276.27" width="114.40" height="5.00" fill="url(#gr38)"/>
<rect x="52.2" y="282.77" width="4.8" height="5.00" fill="#70a383"/>
<rect x="180.3" y="282.77" width="4.6" height="5.00" fill="#70a383"/>
<rect x="59.2" y="282.77" width="115.10" height="5.00" fill="url(#gl39)"/>
<rect x="188.1" y="282.77" width="114.40" height="5.00" fill="url(#gr39)"/>
<rect x="52.2" y="289.27" width="4.8" height="5.00" fill="#70a383"/>
<rect x="180.3" y="289.27" width="4.6" height="5.00" fill="#70a383"/>
<rect x="59.2" y="289.27" width="115.10" height="5.00" fill="url(#gl40)"/>
<rect x="188.1" y="289.27" width="114.40" height="5.00" fill="url(#gr40)"/>
<rect x="52.2" y="295.77" width="4.8" height="5.00" fill="#70a383"/>
<rect x="180.3" y="295.77" width="4.6" height="5.00" fill="#70a383"/>
<rect x="59.2" y="295.77" width="115.10" height="5.00" fill="url(#gl41)"/>
<rect x="188.1" y="295.77" width="114.40" height="5.00" fill="url(#gr41)"/>
<rect x="52.2" y="302.28" width="4.8" height="5.00" fill="#70a383"/>
<rect x="180.3" y="302.28" width="4.6" height="5.00" fill="#70a383"/>
<rect x="59.2" y="302.28" width="115.10" height="5.00" fill="url(#gl42)"/>
<rect x="188.1" y="302.28" width="114.40" height="5.00" fill="url(#gr42)"/>
<rect x="52.2" y="308.78" width="4.8" height="5.00" fill="#70a383"/>
<rect x="180.3" y="308.78" width="4.6" height="5.00" fill="#70a383"/>
<rect x="59.2" y="308.78" width="115.10" height="5.00" fill="url(#gl43)"/>
<rect x="188.1" y="308.78" width="114.40" height="5.00" fill="url(#gr43)"/>
<rect x="52.2" y="315.28" width="4.8" height="5.00" fill="#70a383"/>
<rect x="180.3" y="315.28" width="4.6" height="5.00" fill="#70a383"/>
<rect x="59.2" y="315.28" width="115.10" height="5.00" fill="url(#gl44)"/>
<rect x="188.1" y="315.28" width="114.40" height="5.00" fill="url(#gr44)"/>
<rect x="52.2" y="321.78" width="4.8" height="5.00" fill="#70a383"/>
<rect x="180.3" y="321.78" width="4.6" height="5.00" fill="#70a383"/>
<rect x="59.2" y="321.78" width="115.10" height="5.00" fill="url(#gl45)"/>
<rect x="188.1" y="321.78" width="114.40" height="5.00" fill="url(#gr45)"/>
<rect x="52.2" y="328.28" width="4.8" height="5.00" fill="#70a383"/>
<rect x="180.3" y="328.28" width="4.6" height="5.00" fill="#70a383"/>
<rect x="59.2" y="328.28" width="115.10" height="5.00" fill="url(#gl46)"/>
<rect x="188.1" y="328.28" width="114.40" height="5.00" fill="url(#gr46)"/>
<rect x="52.2" y="334.79" width="4.8" height="5.00" fill="#70a383"/>
<rect x="180.3" y="334.79" width="4.6" height="5.00" fill="#70a383"/>
<rect x="59.2" y="334.79" width="115.10" height="5.00" fill="url(#gl47)"/>
<rect x="188.1" y="334.79" width="114.40" height="5.00" fill="url(#gr47)"/>
<rect x="52.2" y="341.29" width="4.8" height="5.00" fill="#70a383"/>
<rect x="180.3" y="341.29" width="4.6" height="5.00" fill="#70a383"/>
<rect x="59.2" y="341.29" width="115.10" height="5.00" fill="url(#gl48)"/>
<rect x="188.1" y="341.29" width="114.40" height="5.00" fill="url(#gr48)"/>
<rect x="52.2" y="347.79" width="4.8" height="5.00" fill="#70a383"/>
<rect x="180.3" y="347.79" width="4.6" height="5.00" fill="#70a383"/>
<rect x="59.2" y="347.79" width="115.10" height="5.00" fill="url(#gl49)"/>
<rect x="188.1" y="347.79" width="114.40" height="5.00" fill="url(#gr49)"/>
<rect x="52.2" y="354.29" width="4.8" height="5.00" fill="#70a383"/>
<rect x="180.3" y="354.29" width="4.6" height="5.00" fill="#70a383"/>
<rect x="59.2" y="354.29" width="115.10" height="5.00" fill="url(#gl50)"/>
<rect x="188.1" y="354.29" width="114.40" height="5.00" fill="url(#gr50)"/>
<rect x="52.2" y="360.79" width="4.8" height="5.00" fill="#70a383"/>
<rect x="180.3" y="360.79" width="4.6" height="5.00" fill="#70a383"/>
<rect x="59.2" y="360.79" width="115.10" height="5.00" fill="url(#gl51)"/>
<rect x="188.1" y="360.79" width="114.40" height="5.00" fill="url(#gr51)"/>
<rect x="52.2" y="367.29" width="4.8" height="5.00" fill="#70a383"/>
<rect x="180.3" y="367.29" width="4.6" height="5.00" fill="#70a383"/>
<rect x="59.2" y="367.29" width="115.10" height="5.00" fill="url(#gl52)"/>
<rect x="188.1" y="367.29" width="114.40" height="5.00" fill="url(#gr52)"/>
<rect x="52.2" y="373.80" width="4.8" height="5.00" fill="#70a383"/>
<rect x="180.3" y="373.80" width="4.6" height="5.00" fill="#70a383"/>
<rect x="59.2" y="373.80" width="115.10" height="5.00" fill="url(#gl53)"/>
<rect x="188.1" y="373.80" width="114.40" height="5.00" fill="url(#gr53)"/>
<rect x="52.2" y="380.30" width="4.8" height="5.00" fill="#70a383"/>
<rect x="180.3" y="380.30" width="4.6" height="5.00" fill="#70a383"/>
<rect x="59.2" y="380.30" width="115.10" height="5.00" fill="url(#gl54)"/>
<rect x="188.1" y="380.30" width="114.40" height="5.00" fill="url(#gr54)"/>
<rect x="50.6" y="29" width="1" height="149.5" fill="#f3d6f3"/>
<rect x="50.6" y="178.5" width="1" height="208.1" fill="#e2f3e6"/>
<rect x="178.6" y="29" width="1" height="149.5" fill="#f3d6f3"/>
<rect x="178.6" y="178.5" width="1" height="208.1" fill="#e2f3e6"/>
<text x="39.3" y="23.5" font-size="14" font-weight="bold">a</text>
<text x="116.6" y="23" font-size="8.9" font-weight="bold" text-anchor="middle">Global cell composition</text>
<text x="245.5" y="23" font-size="8.85" font-weight="bold" text-anchor="middle">Non-tumor compartment</text>
<text x="59.2" y="393.6" font-size="4.2" fill="#666" text-anchor="middle">0.0</text>
<text x="188.1" y="393.6" font-size="4.2" fill="#666" text-anchor="middle">0.0</text>
<text x="82.2" y="393.6" font-size="4.2" fill="#666" text-anchor="middle">0.2</text>
<text x="211.0" y="393.6" font-size="4.2" fill="#666" text-anchor="middle">0.2</text>
<text x="105.2" y="393.6" font-size="4.2" fill="#666" text-anchor="middle">0.4</text>
<text x="233.9" y="393.6" font-size="4.2" fill="#666" text-anchor="middle">0.4</text>
<text x="128.3" y="393.6" font-size="4.2" fill="#666" text-anchor="middle">0.6</text>
<text x="256.7" y="393.6" font-size="4.2" fill="#666" text-anchor="middle">0.6</text>
<text x="151.3" y="393.6" font-size="4.2" fill="#666" text-anchor="middle">0.8</text>
<text x="279.6" y="393.6" font-size="4.2" fill="#666" text-anchor="middle">0.8</text>
<text x="174.3" y="393.6" font-size="4.2" fill="#666" text-anchor="middle">1.0</text>
<text x="302.5" y="393.6" font-size="4.2" fill="#666" text-anchor="middle">1.0</text>
<rect x="53.2" y="400.8" width="72.4" height="26.3" rx="1.5" fill="#fff" stroke="#dedede" stroke-width="0.8"/>
<text x="55.3" y="408.2" font-size="7.1">CB6</text>
<rect x="55.6" y="410.6" width="6.8" height="6.2" fill="#7d4e8d"/>
<text x="64.8" y="416.4" font-size="7.1" fill="#8a8a8a">No Clinical Benefit</text>
<rect x="55.6" y="418.8" width="6.8" height="6.2" fill="#74a88a"/>
<text x="64.8" y="424.6" font-size="7.1" fill="#b4c2b8">Clincal Benefit</text>
<rect x="128.3" y="401" width="145" height="65.7" rx="1.5" fill="#fff" stroke="#dedede" stroke-width="0.8"/>
<text x="129.8" y="408" font-size="7.1">Cell types</text>
<rect x="130.6" y="409.6" width="7.4" height="6.4" fill="#d6386e"/>
<text x="140.6" y="415.4" font-size="7.1" fill="#d0608a">Tumor cells</text>
<rect x="130.6" y="417.6" width="7.4" height="6.4" fill="#4666de"/>
<text x="140.6" y="423.4" font-size="7.1" fill="#5a70c8">B cells</text>
<rect x="130.6" y="425.6" width="7.4" height="6.4" fill="#46a6e4"/>
<text x="140.6" y="431.4" font-size="7.1" fill="#78b8e0">Plasma cells</text>
<rect x="130.6" y="433.6" width="7.4" height="6.4" fill="#3fa83f"/>
<text x="140.6" y="439.4" font-size="7.1" fill="#98c088">CD4 T cells</text>
<rect x="130.6" y="441.6" width="7.4" height="6.4" fill="#c9d038"/>
<text x="140.6" y="447.4" font-size="7.1" fill="#222">CD 4 Treg cells</text>
<rect x="130.6" y="449.6" width="7.4" height="6.4" fill="#2ad3a2"/>
<text x="140.6" y="455.4" font-size="7.1" fill="#222">CD8 T cells</text>
<rect x="130.6" y="457.6" width="7.4" height="6.4" fill="#d77fd8"/>
<text x="140.6" y="463.4" font-size="7.1" fill="#e2b0dc">Endothilial cells</text>
<rect x="202.5" y="410.4" width="7" height="6.4" fill="#5a2a0c"/>
<text x="212" y="416.2" font-size="7.1" fill="#4a3020">Fibroblast cells</text>
<rect x="202.5" y="418.4" width="7" height="6.4" fill="#e07c5c"/>
<text x="212" y="424.2" font-size="7.1" fill="#e0a898">Myofibroblast cells</text>
<rect x="202.5" y="426.4" width="7" height="6.4" fill="#4c1890"/>
<text x="212" y="432.2" font-size="7.1" fill="#3a2068">Granulocyte cells</text>
<rect x="202.5" y="434.4" width="7" height="6.4" fill="#9636ea"/>
<text x="212" y="440.2" font-size="7.1" fill="#8a40d0">Macrophage cells</text>
<rect x="202.5" y="442.4" width="7" height="6.4" fill="#97b5a6"/>
<text x="212" y="448.2" font-size="7.1" fill="#b8c6bf">Immune NOS cells</text>
<rect x="202.5" y="450.4" width="7" height="6.4" fill="#aea6cc"/>
<text x="212" y="456.2" font-size="7.1" fill="#bcb6cc">Myeloid NOS cells</text>
<rect x="202.5" y="458.4" width="7" height="6.4" fill="#7a7a7a"/>
<text x="212" y="464.2" font-size="7.1" fill="#777">Other cells</text>
<g class="ce">
<text x="309.0" y="22.9" font-size="14" font-weight="bold">b</text>
<rect x="365.6" y="61.50" width="9.10" height="9.38" fill="#22a884"/>
<rect x="379.30" y="61.50" width="9.50" height="9.38" fill="#3b528a"/>
<rect x="388.50" y="61.50" width="9.50" height="9.38" fill="#3f4988"/>
<rect x="397.70" y="61.50" width="9.50" height="9.38" fill="#32668d"/>
<rect x="406.90" y="61.50" width="9.50" height="9.38" fill="#32668d"/>
<rect x="416.10" y="61.50" width="9.50" height="9.38" fill="#355f8d"/>
<rect x="425.30" y="61.50" width="9.50" height="9.38" fill="#355f8d"/>
<rect x="434.50" y="61.50" width="9.50" height="9.38" fill="#33648d"/>
<rect x="462.20" y="61.50" width="9.47" height="9.38" fill="#3b528a"/>
<rect x="471.37" y="61.50" width="9.47" height="9.38" fill="#423e83"/>
<rect x="480.54" y="61.50" width="9.47" height="9.38" fill="#229c88"/>
<rect x="489.71" y="61.50" width="9.47" height="9.38" fill="#229c88"/>
<rect x="498.88" y="61.50" width="9.47" height="9.38" fill="#229c88"/>
<rect x="508.05" y="61.50" width="9.47" height="9.38" fill="#229c88"/>
<rect x="517.22" y="61.50" width="9.47" height="9.38" fill="#3b528a"/>
<rect x="526.39" y="61.50" width="9.47" height="9.38" fill="#414487"/>
<rect x="535.56" y="61.50" width="9.47" height="9.38" fill="#355f8d"/>
<rect x="544.73" y="61.50" width="9.47" height="9.38" fill="#3f4988"/>
<rect x="553.90" y="61.50" width="9.47" height="9.38" fill="#21918c"/>
<rect x="563.07" y="61.50" width="9.47" height="9.38" fill="#21918c"/>
<rect x="572.24" y="61.50" width="9.47" height="9.38" fill="#26848d"/>
<rect x="581.41" y="61.50" width="9.47" height="9.38" fill="#287d8e"/>
<rect x="590.58" y="61.50" width="9.47" height="9.38" fill="#21918c"/>
<rect x="599.75" y="61.50" width="9.47" height="9.38" fill="#21918c"/>
<rect x="608.92" y="61.50" width="9.47" height="9.38" fill="#2a788e"/>
<rect x="618.09" y="61.50" width="9.47" height="9.38" fill="#26848d"/>
<rect x="627.26" y="61.50" width="9.47" height="9.38" fill="#26848d"/>
<rect x="636.43" y="61.50" width="9.47" height="9.38" fill="#26848d"/>
<rect x="645.60" y="61.50" width="9.47" height="9.38" fill="#26848d"/>
<text x="360.4" y="68.24" font-size="6.0" fill="#111" text-anchor="end">B cells</text>
<rect x="365.6" y="70.58" width="9.10" height="9.38" fill="#9bd83c"/>
<rect x="379.30" y="70.58" width="9.50" height="9.38" fill="#229c88"/>
<rect x="388.50" y="70.58" width="9.50" height="9.38" fill="#29ad80"/>
<rect x="397.70" y="70.58" width="9.50" height="9.38" fill="#22a884"/>
<rect x="406.90" y="70.58" width="9.50" height="9.38" fill="#29ad80"/>
<rect x="416.10" y="70.58" width="9.50" height="9.38" fill="#3dba74"/>
<rect x="425.30" y="70.58" width="9.50" height="9.38" fill="#229c88"/>
<rect x="434.50" y="70.58" width="9.50" height="9.38" fill="#229c88"/>
<rect x="462.20" y="70.58" width="9.47" height="9.38" fill="#21918c"/>
<rect x="471.37" y="70.58" width="9.47" height="9.38" fill="#26848d"/>
<rect x="480.54" y="70.58" width="9.47" height="9.38" fill="#9bd83c"/>
<rect x="489.71" y="70.58" width="9.47" height="9.38" fill="#9bd83c"/>
<rect x="498.88" y="70.58" width="9.47" height="9.38" fill="#9bd83c"/>
<rect x="508.05" y="70.58" width="9.47" height="9.38" fill="#9bd83c"/>
<rect x="517.22" y="70.58" width="9.47" height="9.38" fill="#26848d"/>
<rect x="526.39" y="70.58" width="9.47" height="9.38" fill="#2c738e"/>
<rect x="535.56" y="70.58" width="9.47" height="9.38" fill="#21918c"/>
<rect x="544.73" y="70.58" width="9.47" height="9.38" fill="#26848d"/>
<rect x="553.90" y="70.58" width="9.47" height="9.38" fill="#7ad151"/>
<rect x="563.07" y="70.58" width="9.47" height="9.38" fill="#7ad151"/>
<rect x="572.24" y="70.58" width="9.47" height="9.38" fill="#44bf70"/>
<rect x="581.41" y="70.58" width="9.47" height="9.38" fill="#229c88"/>
<rect x="590.58" y="70.58" width="9.47" height="9.38" fill="#7ad151"/>
<rect x="599.75" y="70.58" width="9.47" height="9.38" fill="#7ad151"/>
<rect x="608.92" y="70.58" width="9.47" height="9.38" fill="#44bf70"/>
<rect x="618.09" y="70.58" width="9.47" height="9.38" fill="#44bf70"/>
<rect x="627.26" y="70.58" width="9.47" height="9.38" fill="#44bf70"/>
<rect x="636.43" y="70.58" width="9.47" height="9.38" fill="#5fc860"/>
<rect x="645.60" y="70.58" width="9.47" height="9.38" fill="#44bf70"/>
<text x="360.4" y="77.32" font-size="6.0" fill="#111" text-anchor="end">CD4 T cells</text>
<rect x="365.6" y="79.66" width="9.10" height="9.38" fill="#33b47a"/>
<rect x="379.30" y="79.66" width="9.50" height="9.38" fill="#26848d"/>
<rect x="388.50" y="79.66" width="9.50" height="9.38" fill="#29ad80"/>
<rect x="397.70" y="79.66" width="9.50" height="9.38" fill="#21918c"/>
<rect x="406.90" y="79.66" width="9.50" height="9.38" fill="#26848d"/>
<rect x="416.10" y="79.66" width="9.50" height="9.38" fill="#229c88"/>
<rect x="425.30" y="79.66" width="9.50" height="9.38" fill="#21918c"/>
<rect x="434.50" y="79.66" width="9.50" height="9.38" fill="#21918c"/>
<rect x="462.20" y="79.66" width="9.47" height="9.38" fill="#26848d"/>
<rect x="471.37" y="79.66" width="9.47" height="9.38" fill="#32668d"/>
<rect x="480.54" y="79.66" width="9.47" height="9.38" fill="#33b47a"/>
<rect x="489.71" y="79.66" width="9.47" height="9.38" fill="#33b47a"/>
<rect x="498.88" y="79.66" width="9.47" height="9.38" fill="#33b47a"/>
<rect x="508.05" y="79.66" width="9.47" height="9.38" fill="#33b47a"/>
<rect x="517.22" y="79.66" width="9.47" height="9.38" fill="#355f8d"/>
<rect x="526.39" y="79.66" width="9.47" height="9.38" fill="#414487"/>
<rect x="535.56" y="79.66" width="9.47" height="9.38" fill="#306c8e"/>
<rect x="544.73" y="79.66" width="9.47" height="9.38" fill="#355f8d"/>
<rect x="553.90" y="79.66" width="9.47" height="9.38" fill="#22a884"/>
<rect x="563.07" y="79.66" width="9.47" height="9.38" fill="#22a884"/>
<rect x="572.24" y="79.66" width="9.47" height="9.38" fill="#26848d"/>
<rect x="581.41" y="79.66" width="9.47" height="9.38" fill="#2a788e"/>
<rect x="590.58" y="79.66" width="9.47" height="9.38" fill="#22a884"/>
<rect x="599.75" y="79.66" width="9.47" height="9.38" fill="#22a884"/>
<rect x="608.92" y="79.66" width="9.47" height="9.38" fill="#229c88"/>
<rect x="618.09" y="79.66" width="9.47" height="9.38" fill="#229c88"/>
<rect x="627.26" y="79.66" width="9.47" height="9.38" fill="#21918c"/>
<rect x="636.43" y="79.66" width="9.47" height="9.38" fill="#229c88"/>
<rect x="645.60" y="79.66" width="9.47" height="9.38" fill="#26848d"/>
<text x="360.4" y="86.40" font-size="6.0" fill="#111" text-anchor="end">CD4 Treg cells</text>
<rect x="365.6" y="88.74" width="9.10" height="9.38" fill="#5fc860"/>
<rect x="379.30" y="88.74" width="9.50" height="9.38" fill="#4fc36a"/>
<rect x="388.50" y="88.74" width="9.50" height="9.38" fill="#21918c"/>
<rect x="397.70" y="88.74" width="9.50" height="9.38" fill="#229c88"/>
<rect x="406.90" y="88.74" width="9.50" height="9.38" fill="#22a884"/>
<rect x="416.10" y="88.74" width="9.50" height="9.38" fill="#44bf70"/>
<rect x="425.30" y="88.74" width="9.50" height="9.38" fill="#229c88"/>
<rect x="434.50" y="88.74" width="9.50" height="9.38" fill="#21918c"/>
<rect x="462.20" y="88.74" width="9.47" height="9.38" fill="#21918c"/>
<rect x="471.37" y="88.74" width="9.47" height="9.38" fill="#26848d"/>
<rect x="480.54" y="88.74" width="9.47" height="9.38" fill="#6fcd57"/>
<rect x="489.71" y="88.74" width="9.47" height="9.38" fill="#6fcd57"/>
<rect x="498.88" y="88.74" width="9.47" height="9.38" fill="#6fcd57"/>
<rect x="508.05" y="88.74" width="9.47" height="9.38" fill="#6fcd57"/>
<rect x="517.22" y="88.74" width="9.47" height="9.38" fill="#287d8e"/>
<rect x="526.39" y="88.74" width="9.47" height="9.38" fill="#306c8e"/>
<rect x="535.56" y="88.74" width="9.47" height="9.38" fill="#229c88"/>
<rect x="544.73" y="88.74" width="9.47" height="9.38" fill="#26848d"/>
<rect x="553.90" y="88.74" width="9.47" height="9.38" fill="#5fc860"/>
<rect x="563.07" y="88.74" width="9.47" height="9.38" fill="#5fc860"/>
<rect x="572.24" y="88.74" width="9.47" height="9.38" fill="#22a884"/>
<rect x="581.41" y="88.74" width="9.47" height="9.38" fill="#21918c"/>
<rect x="590.58" y="88.74" width="9.47" height="9.38" fill="#5fc860"/>
<rect x="599.75" y="88.74" width="9.47" height="9.38" fill="#5fc860"/>
<rect x="608.92" y="88.74" width="9.47" height="9.38" fill="#33b47a"/>
<rect x="618.09" y="88.74" width="9.47" height="9.38" fill="#33b47a"/>
<rect x="627.26" y="88.74" width="9.47" height="9.38" fill="#33b47a"/>
<rect x="636.43" y="88.74" width="9.47" height="9.38" fill="#44bf70"/>
<rect x="645.60" y="88.74" width="9.47" height="9.38" fill="#229c88"/>
<text x="360.4" y="95.48" font-size="6.0" fill="#111" text-anchor="end">CD8 T cells</text>
<rect x="365.6" y="97.82" width="9.10" height="9.38" fill="#5fc860"/>
<rect x="379.30" y="97.82" width="9.50" height="9.38" fill="#355f8d"/>
<rect x="388.50" y="97.82" width="9.50" height="9.38" fill="#44347e"/>
<rect x="397.70" y="97.82" width="9.50" height="9.38" fill="#21918c"/>
<rect x="406.90" y="97.82" width="9.50" height="9.38" fill="#26848d"/>
<rect x="416.10" y="97.82" width="9.50" height="9.38" fill="#414487"/>
<rect x="425.30" y="97.82" width="9.50" height="9.38" fill="#3b528a"/>
<rect x="434.50" y="97.82" width="9.50" height="9.38" fill="#3b528a"/>
<rect x="462.20" y="97.82" width="9.47" height="9.38" fill="#306c8e"/>
<rect x="471.37" y="97.82" width="9.47" height="9.38" fill="#414487"/>
<rect x="480.54" y="97.82" width="9.47" height="9.38" fill="#3dba74"/>
<rect x="489.71" y="97.82" width="9.47" height="9.38" fill="#3dba74"/>
<rect x="498.88" y="97.82" width="9.47" height="9.38" fill="#3dba74"/>
<rect x="508.05" y="97.82" width="9.47" height="9.38" fill="#3dba74"/>
<rect x="517.22" y="97.82" width="9.47" height="9.38" fill="#306c8e"/>
<rect x="526.39" y="97.82" width="9.47" height="9.38" fill="#355f8d"/>
<rect x="535.56" y="97.82" width="9.47" height="9.38" fill="#355f8d"/>
<rect x="544.73" y="97.82" width="9.47" height="9.38" fill="#355f8d"/>
<rect x="553.90" y="97.82" width="9.47" height="9.38" fill="#33b47a"/>
<rect x="563.07" y="97.82" width="9.47" height="9.38" fill="#33b47a"/>
<rect x="572.24" y="97.82" width="9.47" height="9.38" fill="#26848d"/>
<rect x="581.41" y="97.82" width="9.47" height="9.38" fill="#2a788e"/>
<rect x="590.58" y="97.82" width="9.47" height="9.38" fill="#44bf70"/>
<rect x="599.75" y="97.82" width="9.47" height="9.38" fill="#33b47a"/>
<rect x="608.92" y="97.82" width="9.47" height="9.38" fill="#29ad80"/>
<rect x="618.09" y="97.82" width="9.47" height="9.38" fill="#29ad80"/>
<rect x="627.26" y="97.82" width="9.47" height="9.38" fill="#29ad80"/>
<rect x="636.43" y="97.82" width="9.47" height="9.38" fill="#29ad80"/>
<rect x="645.60" y="97.82" width="9.47" height="9.38" fill="#2a788e"/>
<text x="360.4" y="104.56" font-size="6.0" fill="#111" text-anchor="end">Endothilial cells</text>
<rect x="365.6" y="106.90" width="9.10" height="9.38" fill="#6fcd57"/>
<rect x="379.30" y="106.90" width="9.50" height="9.38" fill="#306c8e"/>
<rect x="388.50" y="106.90" width="9.50" height="9.38" fill="#414487"/>
<rect x="397.70" y="106.90" width="9.50" height="9.38" fill="#2a788e"/>
<rect x="406.90" y="106.90" width="9.50" height="9.38" fill="#306c8e"/>
<rect x="416.10" y="106.90" width="9.50" height="9.38" fill="#355f8d"/>
<rect x="425.30" y="106.90" width="9.50" height="9.38" fill="#26848d"/>
<rect x="434.50" y="106.90" width="9.50" height="9.38" fill="#26848d"/>
<rect x="462.20" y="106.90" width="9.47" height="9.38" fill="#2c738e"/>
<rect x="471.37" y="106.90" width="9.47" height="9.38" fill="#3f4988"/>
<rect x="480.54" y="106.90" width="9.47" height="9.38" fill="#5fc860"/>
<rect x="489.71" y="106.90" width="9.47" height="9.38" fill="#44bf70"/>
<rect x="498.88" y="106.90" width="9.47" height="9.38" fill="#44bf70"/>
<rect x="508.05" y="106.90" width="9.47" height="9.38" fill="#3dba74"/>
<rect x="517.22" y="106.90" width="9.47" height="9.38" fill="#2c738e"/>
<rect x="526.39" y="106.90" width="9.47" height="9.38" fill="#355f8d"/>
<rect x="535.56" y="106.90" width="9.47" height="9.38" fill="#355f8d"/>
<rect x="544.73" y="106.90" width="9.47" height="9.38" fill="#355f8d"/>
<rect x="553.90" y="106.90" width="9.47" height="9.38" fill="#33b47a"/>
<rect x="563.07" y="106.90" width="9.47" height="9.38" fill="#33b47a"/>
<rect x="572.24" y="106.90" width="9.47" height="9.38" fill="#26848d"/>
<rect x="581.41" y="106.90" width="9.47" height="9.38" fill="#2a788e"/>
<rect x="590.58" y="106.90" width="9.47" height="9.38" fill="#4fc36a"/>
<rect x="599.75" y="106.90" width="9.47" height="9.38" fill="#4fc36a"/>
<rect x="608.92" y="106.90" width="9.47" height="9.38" fill="#21918c"/>
<rect x="618.09" y="106.90" width="9.47" height="9.38" fill="#33b47a"/>
<rect x="627.26" y="106.90" width="9.47" height="9.38" fill="#33b47a"/>
<rect x="636.43" y="106.90" width="9.47" height="9.38" fill="#29ad80"/>
<rect x="645.60" y="106.90" width="9.47" height="9.38" fill="#2a788e"/>
<text x="360.4" y="113.64" font-size="6.0" fill="#111" text-anchor="end">Fibroblast cells</text>
<rect x="365.6" y="115.98" width="9.10" height="9.38" fill="#4fc36a"/>
<rect x="379.30" y="115.98" width="9.50" height="9.38" fill="#2c738e"/>
<rect x="388.50" y="115.98" width="9.50" height="9.38" fill="#414487"/>
<rect x="397.70" y="115.98" width="9.50" height="9.38" fill="#2a788e"/>
<rect x="406.90" y="115.98" width="9.50" height="9.38" fill="#306c8e"/>
<rect x="416.10" y="115.98" width="9.50" height="9.38" fill="#355f8d"/>
<rect x="425.30" y="115.98" width="9.50" height="9.38" fill="#3b528a"/>
<rect x="434.50" y="115.98" width="9.50" height="9.38" fill="#44347e"/>
<rect x="462.20" y="115.98" width="9.47" height="9.38" fill="#287d8e"/>
<rect x="471.37" y="115.98" width="9.47" height="9.38" fill="#306c8e"/>
<rect x="480.54" y="115.98" width="9.47" height="9.38" fill="#22a884"/>
<rect x="489.71" y="115.98" width="9.47" height="9.38" fill="#22a884"/>
<rect x="498.88" y="115.98" width="9.47" height="9.38" fill="#44bf70"/>
<rect x="508.05" y="115.98" width="9.47" height="9.38" fill="#44bf70"/>
<rect x="517.22" y="115.98" width="9.47" height="9.38" fill="#2c738e"/>
<rect x="526.39" y="115.98" width="9.47" height="9.38" fill="#2c738e"/>
<rect x="535.56" y="115.98" width="9.47" height="9.38" fill="#33b47a"/>
<rect x="544.73" y="115.98" width="9.47" height="9.38" fill="#33b47a"/>
<rect x="553.90" y="115.98" width="9.47" height="9.38" fill="#29ad80"/>
<rect x="563.07" y="115.98" width="9.47" height="9.38" fill="#29ad80"/>
<rect x="572.24" y="115.98" width="9.47" height="9.38" fill="#26848d"/>
<rect x="581.41" y="115.98" width="9.47" height="9.38" fill="#2c738e"/>
<rect x="590.58" y="115.98" width="9.47" height="9.38" fill="#33b47a"/>
<rect x="599.75" y="115.98" width="9.47" height="9.38" fill="#33b47a"/>
<rect x="608.92" y="115.98" width="9.47" height="9.38" fill="#229c88"/>
<rect x="618.09" y="115.98" width="9.47" height="9.38" fill="#229c88"/>
<rect x="627.26" y="115.98" width="9.47" height="9.38" fill="#287d8e"/>
<rect x="636.43" y="115.98" width="9.47" height="9.38" fill="#229c88"/>
<rect x="645.60" y="115.98" width="9.47" height="9.38" fill="#287d8e"/>
<text x="360.4" y="122.72" font-size="6.0" fill="#111" text-anchor="end">Granulocyte cells</text>
<rect x="365.6" y="125.06" width="9.10" height="9.38" fill="#44bf70"/>
<rect x="379.30" y="125.06" width="9.50" height="9.38" fill="#26848d"/>
<rect x="388.50" y="125.06" width="9.50" height="9.38" fill="#44347e"/>
<rect x="397.70" y="125.06" width="9.50" height="9.38" fill="#306c8e"/>
<rect x="406.90" y="125.06" width="9.50" height="9.38" fill="#306c8e"/>
<rect x="416.10" y="125.06" width="9.50" height="9.38" fill="#355f8d"/>
<rect x="425.30" y="125.06" width="9.50" height="9.38" fill="#355f8d"/>
<rect x="434.50" y="125.06" width="9.50" height="9.38" fill="#32668d"/>
<rect x="462.20" y="125.06" width="9.47" height="9.38" fill="#2c738e"/>
<rect x="471.37" y="125.06" width="9.47" height="9.38" fill="#3b528a"/>
<rect x="480.54" y="125.06" width="9.47" height="9.38" fill="#44bf70"/>
<rect x="489.71" y="125.06" width="9.47" height="9.38" fill="#44bf70"/>
<rect x="498.88" y="125.06" width="9.47" height="9.38" fill="#44bf70"/>
<rect x="508.05" y="125.06" width="9.47" height="9.38" fill="#44bf70"/>
<rect x="517.22" y="125.06" width="9.47" height="9.38" fill="#306c8e"/>
<rect x="526.39" y="125.06" width="9.47" height="9.38" fill="#355f8d"/>
<rect x="535.56" y="125.06" width="9.47" height="9.38" fill="#26848d"/>
<rect x="544.73" y="125.06" width="9.47" height="9.38" fill="#2a788e"/>
<rect x="553.90" y="125.06" width="9.47" height="9.38" fill="#22a884"/>
<rect x="563.07" y="125.06" width="9.47" height="9.38" fill="#22a884"/>
<rect x="572.24" y="125.06" width="9.47" height="9.38" fill="#287d8e"/>
<rect x="581.41" y="125.06" width="9.47" height="9.38" fill="#2c738e"/>
<rect x="590.58" y="125.06" width="9.47" height="9.38" fill="#33b47a"/>
<rect x="599.75" y="125.06" width="9.47" height="9.38" fill="#33b47a"/>
<rect x="608.92" y="125.06" width="9.47" height="9.38" fill="#229c88"/>
<rect x="618.09" y="125.06" width="9.47" height="9.38" fill="#229c88"/>
<rect x="627.26" y="125.06" width="9.47" height="9.38" fill="#21918c"/>
<rect x="636.43" y="125.06" width="9.47" height="9.38" fill="#29ad80"/>
<rect x="645.60" y="125.06" width="9.47" height="9.38" fill="#229c88"/>
<text x="360.4" y="131.80" font-size="6.0" fill="#111" text-anchor="end">Immune NOS cells</text>
<rect x="365.6" y="134.14" width="9.10" height="9.38" fill="#bddf26"/>
<rect x="379.30" y="134.14" width="9.50" height="9.38" fill="#229c88"/>
<rect x="388.50" y="134.14" width="9.50" height="9.38" fill="#26848d"/>
<rect x="397.70" y="134.14" width="9.50" height="9.38" fill="#22a884"/>
<rect x="406.90" y="134.14" width="9.50" height="9.38" fill="#22a884"/>
<rect x="416.10" y="134.14" width="9.50" height="9.38" fill="#22a884"/>
<rect x="425.30" y="134.14" width="9.50" height="9.38" fill="#29ad80"/>
<rect x="434.50" y="134.14" width="9.50" height="9.38" fill="#229c88"/>
<rect x="462.20" y="134.14" width="9.47" height="9.38" fill="#21918c"/>
<rect x="471.37" y="134.14" width="9.47" height="9.38" fill="#26848d"/>
<rect x="480.54" y="134.14" width="9.47" height="9.38" fill="#bddf26"/>
<rect x="489.71" y="134.14" width="9.47" height="9.38" fill="#bddf26"/>
<rect x="498.88" y="134.14" width="9.47" height="9.38" fill="#bddf26"/>
<rect x="508.05" y="134.14" width="9.47" height="9.38" fill="#bddf26"/>
<rect x="517.22" y="134.14" width="9.47" height="9.38" fill="#21918c"/>
<rect x="526.39" y="134.14" width="9.47" height="9.38" fill="#26848d"/>
<rect x="535.56" y="134.14" width="9.47" height="9.38" fill="#33b47a"/>
<rect x="544.73" y="134.14" width="9.47" height="9.38" fill="#229c88"/>
<rect x="553.90" y="134.14" width="9.47" height="9.38" fill="#bddf26"/>
<rect x="563.07" y="134.14" width="9.47" height="9.38" fill="#bddf26"/>
<rect x="572.24" y="134.14" width="9.47" height="9.38" fill="#7ad151"/>
<rect x="581.41" y="134.14" width="9.47" height="9.38" fill="#33b47a"/>
<rect x="590.58" y="134.14" width="9.47" height="9.38" fill="#cae126"/>
<rect x="599.75" y="134.14" width="9.47" height="9.38" fill="#cae126"/>
<rect x="608.92" y="134.14" width="9.47" height="9.38" fill="#7ad151"/>
<rect x="618.09" y="134.14" width="9.47" height="9.38" fill="#87d448"/>
<rect x="627.26" y="134.14" width="9.47" height="9.38" fill="#7ad151"/>
<rect x="636.43" y="134.14" width="9.47" height="9.38" fill="#9bd83c"/>
<rect x="645.60" y="134.14" width="9.47" height="9.38" fill="#7ad151"/>
<text x="360.4" y="140.88" font-size="6.0" fill="#111" text-anchor="end">Macrophage cells</text>
<rect x="365.6" y="143.22" width="9.10" height="9.38" fill="#33b47a"/>
<rect x="379.30" y="143.22" width="9.50" height="9.38" fill="#3b528a"/>
<rect x="388.50" y="143.22" width="9.50" height="9.38" fill="#482475"/>
<rect x="397.70" y="143.22" width="9.50" height="9.38" fill="#306c8e"/>
<rect x="406.90" y="143.22" width="9.50" height="9.38" fill="#355f8d"/>
<rect x="416.10" y="143.22" width="9.50" height="9.38" fill="#3b528a"/>
<rect x="425.30" y="143.22" width="9.50" height="9.38" fill="#3b528a"/>
<rect x="434.50" y="143.22" width="9.50" height="9.38" fill="#44347e"/>
<rect x="462.20" y="143.22" width="9.47" height="9.38" fill="#355f8d"/>
<rect x="471.37" y="143.22" width="9.47" height="9.38" fill="#44347e"/>
<rect x="480.54" y="143.22" width="9.47" height="9.38" fill="#22a884"/>
<rect x="489.71" y="143.22" width="9.47" height="9.38" fill="#22a884"/>
<rect x="498.88" y="143.22" width="9.47" height="9.38" fill="#22a884"/>
<rect x="508.05" y="143.22" width="9.47" height="9.38" fill="#22a884"/>
<rect x="517.22" y="143.22" width="9.47" height="9.38" fill="#355f8d"/>
<rect x="526.39" y="143.22" width="9.47" height="9.38" fill="#414487"/>
<rect x="535.56" y="143.22" width="9.47" height="9.38" fill="#32668d"/>
<rect x="544.73" y="143.22" width="9.47" height="9.38" fill="#355f8d"/>
<rect x="553.90" y="143.22" width="9.47" height="9.38" fill="#229c88"/>
<rect x="563.07" y="143.22" width="9.47" height="9.38" fill="#229c88"/>
<rect x="572.24" y="143.22" width="9.47" height="9.38" fill="#2a788e"/>
<rect x="581.41" y="143.22" width="9.47" height="9.38" fill="#355f8d"/>
<rect x="590.58" y="143.22" width="9.47" height="9.38" fill="#22a884"/>
<rect x="599.75" y="143.22" width="9.47" height="9.38" fill="#22a884"/>
<rect x="608.92" y="143.22" width="9.47" height="9.38" fill="#26848d"/>
<rect x="618.09" y="143.22" width="9.47" height="9.38" fill="#21918c"/>
<rect x="627.26" y="143.22" width="9.47" height="9.38" fill="#26848d"/>
<rect x="636.43" y="143.22" width="9.47" height="9.38" fill="#21918c"/>
<rect x="645.60" y="143.22" width="9.47" height="9.38" fill="#26848d"/>
<text x="360.4" y="149.96" font-size="6.0" fill="#111" text-anchor="end">Myeloid NOS cells</text>
<rect x="365.6" y="152.30" width="9.10" height="9.38" fill="#7ad151"/>
<rect x="379.30" y="152.30" width="9.50" height="9.38" fill="#306c8e"/>
<rect x="388.50" y="152.30" width="9.50" height="9.38" fill="#414487"/>
<rect x="397.70" y="152.30" width="9.50" height="9.38" fill="#2a788e"/>
<rect x="406.90" y="152.30" width="9.50" height="9.38" fill="#306c8e"/>
<rect x="416.10" y="152.30" width="9.50" height="9.38" fill="#414487"/>
<rect x="425.30" y="152.30" width="9.50" height="9.38" fill="#3b528a"/>
<rect x="434.50" y="152.30" width="9.50" height="9.38" fill="#440154"/>
<rect x="462.20" y="152.30" width="9.47" height="9.38" fill="#2a788e"/>
<rect x="471.37" y="152.30" width="9.47" height="9.38" fill="#375a8c"/>
<rect x="480.54" y="152.30" width="9.47" height="9.38" fill="#5fc860"/>
<rect x="489.71" y="152.30" width="9.47" height="9.38" fill="#5fc860"/>
<rect x="498.88" y="152.30" width="9.47" height="9.38" fill="#44bf70"/>
<rect x="508.05" y="152.30" width="9.47" height="9.38" fill="#33b47a"/>
<rect x="517.22" y="152.30" width="9.47" height="9.38" fill="#32668d"/>
<rect x="526.39" y="152.30" width="9.47" height="9.38" fill="#414487"/>
<rect x="535.56" y="152.30" width="9.47" height="9.38" fill="#306c8e"/>
<rect x="544.73" y="152.30" width="9.47" height="9.38" fill="#355f8d"/>
<rect x="553.90" y="152.30" width="9.47" height="9.38" fill="#44bf70"/>
<rect x="563.07" y="152.30" width="9.47" height="9.38" fill="#44bf70"/>
<rect x="572.24" y="152.30" width="9.47" height="9.38" fill="#21918c"/>
<rect x="581.41" y="152.30" width="9.47" height="9.38" fill="#355f8d"/>
<rect x="590.58" y="152.30" width="9.47" height="9.38" fill="#5fc860"/>
<rect x="599.75" y="152.30" width="9.47" height="9.38" fill="#5fc860"/>
<rect x="608.92" y="152.30" width="9.47" height="9.38" fill="#22a884"/>
<rect x="618.09" y="152.30" width="9.47" height="9.38" fill="#22a884"/>
<rect x="627.26" y="152.30" width="9.47" height="9.38" fill="#22a884"/>
<rect x="636.43" y="152.30" width="9.47" height="9.38" fill="#22a884"/>
<rect x="645.60" y="152.30" width="9.47" height="9.38" fill="#21918c"/>
<text x="360.4" y="159.04" font-size="6.0" fill="#111" text-anchor="end">Myofibroblast cells</text>
<rect x="365.6" y="161.38" width="9.10" height="9.38" fill="#33b47a"/>
<rect x="379.30" y="161.38" width="9.50" height="9.38" fill="#26848d"/>
<rect x="388.50" y="161.38" width="9.50" height="9.38" fill="#482475"/>
<rect x="397.70" y="161.38" width="9.50" height="9.38" fill="#2a788e"/>
<rect x="406.90" y="161.38" width="9.50" height="9.38" fill="#306c8e"/>
<rect x="416.10" y="161.38" width="9.50" height="9.38" fill="#3b528a"/>
<rect x="425.30" y="161.38" width="9.50" height="9.38" fill="#355f8d"/>
<rect x="434.50" y="161.38" width="9.50" height="9.38" fill="#355f8d"/>
<rect x="462.20" y="161.38" width="9.47" height="9.38" fill="#26848d"/>
<rect x="471.37" y="161.38" width="9.47" height="9.38" fill="#355f8d"/>
<rect x="480.54" y="161.38" width="9.47" height="9.38" fill="#22a884"/>
<rect x="489.71" y="161.38" width="9.47" height="9.38" fill="#22a884"/>
<rect x="498.88" y="161.38" width="9.47" height="9.38" fill="#22a884"/>
<rect x="508.05" y="161.38" width="9.47" height="9.38" fill="#22a884"/>
<rect x="517.22" y="161.38" width="9.47" height="9.38" fill="#355f8d"/>
<rect x="526.39" y="161.38" width="9.47" height="9.38" fill="#44347e"/>
<rect x="535.56" y="161.38" width="9.47" height="9.38" fill="#306c8e"/>
<rect x="544.73" y="161.38" width="9.47" height="9.38" fill="#355f8d"/>
<rect x="553.90" y="161.38" width="9.47" height="9.38" fill="#21918c"/>
<rect x="563.07" y="161.38" width="9.47" height="9.38" fill="#21918c"/>
<rect x="572.24" y="161.38" width="9.47" height="9.38" fill="#2c738e"/>
<rect x="581.41" y="161.38" width="9.47" height="9.38" fill="#3b528a"/>
<rect x="590.58" y="161.38" width="9.47" height="9.38" fill="#229c88"/>
<rect x="599.75" y="161.38" width="9.47" height="9.38" fill="#229c88"/>
<rect x="608.92" y="161.38" width="9.47" height="9.38" fill="#21918c"/>
<rect x="618.09" y="161.38" width="9.47" height="9.38" fill="#21918c"/>
<rect x="627.26" y="161.38" width="9.47" height="9.38" fill="#287d8e"/>
<rect x="636.43" y="161.38" width="9.47" height="9.38" fill="#21918c"/>
<rect x="645.60" y="161.38" width="9.47" height="9.38" fill="#21918c"/>
<text x="360.4" y="168.12" font-size="6.0" fill="#111" text-anchor="end">Plasma cells</text>
<rect x="365.6" y="175.06" width="9.10" height="8.9" fill="#eae525"/>
<rect x="379.00" y="175.06" width="9.59" height="8.9" fill="#29ad80"/>
<rect x="388.29" y="175.06" width="9.59" height="8.9" fill="#22a884"/>
<rect x="397.57" y="175.06" width="9.59" height="8.9" fill="#4fc36a"/>
<rect x="406.86" y="175.06" width="9.59" height="8.9" fill="#22a884"/>
<rect x="416.15" y="175.06" width="9.59" height="8.9" fill="#b0dc2f"/>
<rect x="425.44" y="175.06" width="9.59" height="8.9" fill="#7ad151"/>
<rect x="434.73" y="175.06" width="9.59" height="8.9" fill="#7ad151"/>
<rect x="444.01" y="175.06" width="9.59" height="8.9" fill="#7ad151"/>
<rect x="462.20" y="175.06" width="9.47" height="8.9" fill="#b0dc2f"/>
<rect x="471.37" y="175.06" width="9.47" height="8.9" fill="#9bd83c"/>
<rect x="480.54" y="175.06" width="9.47" height="8.9" fill="#eae525"/>
<rect x="489.71" y="175.06" width="9.47" height="8.9" fill="#eae525"/>
<rect x="498.88" y="175.06" width="9.47" height="8.9" fill="#eae525"/>
<rect x="508.05" y="175.06" width="9.47" height="8.9" fill="#eae525"/>
<rect x="517.22" y="175.06" width="9.47" height="8.9" fill="#4fc36a"/>
<rect x="526.39" y="175.06" width="9.47" height="8.9" fill="#33b47a"/>
<rect x="535.56" y="175.06" width="9.47" height="8.9" fill="#7ad151"/>
<rect x="544.73" y="175.06" width="9.47" height="8.9" fill="#44bf70"/>
<rect x="553.90" y="175.06" width="9.47" height="8.9" fill="#dde326"/>
<rect x="563.07" y="175.06" width="9.47" height="8.9" fill="#dde326"/>
<rect x="572.24" y="175.06" width="9.47" height="8.9" fill="#b0dc2f"/>
<rect x="581.41" y="175.06" width="9.47" height="8.9" fill="#9bd83c"/>
<rect x="590.58" y="175.06" width="9.47" height="8.9" fill="#eae525"/>
<rect x="599.75" y="175.06" width="9.47" height="8.9" fill="#eae525"/>
<rect x="608.92" y="175.06" width="9.47" height="8.9" fill="#dde326"/>
<rect x="618.09" y="175.06" width="9.47" height="8.9" fill="#cae126"/>
<rect x="627.26" y="175.06" width="9.47" height="8.9" fill="#b0dc2f"/>
<rect x="636.43" y="175.06" width="9.47" height="8.9" fill="#bddf26"/>
<rect x="645.60" y="175.06" width="9.47" height="8.9" fill="#cae126"/>
<text x="360.4" y="181.71" font-size="6.0" fill="#222" text-anchor="end">Tumor cells</text>
</g>
<text transform="translate(385.90,56.00) rotate(-90)" font-size="5.8" fill="#111" text-anchor="start">granzymeb</text>
<text transform="translate(395.10,56.00) rotate(-90)" font-size="5.8" fill="#111" text-anchor="start">icos</text>
<text transform="translate(404.30,56.00) rotate(-90)" font-size="5.8" fill="#111" text-anchor="start">ido1</text>
<text transform="translate(413.50,56.00) rotate(-90)" font-size="5.8" fill="#111" text-anchor="start">ido1<tspan font-size="3.94" dy="-2.32">hi</tspan></text>
<text transform="translate(422.70,56.00) rotate(-90)" font-size="5.8" fill="#111" text-anchor="start">pd1</text>
<text transform="translate(431.90,56.00) rotate(-90)" font-size="5.8" fill="#111" text-anchor="start">pdl1</text>
<text transform="translate(441.10,56.00) rotate(-90)" font-size="5.8" fill="#111" text-anchor="start">pdl1<tspan font-size="3.94" dy="-2.32">hi</tspan></text>
<text transform="translate(468.78,56.00) rotate(-90)" font-size="5.8" fill="#111" text-anchor="start">asct2</text>
<text transform="translate(477.95,56.00) rotate(-90)" font-size="5.8" fill="#111" text-anchor="start">asct2<tspan font-size="3.94" dy="-2.32">hi</tspan></text>
<text transform="translate(487.12,56.00) rotate(-90)" font-size="5.8" fill="#111" text-anchor="start">atpa5</text>
<text transform="translate(496.29,56.00) rotate(-90)" font-size="5.8" fill="#111" text-anchor="start">atpa5<tspan font-size="3.94" dy="-2.32">hi</tspan></text>
<text transform="translate(505.46,56.00) rotate(-90)" font-size="5.8" fill="#111" text-anchor="start">citrate synthase</text>
<text transform="translate(514.63,56.00) rotate(-90)" font-size="5.8" fill="#111" text-anchor="start">citrate synthase<tspan font-size="3.94" dy="-2.32">hi</tspan></text>
<text transform="translate(523.81,56.00) rotate(-90)" font-size="5.8" fill="#111" text-anchor="start">cpt1a</text>
<text transform="translate(532.98,56.00) rotate(-90)" font-size="5.8" fill="#111" text-anchor="start">cpt1a<tspan font-size="3.94" dy="-2.32">hi</tspan></text>
<text transform="translate(542.14,56.00) rotate(-90)" font-size="5.8" fill="#111" text-anchor="start">g6pd</text>
<text transform="translate(551.32,56.00) rotate(-90)" font-size="5.8" fill="#111" text-anchor="start">g6pd<tspan font-size="3.94" dy="-2.32">hi</tspan></text>
<text transform="translate(560.49,56.00) rotate(-90)" font-size="5.8" fill="#111" text-anchor="start">glut1</text>
<text transform="translate(569.65,56.00) rotate(-90)" font-size="5.8" fill="#111" text-anchor="start">glut1<tspan font-size="3.94" dy="-2.32">hi</tspan></text>
<text transform="translate(578.83,56.00) rotate(-90)" font-size="5.8" fill="#111" text-anchor="start">hexokinase1</text>
<text transform="translate(588.00,56.00) rotate(-90)" font-size="5.8" fill="#111" text-anchor="start">hexokinase1<tspan font-size="3.94" dy="-2.32">hi</tspan></text>
<text transform="translate(597.16,56.00) rotate(-90)" font-size="5.8" fill="#111" text-anchor="start">idh2</text>
<text transform="translate(606.34,56.00) rotate(-90)" font-size="5.8" fill="#111" text-anchor="start">idh2<tspan font-size="3.94" dy="-2.32">hi</tspan></text>
<text transform="translate(615.50,56.00) rotate(-90)" font-size="5.8" fill="#111" text-anchor="start">nakatpase</text>
<text transform="translate(624.67,56.00) rotate(-90)" font-size="5.8" fill="#111" text-anchor="start">pnrf2</text>
<text transform="translate(633.85,56.00) rotate(-90)" font-size="5.8" fill="#111" text-anchor="start">pnrf2<tspan font-size="3.94" dy="-2.32">hi</tspan></text>
<text transform="translate(643.01,56.00) rotate(-90)" font-size="5.8" fill="#111" text-anchor="start">sdha</text>
<text transform="translate(652.19,56.00) rotate(-90)" font-size="5.8" fill="#111" text-anchor="start">sdha<tspan font-size="3.94" dy="-2.32">hi</tspan></text>
<text transform="translate(385.64,189.50) rotate(-90)" font-size="5.8" fill="#111" text-anchor="end">ido1</text>
<text transform="translate(394.93,189.50) rotate(-90)" font-size="5.8" fill="#111" text-anchor="end">ido1<tspan font-size="3.94" dy="-2.32">hi</tspan></text>
<text transform="translate(404.22,189.50) rotate(-90)" font-size="5.8" fill="#111" text-anchor="end">pdl1</text>
<text transform="translate(413.51,189.50) rotate(-90)" font-size="5.8" fill="#111" text-anchor="end">pdl1<tspan font-size="3.94" dy="-2.32">hi</tspan></text>
<text transform="translate(422.79,189.50) rotate(-90)" font-size="5.8" fill="#111" text-anchor="end">hlaa</text>
<text transform="translate(432.08,189.50) rotate(-90)" font-size="5.8" fill="#111" text-anchor="end">hlaa<tspan font-size="3.94" dy="-2.32">hi</tspan></text>
<text transform="translate(441.37,189.50) rotate(-90)" font-size="5.8" fill="#111" text-anchor="end">ki67</text>
<text transform="translate(450.66,189.50) rotate(-90)" font-size="5.8" fill="#111" text-anchor="end">vimentin</text>
<defs><linearGradient id="gv" x1="0" y1="0" x2="0" y2="1"><stop offset="0.00" stop-color="#fde725"/><stop offset="0.10" stop-color="#bddf26"/><stop offset="0.20" stop-color="#7ad151"/><stop offset="0.30" stop-color="#44bf70"/><stop offset="0.40" stop-color="#22a884"/><stop offset="0.50" stop-color="#21918c"/><stop offset="0.60" stop-color="#2a788e"/><stop offset="0.70" stop-color="#355f8d"/><stop offset="0.80" stop-color="#414487"/><stop offset="0.90" stop-color="#482475"/><stop offset="1.00" stop-color="#440154"/></linearGradient></defs>
<rect x="664" y="62.2" width="5.4" height="121.8" fill="url(#gv)"/>
<line x1="669.4" y1="79.4" x2="671" y2="79.4" stroke="#444" stroke-width="0.4"/>
<text x="671.8" y="81.4" font-size="5.6" fill="#222">10<tspan font-size="3.6" dy="-2.2">4</tspan></text>
<line x1="669.4" y1="106.0" x2="671" y2="106.0" stroke="#444" stroke-width="0.4"/>
<text x="671.8" y="108.0" font-size="5.6" fill="#222">10<tspan font-size="3.6" dy="-2.2">3</tspan></text>
<line x1="669.4" y1="131.7" x2="671" y2="131.7" stroke="#444" stroke-width="0.4"/>
<text x="671.8" y="133.7" font-size="5.6" fill="#222">10<tspan font-size="3.6" dy="-2.2">2</tspan></text>
<line x1="669.4" y1="157.9" x2="671" y2="157.9" stroke="#444" stroke-width="0.4"/>
<text x="671.8" y="159.9" font-size="5.6" fill="#222">10<tspan font-size="3.6" dy="-2.2">1</tspan></text>
<line x1="669.4" y1="183.0" x2="671" y2="183.0" stroke="#444" stroke-width="0.4"/>
<text x="671.8" y="185.0" font-size="5.6" fill="#222">10<tspan font-size="3.6" dy="-2.2">0</tspan></text>
<g class="ce">
<text x="309.0" y="248.9" font-size="14" font-weight="bold">c</text>
<rect x="365.6" y="275.30" width="9.10" height="9.38" fill="#efefef"/>
<rect x="379.30" y="275.30" width="9.50" height="9.38" fill="#eac8ec"/>
<rect x="388.50" y="275.30" width="9.50" height="9.38" fill="#ebd0ed"/>
<rect x="397.70" y="275.30" width="9.50" height="9.38" fill="#e9eee9"/>
<rect x="406.90" y="275.30" width="9.50" height="9.38" fill="#eee7ee"/>
<rect x="416.10" y="275.30" width="9.50" height="9.38" fill="#efefef"/>
<rect x="425.30" y="275.30" width="9.50" height="9.38" fill="#e3ace9"/>
<rect x="434.50" y="275.30" width="9.50" height="9.38" fill="#efefef"/>
<rect x="462.20" y="275.30" width="9.47" height="9.38" fill="#eceeec"/>
<rect x="471.37" y="275.30" width="9.47" height="9.38" fill="#d8e9d8"/>
<rect x="480.54" y="275.30" width="9.47" height="9.38" fill="#e9eee9"/>
<rect x="489.71" y="275.30" width="9.47" height="9.38" fill="#eee7ee"/>
<rect x="498.88" y="275.30" width="9.47" height="9.38" fill="#ebd0ed"/>
<rect x="508.05" y="275.30" width="9.47" height="9.38" fill="#ebd0ed"/>
<rect x="517.22" y="275.30" width="9.47" height="9.38" fill="#eceeec"/>
<rect x="526.39" y="275.30" width="9.47" height="9.38" fill="#e9eee9"/>
<rect x="535.56" y="275.30" width="9.47" height="9.38" fill="#ecdcee"/>
<rect x="544.73" y="275.30" width="9.47" height="9.38" fill="#b3dab3"/>
<rect x="553.90" y="275.30" width="9.47" height="9.38" fill="#e9eee9"/>
<rect x="563.07" y="275.30" width="9.47" height="9.38" fill="#efefef"/>
<rect x="572.24" y="275.30" width="9.47" height="9.38" fill="#eee3ee"/>
<rect x="581.41" y="275.30" width="9.47" height="9.38" fill="#eee3ee"/>
<rect x="590.58" y="275.30" width="9.47" height="9.38" fill="#ecdcee"/>
<rect x="599.75" y="275.30" width="9.47" height="9.38" fill="#ecdcee"/>
<rect x="608.92" y="275.30" width="9.47" height="9.38" fill="#e6ede6"/>
<rect x="618.09" y="275.30" width="9.47" height="9.38" fill="#e0ece0"/>
<rect x="627.26" y="275.30" width="9.47" height="9.38" fill="#e0ece0"/>
<rect x="636.43" y="275.30" width="9.47" height="9.38" fill="#e3ace9"/>
<rect x="645.60" y="275.30" width="9.47" height="9.38" fill="#dc8fe6"/>
<text x="360.4" y="282.04" font-size="6.0" fill="#111" text-anchor="end">B cells</text>
<rect x="365.6" y="284.38" width="9.10" height="9.38" fill="#efefef"/>
<rect x="379.30" y="284.38" width="9.50" height="9.38" fill="#da82e5"/>
<rect x="388.50" y="284.38" width="9.50" height="9.38" fill="#e6ede6"/>
<rect x="397.70" y="284.38" width="9.50" height="9.38" fill="#d8e9d8"/>
<rect x="406.90" y="284.38" width="9.50" height="9.38" fill="#d8e9d8"/>
<rect x="416.10" y="284.38" width="9.50" height="9.38" fill="#d8e9d8"/>
<rect x="425.30" y="284.38" width="9.50" height="9.38" fill="#c6e2c6"/>
<rect x="434.50" y="284.38" width="9.50" height="9.38" fill="#e6ede6"/>
<rect x="462.20" y="284.38" width="9.47" height="9.38" fill="#dc8fe6"/>
<rect x="471.37" y="284.38" width="9.47" height="9.38" fill="#dc8fe6"/>
<rect x="480.54" y="284.38" width="9.47" height="9.38" fill="#eceeec"/>
<rect x="489.71" y="284.38" width="9.47" height="9.38" fill="#eceeec"/>
<rect x="498.88" y="284.38" width="9.47" height="9.38" fill="#e9eee9"/>
<rect x="508.05" y="284.38" width="9.47" height="9.38" fill="#e0ece0"/>
<rect x="517.22" y="284.38" width="9.47" height="9.38" fill="#e9eee9"/>
<rect x="526.39" y="284.38" width="9.47" height="9.38" fill="#eceeec"/>
<rect x="535.56" y="284.38" width="9.47" height="9.38" fill="#eee3ee"/>
<rect x="544.73" y="284.38" width="9.47" height="9.38" fill="#ecdcee"/>
<rect x="553.90" y="284.38" width="9.47" height="9.38" fill="#e6ede6"/>
<rect x="563.07" y="284.38" width="9.47" height="9.38" fill="#e9eee9"/>
<rect x="572.24" y="284.38" width="9.47" height="9.38" fill="#eee3ee"/>
<rect x="581.41" y="284.38" width="9.47" height="9.38" fill="#ecdcee"/>
<rect x="590.58" y="284.38" width="9.47" height="9.38" fill="#eceeec"/>
<rect x="599.75" y="284.38" width="9.47" height="9.38" fill="#eceeec"/>
<rect x="608.92" y="284.38" width="9.47" height="9.38" fill="#bfdfbf"/>
<rect x="618.09" y="284.38" width="9.47" height="9.38" fill="#bfdfbf"/>
<rect x="627.26" y="284.38" width="9.47" height="9.38" fill="#bfdfbf"/>
<rect x="636.43" y="284.38" width="9.47" height="9.38" fill="#e3ace9"/>
<rect x="645.60" y="284.38" width="9.47" height="9.38" fill="#eac8ec"/>
<text x="360.4" y="291.12" font-size="6.0" fill="#111" text-anchor="end">CD4 T cells</text>
<rect x="365.6" y="293.46" width="9.10" height="9.38" fill="#efefef"/>
<rect x="379.30" y="293.46" width="9.50" height="9.38" fill="#dc8fe6"/>
<rect x="388.50" y="293.46" width="9.50" height="9.38" fill="#e6ede6"/>
<rect x="397.70" y="293.46" width="9.50" height="9.38" fill="#a0d1a0"/>
<rect x="406.90" y="293.46" width="9.50" height="9.38" fill="#bfdfbf"/>
<rect x="416.10" y="293.46" width="9.50" height="9.38" fill="#e0ece0"/>
<rect x="425.30" y="293.46" width="9.50" height="9.38" fill="#71ba77"/>
<rect x="434.50" y="293.46" width="9.50" height="9.38" fill="#bfdfbf"/>
<rect x="462.20" y="293.46" width="9.47" height="9.38" fill="#ebd0ed"/>
<rect x="471.37" y="293.46" width="9.47" height="9.38" fill="#eceeec"/>
<rect x="480.54" y="293.46" width="9.47" height="9.38" fill="#eceeec"/>
<rect x="489.71" y="293.46" width="9.47" height="9.38" fill="#efefef"/>
<rect x="498.88" y="293.46" width="9.47" height="9.38" fill="#eee3ee"/>
<rect x="508.05" y="293.46" width="9.47" height="9.38" fill="#eee3ee"/>
<rect x="517.22" y="293.46" width="9.47" height="9.38" fill="#d2e8d2"/>
<rect x="526.39" y="293.46" width="9.47" height="9.38" fill="#d2e8d2"/>
<rect x="535.56" y="293.46" width="9.47" height="9.38" fill="#eceeec"/>
<rect x="544.73" y="293.46" width="9.47" height="9.38" fill="#eee3ee"/>
<rect x="553.90" y="293.46" width="9.47" height="9.38" fill="#efefef"/>
<rect x="563.07" y="293.46" width="9.47" height="9.38" fill="#eceeec"/>
<rect x="572.24" y="293.46" width="9.47" height="9.38" fill="#94cb94"/>
<rect x="581.41" y="293.46" width="9.47" height="9.38" fill="#94cb94"/>
<rect x="590.58" y="293.46" width="9.47" height="9.38" fill="#eceeec"/>
<rect x="599.75" y="293.46" width="9.47" height="9.38" fill="#efefef"/>
<rect x="608.92" y="293.46" width="9.47" height="9.38" fill="#eee7ee"/>
<rect x="618.09" y="293.46" width="9.47" height="9.38" fill="#eee7ee"/>
<rect x="627.26" y="293.46" width="9.47" height="9.38" fill="#eee3ee"/>
<rect x="636.43" y="293.46" width="9.47" height="9.38" fill="#ebd0ed"/>
<rect x="645.60" y="293.46" width="9.47" height="9.38" fill="#ebd0ed"/>
<text x="360.4" y="300.20" font-size="6.0" fill="#111" text-anchor="end">CD4 Treg cells</text>
<rect x="365.6" y="302.54" width="9.10" height="9.38" fill="#efefef"/>
<rect x="379.30" y="302.54" width="9.50" height="9.38" fill="#eac8ec"/>
<rect x="388.50" y="302.54" width="9.50" height="9.38" fill="#e9eee9"/>
<rect x="397.70" y="302.54" width="9.50" height="9.38" fill="#b3dab3"/>
<rect x="406.90" y="302.54" width="9.50" height="9.38" fill="#d2e8d2"/>
<rect x="416.10" y="302.54" width="9.50" height="9.38" fill="#e9eee9"/>
<rect x="425.30" y="302.54" width="9.50" height="9.38" fill="#c6e2c6"/>
<rect x="434.50" y="302.54" width="9.50" height="9.38" fill="#eceeec"/>
<rect x="462.20" y="302.54" width="9.47" height="9.38" fill="#e3ace9"/>
<rect x="471.37" y="302.54" width="9.47" height="9.38" fill="#e9eee9"/>
<rect x="480.54" y="302.54" width="9.47" height="9.38" fill="#e9eee9"/>
<rect x="489.71" y="302.54" width="9.47" height="9.38" fill="#e9eee9"/>
<rect x="498.88" y="302.54" width="9.47" height="9.38" fill="#e0ece0"/>
<rect x="508.05" y="302.54" width="9.47" height="9.38" fill="#e0ece0"/>
<rect x="517.22" y="302.54" width="9.47" height="9.38" fill="#b3dab3"/>
<rect x="526.39" y="302.54" width="9.47" height="9.38" fill="#deebde"/>
<rect x="535.56" y="302.54" width="9.47" height="9.38" fill="#e0ece0"/>
<rect x="544.73" y="302.54" width="9.47" height="9.38" fill="#e9eee9"/>
<rect x="553.90" y="302.54" width="9.47" height="9.38" fill="#efefef"/>
<rect x="563.07" y="302.54" width="9.47" height="9.38" fill="#efefef"/>
<rect x="572.24" y="302.54" width="9.47" height="9.38" fill="#d2e8d2"/>
<rect x="581.41" y="302.54" width="9.47" height="9.38" fill="#d2e8d2"/>
<rect x="590.58" y="302.54" width="9.47" height="9.38" fill="#efefef"/>
<rect x="599.75" y="302.54" width="9.47" height="9.38" fill="#efefef"/>
<rect x="608.92" y="302.54" width="9.47" height="9.38" fill="#efefef"/>
<rect x="618.09" y="302.54" width="9.47" height="9.38" fill="#e0ece0"/>
<rect x="627.26" y="302.54" width="9.47" height="9.38" fill="#efefef"/>
<rect x="636.43" y="302.54" width="9.47" height="9.38" fill="#ebd0ed"/>
<rect x="645.60" y="302.54" width="9.47" height="9.38" fill="#ebd0ed"/>
<text x="360.4" y="309.28" font-size="6.0" fill="#111" text-anchor="end">CD8 T cells</text>
<rect x="365.6" y="311.62" width="9.10" height="9.38" fill="#efefef"/>
<rect x="379.30" y="311.62" width="9.50" height="9.38" fill="#eac8ec"/>
<rect x="388.50" y="311.62" width="9.50" height="9.38" fill="#eee3ee"/>
<rect x="397.70" y="311.62" width="9.50" height="9.38" fill="#b3dab3"/>
<rect x="406.90" y="311.62" width="9.50" height="9.38" fill="#bfdfbf"/>
<rect x="416.10" y="311.62" width="9.50" height="9.38" fill="#e6ede6"/>
<rect x="425.30" y="311.62" width="9.50" height="9.38" fill="#ebd0ed"/>
<rect x="434.50" y="311.62" width="9.50" height="9.38" fill="#ecd8ed"/>
<rect x="462.20" y="311.62" width="9.47" height="9.38" fill="#efefef"/>
<rect x="471.37" y="311.62" width="9.47" height="9.38" fill="#e0ece0"/>
<rect x="480.54" y="311.62" width="9.47" height="9.38" fill="#eceeec"/>
<rect x="489.71" y="311.62" width="9.47" height="9.38" fill="#eceeec"/>
<rect x="498.88" y="311.62" width="9.47" height="9.38" fill="#e9eee9"/>
<rect x="508.05" y="311.62" width="9.47" height="9.38" fill="#e9eee9"/>
<rect x="517.22" y="311.62" width="9.47" height="9.38" fill="#71ba77"/>
<rect x="526.39" y="311.62" width="9.47" height="9.38" fill="#d2e8d2"/>
<rect x="535.56" y="311.62" width="9.47" height="9.38" fill="#e9eee9"/>
<rect x="544.73" y="311.62" width="9.47" height="9.38" fill="#e6ede6"/>
<rect x="553.90" y="311.62" width="9.47" height="9.38" fill="#eceeec"/>
<rect x="563.07" y="311.62" width="9.47" height="9.38" fill="#eceeec"/>
<rect x="572.24" y="311.62" width="9.47" height="9.38" fill="#e3ace9"/>
<rect x="581.41" y="311.62" width="9.47" height="9.38" fill="#e3ace9"/>
<rect x="590.58" y="311.62" width="9.47" height="9.38" fill="#eee3ee"/>
<rect x="599.75" y="311.62" width="9.47" height="9.38" fill="#eee7ee"/>
<rect x="608.92" y="311.62" width="9.47" height="9.38" fill="#eceeec"/>
<rect x="618.09" y="311.62" width="9.47" height="9.38" fill="#eceeec"/>
<rect x="627.26" y="311.62" width="9.47" height="9.38" fill="#eceeec"/>
<rect x="636.43" y="311.62" width="9.47" height="9.38" fill="#eee3ee"/>
<rect x="645.60" y="311.62" width="9.47" height="9.38" fill="#eee3ee"/>
<text x="360.4" y="318.36" font-size="6.0" fill="#111" text-anchor="end">Endothilial cells</text>
<rect x="365.6" y="320.70" width="9.10" height="9.38" fill="#efefef"/>
<rect x="379.30" y="320.70" width="9.50" height="9.38" fill="#e3ace9"/>
<rect x="388.50" y="320.70" width="9.50" height="9.38" fill="#e0ece0"/>
<rect x="397.70" y="320.70" width="9.50" height="9.38" fill="#d2e8d2"/>
<rect x="406.90" y="320.70" width="9.50" height="9.38" fill="#d2e8d2"/>
<rect x="416.10" y="320.70" width="9.50" height="9.38" fill="#e0ece0"/>
<rect x="425.30" y="320.70" width="9.50" height="9.38" fill="#e6ede6"/>
<rect x="434.50" y="320.70" width="9.50" height="9.38" fill="#e9eee9"/>
<rect x="462.20" y="320.70" width="9.47" height="9.38" fill="#eee3ee"/>
<rect x="471.37" y="320.70" width="9.47" height="9.38" fill="#eceeec"/>
<rect x="480.54" y="320.70" width="9.47" height="9.38" fill="#efefef"/>
<rect x="489.71" y="320.70" width="9.47" height="9.38" fill="#efefef"/>
<rect x="498.88" y="320.70" width="9.47" height="9.38" fill="#eceeec"/>
<rect x="508.05" y="320.70" width="9.47" height="9.38" fill="#e9eee9"/>
<rect x="517.22" y="320.70" width="9.47" height="9.38" fill="#c6e2c6"/>
<rect x="526.39" y="320.70" width="9.47" height="9.38" fill="#d8e9d8"/>
<rect x="535.56" y="320.70" width="9.47" height="9.38" fill="#d76ee4"/>
<rect x="544.73" y="320.70" width="9.47" height="9.38" fill="#e3ace9"/>
<rect x="553.90" y="320.70" width="9.47" height="9.38" fill="#ecdcee"/>
<rect x="563.07" y="320.70" width="9.47" height="9.38" fill="#ecdcee"/>
<rect x="572.24" y="320.70" width="9.47" height="9.38" fill="#e6b7ea"/>
<rect x="581.41" y="320.70" width="9.47" height="9.38" fill="#e6b7ea"/>
<rect x="590.58" y="320.70" width="9.47" height="9.38" fill="#ecdcee"/>
<rect x="599.75" y="320.70" width="9.47" height="9.38" fill="#eee3ee"/>
<rect x="608.92" y="320.70" width="9.47" height="9.38" fill="#efefef"/>
<rect x="618.09" y="320.70" width="9.47" height="9.38" fill="#efefef"/>
<rect x="627.26" y="320.70" width="9.47" height="9.38" fill="#c6e2c6"/>
<rect x="636.43" y="320.70" width="9.47" height="9.38" fill="#eee3ee"/>
<rect x="645.60" y="320.70" width="9.47" height="9.38" fill="#ebd0ed"/>
<text x="360.4" y="327.44" font-size="6.0" fill="#111" text-anchor="end">Fibroblast cells</text>
<rect x="365.6" y="329.78" width="9.10" height="9.38" fill="#e3ace9"/>
<rect x="379.30" y="329.78" width="9.50" height="9.38" fill="#df9ae7"/>
<rect x="388.50" y="329.78" width="9.50" height="9.38" fill="#e6ede6"/>
<rect x="397.70" y="329.78" width="9.50" height="9.38" fill="#d8e9d8"/>
<rect x="406.90" y="329.78" width="9.50" height="9.38" fill="#b3dab3"/>
<rect x="416.10" y="329.78" width="9.50" height="9.38" fill="#c6e2c6"/>
<rect x="425.30" y="329.78" width="9.50" height="9.38" fill="#e0ece0"/>
<rect x="434.50" y="329.78" width="9.50" height="9.38" fill="#e0ece0"/>
<rect x="462.20" y="329.78" width="9.47" height="9.38" fill="#d76ee4"/>
<rect x="471.37" y="329.78" width="9.47" height="9.38" fill="#e3ace9"/>
<rect x="480.54" y="329.78" width="9.47" height="9.38" fill="#e3ace9"/>
<rect x="489.71" y="329.78" width="9.47" height="9.38" fill="#e7bdeb"/>
<rect x="498.88" y="329.78" width="9.47" height="9.38" fill="#efefef"/>
<rect x="508.05" y="329.78" width="9.47" height="9.38" fill="#efefef"/>
<rect x="517.22" y="329.78" width="9.47" height="9.38" fill="#efefef"/>
<rect x="526.39" y="329.78" width="9.47" height="9.38" fill="#eee3ee"/>
<rect x="535.56" y="329.78" width="9.47" height="9.38" fill="#df9ae7"/>
<rect x="544.73" y="329.78" width="9.47" height="9.38" fill="#df9ae7"/>
<rect x="553.90" y="329.78" width="9.47" height="9.38" fill="#dc8fe6"/>
<rect x="563.07" y="329.78" width="9.47" height="9.38" fill="#dc8fe6"/>
<rect x="572.24" y="329.78" width="9.47" height="9.38" fill="#eac8ec"/>
<rect x="581.41" y="329.78" width="9.47" height="9.38" fill="#eac8ec"/>
<rect x="590.58" y="329.78" width="9.47" height="9.38" fill="#eee3ee"/>
<rect x="599.75" y="329.78" width="9.47" height="9.38" fill="#eee3ee"/>
<rect x="608.92" y="329.78" width="9.47" height="9.38" fill="#d76ee4"/>
<rect x="618.09" y="329.78" width="9.47" height="9.38" fill="#dc8fe6"/>
<rect x="627.26" y="329.78" width="9.47" height="9.38" fill="#dc8fe6"/>
<rect x="636.43" y="329.78" width="9.47" height="9.38" fill="#dc8fe6"/>
<rect x="645.60" y="329.78" width="9.47" height="9.38" fill="#df9ae7"/>
<text x="360.4" y="336.52" font-size="6.0" fill="#111" text-anchor="end">Granulocyte cells</text>
<rect x="365.6" y="338.86" width="9.10" height="9.38" fill="#efefef"/>
<rect x="379.30" y="338.86" width="9.50" height="9.38" fill="#df9ae7"/>
<rect x="388.50" y="338.86" width="9.50" height="9.38" fill="#d8e9d8"/>
<rect x="397.70" y="338.86" width="9.50" height="9.38" fill="#86c488"/>
<rect x="406.90" y="338.86" width="9.50" height="9.38" fill="#a0d1a0"/>
<rect x="416.10" y="338.86" width="9.50" height="9.38" fill="#e6ede6"/>
<rect x="425.30" y="338.86" width="9.50" height="9.38" fill="#d8e9d8"/>
<rect x="434.50" y="338.86" width="9.50" height="9.38" fill="#e0ece0"/>
<rect x="462.20" y="338.86" width="9.47" height="9.38" fill="#eac8ec"/>
<rect x="471.37" y="338.86" width="9.47" height="9.38" fill="#e6ede6"/>
<rect x="480.54" y="338.86" width="9.47" height="9.38" fill="#efefef"/>
<rect x="489.71" y="338.86" width="9.47" height="9.38" fill="#efefef"/>
<rect x="498.88" y="338.86" width="9.47" height="9.38" fill="#efefef"/>
<rect x="508.05" y="338.86" width="9.47" height="9.38" fill="#efefef"/>
<rect x="517.22" y="338.86" width="9.47" height="9.38" fill="#b3dab3"/>
<rect x="526.39" y="338.86" width="9.47" height="9.38" fill="#b3dab3"/>
<rect x="535.56" y="338.86" width="9.47" height="9.38" fill="#df9ae7"/>
<rect x="544.73" y="338.86" width="9.47" height="9.38" fill="#df9ae7"/>
<rect x="553.90" y="338.86" width="9.47" height="9.38" fill="#e7bdeb"/>
<rect x="563.07" y="338.86" width="9.47" height="9.38" fill="#e7bdeb"/>
<rect x="572.24" y="338.86" width="9.47" height="9.38" fill="#efefef"/>
<rect x="581.41" y="338.86" width="9.47" height="9.38" fill="#e0ece0"/>
<rect x="590.58" y="338.86" width="9.47" height="9.38" fill="#eee3ee"/>
<rect x="599.75" y="338.86" width="9.47" height="9.38" fill="#eee3ee"/>
<rect x="608.92" y="338.86" width="9.47" height="9.38" fill="#a0d1a0"/>
<rect x="618.09" y="338.86" width="9.47" height="9.38" fill="#d8e9d8"/>
<rect x="627.26" y="338.86" width="9.47" height="9.38" fill="#d8e9d8"/>
<rect x="636.43" y="338.86" width="9.47" height="9.38" fill="#e3ace9"/>
<rect x="645.60" y="338.86" width="9.47" height="9.38" fill="#e3ace9"/>
<text x="360.4" y="345.60" font-size="6.0" fill="#111" text-anchor="end">Immune NOS cells</text>
<rect x="365.6" y="347.94" width="9.10" height="9.38" fill="#efefef"/>
<rect x="379.30" y="347.94" width="9.50" height="9.38" fill="#dc8fe6"/>
<rect x="388.50" y="347.94" width="9.50" height="9.38" fill="#a0d1a0"/>
<rect x="397.70" y="347.94" width="9.50" height="9.38" fill="#71ba77"/>
<rect x="406.90" y="347.94" width="9.50" height="9.38" fill="#a0d1a0"/>
<rect x="416.10" y="347.94" width="9.50" height="9.38" fill="#c6e2c6"/>
<rect x="425.30" y="347.94" width="9.50" height="9.38" fill="#c6e2c6"/>
<rect x="434.50" y="347.94" width="9.50" height="9.38" fill="#c6e2c6"/>
<rect x="462.20" y="347.94" width="9.47" height="9.38" fill="#e7bdeb"/>
<rect x="471.37" y="347.94" width="9.47" height="9.38" fill="#efefef"/>
<rect x="480.54" y="347.94" width="9.47" height="9.38" fill="#eceeec"/>
<rect x="489.71" y="347.94" width="9.47" height="9.38" fill="#eceeec"/>
<rect x="498.88" y="347.94" width="9.47" height="9.38" fill="#efefef"/>
<rect x="508.05" y="347.94" width="9.47" height="9.38" fill="#efefef"/>
<rect x="517.22" y="347.94" width="9.47" height="9.38" fill="#d8e9d8"/>
<rect x="526.39" y="347.94" width="9.47" height="9.38" fill="#e0ece0"/>
<rect x="535.56" y="347.94" width="9.47" height="9.38" fill="#df9ae7"/>
<rect x="544.73" y="347.94" width="9.47" height="9.38" fill="#e3ace9"/>
<rect x="553.90" y="347.94" width="9.47" height="9.38" fill="#eee7ee"/>
<rect x="563.07" y="347.94" width="9.47" height="9.38" fill="#eee7ee"/>
<rect x="572.24" y="347.94" width="9.47" height="9.38" fill="#e3ace9"/>
<rect x="581.41" y="347.94" width="9.47" height="9.38" fill="#e3ace9"/>
<rect x="590.58" y="347.94" width="9.47" height="9.38" fill="#eee7ee"/>
<rect x="599.75" y="347.94" width="9.47" height="9.38" fill="#eee7ee"/>
<rect x="608.92" y="347.94" width="9.47" height="9.38" fill="#d8e9d8"/>
<rect x="618.09" y="347.94" width="9.47" height="9.38" fill="#e0ece0"/>
<rect x="627.26" y="347.94" width="9.47" height="9.38" fill="#e0ece0"/>
<rect x="636.43" y="347.94" width="9.47" height="9.38" fill="#eeebef"/>
<rect x="645.60" y="347.94" width="9.47" height="9.38" fill="#eee7ee"/>
<text x="360.4" y="354.68" font-size="6.0" fill="#111" text-anchor="end">Macrophage cells</text>
<rect x="365.6" y="357.02" width="9.10" height="9.38" fill="#efefef"/>
<rect x="379.30" y="357.02" width="9.50" height="9.38" fill="#ecdcee"/>
<rect x="388.50" y="357.02" width="9.50" height="9.38" fill="#e0ece0"/>
<rect x="397.70" y="357.02" width="9.50" height="9.38" fill="#c6e2c6"/>
<rect x="406.90" y="357.02" width="9.50" height="9.38" fill="#b3dab3"/>
<rect x="416.10" y="357.02" width="9.50" height="9.38" fill="#d8e9d8"/>
<rect x="425.30" y="357.02" width="9.50" height="9.38" fill="#d8e9d8"/>
<rect x="434.50" y="357.02" width="9.50" height="9.38" fill="#d8e9d8"/>
<rect x="462.20" y="357.02" width="9.47" height="9.38" fill="#efefef"/>
<rect x="471.37" y="357.02" width="9.47" height="9.38" fill="#ecdcee"/>
<rect x="480.54" y="357.02" width="9.47" height="9.38" fill="#eceeec"/>
<rect x="489.71" y="357.02" width="9.47" height="9.38" fill="#eceeec"/>
<rect x="498.88" y="357.02" width="9.47" height="9.38" fill="#eceeec"/>
<rect x="508.05" y="357.02" width="9.47" height="9.38" fill="#eceeec"/>
<rect x="517.22" y="357.02" width="9.47" height="9.38" fill="#d8e9d8"/>
<rect x="526.39" y="357.02" width="9.47" height="9.38" fill="#e0ece0"/>
<rect x="535.56" y="357.02" width="9.47" height="9.38" fill="#efefef"/>
<rect x="544.73" y="357.02" width="9.47" height="9.38" fill="#e6ede6"/>
<rect x="553.90" y="357.02" width="9.47" height="9.38" fill="#ebd0ed"/>
<rect x="563.07" y="357.02" width="9.47" height="9.38" fill="#e7bdeb"/>
<rect x="572.24" y="357.02" width="9.47" height="9.38" fill="#ecdcee"/>
<rect x="581.41" y="357.02" width="9.47" height="9.38" fill="#ecdcee"/>
<rect x="590.58" y="357.02" width="9.47" height="9.38" fill="#efefef"/>
<rect x="599.75" y="357.02" width="9.47" height="9.38" fill="#efefef"/>
<rect x="608.92" y="357.02" width="9.47" height="9.38" fill="#c6e2c6"/>
<rect x="618.09" y="357.02" width="9.47" height="9.38" fill="#d2e8d2"/>
<rect x="627.26" y="357.02" width="9.47" height="9.38" fill="#e0ece0"/>
<rect x="636.43" y="357.02" width="9.47" height="9.38" fill="#d76ee4"/>
<rect x="645.60" y="357.02" width="9.47" height="9.38" fill="#d76ee4"/>
<text x="360.4" y="363.76" font-size="6.0" fill="#111" text-anchor="end">Myeloid NOS cells</text>
<rect x="365.6" y="366.10" width="9.10" height="9.38" fill="#efefef"/>
<rect x="379.30" y="366.10" width="9.50" height="9.38" fill="#e3ace9"/>
<rect x="388.50" y="366.10" width="9.50" height="9.38" fill="#e6ede6"/>
<rect x="397.70" y="366.10" width="9.50" height="9.38" fill="#e0ece0"/>
<rect x="406.90" y="366.10" width="9.50" height="9.38" fill="#e0ece0"/>
<rect x="416.10" y="366.10" width="9.50" height="9.38" fill="#e0ece0"/>
<rect x="425.30" y="366.10" width="9.50" height="9.38" fill="#e0ece0"/>
<rect x="434.50" y="366.10" width="9.50" height="9.38" fill="#e6ede6"/>
<rect x="462.20" y="366.10" width="9.47" height="9.38" fill="#e7bdeb"/>
<rect x="471.37" y="366.10" width="9.47" height="9.38" fill="#eceeec"/>
<rect x="480.54" y="366.10" width="9.47" height="9.38" fill="#efefef"/>
<rect x="489.71" y="366.10" width="9.47" height="9.38" fill="#efefef"/>
<rect x="498.88" y="366.10" width="9.47" height="9.38" fill="#e0ece0"/>
<rect x="508.05" y="366.10" width="9.47" height="9.38" fill="#e0ece0"/>
<rect x="517.22" y="366.10" width="9.47" height="9.38" fill="#d2e8d2"/>
<rect x="526.39" y="366.10" width="9.47" height="9.38" fill="#e6ede6"/>
<rect x="535.56" y="366.10" width="9.47" height="9.38" fill="#eac8ec"/>
<rect x="544.73" y="366.10" width="9.47" height="9.38" fill="#eac8ec"/>
<rect x="553.90" y="366.10" width="9.47" height="9.38" fill="#e6ede6"/>
<rect x="563.07" y="366.10" width="9.47" height="9.38" fill="#e6ede6"/>
<rect x="572.24" y="366.10" width="9.47" height="9.38" fill="#ecdcee"/>
<rect x="581.41" y="366.10" width="9.47" height="9.38" fill="#eee3ee"/>
<rect x="590.58" y="366.10" width="9.47" height="9.38" fill="#ecdcee"/>
<rect x="599.75" y="366.10" width="9.47" height="9.38" fill="#eee7ee"/>
<rect x="608.92" y="366.10" width="9.47" height="9.38" fill="#94cb94"/>
<rect x="618.09" y="366.10" width="9.47" height="9.38" fill="#d2e8d2"/>
<rect x="627.26" y="366.10" width="9.47" height="9.38" fill="#d2e8d2"/>
<rect x="636.43" y="366.10" width="9.47" height="9.38" fill="#eac8ec"/>
<rect x="645.60" y="366.10" width="9.47" height="9.38" fill="#eac8ec"/>
<text x="360.4" y="372.84" font-size="6.0" fill="#111" text-anchor="end">Myofibroblast cells</text>
<rect x="365.6" y="375.18" width="9.10" height="9.38" fill="#efefef"/>
<rect x="379.30" y="375.18" width="9.50" height="9.38" fill="#d24ee2"/>
<rect x="388.50" y="375.18" width="9.50" height="9.38" fill="#e9eee9"/>
<rect x="397.70" y="375.18" width="9.50" height="9.38" fill="#eee3ee"/>
<rect x="406.90" y="375.18" width="9.50" height="9.38" fill="#eee3ee"/>
<rect x="416.10" y="375.18" width="9.50" height="9.38" fill="#eee3ee"/>
<rect x="425.30" y="375.18" width="9.50" height="9.38" fill="#eee3ee"/>
<rect x="434.50" y="375.18" width="9.50" height="9.38" fill="#eee3ee"/>
<rect x="462.20" y="375.18" width="9.47" height="9.38" fill="#efefef"/>
<rect x="471.37" y="375.18" width="9.47" height="9.38" fill="#eceeec"/>
<rect x="480.54" y="375.18" width="9.47" height="9.38" fill="#eceeec"/>
<rect x="489.71" y="375.18" width="9.47" height="9.38" fill="#efefef"/>
<rect x="498.88" y="375.18" width="9.47" height="9.38" fill="#ebd0ed"/>
<rect x="508.05" y="375.18" width="9.47" height="9.38" fill="#ecdcee"/>
<rect x="517.22" y="375.18" width="9.47" height="9.38" fill="#d8e9d8"/>
<rect x="526.39" y="375.18" width="9.47" height="9.38" fill="#e9eee9"/>
<rect x="535.56" y="375.18" width="9.47" height="9.38" fill="#e0ece0"/>
<rect x="544.73" y="375.18" width="9.47" height="9.38" fill="#e6ede6"/>
<rect x="553.90" y="375.18" width="9.47" height="9.38" fill="#e6ede6"/>
<rect x="563.07" y="375.18" width="9.47" height="9.38" fill="#e6ede6"/>
<rect x="572.24" y="375.18" width="9.47" height="9.38" fill="#df9ae7"/>
<rect x="581.41" y="375.18" width="9.47" height="9.38" fill="#df9ae7"/>
<rect x="590.58" y="375.18" width="9.47" height="9.38" fill="#eee7ee"/>
<rect x="599.75" y="375.18" width="9.47" height="9.38" fill="#eee7ee"/>
<rect x="608.92" y="375.18" width="9.47" height="9.38" fill="#d8e9d8"/>
<rect x="618.09" y="375.18" width="9.47" height="9.38" fill="#e0ece0"/>
<rect x="627.26" y="375.18" width="9.47" height="9.38" fill="#e0ece0"/>
<rect x="636.43" y="375.18" width="9.47" height="9.38" fill="#eee3ee"/>
<rect x="645.60" y="375.18" width="9.47" height="9.38" fill="#eac8ec"/>
<text x="360.4" y="381.92" font-size="6.0" fill="#111" text-anchor="end">Plasma cells</text>
<rect x="365.6" y="388.86" width="9.10" height="8.9" fill="#efefef"/>
<rect x="379.00" y="388.86" width="9.59" height="8.9" fill="#d2e8d2"/>
<rect x="388.29" y="388.86" width="9.59" height="8.9" fill="#e0ece0"/>
<rect x="397.57" y="388.86" width="9.59" height="8.9" fill="#e0ece0"/>
<rect x="406.86" y="388.86" width="9.59" height="8.9" fill="#bfdfbf"/>
<rect x="416.15" y="388.86" width="9.59" height="8.9" fill="#bfdfbf"/>
<rect x="425.44" y="388.86" width="9.59" height="8.9" fill="#a0d1a0"/>
<rect x="434.73" y="388.86" width="9.59" height="8.9" fill="#e6ede6"/>
<rect x="444.01" y="388.86" width="9.59" height="8.9" fill="#eceeec"/>
<rect x="462.20" y="388.86" width="9.47" height="8.9" fill="#eac8ec"/>
<rect x="471.37" y="388.86" width="9.47" height="8.9" fill="#ecdcee"/>
<rect x="480.54" y="388.86" width="9.47" height="8.9" fill="#efefef"/>
<rect x="489.71" y="388.86" width="9.47" height="8.9" fill="#efefef"/>
<rect x="498.88" y="388.86" width="9.47" height="8.9" fill="#efefef"/>
<rect x="508.05" y="388.86" width="9.47" height="8.9" fill="#efefef"/>
<rect x="517.22" y="388.86" width="9.47" height="8.9" fill="#efefef"/>
<rect x="526.39" y="388.86" width="9.47" height="8.9" fill="#e6ede6"/>
<rect x="535.56" y="388.86" width="9.47" height="8.9" fill="#e9eee9"/>
<rect x="544.73" y="388.86" width="9.47" height="8.9" fill="#e9eee9"/>
<rect x="553.90" y="388.86" width="9.47" height="8.9" fill="#eceeec"/>
<rect x="563.07" y="388.86" width="9.47" height="8.9" fill="#efefef"/>
<rect x="572.24" y="388.86" width="9.47" height="8.9" fill="#df9ae7"/>
<rect x="581.41" y="388.86" width="9.47" height="8.9" fill="#df9ae7"/>
<rect x="590.58" y="388.86" width="9.47" height="8.9" fill="#eee7ee"/>
<rect x="599.75" y="388.86" width="9.47" height="8.9" fill="#efefef"/>
<rect x="608.92" y="388.86" width="9.47" height="8.9" fill="#eceeec"/>
<rect x="618.09" y="388.86" width="9.47" height="8.9" fill="#efefef"/>
<rect x="627.26" y="388.86" width="9.47" height="8.9" fill="#efefef"/>
<rect x="636.43" y="388.86" width="9.47" height="8.9" fill="#efefef"/>
<rect x="645.60" y="388.86" width="9.47" height="8.9" fill="#eac8ec"/>
<text x="360.4" y="395.51" font-size="6.0" fill="#222" text-anchor="end">Tumor cells</text>
</g>
<text transform="translate(385.90,270.00) rotate(-90)" font-size="5.8" fill="#111" text-anchor="start">granzymeb</text>
<text transform="translate(395.10,270.00) rotate(-90)" font-size="5.8" fill="#111" text-anchor="start">icos</text>
<text transform="translate(404.30,270.00) rotate(-90)" font-size="5.8" fill="#111" text-anchor="start">ido1</text>
<text transform="translate(413.50,270.00) rotate(-90)" font-size="5.8" fill="#111" text-anchor="start">ido1<tspan font-size="3.94" dy="-2.32">hi</tspan></text>
<text transform="translate(422.70,270.00) rotate(-90)" font-size="5.8" fill="#111" text-anchor="start">pd1</text>
<text transform="translate(431.90,270.00) rotate(-90)" font-size="5.8" fill="#111" text-anchor="start">pdl1</text>
<text transform="translate(441.10,270.00) rotate(-90)" font-size="5.8" fill="#111" text-anchor="start">pdl1<tspan font-size="3.94" dy="-2.32">hi</tspan></text>
<text transform="translate(468.78,270.00) rotate(-90)" font-size="5.8" fill="#111" text-anchor="start">asct2</text>
<text transform="translate(477.95,270.00) rotate(-90)" font-size="5.8" fill="#111" text-anchor="start">asct2<tspan font-size="3.94" dy="-2.32">hi</tspan></text>
<text transform="translate(487.12,270.00) rotate(-90)" font-size="5.8" fill="#111" text-anchor="start">atpa5</text>
<text transform="translate(496.29,270.00) rotate(-90)" font-size="5.8" fill="#111" text-anchor="start">atpa5<tspan font-size="3.94" dy="-2.32">hi</tspan></text>
<text transform="translate(505.46,270.00) rotate(-90)" font-size="5.8" fill="#111" text-anchor="start">citrate synthase</text>
<text transform="translate(514.63,270.00) rotate(-90)" font-size="5.8" fill="#111" text-anchor="start">citrate synthase<tspan font-size="3.94" dy="-2.32">hi</tspan></text>
<text transform="translate(523.81,270.00) rotate(-90)" font-size="5.8" fill="#111" text-anchor="start">cpt1a</text>
<text transform="translate(532.98,270.00) rotate(-90)" font-size="5.8" fill="#111" text-anchor="start">cpt1a<tspan font-size="3.94" dy="-2.32">hi</tspan></text>
<text transform="translate(542.14,270.00) rotate(-90)" font-size="5.8" fill="#111" text-anchor="start">g6pd</text>
<text transform="translate(551.32,270.00) rotate(-90)" font-size="5.8" fill="#111" text-anchor="start">g6pd<tspan font-size="3.94" dy="-2.32">hi</tspan></text>
<text transform="translate(560.49,270.00) rotate(-90)" font-size="5.8" fill="#111" text-anchor="start">glut1</text>
<text transform="translate(569.65,270.00) rotate(-90)" font-size="5.8" fill="#111" text-anchor="start">glut1<tspan font-size="3.94" dy="-2.32">hi</tspan></text>
<text transform="translate(578.83,270.00) rotate(-90)" font-size="5.8" fill="#111" text-anchor="start">hexokinase1</text>
<text transform="translate(588.00,270.00) rotate(-90)" font-size="5.8" fill="#111" text-anchor="start">hexokinase1<tspan font-size="3.94" dy="-2.32">hi</tspan></text>
<text transform="translate(597.16,270.00) rotate(-90)" font-size="5.8" fill="#111" text-anchor="start">idh2</text>
<text transform="translate(606.34,270.00) rotate(-90)" font-size="5.8" fill="#111" text-anchor="start">idh2<tspan font-size="3.94" dy="-2.32">hi</tspan></text>
<text transform="translate(615.50,270.00) rotate(-90)" font-size="5.8" fill="#111" text-anchor="start">nakatpase</text>
<text transform="translate(624.67,270.00) rotate(-90)" font-size="5.8" fill="#111" text-anchor="start">pnrf2</text>
<text transform="translate(633.85,270.00) rotate(-90)" font-size="5.8" fill="#111" text-anchor="start">pnrf2<tspan font-size="3.94" dy="-2.32">hi</tspan></text>
<text transform="translate(643.01,270.00) rotate(-90)" font-size="5.8" fill="#111" text-anchor="start">sdha</text>
<text transform="translate(652.19,270.00) rotate(-90)" font-size="5.8" fill="#111" text-anchor="start">sdha<tspan font-size="3.94" dy="-2.32">hi</tspan></text>
<text transform="translate(385.64,402.50) rotate(-90)" font-size="5.8" fill="#111" text-anchor="end">ido1</text>
<text transform="translate(394.93,402.50) rotate(-90)" font-size="5.8" fill="#111" text-anchor="end">ido1<tspan font-size="3.94" dy="-2.32">hi</tspan></text>
<text transform="translate(404.22,402.50) rotate(-90)" font-size="5.8" fill="#111" text-anchor="end">pdl1</text>
<text transform="translate(413.51,402.50) rotate(-90)" font-size="5.8" fill="#111" text-anchor="end">pdl1<tspan font-size="3.94" dy="-2.32">hi</tspan></text>
<text transform="translate(422.79,402.50) rotate(-90)" font-size="5.8" fill="#111" text-anchor="end">hlaa</text>
<text transform="translate(432.08,402.50) rotate(-90)" font-size="5.8" fill="#111" text-anchor="end">hlaa<tspan font-size="3.94" dy="-2.32">hi</tspan></text>
<text transform="translate(441.37,402.50) rotate(-90)" font-size="5.8" fill="#111" text-anchor="end">ki67</text>
<text transform="translate(450.66,402.50) rotate(-90)" font-size="5.8" fill="#111" text-anchor="end">vimentin</text>
<polygon points="549.32,276.84 550.06,278.82 552.17,278.91 550.51,280.23 551.08,282.27 549.32,281.10 547.55,282.27 548.12,280.23 546.46,278.91 548.57,278.82" fill="#111"/>
<polygon points="402.30,340.40 403.04,342.38 405.15,342.47 403.50,343.79 404.06,345.83 402.30,344.66 400.54,345.83 401.10,343.79 399.45,342.47 401.56,342.38" fill="#111"/>
<polygon points="521.81,313.16 522.55,315.14 524.66,315.23 523.00,316.55 523.57,318.59 521.81,317.42 520.04,318.59 520.61,316.55 518.95,315.23 521.06,315.14" fill="#111"/>
<polygon points="540.14,322.24 540.89,324.22 543.00,324.31 541.34,325.63 541.91,327.67 540.14,326.50 538.38,327.67 538.95,325.63 537.29,324.31 539.40,324.22" fill="#111"/>
<polygon points="521.81,367.64 522.55,369.62 524.66,369.71 523.00,371.03 523.57,373.07 521.81,371.90 520.04,373.07 520.61,371.03 518.95,369.71 521.06,369.62" fill="#111"/>
<polygon points="613.50,340.40 614.25,342.38 616.36,342.47 614.70,343.79 615.27,345.83 613.50,344.66 611.74,345.83 612.31,343.79 610.65,342.47 612.76,342.38" fill="#111"/>
<polygon points="613.50,349.48 614.25,351.46 616.36,351.55 614.70,352.87 615.27,354.91 613.50,353.74 611.74,354.91 612.31,352.87 610.65,351.55 612.76,351.46" fill="#111"/>
<polygon points="383.90,349.48 384.64,351.46 386.75,351.55 385.10,352.87 385.66,354.91 383.90,353.74 382.14,354.91 382.70,352.87 381.05,351.55 383.16,351.46" fill="#f0a060"/>
<polygon points="383.90,376.72 384.64,378.70 386.75,378.79 385.10,380.11 385.66,382.15 383.90,380.98 382.14,382.15 382.70,380.11 381.05,378.79 383.16,378.70" fill="#f4c0a8"/>
<polygon points="586.00,390.31 586.74,392.29 588.85,392.38 587.19,393.70 587.76,395.74 586.00,394.57 584.23,395.74 584.80,393.70 583.14,392.38 585.25,392.29" fill="#f0b070"/>
<polygon points="613.50,390.31 614.25,392.29 616.36,392.38 614.70,393.70 615.27,395.74 613.50,394.57 611.74,395.74 612.31,393.70 610.65,392.38 612.76,392.29" fill="#eef0b0"/>
<defs><linearGradient id="gp" x1="0" y1="0" x2="0" y2="1"><stop offset="0.000" stop-color="#22883a"/><stop offset="0.125" stop-color="#4ea85a"/><stop offset="0.250" stop-color="#94cb94"/><stop offset="0.375" stop-color="#d2e8d2"/><stop offset="0.500" stop-color="#efefef"/><stop offset="0.625" stop-color="#eac8ec"/><stop offset="0.750" stop-color="#dc8fe6"/><stop offset="0.875" stop-color="#d24ee2"/><stop offset="1.000" stop-color="#c810d8"/></linearGradient></defs>
<rect x="663.8" y="275.2" width="6.7" height="123.8" fill="url(#gp)"/>
<line x1="670.5" y1="276.2" x2="672" y2="276.2" stroke="#444" stroke-width="0.4"/>
<text x="678.6" y="278.3" font-size="5.8" fill="#222" text-anchor="end">4</text>
<line x1="670.5" y1="290.5" x2="672" y2="290.5" stroke="#444" stroke-width="0.4"/>
<text x="678.6" y="292.6" font-size="5.8" fill="#222" text-anchor="end">3</text>
<line x1="670.5" y1="305.7" x2="672" y2="305.7" stroke="#444" stroke-width="0.4"/>
<text x="678.6" y="307.8" font-size="5.8" fill="#222" text-anchor="end">2</text>
<line x1="670.5" y1="321.3" x2="672" y2="321.3" stroke="#444" stroke-width="0.4"/>
<text x="678.6" y="323.4" font-size="5.8" fill="#222" text-anchor="end">1</text>
<line x1="670.5" y1="336.6" x2="672" y2="336.6" stroke="#444" stroke-width="0.4"/>
<text x="678.6" y="338.7" font-size="5.8" fill="#222" text-anchor="end">0</text>
<line x1="670.5" y1="352.4" x2="672" y2="352.4" stroke="#444" stroke-width="0.4"/>
<text x="678.6" y="354.5" font-size="5.8" fill="#222" text-anchor="end">−1</text>
<line x1="670.5" y1="368.0" x2="672" y2="368.0" stroke="#444" stroke-width="0.4"/>
<text x="678.6" y="370.1" font-size="5.8" fill="#222" text-anchor="end">−2</text>
<line x1="670.5" y1="383.4" x2="672" y2="383.4" stroke="#444" stroke-width="0.4"/>
<text x="678.6" y="385.5" font-size="5.8" fill="#222" text-anchor="end">−3</text>
<line x1="670.5" y1="398.7" x2="672" y2="398.7" stroke="#444" stroke-width="0.4"/>
<text x="678.6" y="400.8" font-size="5.8" fill="#222" text-anchor="end">−4</text>
<text x="644.3" y="413.2" font-size="8.8" fill="#222" text-anchor="middle">Log Fold Change</text>
<text x="645.8" y="423.2" font-size="8.8" fill="#222" text-anchor="middle">in Median</text>
<text x="310.0" y="447.2" font-size="14" font-weight="bold">d</text>
<rect x="344.2" y="454.5" width="67.80000000000001" height="109.7" fill="#fff" stroke="#a0a0a0" stroke-width="0.8"/>
<line x1="342.7" y1="458.0" x2="344.2" y2="458.0" stroke="#777" stroke-width="0.4"/>
<text x="342.0" y="459.3" font-size="3.8" fill="#555" text-anchor="end">1.0</text>
<line x1="342.7" y1="471.75" x2="344.2" y2="471.75" stroke="#777" stroke-width="0.4"/>
<text x="342.0" y="473.05" font-size="3.8" fill="#555" text-anchor="end">0.9</text>
<line x1="342.7" y1="485.5" x2="344.2" y2="485.5" stroke="#777" stroke-width="0.4"/>
<text x="342.0" y="486.8" font-size="3.8" fill="#555" text-anchor="end">0.8</text>
<line x1="342.7" y1="499.25" x2="344.2" y2="499.25" stroke="#777" stroke-width="0.4"/>
<text x="342.0" y="500.55" font-size="3.8" fill="#555" text-anchor="end">0.7</text>
<line x1="342.7" y1="513.0" x2="344.2" y2="513.0" stroke="#777" stroke-width="0.4"/>
<text x="342.0" y="514.3" font-size="3.8" fill="#555" text-anchor="end">0.6</text>
<line x1="342.7" y1="526.75" x2="344.2" y2="526.75" stroke="#777" stroke-width="0.4"/>
<text x="342.0" y="528.05" font-size="3.8" fill="#555" text-anchor="end">0.5</text>
<line x1="342.7" y1="540.5" x2="344.2" y2="540.5" stroke="#777" stroke-width="0.4"/>
<text x="342.0" y="541.8" font-size="3.8" fill="#555" text-anchor="end">0.4</text>
<line x1="342.7" y1="554.25" x2="344.2" y2="554.25" stroke="#777" stroke-width="0.4"/>
<text x="342.0" y="555.55" font-size="3.8" fill="#555" text-anchor="end">0.3</text>
<text transform="translate(333.6,507.5) rotate(-90)" font-size="6.3" fill="#222" text-anchor="middle">Na/K ATPase<tspan font-size="4" dy="-2.4">+</tspan><tspan dy="2.4"> Tumor cells</tspan></text>
<line x1="361.8" y1="459.5" x2="361.8" y2="468" stroke="#9a9a9a" stroke-width="0.8"/>
<line x1="361.8" y1="485.3" x2="361.8" y2="508.3" stroke="#9a9a9a" stroke-width="0.8"/>
<line x1="355.3" y1="459.5" x2="368.3" y2="459.5" stroke="#9a9a9a" stroke-width="0.8"/>
<line x1="355.3" y1="508.3" x2="368.3" y2="508.3" stroke="#9a9a9a" stroke-width="0.8"/>
<rect x="348.3" y="468" width="27" height="17.30000000000001" fill="#8a4a9c" stroke="#555" stroke-width="0.5"/>
<line x1="348.3" y1="475" x2="375.3" y2="475" stroke="#5a3a5a" stroke-width="0.6" opacity="0.7"/>
<circle cx="361.7" cy="515.3" r="1.2" fill="none" stroke="#666" stroke-width="0.45"/>
<circle cx="361.7" cy="546.2" r="1.2" fill="none" stroke="#666" stroke-width="0.45"/>
<circle cx="361.7" cy="558.8" r="1.2" fill="none" stroke="#666" stroke-width="0.45"/>
<line x1="395.5" y1="460.3" x2="395.5" y2="463.8" stroke="#9a9a9a" stroke-width="0.8"/>
<line x1="395.5" y1="477.2" x2="395.5" y2="486.7" stroke="#9a9a9a" stroke-width="0.8"/>
<line x1="389.0" y1="460.3" x2="402.0" y2="460.3" stroke="#9a9a9a" stroke-width="0.8"/>
<line x1="389.0" y1="486.7" x2="402.0" y2="486.7" stroke="#9a9a9a" stroke-width="0.8"/>
<rect x="381.75" y="463.8" width="27.5" height="13.399999999999977" fill="#6aa57c" stroke="#555" stroke-width="0.5"/>
<line x1="381.75" y1="469" x2="409.25" y2="469" stroke="#5a3a5a" stroke-width="0.6" opacity="0.7"/>
<circle cx="395.3" cy="511.7" r="1.2" fill="none" stroke="#666" stroke-width="0.45"/>
<circle cx="395.3" cy="522" r="1.2" fill="none" stroke="#666" stroke-width="0.45"/>
<circle cx="395.3" cy="547.5" r="1.2" fill="none" stroke="#666" stroke-width="0.45"/>
<rect x="432.5" y="454.5" width="67.5" height="109.7" fill="#fff" stroke="#a0a0a0" stroke-width="0.8"/>
<line x1="431.0" y1="461.2" x2="432.5" y2="461.2" stroke="#777" stroke-width="0.4"/>
<text x="430.3" y="462.5" font-size="3.8" fill="#555" text-anchor="end">0.7</text>
<line x1="431.0" y1="475.2" x2="432.5" y2="475.2" stroke="#777" stroke-width="0.4"/>
<text x="430.3" y="476.5" font-size="3.8" fill="#555" text-anchor="end">0.6</text>
<line x1="431.0" y1="489.2" x2="432.5" y2="489.2" stroke="#777" stroke-width="0.4"/>
<text x="430.3" y="490.5" font-size="3.8" fill="#555" text-anchor="end">0.5</text>
<line x1="431.0" y1="503.2" x2="432.5" y2="503.2" stroke="#777" stroke-width="0.4"/>
<text x="430.3" y="504.5" font-size="3.8" fill="#555" text-anchor="end">0.4</text>
<line x1="431.0" y1="517.2" x2="432.5" y2="517.2" stroke="#777" stroke-width="0.4"/>
<text x="430.3" y="518.5" font-size="3.8" fill="#555" text-anchor="end">0.3</text>
<line x1="431.0" y1="531.2" x2="432.5" y2="531.2" stroke="#777" stroke-width="0.4"/>
<text x="430.3" y="532.5" font-size="3.8" fill="#555" text-anchor="end">0.2</text>
<line x1="431.0" y1="545.2" x2="432.5" y2="545.2" stroke="#777" stroke-width="0.4"/>
<text x="430.3" y="546.5" font-size="3.8" fill="#555" text-anchor="end">0.1</text>
<line x1="431.0" y1="559.2" x2="432.5" y2="559.2" stroke="#777" stroke-width="0.4"/>
<text x="430.3" y="560.5" font-size="3.8" fill="#555" text-anchor="end">0.0</text>
<text transform="translate(420.2,508.5) rotate(-90)" font-size="6.3" fill="#222" text-anchor="middle">Hexokinase1<tspan font-size="4" dy="-2.4">high</tspan><tspan dy="2.4"> Tumor cells</tspan></text>
<line x1="449.6" y1="459.5" x2="449.6" y2="498.3" stroke="#9a9a9a" stroke-width="0.8"/>
<line x1="449.6" y1="552" x2="449.6" y2="558.7" stroke="#9a9a9a" stroke-width="0.8"/>
<line x1="443.1" y1="459.5" x2="456.1" y2="459.5" stroke="#9a9a9a" stroke-width="0.8"/>
<line x1="443.1" y1="558.7" x2="456.1" y2="558.7" stroke="#9a9a9a" stroke-width="0.8"/>
<rect x="436.25" y="498.3" width="26.7" height="53.69999999999999" fill="#8a4a9c" stroke="#555" stroke-width="0.5"/>
<line x1="436.25" y1="537.2" x2="462.95" y2="537.2" stroke="#5a3a5a" stroke-width="0.6" opacity="0.7"/>
<line x1="482.7" y1="464.5" x2="482.7" y2="515.3" stroke="#9a9a9a" stroke-width="0.8"/>
<line x1="482.7" y1="557.5" x2="482.7" y2="559.2" stroke="#9a9a9a" stroke-width="0.8"/>
<line x1="476.2" y1="464.5" x2="489.2" y2="464.5" stroke="#9a9a9a" stroke-width="0.8"/>
<line x1="476.2" y1="559.2" x2="489.2" y2="559.2" stroke="#9a9a9a" stroke-width="0.8"/>
<rect x="469.2" y="515.3" width="27" height="42.200000000000045" fill="#6aa57c" stroke="#555" stroke-width="0.5"/>
<line x1="469.2" y1="546.7" x2="496.2" y2="546.7" stroke="#5a3a5a" stroke-width="0.6" opacity="0.7"/>
<rect x="519.5" y="454.5" width="67.5" height="109.7" fill="#fff" stroke="#a0a0a0" stroke-width="0.8"/>
<line x1="518.0" y1="459.49999999999994" x2="519.5" y2="459.49999999999994" stroke="#777" stroke-width="0.4"/>
<text x="517.3" y="460.79999999999995" font-size="3.8" fill="#555" text-anchor="end">0.12</text>
<line x1="518.0" y1="476.04999999999995" x2="519.5" y2="476.04999999999995" stroke="#777" stroke-width="0.4"/>
<text x="517.3" y="477.34999999999997" font-size="3.8" fill="#555" text-anchor="end">0.10</text>
<line x1="518.0" y1="492.59999999999997" x2="519.5" y2="492.59999999999997" stroke="#777" stroke-width="0.4"/>
<text x="517.3" y="493.9" font-size="3.8" fill="#555" text-anchor="end">0.08</text>
<line x1="518.0" y1="509.15" x2="519.5" y2="509.15" stroke="#777" stroke-width="0.4"/>
<text x="517.3" y="510.45" font-size="3.8" fill="#555" text-anchor="end">0.06</text>
<line x1="518.0" y1="525.6999999999999" x2="519.5" y2="525.6999999999999" stroke="#777" stroke-width="0.4"/>
<text x="517.3" y="526.9999999999999" font-size="3.8" fill="#555" text-anchor="end">0.04</text>
<line x1="518.0" y1="542.25" x2="519.5" y2="542.25" stroke="#777" stroke-width="0.4"/>
<text x="517.3" y="543.55" font-size="3.8" fill="#555" text-anchor="end">0.02</text>
<line x1="518.0" y1="558.8" x2="519.5" y2="558.8" stroke="#777" stroke-width="0.4"/>
<text x="517.3" y="560.0999999999999" font-size="3.8" fill="#555" text-anchor="end">0.00</text>
<text transform="translate(506.2,508) rotate(-90)" font-size="6.3" fill="#222" text-anchor="middle">Granzyme B<tspan font-size="4" dy="-2.4">+</tspan><tspan dy="2.4"> Plasma cells</tspan></text>
<line x1="536.6" y1="556.2" x2="536.6" y2="556.2" stroke="#9a9a9a" stroke-width="0.8"/>
<line x1="536.6" y1="559.2" x2="536.6" y2="559.2" stroke="#9a9a9a" stroke-width="0.8"/>
<line x1="536.6" y1="556.2" x2="536.6" y2="556.2" stroke="#9a9a9a" stroke-width="0.8"/>
<line x1="536.6" y1="559.2" x2="536.6" y2="559.2" stroke="#9a9a9a" stroke-width="0.8"/>
<rect x="523.25" y="556.2" width="26.7" height="3.0" fill="#7a4a8c" stroke="#555" stroke-width="0.5"/>
<line x1="523.25" y1="558.5" x2="549.95" y2="558.5" stroke="#5a3a5a" stroke-width="0.6" opacity="0.7"/>
<circle cx="536.3" cy="459.5" r="1.2" fill="none" stroke="#666" stroke-width="0.45"/>
<circle cx="536.3" cy="530.3" r="1.2" fill="none" stroke="#666" stroke-width="0.45"/>
<circle cx="536.3" cy="531.4" r="1.2" fill="none" stroke="#666" stroke-width="0.45"/>
<circle cx="536.3" cy="538.3" r="1.2" fill="none" stroke="#666" stroke-width="0.45"/>
<circle cx="536.3" cy="544.7" r="1.2" fill="none" stroke="#666" stroke-width="0.45"/>
<line x1="570.5" y1="557.8" x2="570.5" y2="557.8" stroke="#9a9a9a" stroke-width="0.8"/>
<line x1="570.5" y1="559.2" x2="570.5" y2="559.2" stroke="#9a9a9a" stroke-width="0.8"/>
<line x1="570.5" y1="557.8" x2="570.5" y2="557.8" stroke="#9a9a9a" stroke-width="0.8"/>
<line x1="570.5" y1="559.2" x2="570.5" y2="559.2" stroke="#9a9a9a" stroke-width="0.8"/>
<rect x="557.2" y="557.8" width="26.6" height="1.400000000000091" fill="#4a6a55" stroke="#555" stroke-width="0.5"/>
<line x1="557.2" y1="558.8" x2="583.8000000000001" y2="558.8" stroke="#5a3a5a" stroke-width="0.6" opacity="0.7"/>
<circle cx="570.3" cy="545.5" r="1.2" fill="none" stroke="#666" stroke-width="0.45"/>
<circle cx="570.3" cy="557.2" r="1.2" fill="none" stroke="#666" stroke-width="0.45"/>
<rect x="607.8" y="454.5" width="68.0" height="109.7" fill="#fff" stroke="#a0a0a0" stroke-width="0.8"/>
<line x1="606.3" y1="461.68000000000006" x2="607.8" y2="461.68000000000006" stroke="#777" stroke-width="0.4"/>
<text x="605.5999999999999" y="462.9800000000001" font-size="3.8" fill="#555" text-anchor="end">0.08</text>
<line x1="606.3" y1="473.87000000000006" x2="607.8" y2="473.87000000000006" stroke="#777" stroke-width="0.4"/>
<text x="605.5999999999999" y="475.1700000000001" font-size="3.8" fill="#555" text-anchor="end">0.07</text>
<line x1="606.3" y1="486.06000000000006" x2="607.8" y2="486.06000000000006" stroke="#777" stroke-width="0.4"/>
<text x="605.5999999999999" y="487.36000000000007" font-size="3.8" fill="#555" text-anchor="end">0.06</text>
<line x1="606.3" y1="498.25000000000006" x2="607.8" y2="498.25000000000006" stroke="#777" stroke-width="0.4"/>
<text x="605.5999999999999" y="499.55000000000007" font-size="3.8" fill="#555" text-anchor="end">0.05</text>
<line x1="606.3" y1="510.44000000000005" x2="607.8" y2="510.44000000000005" stroke="#777" stroke-width="0.4"/>
<text x="605.5999999999999" y="511.74000000000007" font-size="3.8" fill="#555" text-anchor="end">0.04</text>
<line x1="606.3" y1="522.63" x2="607.8" y2="522.63" stroke="#777" stroke-width="0.4"/>
<text x="605.5999999999999" y="523.93" font-size="3.8" fill="#555" text-anchor="end">0.03</text>
<line x1="606.3" y1="534.82" x2="607.8" y2="534.82" stroke="#777" stroke-width="0.4"/>
<text x="605.5999999999999" y="536.12" font-size="3.8" fill="#555" text-anchor="end">0.02</text>
<line x1="606.3" y1="547.01" x2="607.8" y2="547.01" stroke="#777" stroke-width="0.4"/>
<text x="605.5999999999999" y="548.31" font-size="3.8" fill="#555" text-anchor="end">0.01</text>
<line x1="606.3" y1="559.2" x2="607.8" y2="559.2" stroke="#777" stroke-width="0.4"/>
<text x="605.5999999999999" y="560.5" font-size="3.8" fill="#555" text-anchor="end">0.00</text>
<text transform="translate(595.0,507) rotate(-90)" font-size="6.3" fill="#222" text-anchor="middle">Granzyme B<tspan font-size="4" dy="-2.4">+</tspan><tspan dy="2.4"> Macrophage cells</tspan></text>
<line x1="625" y1="459.5" x2="625" y2="517.5" stroke="#9a9a9a" stroke-width="0.8"/>
<line x1="625" y1="557.5" x2="625" y2="559.2" stroke="#9a9a9a" stroke-width="0.8"/>
<line x1="618.5" y1="459.5" x2="631.5" y2="459.5" stroke="#9a9a9a" stroke-width="0.8"/>
<line x1="618.5" y1="559.2" x2="631.5" y2="559.2" stroke="#9a9a9a" stroke-width="0.8"/>
<rect x="611.25" y="517.5" width="27.5" height="40.0" fill="#8a4a9c" stroke="#555" stroke-width="0.5"/>
<line x1="611.25" y1="555.5" x2="638.75" y2="555.5" stroke="#5a3a5a" stroke-width="0.6" opacity="0.7"/>
<line x1="658.5" y1="549.2" x2="658.5" y2="554.5" stroke="#9a9a9a" stroke-width="0.8"/>
<line x1="658.5" y1="558.7" x2="658.5" y2="559.2" stroke="#9a9a9a" stroke-width="0.8"/>
<line x1="652.0" y1="549.2" x2="665.0" y2="549.2" stroke="#9a9a9a" stroke-width="0.8"/>
<line x1="652.0" y1="559.2" x2="665.0" y2="559.2" stroke="#9a9a9a" stroke-width="0.8"/>
<rect x="645.0" y="554.5" width="27" height="4.2000000000000455" fill="#6aa57c" stroke="#555" stroke-width="0.5"/>
<line x1="645.0" y1="557.5" x2="672.0" y2="557.5" stroke="#5a3a5a" stroke-width="0.6" opacity="0.7"/>
<circle cx="658.3" cy="488.7" r="1.2" fill="none" stroke="#666" stroke-width="0.45"/>
<circle cx="658.3" cy="504.2" r="1.2" fill="none" stroke="#666" stroke-width="0.45"/>
<circle cx="658.3" cy="505.6" r="1.2" fill="none" stroke="#666" stroke-width="0.45"/>
<circle cx="658.3" cy="507" r="1.2" fill="none" stroke="#666" stroke-width="0.45"/>
<circle cx="658.3" cy="532.8" r="1.2" fill="none" stroke="#666" stroke-width="0.45"/>
<circle cx="658.3" cy="544.7" r="1.2" fill="none" stroke="#666" stroke-width="0.45"/>
<defs><filter id="blur1" x="-10%" y="-10%" width="120%" height="120%"><feGaussianBlur stdDeviation="0.95"/></filter><filter id="blur2" x="-20%" y="-20%" width="140%" height="140%"><feGaussianBlur stdDeviation="1.2"/></filter></defs>
<text x="37.9" y="488.2" font-size="14" font-weight="bold">e</text>
<clipPath id="clcd68"><rect x="53.4" y="483.4" width="79.3" height="82.2"/></clipPath>
<rect x="53.4" y="483.4" width="79.3" height="82.2" fill="#080609"/>
<g clip-path="url(#clcd68)">
<g filter="url(#blur1)">
<ellipse cx="59.1" cy="527.4" rx="3.0" ry="1.0" fill="#494354" opacity="0.25" transform="rotate(-41 59.1 527.4)"/>
<ellipse cx="86.6" cy="503.2" rx="3.7" ry="1.0" fill="#4c4759" opacity="0.23" transform="rotate(-28 86.6 503.2)"/>
<ellipse cx="103.2" cy="561.3" rx="3.8" ry="1.6" fill="#383340" opacity="0.21" transform="rotate(36 103.2 561.3)"/>
<ellipse cx="77.9" cy="550.5" rx="2.2" ry="1.9" fill="#504a5d" opacity="0.25" transform="rotate(-40 77.9 550.5)"/>
<ellipse cx="109.9" cy="529.8" rx="4.0" ry="1.7" fill="#4b4556" opacity="0.31" transform="rotate(-19 109.9 529.8)"/>
<ellipse cx="99.8" cy="520.7" rx="2.7" ry="2.3" fill="#544e61" opacity="0.39" transform="rotate(-42 99.8 520.7)"/>
<ellipse cx="77.2" cy="524.1" rx="2.9" ry="1.7" fill="#4e495b" opacity="0.45" transform="rotate(-38 77.2 524.1)"/>
<ellipse cx="86.6" cy="545.6" rx="2.1" ry="1.7" fill="#2c2933" opacity="0.44" transform="rotate(-42 86.6 545.6)"/>
<ellipse cx="97.7" cy="548.3" rx="4.8" ry="1.5" fill="#3f3a49" opacity="0.35" transform="rotate(8 97.7 548.3)"/>
<ellipse cx="89.6" cy="552.4" rx="5.3" ry="1.7" fill="#524c5f" opacity="0.22" transform="rotate(23 89.6 552.4)"/>
<ellipse cx="78.0" cy="530.9" rx="4.2" ry="1.7" fill="#554f63" opacity="0.30" transform="rotate(17 78.0 530.9)"/>
<ellipse cx="55.2" cy="521.4" rx="2.2" ry="1.1" fill="#2d2a34" opacity="0.25" transform="rotate(-21 55.2 521.4)"/>
<ellipse cx="112.0" cy="516.1" rx="5.2" ry="1.7" fill="#34303c" opacity="0.31" transform="rotate(5 112.0 516.1)"/>
<ellipse cx="123.5" cy="550.7" rx="5.0" ry="1.4" fill="#433e4e" opacity="0.45" transform="rotate(18 123.5 550.7)"/>
<ellipse cx="83.6" cy="502.4" rx="1.8" ry="1.2" fill="#524c5f" opacity="0.26" transform="rotate(-2 83.6 502.4)"/>
<ellipse cx="100.1" cy="505.0" rx="1.5" ry="1.6" fill="#403b4a" opacity="0.35" transform="rotate(-18 100.1 505.0)"/>
<ellipse cx="63.4" cy="554.0" rx="5.3" ry="2.0" fill="#575065" opacity="0.21" transform="rotate(40 63.4 554.0)"/>
<ellipse cx="115.3" cy="555.3" rx="4.7" ry="1.6" fill="#423d4d" opacity="0.30" transform="rotate(-2 115.3 555.3)"/>
<ellipse cx="85.2" cy="499.1" rx="3.3" ry="1.1" fill="#4e495b" opacity="0.21" transform="rotate(-50 85.2 499.1)"/>
<ellipse cx="55.4" cy="555.3" rx="4.0" ry="1.2" fill="#393543" opacity="0.44" transform="rotate(10 55.4 555.3)"/>
<ellipse cx="130.9" cy="522.9" rx="2.7" ry="1.1" fill="#575065" opacity="0.29" transform="rotate(-24 130.9 522.9)"/>
<ellipse cx="128.8" cy="526.8" rx="2.1" ry="1.8" fill="#2b2832" opacity="0.39" transform="rotate(-20 128.8 526.8)"/>
<ellipse cx="104.4" cy="490.9" rx="3.6" ry="2.4" fill="#3f3a49" opacity="0.39" transform="rotate(3 104.4 490.9)"/>
<ellipse cx="115.2" cy="510.5" rx="2.4" ry="2.3" fill="#36323e" opacity="0.40" transform="rotate(32 115.2 510.5)"/>
<ellipse cx="112.1" cy="502.0" rx="3.6" ry="1.5" fill="#2b2832" opacity="0.45" transform="rotate(29 112.1 502.0)"/>
<ellipse cx="80.7" cy="549.9" rx="4.4" ry="1.5" fill="#403b4a" opacity="0.22" transform="rotate(-40 80.7 549.9)"/>
<ellipse cx="90.7" cy="511.2" rx="3.4" ry="2.6" fill="#4f495c" opacity="0.41" transform="rotate(-2 90.7 511.2)"/>
<ellipse cx="105.2" cy="549.1" rx="1.8" ry="2.0" fill="#413c4b" opacity="0.40" transform="rotate(25 105.2 549.1)"/>
<ellipse cx="91.3" cy="498.1" rx="2.8" ry="2.3" fill="#565064" opacity="0.30" transform="rotate(-10 91.3 498.1)"/>
<ellipse cx="128.5" cy="543.0" rx="2.2" ry="1.1" fill="#332f3b" opacity="0.35" transform="rotate(-3 128.5 543.0)"/>
<ellipse cx="105.4" cy="533.7" rx="3.9" ry="1.7" fill="#3f3a49" opacity="0.24" transform="rotate(5 105.4 533.7)"/>
<ellipse cx="55.1" cy="549.1" rx="4.4" ry="1.1" fill="#575065" opacity="0.43" transform="rotate(-7 55.1 549.1)"/>
<ellipse cx="122.5" cy="551.3" rx="2.3" ry="1.3" fill="#3b3745" opacity="0.33" transform="rotate(26 122.5 551.3)"/>
<ellipse cx="79.3" cy="528.1" rx="4.8" ry="1.0" fill="#575065" opacity="0.29" transform="rotate(-4 79.3 528.1)"/>
<ellipse cx="99.7" cy="557.7" rx="3.2" ry="2.5" fill="#494354" opacity="0.23" transform="rotate(-35 99.7 557.7)"/>
<ellipse cx="93.9" cy="555.1" rx="4.6" ry="1.9" fill="#332f3b" opacity="0.24" transform="rotate(-3 93.9 555.1)"/>
<ellipse cx="110.9" cy="529.1" rx="2.8" ry="1.8" fill="#4c4658" opacity="0.32" transform="rotate(28 110.9 529.1)"/>
<ellipse cx="55.6" cy="556.9" rx="1.8" ry="1.5" fill="#494354" opacity="0.35" transform="rotate(-30 55.6 556.9)"/>
<ellipse cx="75.4" cy="525.2" rx="4.7" ry="1.8" fill="#393442" opacity="0.37" transform="rotate(38 75.4 525.2)"/>
<ellipse cx="128.1" cy="504.7" rx="3.7" ry="2.5" fill="#454050" opacity="0.23" transform="rotate(-38 128.1 504.7)"/>
<ellipse cx="59.2" cy="538.4" rx="4.6" ry="2.4" fill="#332f3b" opacity="0.43" transform="rotate(14 59.2 538.4)"/>
<ellipse cx="82.4" cy="504.2" rx="2.0" ry="1.7" fill="#575065" opacity="0.44" transform="rotate(-10 82.4 504.2)"/>
<ellipse cx="92.0" cy="564.8" rx="4.8" ry="1.2" fill="#443f4f" opacity="0.45" transform="rotate(-10 92.0 564.8)"/>
<ellipse cx="86.8" cy="512.7" rx="1.9" ry="1.5" fill="#3e3a48" opacity="0.34" transform="rotate(-6 86.8 512.7)"/>
<ellipse cx="54.8" cy="510.6" rx="4.0" ry="1.8" fill="#2e2b35" opacity="0.23" transform="rotate(42 54.8 510.6)"/>
<ellipse cx="71.5" cy="555.4" rx="1.8" ry="1.4" fill="#35313d" opacity="0.27" transform="rotate(-37 71.5 555.4)"/>
<ellipse cx="86.9" cy="558.3" rx="4.8" ry="1.3" fill="#332f3b" opacity="0.33" transform="rotate(1 86.9 558.3)"/>
<ellipse cx="92.6" cy="510.3" rx="2.6" ry="2.3" fill="#35313d" opacity="0.31" transform="rotate(-43 92.6 510.3)"/>
<ellipse cx="127.8" cy="535.6" rx="4.7" ry="1.0" fill="#383340" opacity="0.22" transform="rotate(36 127.8 535.6)"/>
<ellipse cx="89.4" cy="511.3" rx="3.7" ry="2.5" fill="#3a3644" opacity="0.36" transform="rotate(-46 89.4 511.3)"/>
<ellipse cx="109.7" cy="560.5" rx="5.4" ry="1.3" fill="#35313d" opacity="0.25" transform="rotate(-19 109.7 560.5)"/>
<ellipse cx="77.6" cy="545.8" rx="2.7" ry="1.8" fill="#35313d" opacity="0.27" transform="rotate(30 77.6 545.8)"/>
<ellipse cx="93.5" cy="563.8" rx="3.6" ry="1.3" fill="#454050" opacity="0.23" transform="rotate(32 93.5 563.8)"/>
<ellipse cx="87.7" cy="524.1" rx="4.8" ry="1.6" fill="#494354" opacity="0.28" transform="rotate(-28 87.7 524.1)"/>
<ellipse cx="71.6" cy="499.7" rx="4.4" ry="1.1" fill="#3f3a49" opacity="0.45" transform="rotate(34 71.6 499.7)"/>
<ellipse cx="54.5" cy="534.8" rx="5.0" ry="1.6" fill="#2d2a34" opacity="0.22" transform="rotate(34 54.5 534.8)"/>
<ellipse cx="122.4" cy="538.5" rx="2.6" ry="1.3" fill="#3b3745" opacity="0.21" transform="rotate(-31 122.4 538.5)"/>
<ellipse cx="79.5" cy="564.4" rx="2.8" ry="1.0" fill="#3c3846" opacity="0.25" transform="rotate(-32 79.5 564.4)"/>
<ellipse cx="105.4" cy="503.8" rx="4.6" ry="1.1" fill="#2f2c37" opacity="0.24" transform="rotate(9 105.4 503.8)"/>
<ellipse cx="84.6" cy="508.0" rx="4.0" ry="1.0" fill="#4a4455" opacity="0.41" transform="rotate(-34 84.6 508.0)"/>
<ellipse cx="124.2" cy="547.8" rx="3.9" ry="2.2" fill="#565064" opacity="0.45" transform="rotate(-35 124.2 547.8)"/>
<ellipse cx="110.8" cy="536.3" rx="1.7" ry="2.3" fill="#494354" opacity="0.36" transform="rotate(23 110.8 536.3)"/>
<ellipse cx="93.4" cy="552.0" rx="4.7" ry="2.3" fill="#4d485a" opacity="0.40" transform="rotate(21 93.4 552.0)"/>
<ellipse cx="129.2" cy="536.2" rx="1.8" ry="1.0" fill="#504a5d" opacity="0.29" transform="rotate(-40 129.2 536.2)"/>
<ellipse cx="119.7" cy="529.3" rx="4.0" ry="2.0" fill="#534d60" opacity="0.26" transform="rotate(-24 119.7 529.3)"/>
<ellipse cx="89.6" cy="489.2" rx="5.1" ry="1.1" fill="#4a4455" opacity="0.22" transform="rotate(24 89.6 489.2)"/>
<ellipse cx="111.2" cy="500.3" rx="5.4" ry="1.7" fill="#413c4b" opacity="0.22" transform="rotate(41 111.2 500.3)"/>
<ellipse cx="69.1" cy="532.7" rx="2.8" ry="2.0" fill="#544e61" opacity="0.28" transform="rotate(7 69.1 532.7)"/>
<ellipse cx="106.7" cy="540.3" rx="4.2" ry="1.4" fill="#4a4455" opacity="0.27" transform="rotate(-3 106.7 540.3)"/>
<ellipse cx="114.2" cy="565.0" rx="3.7" ry="1.4" fill="#2f2c37" opacity="0.43" transform="rotate(-48 114.2 565.0)"/>
<ellipse cx="89.8" cy="550.8" rx="5.4" ry="1.7" fill="#3a3644" opacity="0.30" transform="rotate(42 89.8 550.8)"/>
<ellipse cx="112.7" cy="504.9" rx="2.9" ry="1.9" fill="#504a5d" opacity="0.33" transform="rotate(39 112.7 504.9)"/>
<ellipse cx="109.2" cy="502.4" rx="5.1" ry="1.7" fill="#2b2832" opacity="0.24" transform="rotate(45 109.2 502.4)"/>
<ellipse cx="107.4" cy="516.7" rx="4.4" ry="1.6" fill="#413c4b" opacity="0.28" transform="rotate(34 107.4 516.7)"/>
<ellipse cx="53.5" cy="545.1" rx="4.9" ry="1.1" fill="#36323e" opacity="0.38" transform="rotate(40 53.5 545.1)"/>
<ellipse cx="76.4" cy="514.0" rx="3.1" ry="2.6" fill="#4d485a" opacity="0.22" transform="rotate(43 76.4 514.0)"/>
<ellipse cx="113.3" cy="553.6" rx="2.6" ry="1.0" fill="#524c5f" opacity="0.27" transform="rotate(44 113.3 553.6)"/>
<ellipse cx="73.2" cy="505.2" rx="3.5" ry="1.2" fill="#403b4a" opacity="0.40" transform="rotate(-7 73.2 505.2)"/>
<ellipse cx="55.7" cy="546.0" rx="3.1" ry="2.4" fill="#4c4658" opacity="0.34" transform="rotate(22 55.7 546.0)"/>
<ellipse cx="57.3" cy="543.6" rx="3.3" ry="2.2" fill="#514b5e" opacity="0.42" transform="rotate(-1 57.3 543.6)"/>
<ellipse cx="125.7" cy="528.6" rx="2.2" ry="1.6" fill="#3b3745" opacity="0.27" transform="rotate(24 125.7 528.6)"/>
<ellipse cx="130.8" cy="504.8" rx="4.1" ry="1.4" fill="#4c4658" opacity="0.37" transform="rotate(-38 130.8 504.8)"/>
<ellipse cx="117.8" cy="528.6" rx="3.3" ry="1.5" fill="#454050" opacity="0.31" transform="rotate(5 117.8 528.6)"/>
<ellipse cx="78.7" cy="513.7" rx="4.7" ry="1.2" fill="#2b2832" opacity="0.39" transform="rotate(-9 78.7 513.7)"/>
<ellipse cx="86.2" cy="526.5" rx="3.0" ry="1.5" fill="#2d2a34" opacity="0.32" transform="rotate(7 86.2 526.5)"/>
<ellipse cx="82.0" cy="539.9" rx="3.6" ry="2.2" fill="#37333f" opacity="0.22" transform="rotate(40 82.0 539.9)"/>
<ellipse cx="83.9" cy="536.5" rx="3.2" ry="1.4" fill="#2b2832" opacity="0.23" transform="rotate(-7 83.9 536.5)"/>
<ellipse cx="114.0" cy="549.5" rx="5.4" ry="1.7" fill="#2e2b35" opacity="0.30" transform="rotate(43 114.0 549.5)"/>
<ellipse cx="118.9" cy="553.7" rx="5.4" ry="1.3" fill="#302c38" opacity="0.26" transform="rotate(-35 118.9 553.7)"/>
<ellipse cx="130.5" cy="492.4" rx="4.3" ry="2.3" fill="#464151" opacity="0.22" transform="rotate(28 130.5 492.4)"/>
<ellipse cx="56.4" cy="542.2" rx="5.3" ry="2.0" fill="#4a4455" opacity="0.36" transform="rotate(20 56.4 542.2)"/>
<ellipse cx="99.6" cy="515.3" rx="2.4" ry="1.9" fill="#2a2731" opacity="0.33" transform="rotate(50 99.6 515.3)"/>
<ellipse cx="75.5" cy="509.4" rx="4.9" ry="1.3" fill="#4a4455" opacity="0.26" transform="rotate(-25 75.5 509.4)"/>
<ellipse cx="129.6" cy="541.3" rx="2.7" ry="0.9" fill="#484253" opacity="0.42" transform="rotate(15 129.6 541.3)"/>
<ellipse cx="59.8" cy="502.1" rx="3.2" ry="1.5" fill="#484253" opacity="0.21" transform="rotate(-16 59.8 502.1)"/>
<ellipse cx="86.8" cy="539.5" rx="2.3" ry="2.3" fill="#575065" opacity="0.41" transform="rotate(-43 86.8 539.5)"/>
<ellipse cx="92.7" cy="499.9" rx="2.3" ry="1.7" fill="#393543" opacity="0.39" transform="rotate(-21 92.7 499.9)"/>
<ellipse cx="128.9" cy="524.2" rx="2.2" ry="1.3" fill="#433e4e" opacity="0.43" transform="rotate(-44 128.9 524.2)"/>
<ellipse cx="100.6" cy="559.2" rx="1.7" ry="0.9" fill="#4e495b" opacity="0.24" transform="rotate(-45 100.6 559.2)"/>
<ellipse cx="58.2" cy="515.7" rx="5.1" ry="2.4" fill="#565064" opacity="0.23" transform="rotate(-42 58.2 515.7)"/>
<ellipse cx="95.0" cy="521.8" rx="2.7" ry="2.1" fill="#403b4a" opacity="0.45" transform="rotate(-6 95.0 521.8)"/>
<ellipse cx="86.7" cy="556.2" rx="3.7" ry="2.2" fill="#413c4b" opacity="0.29" transform="rotate(32 86.7 556.2)"/>
<ellipse cx="118.6" cy="518.9" rx="1.7" ry="1.7" fill="#403b4a" opacity="0.34" transform="rotate(-5 118.6 518.9)"/>
<ellipse cx="79.0" cy="544.0" rx="3.4" ry="2.0" fill="#393442" opacity="0.40" transform="rotate(27 79.0 544.0)"/>
<ellipse cx="126.4" cy="504.5" rx="4.5" ry="2.4" fill="#3e3a48" opacity="0.29" transform="rotate(-17 126.4 504.5)"/>
<ellipse cx="129.0" cy="487.0" rx="4.3" ry="2.5" fill="#3c3846" opacity="0.20" transform="rotate(26 129.0 487.0)"/>
<ellipse cx="126.1" cy="535.5" rx="5.3" ry="0.9" fill="#383340" opacity="0.23" transform="rotate(22 126.1 535.5)"/>
<ellipse cx="90.3" cy="547.2" rx="4.7" ry="2.5" fill="#484253" opacity="0.23" transform="rotate(-0 90.3 547.2)"/>
<ellipse cx="54.1" cy="559.9" rx="2.7" ry="2.1" fill="#332f3b" opacity="0.35" transform="rotate(-17 54.1 559.9)"/>
<ellipse cx="78.7" cy="513.1" rx="4.6" ry="1.0" fill="#36323e" opacity="0.30" transform="rotate(-34 78.7 513.1)"/>
<ellipse cx="85.7" cy="536.8" rx="3.4" ry="1.8" fill="#34303c" opacity="0.45" transform="rotate(38 85.7 536.8)"/>
<ellipse cx="131.7" cy="505.2" rx="1.8" ry="1.1" fill="#484253" opacity="0.45" transform="rotate(47 131.7 505.2)"/>
<ellipse cx="124.1" cy="502.7" rx="3.7" ry="2.2" fill="#312d39" opacity="0.39" transform="rotate(-21 124.1 502.7)"/>
<ellipse cx="75.6" cy="505.4" rx="2.5" ry="1.3" fill="#454050" opacity="0.26" transform="rotate(-25 75.6 505.4)"/>
<ellipse cx="65.6" cy="556.1" rx="3.8" ry="1.5" fill="#423d4d" opacity="0.26" transform="rotate(-25 65.6 556.1)"/>
<ellipse cx="95.1" cy="536.8" rx="1.9" ry="1.7" fill="#2c2933" opacity="0.23" transform="rotate(-3 95.1 536.8)"/>
<ellipse cx="118.4" cy="552.5" rx="5.2" ry="1.0" fill="#3b3745" opacity="0.26" transform="rotate(-45 118.4 552.5)"/>
<ellipse cx="101.0" cy="551.5" rx="2.3" ry="1.0" fill="#494354" opacity="0.42" transform="rotate(-5 101.0 551.5)"/>
<ellipse cx="74.0" cy="547.3" rx="5.3" ry="1.1" fill="#4e495b" opacity="0.38" transform="rotate(-15 74.0 547.3)"/>
<ellipse cx="56.4" cy="511.3" rx="1.7" ry="2.6" fill="#2c2933" opacity="0.35" transform="rotate(15 56.4 511.3)"/>
<ellipse cx="69.5" cy="548.8" rx="3.7" ry="1.0" fill="#302c38" opacity="0.40" transform="rotate(16 69.5 548.8)"/>
<ellipse cx="65.7" cy="527.3" rx="4.1" ry="1.6" fill="#3a3644" opacity="0.30" transform="rotate(-22 65.7 527.3)"/>
<ellipse cx="77.8" cy="561.8" rx="2.7" ry="1.9" fill="#3f3a49" opacity="0.30" transform="rotate(-48 77.8 561.8)"/>
<ellipse cx="114.2" cy="549.3" rx="4.1" ry="1.6" fill="#423d4d" opacity="0.25" transform="rotate(-49 114.2 549.3)"/>
<ellipse cx="124.9" cy="518.2" rx="4.8" ry="1.6" fill="#403b4a" opacity="0.32" transform="rotate(-34 124.9 518.2)"/>
<ellipse cx="54.6" cy="528.7" rx="4.1" ry="2.4" fill="#2f2c37" opacity="0.34" transform="rotate(43 54.6 528.7)"/>
<ellipse cx="83.8" cy="545.3" rx="4.7" ry="2.3" fill="#3c3846" opacity="0.23" transform="rotate(44 83.8 545.3)"/>
<ellipse cx="130.8" cy="523.1" rx="1.7" ry="2.5" fill="#413c4b" opacity="0.22" transform="rotate(21 130.8 523.1)"/>
<ellipse cx="108.0" cy="556.7" rx="4.1" ry="2.4" fill="#4f495c" opacity="0.30" transform="rotate(35 108.0 556.7)"/>
<ellipse cx="85.1" cy="526.0" rx="3.0" ry="1.1" fill="#393442" opacity="0.44" transform="rotate(32 85.1 526.0)"/>
<ellipse cx="68.7" cy="556.1" rx="4.9" ry="2.0" fill="#524c5f" opacity="0.41" transform="rotate(-38 68.7 556.1)"/>
<ellipse cx="100.9" cy="528.6" rx="4.0" ry="1.4" fill="#433e4e" opacity="0.28" transform="rotate(-25 100.9 528.6)"/>
<ellipse cx="84.3" cy="513.6" rx="3.5" ry="1.2" fill="#2a2731" opacity="0.35" transform="rotate(-1 84.3 513.6)"/>
<ellipse cx="72.1" cy="546.2" rx="4.6" ry="1.7" fill="#35313d" opacity="0.40" transform="rotate(-10 72.1 546.2)"/>
<ellipse cx="58.7" cy="512.9" rx="3.0" ry="2.3" fill="#494354" opacity="0.33" transform="rotate(-46 58.7 512.9)"/>
<ellipse cx="103.9" cy="490.2" rx="4.6" ry="1.8" fill="#2d2a34" opacity="0.39" transform="rotate(39 103.9 490.2)"/>
<ellipse cx="105.2" cy="547.9" rx="1.6" ry="1.0" fill="#4f495c" opacity="0.38" transform="rotate(31 105.2 547.9)"/>
<ellipse cx="68.8" cy="564.1" rx="3.5" ry="2.5" fill="#34303c" opacity="0.37" transform="rotate(22 68.8 564.1)"/>
<ellipse cx="70.9" cy="551.9" rx="3.9" ry="1.3" fill="#3d3947" opacity="0.42" transform="rotate(-23 70.9 551.9)"/>
</g>
<g filter="url(#blur2)">
<ellipse cx="86.7" cy="518.7" rx="25.4" ry="5.8" fill="#2a2250" opacity="0.6"/>
<ellipse cx="91.5" cy="527.0" rx="9.5" ry="3.3" fill="#3a2f70" opacity="0.6"/>
<ellipse cx="73.1" cy="520.3" rx="2.5" ry="0.8" fill="#7468b8" opacity="0.51"/>
<ellipse cx="94.1" cy="525.6" rx="1.7" ry="0.9" fill="#5c4ea0" opacity="0.28"/>
<ellipse cx="85.1" cy="520.4" rx="2.3" ry="1.0" fill="#4a3c88" opacity="0.43"/>
<ellipse cx="77.0" cy="521.5" rx="2.1" ry="1.0" fill="#7468b8" opacity="0.25"/>
<ellipse cx="82.9" cy="518.5" rx="1.1" ry="0.7" fill="#4a3c88" opacity="0.48"/>
<ellipse cx="79.9" cy="523.6" rx="1.2" ry="0.7" fill="#6a5cb0" opacity="0.40"/>
<ellipse cx="80.3" cy="514.9" rx="1.3" ry="1.2" fill="#4a3c88" opacity="0.46"/>
<ellipse cx="83.5" cy="521.5" rx="1.3" ry="0.5" fill="#4a3c88" opacity="0.37"/>
<ellipse cx="93.0" cy="515.4" rx="2.5" ry="1.1" fill="#4a3c88" opacity="0.31"/>
<ellipse cx="90.0" cy="518.1" rx="1.5" ry="1.0" fill="#40347a" opacity="0.27"/>
<ellipse cx="73.5" cy="513.6" rx="1.3" ry="0.6" fill="#6a5cb0" opacity="0.25"/>
<ellipse cx="65.5" cy="523.7" rx="1.0" ry="1.0" fill="#4a3c88" opacity="0.27"/>
<ellipse cx="88.7" cy="516.3" rx="1.8" ry="0.8" fill="#5c4ea0" opacity="0.55"/>
<ellipse cx="88.1" cy="514.5" rx="1.5" ry="0.8" fill="#5c4ea0" opacity="0.25"/>
<ellipse cx="106.5" cy="510.3" rx="1.9" ry="1.2" fill="#4a3c88" opacity="0.31"/>
<ellipse cx="69.5" cy="523.7" rx="2.0" ry="0.6" fill="#5c4ea0" opacity="0.31"/>
<ellipse cx="85.7" cy="525.8" rx="1.4" ry="0.7" fill="#4a3c88" opacity="0.27"/>
<ellipse cx="90.8" cy="524.4" rx="0.8" ry="0.8" fill="#7468b8" opacity="0.39"/>
<ellipse cx="99.1" cy="517.5" rx="1.8" ry="1.1" fill="#5c4ea0" opacity="0.44"/>
<ellipse cx="83.7" cy="521.5" rx="1.9" ry="1.0" fill="#5c4ea0" opacity="0.47"/>
<ellipse cx="93.5" cy="517.8" rx="2.5" ry="1.1" fill="#7468b8" opacity="0.27"/>
<ellipse cx="91.8" cy="519.3" rx="1.7" ry="0.7" fill="#40347a" opacity="0.33"/>
<ellipse cx="93.4" cy="513.8" rx="1.3" ry="0.6" fill="#4a3c88" opacity="0.29"/>
<ellipse cx="70.7" cy="519.5" rx="1.9" ry="0.6" fill="#5c4ea0" opacity="0.53"/>
<ellipse cx="87.3" cy="519.5" rx="1.3" ry="0.8" fill="#4a3c88" opacity="0.26"/>
<ellipse cx="84.0" cy="523.7" rx="2.6" ry="0.6" fill="#5c4ea0" opacity="0.52"/>
<ellipse cx="102.8" cy="518.0" rx="2.0" ry="0.9" fill="#5c4ea0" opacity="0.43"/>
<ellipse cx="97.9" cy="516.6" rx="1.4" ry="0.7" fill="#4a3c88" opacity="0.26"/>
<ellipse cx="78.4" cy="515.2" rx="2.1" ry="0.7" fill="#4a3c88" opacity="0.27"/>
<ellipse cx="69.3" cy="516.8" rx="2.4" ry="1.0" fill="#5c4ea0" opacity="0.49"/>
</g>
<g filter="url(#blur1)">
<line x1="81.2" y1="515.0" x2="100.2" y2="515.5" stroke="#cfc6f4" stroke-width="1.43" opacity="0.8" stroke-linecap="round"/>
<line x1="85.9" y1="527.8" x2="100.2" y2="528.2" stroke="#b8a8ee" stroke-width="1.43" opacity="0.8" stroke-linecap="round"/>
<line x1="104.2" y1="513.8" x2="108.9" y2="513.8" stroke="#e0ddef" stroke-width="1.21" opacity="0.8" stroke-linecap="round"/>
<line x1="116.8" y1="513.8" x2="123.2" y2="513.8" stroke="#e0ddef" stroke-width="1.32" opacity="0.8" stroke-linecap="round"/>
<line x1="58.2" y1="516.3" x2="66.1" y2="516.3" stroke="#9080c8" stroke-width="1.10" opacity="0.8" stroke-linecap="round"/>
<line x1="67.7" y1="520.4" x2="74.0" y2="521.2" stroke="#7a68c0" stroke-width="1.32" opacity="0.8" stroke-linecap="round"/>
</g>
<ellipse cx="120.4" cy="513.4" rx="0.9" ry="0.5" fill="#e8e6f4" opacity="0.65"/>
<ellipse cx="94.7" cy="523.9" rx="0.9" ry="0.5" fill="#e8e6f4" opacity="0.65"/>
<ellipse cx="102.8" cy="514.5" rx="0.7" ry="0.5" fill="#e8e6f4" opacity="0.54"/>
<ellipse cx="77.4" cy="514.5" rx="0.8" ry="0.5" fill="#e8e6f4" opacity="0.70"/>
<ellipse cx="118.6" cy="517.3" rx="0.8" ry="0.5" fill="#e8e6f4" opacity="0.53"/>
<ellipse cx="95.9" cy="513.1" rx="0.9" ry="0.5" fill="#e8e6f4" opacity="0.33"/>
<ellipse cx="111.9" cy="524.5" rx="0.7" ry="0.5" fill="#e8e6f4" opacity="0.39"/>
<ellipse cx="109.2" cy="519.2" rx="0.7" ry="0.5" fill="#e8e6f4" opacity="0.55"/>
<ellipse cx="120.7" cy="517.9" rx="0.6" ry="0.5" fill="#e8e6f4" opacity="0.57"/>
<ellipse cx="83.7" cy="518.7" rx="0.5" ry="0.5" fill="#e8e6f4" opacity="0.66"/>
<ellipse cx="107.2" cy="508.2" rx="0.6" ry="0.5" fill="#e8e6f4" opacity="0.57"/>
<ellipse cx="83.5" cy="521.6" rx="0.7" ry="0.5" fill="#e8e6f4" opacity="0.62"/>
<ellipse cx="120.3" cy="521.5" rx="0.7" ry="0.5" fill="#e8e6f4" opacity="0.43"/>
<ellipse cx="80.2" cy="514.6" rx="0.7" ry="0.5" fill="#e8e6f4" opacity="0.63"/>
</g>
<polygon points="74.769,507.537 80.369,511.93699999999995 76.569,511.13699999999994 74.169,512.9369999999999" fill="#fff"/>
<clipPath id="clgz"><rect x="135.9" y="483.3" width="78.6" height="82.1"/></clipPath>
<rect x="135.9" y="483.3" width="78.6" height="82.1" fill="#070a0a"/>
<g clip-path="url(#clgz)">
<g filter="url(#blur1)">
<ellipse cx="141.6" cy="527.3" rx="3.0" ry="1.0" fill="#263734" opacity="0.25" transform="rotate(-41 141.6 527.3)"/>
<ellipse cx="168.8" cy="503.1" rx="3.7" ry="1.0" fill="#283a37" opacity="0.23" transform="rotate(-28 168.8 503.1)"/>
<ellipse cx="185.2" cy="561.1" rx="3.8" ry="1.6" fill="#1d2a28" opacity="0.21" transform="rotate(36 185.2 561.1)"/>
<ellipse cx="160.1" cy="550.3" rx="2.2" ry="1.9" fill="#2a3d39" opacity="0.25" transform="rotate(-40 160.1 550.3)"/>
<ellipse cx="191.9" cy="529.6" rx="4.0" ry="1.7" fill="#273835" opacity="0.31" transform="rotate(-19 191.9 529.6)"/>
<ellipse cx="181.9" cy="520.5" rx="2.7" ry="2.3" fill="#2c403c" opacity="0.39" transform="rotate(-42 181.9 520.5)"/>
<ellipse cx="159.5" cy="523.9" rx="2.9" ry="1.7" fill="#293b38" opacity="0.45" transform="rotate(-38 159.5 523.9)"/>
<ellipse cx="168.8" cy="545.5" rx="2.1" ry="1.7" fill="#17211f" opacity="0.44" transform="rotate(-42 168.8 545.5)"/>
<ellipse cx="179.8" cy="548.1" rx="4.8" ry="1.5" fill="#21302d" opacity="0.35" transform="rotate(8 179.8 548.1)"/>
<ellipse cx="171.8" cy="552.3" rx="5.3" ry="1.7" fill="#2b3e3b" opacity="0.22" transform="rotate(23 171.8 552.3)"/>
<ellipse cx="160.2" cy="530.7" rx="4.2" ry="1.7" fill="#2d403d" opacity="0.30" transform="rotate(17 160.2 530.7)"/>
<ellipse cx="137.7" cy="521.2" rx="2.2" ry="1.1" fill="#182220" opacity="0.25" transform="rotate(-21 137.7 521.2)"/>
<ellipse cx="193.9" cy="516.0" rx="5.2" ry="1.7" fill="#1b2725" opacity="0.31" transform="rotate(5 193.9 516.0)"/>
<ellipse cx="205.3" cy="550.6" rx="5.0" ry="1.4" fill="#233330" opacity="0.45" transform="rotate(18 205.3 550.6)"/>
<ellipse cx="165.8" cy="502.2" rx="1.8" ry="1.2" fill="#2b3e3b" opacity="0.26" transform="rotate(-2 165.8 502.2)"/>
<ellipse cx="182.2" cy="504.9" rx="1.5" ry="1.6" fill="#22302e" opacity="0.35" transform="rotate(-18 182.2 504.9)"/>
<ellipse cx="145.8" cy="553.8" rx="5.3" ry="2.0" fill="#2e423e" opacity="0.21" transform="rotate(40 145.8 553.8)"/>
<ellipse cx="197.2" cy="555.1" rx="4.7" ry="1.6" fill="#23322f" opacity="0.30" transform="rotate(-2 197.2 555.1)"/>
<ellipse cx="167.4" cy="498.9" rx="3.3" ry="1.1" fill="#293b38" opacity="0.21" transform="rotate(-50 167.4 498.9)"/>
<ellipse cx="137.9" cy="555.1" rx="4.0" ry="1.2" fill="#1e2b29" opacity="0.44" transform="rotate(10 137.9 555.1)"/>
<ellipse cx="212.8" cy="522.7" rx="2.7" ry="1.1" fill="#2e423e" opacity="0.29" transform="rotate(-24 212.8 522.7)"/>
<ellipse cx="210.6" cy="526.7" rx="2.1" ry="1.8" fill="#17211f" opacity="0.39" transform="rotate(-20 210.6 526.7)"/>
<ellipse cx="186.4" cy="490.8" rx="3.6" ry="2.4" fill="#21302d" opacity="0.39" transform="rotate(3 186.4 490.8)"/>
<ellipse cx="197.1" cy="510.4" rx="2.4" ry="2.3" fill="#1c2926" opacity="0.40" transform="rotate(32 197.1 510.4)"/>
<ellipse cx="194.1" cy="501.9" rx="3.6" ry="1.5" fill="#17211f" opacity="0.45" transform="rotate(29 194.1 501.9)"/>
<ellipse cx="163.0" cy="549.7" rx="4.4" ry="1.5" fill="#22302e" opacity="0.22" transform="rotate(-40 163.0 549.7)"/>
<ellipse cx="172.8" cy="511.0" rx="3.4" ry="2.6" fill="#2a3c39" opacity="0.41" transform="rotate(-2 172.8 511.0)"/>
<ellipse cx="187.2" cy="549.0" rx="1.8" ry="2.0" fill="#22312e" opacity="0.40" transform="rotate(25 187.2 549.0)"/>
<ellipse cx="173.5" cy="498.0" rx="2.8" ry="2.3" fill="#2d413d" opacity="0.30" transform="rotate(-10 173.5 498.0)"/>
<ellipse cx="210.3" cy="542.8" rx="2.2" ry="1.1" fill="#1b2624" opacity="0.35" transform="rotate(-3 210.3 542.8)"/>
<ellipse cx="187.5" cy="533.5" rx="3.9" ry="1.7" fill="#21302d" opacity="0.24" transform="rotate(5 187.5 533.5)"/>
<ellipse cx="137.6" cy="548.9" rx="4.4" ry="1.1" fill="#2e423e" opacity="0.43" transform="rotate(-7 137.6 548.9)"/>
<ellipse cx="204.4" cy="551.1" rx="2.3" ry="1.3" fill="#1f2d2a" opacity="0.33" transform="rotate(26 204.4 551.1)"/>
<ellipse cx="161.5" cy="528.0" rx="4.8" ry="1.0" fill="#2e423e" opacity="0.29" transform="rotate(-4 161.5 528.0)"/>
<ellipse cx="181.8" cy="557.5" rx="3.2" ry="2.5" fill="#263734" opacity="0.23" transform="rotate(-35 181.8 557.5)"/>
<ellipse cx="176.0" cy="555.0" rx="4.6" ry="1.9" fill="#1b2624" opacity="0.24" transform="rotate(-3 176.0 555.0)"/>
<ellipse cx="192.9" cy="529.0" rx="2.8" ry="1.8" fill="#283936" opacity="0.32" transform="rotate(28 192.9 529.0)"/>
<ellipse cx="138.1" cy="556.7" rx="1.8" ry="1.5" fill="#263734" opacity="0.35" transform="rotate(-30 138.1 556.7)"/>
<ellipse cx="157.7" cy="525.0" rx="4.7" ry="1.8" fill="#1e2b28" opacity="0.37" transform="rotate(38 157.7 525.0)"/>
<ellipse cx="210.0" cy="504.6" rx="3.7" ry="2.5" fill="#243431" opacity="0.23" transform="rotate(-38 210.0 504.6)"/>
<ellipse cx="141.6" cy="538.3" rx="4.6" ry="2.4" fill="#1b2624" opacity="0.43" transform="rotate(14 141.6 538.3)"/>
<ellipse cx="164.7" cy="504.1" rx="2.0" ry="1.7" fill="#2e423e" opacity="0.44" transform="rotate(-10 164.7 504.1)"/>
<ellipse cx="174.2" cy="564.6" rx="4.8" ry="1.2" fill="#243330" opacity="0.45" transform="rotate(-10 174.2 564.6)"/>
<ellipse cx="169.0" cy="512.6" rx="1.9" ry="1.5" fill="#212f2c" opacity="0.34" transform="rotate(-6 169.0 512.6)"/>
<ellipse cx="137.3" cy="510.5" rx="4.0" ry="1.8" fill="#182321" opacity="0.23" transform="rotate(42 137.3 510.5)"/>
<ellipse cx="153.9" cy="555.3" rx="1.8" ry="1.4" fill="#1c2826" opacity="0.27" transform="rotate(-37 153.9 555.3)"/>
<ellipse cx="169.1" cy="558.1" rx="4.8" ry="1.3" fill="#1b2624" opacity="0.33" transform="rotate(1 169.1 558.1)"/>
<ellipse cx="174.8" cy="510.2" rx="2.6" ry="2.3" fill="#1c2826" opacity="0.31" transform="rotate(-43 174.8 510.2)"/>
<ellipse cx="209.7" cy="535.4" rx="4.7" ry="1.0" fill="#1d2a28" opacity="0.22" transform="rotate(36 209.7 535.4)"/>
<ellipse cx="171.6" cy="511.1" rx="3.7" ry="2.5" fill="#1f2c2a" opacity="0.36" transform="rotate(-46 171.6 511.1)"/>
<ellipse cx="191.7" cy="560.3" rx="5.4" ry="1.3" fill="#1c2826" opacity="0.25" transform="rotate(-19 191.7 560.3)"/>
<ellipse cx="159.9" cy="545.7" rx="2.7" ry="1.8" fill="#1c2826" opacity="0.27" transform="rotate(30 159.9 545.7)"/>
<ellipse cx="175.6" cy="563.6" rx="3.6" ry="1.3" fill="#243431" opacity="0.23" transform="rotate(32 175.6 563.6)"/>
<ellipse cx="169.9" cy="523.9" rx="4.8" ry="1.6" fill="#263734" opacity="0.28" transform="rotate(-28 169.9 523.9)"/>
<ellipse cx="153.9" cy="499.6" rx="4.4" ry="1.1" fill="#21302d" opacity="0.45" transform="rotate(34 153.9 499.6)"/>
<ellipse cx="137.0" cy="534.6" rx="5.0" ry="1.6" fill="#182220" opacity="0.22" transform="rotate(34 137.0 534.6)"/>
<ellipse cx="204.3" cy="538.4" rx="2.6" ry="1.3" fill="#1f2d2a" opacity="0.21" transform="rotate(-31 204.3 538.4)"/>
<ellipse cx="161.8" cy="564.2" rx="2.8" ry="1.0" fill="#202e2b" opacity="0.25" transform="rotate(-32 161.8 564.2)"/>
<ellipse cx="187.5" cy="503.7" rx="4.6" ry="1.1" fill="#192422" opacity="0.24" transform="rotate(9 187.5 503.7)"/>
<ellipse cx="166.9" cy="507.9" rx="4.0" ry="1.0" fill="#273835" opacity="0.41" transform="rotate(-34 166.9 507.9)"/>
<ellipse cx="206.1" cy="547.7" rx="3.9" ry="2.2" fill="#2d413d" opacity="0.45" transform="rotate(-35 206.1 547.7)"/>
<ellipse cx="192.8" cy="536.1" rx="1.7" ry="2.3" fill="#263734" opacity="0.36" transform="rotate(23 192.8 536.1)"/>
<ellipse cx="175.5" cy="551.8" rx="4.7" ry="2.3" fill="#293b37" opacity="0.40" transform="rotate(21 175.5 551.8)"/>
<ellipse cx="211.0" cy="536.1" rx="1.8" ry="1.0" fill="#2a3d39" opacity="0.29" transform="rotate(-40 211.0 536.1)"/>
<ellipse cx="201.6" cy="529.2" rx="4.0" ry="2.0" fill="#2c3f3b" opacity="0.26" transform="rotate(-24 201.6 529.2)"/>
<ellipse cx="171.8" cy="489.1" rx="5.1" ry="1.1" fill="#273835" opacity="0.22" transform="rotate(24 171.8 489.1)"/>
<ellipse cx="193.2" cy="500.1" rx="5.4" ry="1.7" fill="#22312e" opacity="0.22" transform="rotate(41 193.2 500.1)"/>
<ellipse cx="151.5" cy="532.5" rx="2.8" ry="2.0" fill="#2c403c" opacity="0.28" transform="rotate(7 151.5 532.5)"/>
<ellipse cx="188.7" cy="540.1" rx="4.2" ry="1.4" fill="#273835" opacity="0.27" transform="rotate(-3 188.7 540.1)"/>
<ellipse cx="196.2" cy="564.8" rx="3.7" ry="1.4" fill="#192422" opacity="0.43" transform="rotate(-48 196.2 564.8)"/>
<ellipse cx="172.0" cy="550.6" rx="5.4" ry="1.7" fill="#1f2c2a" opacity="0.30" transform="rotate(42 172.0 550.6)"/>
<ellipse cx="194.7" cy="504.8" rx="2.9" ry="1.9" fill="#2a3d39" opacity="0.33" transform="rotate(39 194.7 504.8)"/>
<ellipse cx="191.2" cy="502.3" rx="5.1" ry="1.7" fill="#17211f" opacity="0.24" transform="rotate(45 191.2 502.3)"/>
<ellipse cx="189.5" cy="516.6" rx="4.4" ry="1.6" fill="#22312e" opacity="0.28" transform="rotate(34 189.5 516.6)"/>
<ellipse cx="136.0" cy="544.9" rx="4.9" ry="1.1" fill="#1c2926" opacity="0.38" transform="rotate(40 136.0 544.9)"/>
<ellipse cx="158.7" cy="513.9" rx="3.1" ry="2.6" fill="#293b37" opacity="0.22" transform="rotate(43 158.7 513.9)"/>
<ellipse cx="195.3" cy="553.4" rx="2.6" ry="1.0" fill="#2b3e3b" opacity="0.27" transform="rotate(44 195.3 553.4)"/>
<ellipse cx="155.5" cy="505.1" rx="3.5" ry="1.2" fill="#22302e" opacity="0.40" transform="rotate(-7 155.5 505.1)"/>
<ellipse cx="138.2" cy="545.8" rx="3.1" ry="2.4" fill="#283936" opacity="0.34" transform="rotate(22 138.2 545.8)"/>
<ellipse cx="139.8" cy="543.4" rx="3.3" ry="2.2" fill="#2b3d3a" opacity="0.42" transform="rotate(-1 139.8 543.4)"/>
<ellipse cx="207.6" cy="528.5" rx="2.2" ry="1.6" fill="#1f2d2a" opacity="0.27" transform="rotate(24 207.6 528.5)"/>
<ellipse cx="212.6" cy="504.7" rx="4.1" ry="1.4" fill="#283936" opacity="0.37" transform="rotate(-38 212.6 504.7)"/>
<ellipse cx="199.7" cy="528.5" rx="3.3" ry="1.5" fill="#243431" opacity="0.31" transform="rotate(5 199.7 528.5)"/>
<ellipse cx="161.0" cy="513.5" rx="4.7" ry="1.2" fill="#17211f" opacity="0.39" transform="rotate(-9 161.0 513.5)"/>
<ellipse cx="168.4" cy="526.3" rx="3.0" ry="1.5" fill="#182220" opacity="0.32" transform="rotate(7 168.4 526.3)"/>
<ellipse cx="164.2" cy="539.7" rx="3.6" ry="2.2" fill="#1d2927" opacity="0.22" transform="rotate(40 164.2 539.7)"/>
<ellipse cx="166.1" cy="536.3" rx="3.2" ry="1.4" fill="#17211f" opacity="0.23" transform="rotate(-7 166.1 536.3)"/>
<ellipse cx="195.9" cy="549.3" rx="5.4" ry="1.7" fill="#182321" opacity="0.30" transform="rotate(43 195.9 549.3)"/>
<ellipse cx="200.8" cy="553.5" rx="5.4" ry="1.3" fill="#192422" opacity="0.26" transform="rotate(-35 200.8 553.5)"/>
<ellipse cx="212.3" cy="492.2" rx="4.3" ry="2.3" fill="#253532" opacity="0.22" transform="rotate(28 212.3 492.2)"/>
<ellipse cx="138.9" cy="542.0" rx="5.3" ry="2.0" fill="#273835" opacity="0.36" transform="rotate(20 138.9 542.0)"/>
<ellipse cx="181.7" cy="515.2" rx="2.4" ry="1.9" fill="#16201e" opacity="0.33" transform="rotate(50 181.7 515.2)"/>
<ellipse cx="157.8" cy="509.3" rx="4.9" ry="1.3" fill="#273835" opacity="0.26" transform="rotate(-25 157.8 509.3)"/>
<ellipse cx="211.4" cy="541.2" rx="2.7" ry="0.9" fill="#263633" opacity="0.42" transform="rotate(15 211.4 541.2)"/>
<ellipse cx="142.3" cy="502.0" rx="3.2" ry="1.5" fill="#263633" opacity="0.21" transform="rotate(-16 142.3 502.0)"/>
<ellipse cx="169.0" cy="539.3" rx="2.3" ry="2.3" fill="#2e423e" opacity="0.41" transform="rotate(-43 169.0 539.3)"/>
<ellipse cx="174.9" cy="499.8" rx="2.3" ry="1.7" fill="#1e2b29" opacity="0.39" transform="rotate(-21 174.9 499.8)"/>
<ellipse cx="210.7" cy="524.0" rx="2.2" ry="1.3" fill="#233330" opacity="0.43" transform="rotate(-44 210.7 524.0)"/>
<ellipse cx="182.7" cy="559.0" rx="1.7" ry="0.9" fill="#293b38" opacity="0.24" transform="rotate(-45 182.7 559.0)"/>
<ellipse cx="140.6" cy="515.6" rx="5.1" ry="2.4" fill="#2d413d" opacity="0.23" transform="rotate(-42 140.6 515.6)"/>
<ellipse cx="177.1" cy="521.7" rx="2.7" ry="2.1" fill="#22302e" opacity="0.45" transform="rotate(-6 177.1 521.7)"/>
<ellipse cx="168.9" cy="556.0" rx="3.7" ry="2.2" fill="#22312e" opacity="0.29" transform="rotate(32 168.9 556.0)"/>
<ellipse cx="200.5" cy="518.8" rx="1.7" ry="1.7" fill="#22302e" opacity="0.34" transform="rotate(-5 200.5 518.8)"/>
<ellipse cx="161.3" cy="543.8" rx="3.4" ry="2.0" fill="#1e2b28" opacity="0.40" transform="rotate(27 161.3 543.8)"/>
<ellipse cx="208.2" cy="504.4" rx="4.5" ry="2.4" fill="#212f2c" opacity="0.29" transform="rotate(-17 208.2 504.4)"/>
<ellipse cx="210.9" cy="486.9" rx="4.3" ry="2.5" fill="#202e2b" opacity="0.20" transform="rotate(26 210.9 486.9)"/>
<ellipse cx="207.9" cy="535.3" rx="5.3" ry="0.9" fill="#1d2a28" opacity="0.23" transform="rotate(22 207.9 535.3)"/>
<ellipse cx="172.5" cy="547.0" rx="4.7" ry="2.5" fill="#263633" opacity="0.23" transform="rotate(-0 172.5 547.0)"/>
<ellipse cx="136.6" cy="559.7" rx="2.7" ry="2.1" fill="#1b2624" opacity="0.35" transform="rotate(-17 136.6 559.7)"/>
<ellipse cx="161.0" cy="513.0" rx="4.6" ry="1.0" fill="#1c2926" opacity="0.30" transform="rotate(-34 161.0 513.0)"/>
<ellipse cx="167.9" cy="536.6" rx="3.4" ry="1.8" fill="#1b2725" opacity="0.45" transform="rotate(38 167.9 536.6)"/>
<ellipse cx="213.5" cy="505.0" rx="1.8" ry="1.1" fill="#263633" opacity="0.45" transform="rotate(47 213.5 505.0)"/>
<ellipse cx="206.0" cy="502.6" rx="3.7" ry="2.2" fill="#1a2523" opacity="0.39" transform="rotate(-21 206.0 502.6)"/>
<ellipse cx="157.9" cy="505.3" rx="2.5" ry="1.3" fill="#243431" opacity="0.26" transform="rotate(-25 157.9 505.3)"/>
<ellipse cx="148.0" cy="555.9" rx="3.8" ry="1.5" fill="#23322f" opacity="0.26" transform="rotate(-25 148.0 555.9)"/>
<ellipse cx="177.3" cy="536.6" rx="1.9" ry="1.7" fill="#17211f" opacity="0.23" transform="rotate(-3 177.3 536.6)"/>
<ellipse cx="200.3" cy="552.3" rx="5.2" ry="1.0" fill="#1f2d2a" opacity="0.26" transform="rotate(-45 200.3 552.3)"/>
<ellipse cx="183.1" cy="551.3" rx="2.3" ry="1.0" fill="#263734" opacity="0.42" transform="rotate(-5 183.1 551.3)"/>
<ellipse cx="156.3" cy="547.2" rx="5.3" ry="1.1" fill="#293b38" opacity="0.38" transform="rotate(-15 156.3 547.2)"/>
<ellipse cx="138.8" cy="511.2" rx="1.7" ry="2.6" fill="#17211f" opacity="0.35" transform="rotate(15 138.8 511.2)"/>
<ellipse cx="151.9" cy="548.6" rx="3.7" ry="1.0" fill="#192422" opacity="0.40" transform="rotate(16 151.9 548.6)"/>
<ellipse cx="148.0" cy="527.1" rx="4.1" ry="1.6" fill="#1f2c2a" opacity="0.30" transform="rotate(-22 148.0 527.1)"/>
<ellipse cx="160.1" cy="561.6" rx="2.7" ry="1.9" fill="#21302d" opacity="0.30" transform="rotate(-48 160.1 561.6)"/>
<ellipse cx="196.2" cy="549.2" rx="4.1" ry="1.6" fill="#23322f" opacity="0.25" transform="rotate(-49 196.2 549.2)"/>
<ellipse cx="206.8" cy="518.1" rx="4.8" ry="1.6" fill="#22302e" opacity="0.32" transform="rotate(-34 206.8 518.1)"/>
<ellipse cx="137.1" cy="528.6" rx="4.1" ry="2.4" fill="#192422" opacity="0.34" transform="rotate(43 137.1 528.6)"/>
<ellipse cx="166.1" cy="545.2" rx="4.7" ry="2.3" fill="#202e2b" opacity="0.23" transform="rotate(44 166.1 545.2)"/>
<ellipse cx="212.6" cy="522.9" rx="1.7" ry="2.5" fill="#22312e" opacity="0.22" transform="rotate(21 212.6 522.9)"/>
<ellipse cx="190.0" cy="556.5" rx="4.1" ry="2.4" fill="#2a3c39" opacity="0.30" transform="rotate(35 190.0 556.5)"/>
<ellipse cx="167.3" cy="525.8" rx="3.0" ry="1.1" fill="#1e2b28" opacity="0.44" transform="rotate(32 167.3 525.8)"/>
<ellipse cx="151.0" cy="555.9" rx="4.9" ry="2.0" fill="#2b3e3b" opacity="0.41" transform="rotate(-38 151.0 555.9)"/>
<ellipse cx="183.0" cy="528.5" rx="4.0" ry="1.4" fill="#233330" opacity="0.28" transform="rotate(-25 183.0 528.5)"/>
<ellipse cx="166.5" cy="513.5" rx="3.5" ry="1.2" fill="#16201e" opacity="0.35" transform="rotate(-1 166.5 513.5)"/>
<ellipse cx="154.4" cy="546.0" rx="4.6" ry="1.7" fill="#1c2826" opacity="0.40" transform="rotate(-10 154.4 546.0)"/>
<ellipse cx="141.2" cy="512.7" rx="3.0" ry="2.3" fill="#263734" opacity="0.33" transform="rotate(-46 141.2 512.7)"/>
<ellipse cx="185.9" cy="490.1" rx="4.6" ry="1.8" fill="#182220" opacity="0.39" transform="rotate(39 185.9 490.1)"/>
<ellipse cx="187.2" cy="547.7" rx="1.6" ry="1.0" fill="#2a3c39" opacity="0.38" transform="rotate(31 187.2 547.7)"/>
<ellipse cx="151.1" cy="563.9" rx="3.5" ry="2.5" fill="#1b2725" opacity="0.37" transform="rotate(22 151.1 563.9)"/>
<ellipse cx="153.3" cy="551.7" rx="3.9" ry="1.3" fill="#202e2c" opacity="0.42" transform="rotate(-23 153.3 551.7)"/>
</g>
<ellipse cx="175.2" cy="517.782" rx="10.218" ry="8.209999999999999" fill="#1a4842" opacity="0.3" filter="url(#blur2)"/>
</g>
<circle cx="190.13400000000001" cy="499.72" r="1.1" fill="#30e0b0" filter="url(#blur1)"/>
<polygon points="157.03799999999998,507.4035 162.638,511.8035 158.838,511.0035 156.438,512.8035" fill="#fff"/>
<clipPath id="clmerge"><rect x="218.5" y="483.3" width="78.7" height="82.1"/></clipPath>
<rect x="218.5" y="483.3" width="78.7" height="82.1" fill="#08080a"/>
<g clip-path="url(#clmerge)">
<g filter="url(#blur1)">
<ellipse cx="224.2" cy="527.3" rx="3.0" ry="1.0" fill="#464653" opacity="0.25" transform="rotate(-41 224.2 527.3)"/>
<ellipse cx="251.4" cy="503.1" rx="3.7" ry="1.0" fill="#4a4a57" opacity="0.23" transform="rotate(-28 251.4 503.1)"/>
<ellipse cx="267.9" cy="561.1" rx="3.8" ry="1.6" fill="#36363f" opacity="0.21" transform="rotate(36 267.9 561.1)"/>
<ellipse cx="242.8" cy="550.3" rx="2.2" ry="1.9" fill="#4e4e5b" opacity="0.25" transform="rotate(-40 242.8 550.3)"/>
<ellipse cx="274.5" cy="529.6" rx="4.0" ry="1.7" fill="#484855" opacity="0.31" transform="rotate(-19 274.5 529.6)"/>
<ellipse cx="264.6" cy="520.5" rx="2.7" ry="2.3" fill="#515160" opacity="0.39" transform="rotate(-42 264.6 520.5)"/>
<ellipse cx="242.1" cy="523.9" rx="2.9" ry="1.7" fill="#4c4c59" opacity="0.45" transform="rotate(-38 242.1 523.9)"/>
<ellipse cx="251.4" cy="545.5" rx="2.1" ry="1.7" fill="#2b2b32" opacity="0.44" transform="rotate(-42 251.4 545.5)"/>
<ellipse cx="262.4" cy="548.1" rx="4.8" ry="1.5" fill="#3d3d48" opacity="0.35" transform="rotate(8 262.4 548.1)"/>
<ellipse cx="254.4" cy="552.3" rx="5.3" ry="1.7" fill="#50505d" opacity="0.22" transform="rotate(23 254.4 552.3)"/>
<ellipse cx="242.9" cy="530.7" rx="4.2" ry="1.7" fill="#525261" opacity="0.30" transform="rotate(17 242.9 530.7)"/>
<ellipse cx="220.3" cy="521.2" rx="2.2" ry="1.1" fill="#2c2c33" opacity="0.25" transform="rotate(-21 220.3 521.2)"/>
<ellipse cx="276.6" cy="516.0" rx="5.2" ry="1.7" fill="#32323b" opacity="0.31" transform="rotate(5 276.6 516.0)"/>
<ellipse cx="288.0" cy="550.6" rx="5.0" ry="1.4" fill="#41414c" opacity="0.45" transform="rotate(18 288.0 550.6)"/>
<ellipse cx="248.4" cy="502.2" rx="1.8" ry="1.2" fill="#50505d" opacity="0.26" transform="rotate(-2 248.4 502.2)"/>
<ellipse cx="264.9" cy="504.9" rx="1.5" ry="1.6" fill="#3e3e49" opacity="0.35" transform="rotate(-18 264.9 504.9)"/>
<ellipse cx="228.4" cy="553.8" rx="5.3" ry="2.0" fill="#545463" opacity="0.21" transform="rotate(40 228.4 553.8)"/>
<ellipse cx="279.9" cy="555.1" rx="4.7" ry="1.6" fill="#40404b" opacity="0.30" transform="rotate(-2 279.9 555.1)"/>
<ellipse cx="250.0" cy="498.9" rx="3.3" ry="1.1" fill="#4c4c59" opacity="0.21" transform="rotate(-50 250.0 498.9)"/>
<ellipse cx="220.5" cy="555.1" rx="4.0" ry="1.2" fill="#383841" opacity="0.44" transform="rotate(10 220.5 555.1)"/>
<ellipse cx="295.5" cy="522.7" rx="2.7" ry="1.1" fill="#545463" opacity="0.29" transform="rotate(-24 295.5 522.7)"/>
<ellipse cx="293.3" cy="526.7" rx="2.1" ry="1.8" fill="#2a2a31" opacity="0.39" transform="rotate(-20 293.3 526.7)"/>
<ellipse cx="269.1" cy="490.8" rx="3.6" ry="2.4" fill="#3d3d48" opacity="0.39" transform="rotate(3 269.1 490.8)"/>
<ellipse cx="279.8" cy="510.4" rx="2.4" ry="2.3" fill="#34343d" opacity="0.40" transform="rotate(32 279.8 510.4)"/>
<ellipse cx="276.7" cy="501.9" rx="3.6" ry="1.5" fill="#2a2a31" opacity="0.45" transform="rotate(29 276.7 501.9)"/>
<ellipse cx="245.6" cy="549.7" rx="4.4" ry="1.5" fill="#3e3e49" opacity="0.22" transform="rotate(-40 245.6 549.7)"/>
<ellipse cx="255.5" cy="511.0" rx="3.4" ry="2.6" fill="#4d4d5a" opacity="0.41" transform="rotate(-2 255.5 511.0)"/>
<ellipse cx="269.9" cy="549.0" rx="1.8" ry="2.0" fill="#3f3f4a" opacity="0.40" transform="rotate(25 269.9 549.0)"/>
<ellipse cx="256.1" cy="498.0" rx="2.8" ry="2.3" fill="#535362" opacity="0.30" transform="rotate(-10 256.1 498.0)"/>
<ellipse cx="293.0" cy="542.8" rx="2.2" ry="1.1" fill="#31313a" opacity="0.35" transform="rotate(-3 293.0 542.8)"/>
<ellipse cx="270.1" cy="533.5" rx="3.9" ry="1.7" fill="#3d3d48" opacity="0.24" transform="rotate(5 270.1 533.5)"/>
<ellipse cx="220.2" cy="548.9" rx="4.4" ry="1.1" fill="#545463" opacity="0.43" transform="rotate(-7 220.2 548.9)"/>
<ellipse cx="287.1" cy="551.1" rx="2.3" ry="1.3" fill="#393944" opacity="0.33" transform="rotate(26 287.1 551.1)"/>
<ellipse cx="244.2" cy="528.0" rx="4.8" ry="1.0" fill="#545463" opacity="0.29" transform="rotate(-4 244.2 528.0)"/>
<ellipse cx="264.4" cy="557.5" rx="3.2" ry="2.5" fill="#464653" opacity="0.23" transform="rotate(-35 264.4 557.5)"/>
<ellipse cx="258.7" cy="555.0" rx="4.6" ry="1.9" fill="#31313a" opacity="0.24" transform="rotate(-3 258.7 555.0)"/>
<ellipse cx="275.6" cy="529.0" rx="2.8" ry="1.8" fill="#494956" opacity="0.32" transform="rotate(28 275.6 529.0)"/>
<ellipse cx="220.7" cy="556.7" rx="1.8" ry="1.5" fill="#464653" opacity="0.35" transform="rotate(-30 220.7 556.7)"/>
<ellipse cx="240.3" cy="525.0" rx="4.7" ry="1.8" fill="#373740" opacity="0.37" transform="rotate(38 240.3 525.0)"/>
<ellipse cx="292.6" cy="504.6" rx="3.7" ry="2.5" fill="#43434e" opacity="0.23" transform="rotate(-38 292.6 504.6)"/>
<ellipse cx="224.3" cy="538.3" rx="4.6" ry="2.4" fill="#31313a" opacity="0.43" transform="rotate(14 224.3 538.3)"/>
<ellipse cx="247.3" cy="504.1" rx="2.0" ry="1.7" fill="#545463" opacity="0.44" transform="rotate(-10 247.3 504.1)"/>
<ellipse cx="256.8" cy="564.6" rx="4.8" ry="1.2" fill="#42424d" opacity="0.45" transform="rotate(-10 256.8 564.6)"/>
<ellipse cx="251.7" cy="512.6" rx="1.9" ry="1.5" fill="#3c3c47" opacity="0.34" transform="rotate(-6 251.7 512.6)"/>
<ellipse cx="219.9" cy="510.5" rx="4.0" ry="1.8" fill="#2d2d34" opacity="0.23" transform="rotate(42 219.9 510.5)"/>
<ellipse cx="236.5" cy="555.3" rx="1.8" ry="1.4" fill="#33333c" opacity="0.27" transform="rotate(-37 236.5 555.3)"/>
<ellipse cx="251.7" cy="558.1" rx="4.8" ry="1.3" fill="#31313a" opacity="0.33" transform="rotate(1 251.7 558.1)"/>
<ellipse cx="257.4" cy="510.2" rx="2.6" ry="2.3" fill="#33333c" opacity="0.31" transform="rotate(-43 257.4 510.2)"/>
<ellipse cx="292.3" cy="535.4" rx="4.7" ry="1.0" fill="#36363f" opacity="0.22" transform="rotate(36 292.3 535.4)"/>
<ellipse cx="254.2" cy="511.1" rx="3.7" ry="2.5" fill="#393942" opacity="0.36" transform="rotate(-46 254.2 511.1)"/>
<ellipse cx="274.3" cy="560.3" rx="5.4" ry="1.3" fill="#33333c" opacity="0.25" transform="rotate(-19 274.3 560.3)"/>
<ellipse cx="242.5" cy="545.7" rx="2.7" ry="1.8" fill="#33333c" opacity="0.27" transform="rotate(30 242.5 545.7)"/>
<ellipse cx="258.3" cy="563.6" rx="3.6" ry="1.3" fill="#43434e" opacity="0.23" transform="rotate(32 258.3 563.6)"/>
<ellipse cx="252.5" cy="523.9" rx="4.8" ry="1.6" fill="#464653" opacity="0.28" transform="rotate(-28 252.5 523.9)"/>
<ellipse cx="236.6" cy="499.6" rx="4.4" ry="1.1" fill="#3d3d48" opacity="0.45" transform="rotate(34 236.6 499.6)"/>
<ellipse cx="219.6" cy="534.6" rx="5.0" ry="1.6" fill="#2c2c33" opacity="0.22" transform="rotate(34 219.6 534.6)"/>
<ellipse cx="287.0" cy="538.4" rx="2.6" ry="1.3" fill="#393944" opacity="0.21" transform="rotate(-31 287.0 538.4)"/>
<ellipse cx="244.4" cy="564.2" rx="2.8" ry="1.0" fill="#3a3a45" opacity="0.25" transform="rotate(-32 244.4 564.2)"/>
<ellipse cx="270.1" cy="503.7" rx="4.6" ry="1.1" fill="#2e2e36" opacity="0.24" transform="rotate(9 270.1 503.7)"/>
<ellipse cx="249.5" cy="507.9" rx="4.0" ry="1.0" fill="#474754" opacity="0.41" transform="rotate(-34 249.5 507.9)"/>
<ellipse cx="288.8" cy="547.7" rx="3.9" ry="2.2" fill="#535362" opacity="0.45" transform="rotate(-35 288.8 547.7)"/>
<ellipse cx="275.5" cy="536.1" rx="1.7" ry="2.3" fill="#464653" opacity="0.36" transform="rotate(23 275.5 536.1)"/>
<ellipse cx="258.2" cy="551.8" rx="4.7" ry="2.3" fill="#4b4b58" opacity="0.40" transform="rotate(21 258.2 551.8)"/>
<ellipse cx="293.7" cy="536.1" rx="1.8" ry="1.0" fill="#4e4e5b" opacity="0.29" transform="rotate(-40 293.7 536.1)"/>
<ellipse cx="284.3" cy="529.2" rx="4.0" ry="2.0" fill="#50505f" opacity="0.26" transform="rotate(-24 284.3 529.2)"/>
<ellipse cx="254.5" cy="489.1" rx="5.1" ry="1.1" fill="#474754" opacity="0.22" transform="rotate(24 254.5 489.1)"/>
<ellipse cx="275.9" cy="500.1" rx="5.4" ry="1.7" fill="#3f3f4a" opacity="0.22" transform="rotate(41 275.9 500.1)"/>
<ellipse cx="234.1" cy="532.5" rx="2.8" ry="2.0" fill="#515160" opacity="0.28" transform="rotate(7 234.1 532.5)"/>
<ellipse cx="271.4" cy="540.1" rx="4.2" ry="1.4" fill="#474754" opacity="0.27" transform="rotate(-3 271.4 540.1)"/>
<ellipse cx="278.9" cy="564.8" rx="3.7" ry="1.4" fill="#2e2e36" opacity="0.43" transform="rotate(-48 278.9 564.8)"/>
<ellipse cx="254.6" cy="550.6" rx="5.4" ry="1.7" fill="#393942" opacity="0.30" transform="rotate(42 254.6 550.6)"/>
<ellipse cx="277.3" cy="504.8" rx="2.9" ry="1.9" fill="#4e4e5b" opacity="0.33" transform="rotate(39 277.3 504.8)"/>
<ellipse cx="273.9" cy="502.3" rx="5.1" ry="1.7" fill="#2a2a31" opacity="0.24" transform="rotate(45 273.9 502.3)"/>
<ellipse cx="272.1" cy="516.6" rx="4.4" ry="1.6" fill="#3f3f4a" opacity="0.28" transform="rotate(34 272.1 516.6)"/>
<ellipse cx="218.6" cy="544.9" rx="4.9" ry="1.1" fill="#34343d" opacity="0.38" transform="rotate(40 218.6 544.9)"/>
<ellipse cx="241.3" cy="513.9" rx="3.1" ry="2.6" fill="#4b4b58" opacity="0.22" transform="rotate(43 241.3 513.9)"/>
<ellipse cx="278.0" cy="553.4" rx="2.6" ry="1.0" fill="#50505d" opacity="0.27" transform="rotate(44 278.0 553.4)"/>
<ellipse cx="238.1" cy="505.1" rx="3.5" ry="1.2" fill="#3e3e49" opacity="0.40" transform="rotate(-7 238.1 505.1)"/>
<ellipse cx="220.8" cy="545.8" rx="3.1" ry="2.4" fill="#494956" opacity="0.34" transform="rotate(22 220.8 545.8)"/>
<ellipse cx="222.4" cy="543.4" rx="3.3" ry="2.2" fill="#4f4f5c" opacity="0.42" transform="rotate(-1 222.4 543.4)"/>
<ellipse cx="290.3" cy="528.5" rx="2.2" ry="1.6" fill="#393944" opacity="0.27" transform="rotate(24 290.3 528.5)"/>
<ellipse cx="295.3" cy="504.7" rx="4.1" ry="1.4" fill="#494956" opacity="0.37" transform="rotate(-38 295.3 504.7)"/>
<ellipse cx="282.4" cy="528.5" rx="3.3" ry="1.5" fill="#43434e" opacity="0.31" transform="rotate(5 282.4 528.5)"/>
<ellipse cx="243.6" cy="513.5" rx="4.7" ry="1.2" fill="#2a2a31" opacity="0.39" transform="rotate(-9 243.6 513.5)"/>
<ellipse cx="251.1" cy="526.3" rx="3.0" ry="1.5" fill="#2c2c33" opacity="0.32" transform="rotate(7 251.1 526.3)"/>
<ellipse cx="246.8" cy="539.7" rx="3.6" ry="2.2" fill="#35353e" opacity="0.22" transform="rotate(40 246.8 539.7)"/>
<ellipse cx="248.8" cy="536.3" rx="3.2" ry="1.4" fill="#2a2a31" opacity="0.23" transform="rotate(-7 248.8 536.3)"/>
<ellipse cx="278.6" cy="549.3" rx="5.4" ry="1.7" fill="#2d2d34" opacity="0.30" transform="rotate(43 278.6 549.3)"/>
<ellipse cx="283.5" cy="553.5" rx="5.4" ry="1.3" fill="#2e2e37" opacity="0.26" transform="rotate(-35 283.5 553.5)"/>
<ellipse cx="295.0" cy="492.2" rx="4.3" ry="2.3" fill="#44444f" opacity="0.22" transform="rotate(28 295.0 492.2)"/>
<ellipse cx="221.5" cy="542.0" rx="5.3" ry="2.0" fill="#474754" opacity="0.36" transform="rotate(20 221.5 542.0)"/>
<ellipse cx="264.4" cy="515.2" rx="2.4" ry="1.9" fill="#292930" opacity="0.33" transform="rotate(50 264.4 515.2)"/>
<ellipse cx="240.4" cy="509.3" rx="4.9" ry="1.3" fill="#474754" opacity="0.26" transform="rotate(-25 240.4 509.3)"/>
<ellipse cx="294.1" cy="541.2" rx="2.7" ry="0.9" fill="#454552" opacity="0.42" transform="rotate(15 294.1 541.2)"/>
<ellipse cx="224.9" cy="502.0" rx="3.2" ry="1.5" fill="#454552" opacity="0.21" transform="rotate(-16 224.9 502.0)"/>
<ellipse cx="251.6" cy="539.3" rx="2.3" ry="2.3" fill="#545463" opacity="0.41" transform="rotate(-43 251.6 539.3)"/>
<ellipse cx="257.5" cy="499.8" rx="2.3" ry="1.7" fill="#383841" opacity="0.39" transform="rotate(-21 257.5 499.8)"/>
<ellipse cx="293.4" cy="524.0" rx="2.2" ry="1.3" fill="#41414c" opacity="0.43" transform="rotate(-44 293.4 524.0)"/>
<ellipse cx="265.3" cy="559.0" rx="1.7" ry="0.9" fill="#4c4c59" opacity="0.24" transform="rotate(-45 265.3 559.0)"/>
<ellipse cx="223.2" cy="515.6" rx="5.1" ry="2.4" fill="#535362" opacity="0.23" transform="rotate(-42 223.2 515.6)"/>
<ellipse cx="259.8" cy="521.7" rx="2.7" ry="2.1" fill="#3e3e49" opacity="0.45" transform="rotate(-6 259.8 521.7)"/>
<ellipse cx="251.6" cy="556.0" rx="3.7" ry="2.2" fill="#3f3f4a" opacity="0.29" transform="rotate(32 251.6 556.0)"/>
<ellipse cx="283.2" cy="518.8" rx="1.7" ry="1.7" fill="#3e3e49" opacity="0.34" transform="rotate(-5 283.2 518.8)"/>
<ellipse cx="243.9" cy="543.8" rx="3.4" ry="2.0" fill="#373740" opacity="0.40" transform="rotate(27 243.9 543.8)"/>
<ellipse cx="290.9" cy="504.4" rx="4.5" ry="2.4" fill="#3c3c47" opacity="0.29" transform="rotate(-17 290.9 504.4)"/>
<ellipse cx="293.6" cy="486.9" rx="4.3" ry="2.5" fill="#3a3a45" opacity="0.20" transform="rotate(26 293.6 486.9)"/>
<ellipse cx="290.6" cy="535.3" rx="5.3" ry="0.9" fill="#36363f" opacity="0.23" transform="rotate(22 290.6 535.3)"/>
<ellipse cx="255.2" cy="547.0" rx="4.7" ry="2.5" fill="#454552" opacity="0.23" transform="rotate(-0 255.2 547.0)"/>
<ellipse cx="219.2" cy="559.7" rx="2.7" ry="2.1" fill="#31313a" opacity="0.35" transform="rotate(-17 219.2 559.7)"/>
<ellipse cx="243.6" cy="513.0" rx="4.6" ry="1.0" fill="#34343d" opacity="0.30" transform="rotate(-34 243.6 513.0)"/>
<ellipse cx="250.6" cy="536.6" rx="3.4" ry="1.8" fill="#32323b" opacity="0.45" transform="rotate(38 250.6 536.6)"/>
<ellipse cx="296.2" cy="505.0" rx="1.8" ry="1.1" fill="#454552" opacity="0.45" transform="rotate(47 296.2 505.0)"/>
<ellipse cx="288.6" cy="502.6" rx="3.7" ry="2.2" fill="#2f2f38" opacity="0.39" transform="rotate(-21 288.6 502.6)"/>
<ellipse cx="240.5" cy="505.3" rx="2.5" ry="1.3" fill="#43434e" opacity="0.26" transform="rotate(-25 240.5 505.3)"/>
<ellipse cx="230.6" cy="555.9" rx="3.8" ry="1.5" fill="#40404b" opacity="0.26" transform="rotate(-25 230.6 555.9)"/>
<ellipse cx="259.9" cy="536.6" rx="1.9" ry="1.7" fill="#2b2b32" opacity="0.23" transform="rotate(-3 259.9 536.6)"/>
<ellipse cx="283.0" cy="552.3" rx="5.2" ry="1.0" fill="#393944" opacity="0.26" transform="rotate(-45 283.0 552.3)"/>
<ellipse cx="265.8" cy="551.3" rx="2.3" ry="1.0" fill="#464653" opacity="0.42" transform="rotate(-5 265.8 551.3)"/>
<ellipse cx="239.0" cy="547.2" rx="5.3" ry="1.1" fill="#4c4c59" opacity="0.38" transform="rotate(-15 239.0 547.2)"/>
<ellipse cx="221.4" cy="511.2" rx="1.7" ry="2.6" fill="#2b2b32" opacity="0.35" transform="rotate(15 221.4 511.2)"/>
<ellipse cx="234.5" cy="548.6" rx="3.7" ry="1.0" fill="#2e2e37" opacity="0.40" transform="rotate(16 234.5 548.6)"/>
<ellipse cx="230.7" cy="527.1" rx="4.1" ry="1.6" fill="#393942" opacity="0.30" transform="rotate(-22 230.7 527.1)"/>
<ellipse cx="242.7" cy="561.6" rx="2.7" ry="1.9" fill="#3d3d48" opacity="0.30" transform="rotate(-48 242.7 561.6)"/>
<ellipse cx="278.8" cy="549.2" rx="4.1" ry="1.6" fill="#40404b" opacity="0.25" transform="rotate(-49 278.8 549.2)"/>
<ellipse cx="289.5" cy="518.1" rx="4.8" ry="1.6" fill="#3e3e49" opacity="0.32" transform="rotate(-34 289.5 518.1)"/>
<ellipse cx="219.7" cy="528.6" rx="4.1" ry="2.4" fill="#2e2e36" opacity="0.34" transform="rotate(43 219.7 528.6)"/>
<ellipse cx="248.7" cy="545.2" rx="4.7" ry="2.3" fill="#3a3a45" opacity="0.23" transform="rotate(44 248.7 545.2)"/>
<ellipse cx="295.3" cy="522.9" rx="1.7" ry="2.5" fill="#3f3f4a" opacity="0.22" transform="rotate(21 295.3 522.9)"/>
<ellipse cx="272.7" cy="556.5" rx="4.1" ry="2.4" fill="#4d4d5a" opacity="0.30" transform="rotate(35 272.7 556.5)"/>
<ellipse cx="250.0" cy="525.8" rx="3.0" ry="1.1" fill="#373740" opacity="0.44" transform="rotate(32 250.0 525.8)"/>
<ellipse cx="233.7" cy="555.9" rx="4.9" ry="2.0" fill="#50505d" opacity="0.41" transform="rotate(-38 233.7 555.9)"/>
<ellipse cx="265.7" cy="528.5" rx="4.0" ry="1.4" fill="#41414c" opacity="0.28" transform="rotate(-25 265.7 528.5)"/>
<ellipse cx="249.1" cy="513.5" rx="3.5" ry="1.2" fill="#292930" opacity="0.35" transform="rotate(-1 249.1 513.5)"/>
<ellipse cx="237.0" cy="546.0" rx="4.6" ry="1.7" fill="#33333c" opacity="0.40" transform="rotate(-10 237.0 546.0)"/>
<ellipse cx="223.8" cy="512.7" rx="3.0" ry="2.3" fill="#464653" opacity="0.33" transform="rotate(-46 223.8 512.7)"/>
<ellipse cx="268.6" cy="490.1" rx="4.6" ry="1.8" fill="#2c2c33" opacity="0.39" transform="rotate(39 268.6 490.1)"/>
<ellipse cx="269.9" cy="547.7" rx="1.6" ry="1.0" fill="#4d4d5a" opacity="0.38" transform="rotate(31 269.9 547.7)"/>
<ellipse cx="233.7" cy="563.9" rx="3.5" ry="2.5" fill="#32323b" opacity="0.37" transform="rotate(22 233.7 563.9)"/>
<ellipse cx="235.9" cy="551.7" rx="3.9" ry="1.3" fill="#3b3b46" opacity="0.42" transform="rotate(-23 235.9 551.7)"/>
</g>
<g filter="url(#blur2)">
<ellipse cx="251.6" cy="518.6" rx="25.2" ry="5.7" fill="#2a2250" opacity="0.6"/>
<ellipse cx="256.3" cy="526.8" rx="9.4" ry="3.3" fill="#3a2f70" opacity="0.6"/>
<ellipse cx="238.1" cy="520.2" rx="2.5" ry="0.8" fill="#7468b8" opacity="0.51"/>
<ellipse cx="258.9" cy="525.5" rx="1.7" ry="0.9" fill="#5c4ea0" opacity="0.28"/>
<ellipse cx="250.0" cy="520.3" rx="2.3" ry="1.0" fill="#4a3c88" opacity="0.43"/>
<ellipse cx="241.9" cy="521.3" rx="2.1" ry="1.0" fill="#7468b8" opacity="0.25"/>
<ellipse cx="247.8" cy="518.3" rx="1.1" ry="0.7" fill="#4a3c88" opacity="0.48"/>
<ellipse cx="244.8" cy="523.5" rx="1.2" ry="0.7" fill="#6a5cb0" opacity="0.40"/>
<ellipse cx="245.2" cy="514.7" rx="1.3" ry="1.2" fill="#4a3c88" opacity="0.46"/>
<ellipse cx="248.4" cy="521.3" rx="1.3" ry="0.5" fill="#4a3c88" opacity="0.37"/>
<ellipse cx="257.8" cy="515.3" rx="2.5" ry="1.1" fill="#4a3c88" opacity="0.31"/>
<ellipse cx="254.8" cy="518.0" rx="1.5" ry="1.0" fill="#40347a" opacity="0.27"/>
<ellipse cx="238.4" cy="513.4" rx="1.3" ry="0.6" fill="#6a5cb0" opacity="0.25"/>
<ellipse cx="230.5" cy="523.6" rx="1.0" ry="1.0" fill="#4a3c88" opacity="0.27"/>
<ellipse cx="253.6" cy="516.1" rx="1.8" ry="0.8" fill="#5c4ea0" opacity="0.55"/>
<ellipse cx="253.0" cy="514.4" rx="1.5" ry="0.8" fill="#5c4ea0" opacity="0.25"/>
<ellipse cx="271.2" cy="510.2" rx="1.9" ry="1.2" fill="#4a3c88" opacity="0.31"/>
<ellipse cx="234.5" cy="523.6" rx="2.0" ry="0.6" fill="#5c4ea0" opacity="0.31"/>
<ellipse cx="250.6" cy="525.7" rx="1.4" ry="0.7" fill="#4a3c88" opacity="0.27"/>
<ellipse cx="255.6" cy="524.2" rx="0.8" ry="0.8" fill="#7468b8" opacity="0.39"/>
<ellipse cx="263.8" cy="517.4" rx="1.8" ry="1.1" fill="#5c4ea0" opacity="0.44"/>
<ellipse cx="248.6" cy="521.3" rx="1.9" ry="1.0" fill="#5c4ea0" opacity="0.47"/>
<ellipse cx="258.3" cy="517.6" rx="2.5" ry="1.1" fill="#7468b8" opacity="0.27"/>
<ellipse cx="256.6" cy="519.2" rx="1.7" ry="0.7" fill="#40347a" opacity="0.33"/>
<ellipse cx="258.2" cy="513.7" rx="1.3" ry="0.6" fill="#4a3c88" opacity="0.29"/>
<ellipse cx="235.6" cy="519.4" rx="1.9" ry="0.6" fill="#5c4ea0" opacity="0.53"/>
<ellipse cx="252.1" cy="519.3" rx="1.3" ry="0.8" fill="#4a3c88" opacity="0.26"/>
<ellipse cx="248.8" cy="523.6" rx="2.6" ry="0.6" fill="#5c4ea0" opacity="0.52"/>
<ellipse cx="267.5" cy="517.9" rx="2.0" ry="0.9" fill="#5c4ea0" opacity="0.43"/>
<ellipse cx="262.6" cy="516.5" rx="1.4" ry="0.7" fill="#4a3c88" opacity="0.26"/>
<ellipse cx="243.3" cy="515.0" rx="2.1" ry="0.7" fill="#4a3c88" opacity="0.27"/>
<ellipse cx="234.3" cy="516.7" rx="2.4" ry="1.0" fill="#5c4ea0" opacity="0.49"/>
</g>
<g filter="url(#blur1)">
<line x1="246.0" y1="514.9" x2="264.9" y2="515.3" stroke="#cfc6f4" stroke-width="1.43" opacity="0.8" stroke-linecap="round"/>
<line x1="250.8" y1="527.6" x2="264.9" y2="528.0" stroke="#b8a8ee" stroke-width="1.43" opacity="0.8" stroke-linecap="round"/>
<line x1="268.9" y1="513.7" x2="273.6" y2="513.7" stroke="#e0ddef" stroke-width="1.21" opacity="0.8" stroke-linecap="round"/>
<line x1="281.5" y1="513.7" x2="287.8" y2="513.7" stroke="#e0ddef" stroke-width="1.32" opacity="0.8" stroke-linecap="round"/>
<line x1="223.2" y1="516.1" x2="231.1" y2="516.1" stroke="#9080c8" stroke-width="1.10" opacity="0.8" stroke-linecap="round"/>
<line x1="232.7" y1="520.2" x2="239.0" y2="521.1" stroke="#7a68c0" stroke-width="1.32" opacity="0.8" stroke-linecap="round"/>
</g>
<ellipse cx="285.0" cy="513.3" rx="0.9" ry="0.5" fill="#e8e6f4" opacity="0.65"/>
<ellipse cx="259.5" cy="523.8" rx="0.9" ry="0.5" fill="#e8e6f4" opacity="0.65"/>
<ellipse cx="267.5" cy="514.4" rx="0.7" ry="0.5" fill="#e8e6f4" opacity="0.54"/>
<ellipse cx="242.3" cy="514.4" rx="0.8" ry="0.5" fill="#e8e6f4" opacity="0.70"/>
<ellipse cx="283.2" cy="517.1" rx="0.8" ry="0.5" fill="#e8e6f4" opacity="0.53"/>
<ellipse cx="260.7" cy="512.9" rx="0.9" ry="0.5" fill="#e8e6f4" opacity="0.33"/>
<ellipse cx="276.6" cy="524.3" rx="0.7" ry="0.5" fill="#e8e6f4" opacity="0.39"/>
<ellipse cx="273.9" cy="519.0" rx="0.7" ry="0.5" fill="#e8e6f4" opacity="0.55"/>
<ellipse cx="285.3" cy="517.8" rx="0.6" ry="0.5" fill="#e8e6f4" opacity="0.57"/>
<ellipse cx="248.5" cy="518.5" rx="0.5" ry="0.5" fill="#e8e6f4" opacity="0.66"/>
<ellipse cx="271.9" cy="508.1" rx="0.6" ry="0.5" fill="#e8e6f4" opacity="0.57"/>
<ellipse cx="248.3" cy="521.5" rx="0.7" ry="0.5" fill="#e8e6f4" opacity="0.62"/>
<ellipse cx="284.9" cy="521.3" rx="0.7" ry="0.5" fill="#e8e6f4" opacity="0.43"/>
<ellipse cx="245.1" cy="514.5" rx="0.7" ry="0.5" fill="#e8e6f4" opacity="0.63"/>
<ellipse cx="257.85" cy="517.782" rx="10.231" ry="8.209999999999999" fill="#1a4842" opacity="0.3" filter="url(#blur2)"/>
</g>
<circle cx="272.803" cy="499.72" r="1.1" fill="#30e0b0" filter="url(#blur1)"/>
<polygon points="239.671,507.4035 245.27100000000002,511.8035 241.471,511.0035 239.071,512.8035" fill="#fff"/>
<text x="56.3" y="490.4" font-size="5.6" font-weight="bold" fill="#a27ad8">CD68</text>
<text x="138.5" y="490.4" font-size="6" font-weight="bold" fill="#1f9a7a">Granzyme B</text>
<text x="222" y="490.4" font-size="5.6" font-weight="bold" fill="#f4f4f4">Merge</text>
<line x1="275.5" y1="558.8" x2="295" y2="558.8" stroke="#ddd" stroke-width="0.6"/>
<text x="286" y="564" font-size="4.4" font-weight="bold" fill="#fff" text-anchor="middle">20 μm</text>
<text x="39.4" y="603.2" font-size="14" font-weight="bold">f</text>
<line x1="46.77" y1="600" x2="46.77" y2="801" stroke="#f4f4f4" stroke-width="0.45"/>
<line x1="57.63" y1="600" x2="57.63" y2="801" stroke="#f4f4f4" stroke-width="0.45"/>
<line x1="68.50" y1="600" x2="68.50" y2="801" stroke="#f4f4f4" stroke-width="0.45"/>
<line x1="79.37" y1="600" x2="79.37" y2="801" stroke="#f4f4f4" stroke-width="0.45"/>
<line x1="90.24" y1="600" x2="90.24" y2="801" stroke="#f4f4f4" stroke-width="0.45"/>
<line x1="101.11" y1="600" x2="101.11" y2="801" stroke="#f4f4f4" stroke-width="0.45"/>
<line x1="111.97" y1="600" x2="111.97" y2="801" stroke="#f4f4f4" stroke-width="0.45"/>
<line x1="122.84" y1="600" x2="122.84" y2="801" stroke="#f4f4f4" stroke-width="0.45"/>
<line x1="133.71" y1="600" x2="133.71" y2="801" stroke="#f4f4f4" stroke-width="0.45"/>
<line x1="144.58" y1="600" x2="144.58" y2="801" stroke="#f4f4f4" stroke-width="0.45"/>
<line x1="155.45" y1="600" x2="155.45" y2="801" stroke="#f4f4f4" stroke-width="0.45"/>
<line x1="166.31" y1="600" x2="166.31" y2="801" stroke="#f4f4f4" stroke-width="0.45"/>
<line x1="177.18" y1="600" x2="177.18" y2="801" stroke="#f4f4f4" stroke-width="0.45"/>
<line x1="188.05" y1="600" x2="188.05" y2="801" stroke="#f4f4f4" stroke-width="0.45"/>
<line x1="198.92" y1="600" x2="198.92" y2="801" stroke="#f4f4f4" stroke-width="0.45"/>
<line x1="209.79" y1="600" x2="209.79" y2="801" stroke="#f4f4f4" stroke-width="0.45"/>
<line x1="220.65" y1="600" x2="220.65" y2="801" stroke="#f4f4f4" stroke-width="0.45"/>
<line x1="231.52" y1="600" x2="231.52" y2="801" stroke="#f4f4f4" stroke-width="0.45"/>
<line x1="242.39" y1="600" x2="242.39" y2="801" stroke="#f4f4f4" stroke-width="0.45"/>
<line x1="253.26" y1="600" x2="253.26" y2="801" stroke="#f4f4f4" stroke-width="0.45"/>
<line x1="264.13" y1="600" x2="264.13" y2="801" stroke="#f4f4f4" stroke-width="0.45"/>
<line x1="274.99" y1="600" x2="274.99" y2="801" stroke="#f4f4f4" stroke-width="0.45"/>
<line x1="285.86" y1="600" x2="285.86" y2="801" stroke="#f4f4f4" stroke-width="0.45"/>
<line x1="296.73" y1="600" x2="296.73" y2="801" stroke="#f4f4f4" stroke-width="0.45"/>
<line x1="307.60" y1="600" x2="307.60" y2="801" stroke="#f4f4f4" stroke-width="0.45"/>
<line x1="318.47" y1="600" x2="318.47" y2="801" stroke="#f4f4f4" stroke-width="0.45"/>
<line x1="329.33" y1="600" x2="329.33" y2="801" stroke="#f4f4f4" stroke-width="0.45"/>
<line x1="340.20" y1="600" x2="340.20" y2="801" stroke="#f4f4f4" stroke-width="0.45"/>
<line x1="351.07" y1="600" x2="351.07" y2="801" stroke="#f4f4f4" stroke-width="0.45"/>
<line x1="361.94" y1="600" x2="361.94" y2="801" stroke="#f4f4f4" stroke-width="0.45"/>
<line x1="372.81" y1="600" x2="372.81" y2="801" stroke="#f4f4f4" stroke-width="0.45"/>
<line x1="383.67" y1="600" x2="383.67" y2="801" stroke="#f4f4f4" stroke-width="0.45"/>
<line x1="394.54" y1="600" x2="394.54" y2="801" stroke="#f4f4f4" stroke-width="0.45"/>
<line x1="46.77" y1="599.90" x2="394.54" y2="599.90" stroke="#f4f4f4" stroke-width="0.45"/>
<line x1="46.77" y1="615.50" x2="394.54" y2="615.50" stroke="#f4f4f4" stroke-width="0.45"/>
<line x1="46.77" y1="631.11" x2="394.54" y2="631.11" stroke="#f4f4f4" stroke-width="0.45"/>
<line x1="46.77" y1="646.71" x2="394.54" y2="646.71" stroke="#f4f4f4" stroke-width="0.45"/>
<line x1="46.77" y1="662.32" x2="394.54" y2="662.32" stroke="#f4f4f4" stroke-width="0.45"/>
<line x1="46.77" y1="677.92" x2="394.54" y2="677.92" stroke="#f4f4f4" stroke-width="0.45"/>
<line x1="46.77" y1="693.53" x2="394.54" y2="693.53" stroke="#f4f4f4" stroke-width="0.45"/>
<line x1="46.77" y1="709.13" x2="394.54" y2="709.13" stroke="#f4f4f4" stroke-width="0.45"/>
<line x1="46.77" y1="724.74" x2="394.54" y2="724.74" stroke="#f4f4f4" stroke-width="0.45"/>
<line x1="46.77" y1="740.34" x2="394.54" y2="740.34" stroke="#f4f4f4" stroke-width="0.45"/>
<line x1="46.77" y1="755.95" x2="394.54" y2="755.95" stroke="#f4f4f4" stroke-width="0.45"/>
<line x1="46.77" y1="771.55" x2="394.54" y2="771.55" stroke="#f4f4f4" stroke-width="0.45"/>
<line x1="46.77" y1="787.16" x2="394.54" y2="787.16" stroke="#f4f4f4" stroke-width="0.45"/>
<line x1="46.77" y1="802.76" x2="394.54" y2="802.76" stroke="#f4f4f4" stroke-width="0.45"/>
<circle cx="52.20" cy="607.70" r="1.55" fill="#9e1a3e"/>
<circle cx="73.94" cy="607.70" r="1.55" fill="#9e1a3e"/>
<circle cx="84.80" cy="607.70" r="1.55" fill="#9e1a3e"/>
<circle cx="95.67" cy="607.70" r="1.55" fill="#9e1a3e"/>
<circle cx="106.54" cy="607.70" r="1.55" fill="#9e1a3e"/>
<circle cx="117.41" cy="607.70" r="1.55" fill="#4b4b9e"/>
<circle cx="139.14" cy="607.70" r="1.55" fill="#9e1a3e"/>
<circle cx="160.88" cy="607.70" r="1.55" fill="#9e1a3e"/>
<circle cx="171.75" cy="607.70" r="1.55" fill="#9e1a3e"/>
<circle cx="193.48" cy="607.70" r="1.55" fill="#9e1a3e"/>
<circle cx="204.35" cy="607.70" r="1.55" fill="#4b4b9e"/>
<circle cx="247.82" cy="607.70" r="1.55" fill="#9e1a3e"/>
<circle cx="258.69" cy="607.70" r="1.55" fill="#9e1a3e"/>
<circle cx="269.56" cy="607.70" r="1.55" fill="#9e1a3e"/>
<circle cx="280.43" cy="607.70" r="1.55" fill="#9e1a3e"/>
<circle cx="302.16" cy="607.70" r="1.55" fill="#4b4b9e"/>
<circle cx="323.90" cy="607.70" r="1.55" fill="#9e1a3e"/>
<circle cx="334.77" cy="607.70" r="1.55" fill="#9e1a3e"/>
<circle cx="345.64" cy="607.70" r="1.55" fill="#9e1a3e"/>
<circle cx="356.50" cy="607.70" r="1.55" fill="#9e1a3e"/>
<circle cx="367.37" cy="607.70" r="1.55" fill="#9e1a3e"/>
<circle cx="378.24" cy="607.70" r="1.55" fill="#9e1a3e"/>
<text x="400.3" y="610.80" font-size="8.7" fill="#222">B cells</text>
<circle cx="52.20" cy="623.31" r="1.55" fill="#9e1a3e"/>
<circle cx="63.07" cy="623.31" r="1.55" fill="#9e1a3e"/>
<circle cx="73.94" cy="623.31" r="1.55" fill="#4b4b9e"/>
<circle cx="84.80" cy="623.31" r="1.55" fill="#4b4b9e"/>
<circle cx="95.67" cy="623.31" r="1.55" fill="#4b4b9e"/>
<circle cx="106.54" cy="623.31" r="1.55" fill="#4b4b9e"/>
<circle cx="117.41" cy="623.31" r="1.55" fill="#4b4b9e"/>
<circle cx="128.28" cy="623.31" r="1.55" fill="#4b4b9e"/>
<circle cx="139.14" cy="623.31" r="1.55" fill="#9e1a3e"/>
<circle cx="150.01" cy="623.31" r="1.55" fill="#4b4b9e"/>
<circle cx="160.88" cy="623.31" r="1.55" fill="#9e1a3e"/>
<circle cx="171.75" cy="623.31" r="1.55" fill="#9e1a3e"/>
<circle cx="182.62" cy="623.31" r="1.55" fill="#9e1a3e"/>
<circle cx="193.48" cy="623.31" r="1.55" fill="#9e1a3e"/>
<circle cx="204.35" cy="623.31" r="1.55" fill="#4b4b9e"/>
<circle cx="236.96" cy="623.31" r="1.55" fill="#4b4b9e"/>
<circle cx="247.82" cy="623.31" r="1.55" fill="#4b4b9e"/>
<circle cx="258.69" cy="623.31" r="1.55" fill="#4b4b9e"/>
<circle cx="269.56" cy="623.31" r="1.55" fill="#9e1a3e"/>
<circle cx="280.43" cy="623.31" r="1.55" fill="#9e1a3e"/>
<circle cx="302.16" cy="623.31" r="1.55" fill="#4b4b9e"/>
<circle cx="313.03" cy="623.31" r="1.55" fill="#4b4b9e"/>
<circle cx="323.90" cy="623.31" r="1.55" fill="#9e1a3e"/>
<circle cx="334.77" cy="623.31" r="1.55" fill="#4b4b9e"/>
<circle cx="345.64" cy="623.31" r="1.55" fill="#9e1a3e"/>
<circle cx="356.50" cy="623.31" r="1.55" fill="#4b4b9e"/>
<circle cx="367.37" cy="623.31" r="1.55" fill="#9e1a3e"/>
<circle cx="378.24" cy="623.31" r="1.55" fill="#4b4b9e"/>
<text x="400.3" y="626.41" font-size="8.7" fill="#222">CD4 T cells</text>
<circle cx="52.20" cy="638.91" r="1.55" fill="#9e1a3e"/>
<circle cx="63.07" cy="638.91" r="1.55" fill="#4b4b9e"/>
<circle cx="73.94" cy="638.91" r="1.55" fill="#4b4b9e"/>
<circle cx="84.80" cy="638.91" r="1.55" fill="#4b4b9e"/>
<circle cx="95.67" cy="638.91" r="1.55" fill="#4b4b9e"/>
<circle cx="106.54" cy="638.91" r="1.55" fill="#4b4b9e"/>
<circle cx="117.41" cy="638.91" r="1.55" fill="#4b4b9e"/>
<circle cx="139.14" cy="638.91" r="1.55" fill="#9e1a3e"/>
<circle cx="150.01" cy="638.91" r="1.55" fill="#9e1a3e"/>
<circle cx="160.88" cy="638.91" r="1.55" fill="#4b4b9e"/>
<circle cx="171.75" cy="638.91" r="1.55" fill="#4b4b9e"/>
<circle cx="182.62" cy="638.91" r="1.55" fill="#9e1a3e"/>
<circle cx="193.48" cy="638.91" r="1.55" fill="#4b4b9e"/>
<circle cx="204.35" cy="638.91" r="1.55" fill="#4b4b9e"/>
<circle cx="236.96" cy="638.91" r="1.55" fill="#4b4b9e"/>
<circle cx="247.82" cy="638.91" r="1.55" fill="#4b4b9e"/>
<circle cx="258.69" cy="638.91" r="1.55" fill="#4b4b9e"/>
<circle cx="269.56" cy="638.91" r="1.55" fill="#9e1a3e"/>
<circle cx="280.43" cy="638.91" r="1.55" fill="#4b4b9e"/>
<circle cx="302.16" cy="638.91" r="1.55" fill="#4b4b9e"/>
<circle cx="313.03" cy="638.91" r="1.55" fill="#4b4b9e"/>
<circle cx="323.90" cy="638.91" r="1.55" fill="#4b4b9e"/>
<circle cx="334.77" cy="638.91" r="1.55" fill="#4b4b9e"/>
<circle cx="345.64" cy="638.91" r="1.55" fill="#4b4b9e"/>
<circle cx="356.50" cy="638.91" r="1.55" fill="#4b4b9e"/>
<circle cx="367.37" cy="638.91" r="1.55" fill="#4b4b9e"/>
<circle cx="378.24" cy="638.91" r="1.55" fill="#4b4b9e"/>
<text x="400.3" y="642.01" font-size="8.7" fill="#222">CD4 Treg cells</text>
<circle cx="52.20" cy="654.52" r="1.55" fill="#9e1a3e"/>
<circle cx="63.07" cy="654.52" r="1.55" fill="#4b4b9e"/>
<circle cx="73.94" cy="654.52" r="1.55" fill="#9e1a3e"/>
<circle cx="84.80" cy="654.52" r="1.55" fill="#9e1a3e"/>
<circle cx="95.67" cy="654.52" r="1.55" fill="#9e1a3e"/>
<circle cx="106.54" cy="654.52" r="1.55" fill="#4b4b9e"/>
<circle cx="117.41" cy="654.52" r="1.55" fill="#4b4b9e"/>
<circle cx="128.28" cy="654.52" r="1.55" fill="#4b4b9e"/>
<circle cx="139.14" cy="654.52" r="1.55" fill="#9e1a3e"/>
<circle cx="150.01" cy="654.52" r="1.55" fill="#9e1a3e"/>
<circle cx="160.88" cy="654.52" r="1.55" fill="#9e1a3e"/>
<circle cx="171.75" cy="654.52" r="1.55" fill="#9e1a3e"/>
<circle cx="182.62" cy="654.52" r="1.55" fill="#9e1a3e"/>
<circle cx="193.48" cy="654.52" r="1.55" fill="#4b4b9e"/>
<circle cx="204.35" cy="654.52" r="1.55" fill="#4b4b9e"/>
<circle cx="236.96" cy="654.52" r="1.55" fill="#9e1a3e"/>
<circle cx="247.82" cy="654.52" r="1.55" fill="#9e1a3e"/>
<circle cx="258.69" cy="654.52" r="1.55" fill="#9e1a3e"/>
<circle cx="269.56" cy="654.52" r="1.55" fill="#9e1a3e"/>
<circle cx="280.43" cy="654.52" r="1.55" fill="#9e1a3e"/>
<circle cx="302.16" cy="654.52" r="1.55" fill="#9e1a3e"/>
<circle cx="313.03" cy="654.52" r="1.55" fill="#9e1a3e"/>
<circle cx="323.90" cy="654.52" r="1.55" fill="#9e1a3e"/>
<circle cx="334.77" cy="654.52" r="1.55" fill="#9e1a3e"/>
<circle cx="345.64" cy="654.52" r="1.55" fill="#9e1a3e"/>
<circle cx="356.50" cy="654.52" r="1.55" fill="#9e1a3e"/>
<circle cx="367.37" cy="654.52" r="1.55" fill="#9e1a3e"/>
<circle cx="378.24" cy="654.52" r="1.55" fill="#4b4b9e"/>
<text x="400.3" y="657.62" font-size="8.7" fill="#222">CD8 T cells</text>
<circle cx="52.20" cy="670.12" r="1.55" fill="#9e1a3e"/>
<circle cx="63.07" cy="670.12" r="1.55" fill="#4b4b9e"/>
<circle cx="73.94" cy="670.12" r="1.55" fill="#4b4b9e"/>
<circle cx="84.80" cy="670.12" r="1.55" fill="#4b4b9e"/>
<circle cx="95.67" cy="670.12" r="1.55" fill="#4b4b9e"/>
<circle cx="106.54" cy="670.12" r="1.55" fill="#4b4b9e"/>
<circle cx="117.41" cy="670.12" r="1.55" fill="#4b4b9e"/>
<circle cx="139.14" cy="670.12" r="1.55" fill="#9e1a3e"/>
<circle cx="150.01" cy="670.12" r="1.55" fill="#9e1a3e"/>
<circle cx="160.88" cy="670.12" r="1.55" fill="#9e1a3e"/>
<circle cx="171.75" cy="670.12" r="1.55" fill="#9e1a3e"/>
<circle cx="193.48" cy="670.12" r="1.55" fill="#4b4b9e"/>
<circle cx="204.35" cy="670.12" r="1.55" fill="#4b4b9e"/>
<circle cx="247.82" cy="670.12" r="1.55" fill="#9e1a3e"/>
<circle cx="258.69" cy="670.12" r="1.55" fill="#9e1a3e"/>
<circle cx="269.56" cy="670.12" r="1.55" fill="#4b4b9e"/>
<circle cx="280.43" cy="670.12" r="1.55" fill="#4b4b9e"/>
<circle cx="302.16" cy="670.12" r="1.55" fill="#4b4b9e"/>
<circle cx="313.03" cy="670.12" r="1.55" fill="#9e1a3e"/>
<circle cx="323.90" cy="670.12" r="1.55" fill="#9e1a3e"/>
<circle cx="345.64" cy="670.12" r="1.55" fill="#4b4b9e"/>
<circle cx="356.50" cy="670.12" r="1.55" fill="#4b4b9e"/>
<circle cx="367.37" cy="670.12" r="1.55" fill="#9e1a3e"/>
<circle cx="378.24" cy="670.12" r="1.55" fill="#4b4b9e"/>
<text x="400.3" y="673.22" font-size="8.7" fill="#222">Endothilial cells</text>
<circle cx="52.20" cy="685.73" r="1.55" fill="#9e1a3e"/>
<circle cx="73.94" cy="685.73" r="1.55" fill="#4b4b9e"/>
<circle cx="84.80" cy="685.73" r="1.55" fill="#4b4b9e"/>
<circle cx="95.67" cy="685.73" r="1.55" fill="#4b4b9e"/>
<circle cx="106.54" cy="685.73" r="1.55" fill="#4b4b9e"/>
<circle cx="117.41" cy="685.73" r="1.55" fill="#4b4b9e"/>
<circle cx="128.28" cy="685.73" r="1.55" fill="#4b4b9e"/>
<circle cx="139.14" cy="685.73" r="1.55" fill="#9e1a3e"/>
<circle cx="150.01" cy="685.73" r="1.55" fill="#9e1a3e"/>
<circle cx="160.88" cy="685.73" r="1.55" fill="#4b4b9e"/>
<circle cx="171.75" cy="685.73" r="1.55" fill="#4b4b9e"/>
<circle cx="182.62" cy="685.73" r="1.55" fill="#9e1a3e"/>
<circle cx="193.48" cy="685.73" r="1.55" fill="#4b4b9e"/>
<circle cx="204.35" cy="685.73" r="1.55" fill="#4b4b9e"/>
<circle cx="236.96" cy="685.73" r="1.55" fill="#9e1a3e"/>
<circle cx="247.82" cy="685.73" r="1.55" fill="#4b4b9e"/>
<circle cx="258.69" cy="685.73" r="1.55" fill="#4b4b9e"/>
<circle cx="269.56" cy="685.73" r="1.55" fill="#9e1a3e"/>
<circle cx="280.43" cy="685.73" r="1.55" fill="#9e1a3e"/>
<circle cx="302.16" cy="685.73" r="1.55" fill="#4b4b9e"/>
<circle cx="345.64" cy="685.73" r="1.55" fill="#4b4b9e"/>
<circle cx="356.50" cy="685.73" r="1.55" fill="#4b4b9e"/>
<circle cx="367.37" cy="685.73" r="1.55" fill="#4b4b9e"/>
<circle cx="378.24" cy="685.73" r="1.55" fill="#4b4b9e"/>
<text x="400.3" y="688.83" font-size="8.7" fill="#222">Fibroblast cells</text>
<circle cx="52.20" cy="701.33" r="1.55" fill="#9e1a3e"/>
<circle cx="63.07" cy="701.33" r="1.55" fill="#9e1a3e"/>
<circle cx="73.94" cy="701.33" r="1.55" fill="#4b4b9e"/>
<circle cx="84.80" cy="701.33" r="1.55" fill="#4b4b9e"/>
<circle cx="95.67" cy="701.33" r="1.55" fill="#9e1a3e"/>
<circle cx="106.54" cy="701.33" r="1.55" fill="#4b4b9e"/>
<circle cx="117.41" cy="701.33" r="1.55" fill="#4b4b9e"/>
<circle cx="128.28" cy="701.33" r="1.55" fill="#4b4b9e"/>
<circle cx="139.14" cy="701.33" r="1.55" fill="#9e1a3e"/>
<circle cx="150.01" cy="701.33" r="1.55" fill="#9e1a3e"/>
<circle cx="160.88" cy="701.33" r="1.55" fill="#9e1a3e"/>
<circle cx="171.75" cy="701.33" r="1.55" fill="#9e1a3e"/>
<circle cx="182.62" cy="701.33" r="1.55" fill="#9e1a3e"/>
<circle cx="247.82" cy="701.33" r="1.55" fill="#9e1a3e"/>
<circle cx="258.69" cy="701.33" r="1.55" fill="#9e1a3e"/>
<circle cx="269.56" cy="701.33" r="1.55" fill="#9e1a3e"/>
<circle cx="280.43" cy="701.33" r="1.55" fill="#9e1a3e"/>
<circle cx="302.16" cy="701.33" r="1.55" fill="#4b4b9e"/>
<circle cx="313.03" cy="701.33" r="1.55" fill="#9e1a3e"/>
<circle cx="323.90" cy="701.33" r="1.55" fill="#9e1a3e"/>
<circle cx="345.64" cy="701.33" r="1.55" fill="#9e1a3e"/>
<circle cx="356.50" cy="701.33" r="1.55" fill="#9e1a3e"/>
<circle cx="367.37" cy="701.33" r="1.55" fill="#9e1a3e"/>
<circle cx="378.24" cy="701.33" r="1.55" fill="#9e1a3e"/>
<text x="400.3" y="704.43" font-size="8.7" fill="#222">Granulocyte cells</text>
<circle cx="52.20" cy="716.94" r="1.55" fill="#4b4b9e"/>
<circle cx="63.07" cy="716.94" r="1.55" fill="#4b4b9e"/>
<circle cx="73.94" cy="716.94" r="1.55" fill="#4b4b9e"/>
<circle cx="84.80" cy="716.94" r="1.55" fill="#4b4b9e"/>
<circle cx="95.67" cy="716.94" r="1.55" fill="#4b4b9e"/>
<circle cx="106.54" cy="716.94" r="1.55" fill="#4b4b9e"/>
<circle cx="117.41" cy="716.94" r="1.55" fill="#4b4b9e"/>
<circle cx="139.14" cy="716.94" r="1.55" fill="#9e1a3e"/>
<circle cx="150.01" cy="716.94" r="1.55" fill="#9e1a3e"/>
<circle cx="160.88" cy="716.94" r="1.55" fill="#9e1a3e"/>
<circle cx="171.75" cy="716.94" r="1.55" fill="#4b4b9e"/>
<circle cx="182.62" cy="716.94" r="1.55" fill="#9e1a3e"/>
<circle cx="193.48" cy="716.94" r="1.55" fill="#9e1a3e"/>
<circle cx="204.35" cy="716.94" r="1.55" fill="#4b4b9e"/>
<circle cx="247.82" cy="716.94" r="1.55" fill="#4b4b9e"/>
<circle cx="258.69" cy="716.94" r="1.55" fill="#4b4b9e"/>
<circle cx="269.56" cy="716.94" r="1.55" fill="#4b4b9e"/>
<circle cx="280.43" cy="716.94" r="1.55" fill="#4b4b9e"/>
<circle cx="302.16" cy="716.94" r="1.55" fill="#4b4b9e"/>
<circle cx="313.03" cy="716.94" r="1.55" fill="#4b4b9e"/>
<circle cx="323.90" cy="716.94" r="1.55" fill="#4b4b9e"/>
<circle cx="334.77" cy="716.94" r="1.55" fill="#4b4b9e"/>
<circle cx="345.64" cy="716.94" r="1.55" fill="#4b4b9e"/>
<circle cx="356.50" cy="716.94" r="1.55" fill="#4b4b9e"/>
<circle cx="367.37" cy="716.94" r="1.55" fill="#4b4b9e"/>
<circle cx="378.24" cy="716.94" r="1.55" fill="#4b4b9e"/>
<text x="400.3" y="720.04" font-size="8.7" fill="#222">Immune NOS cells</text>
<circle cx="52.20" cy="732.54" r="1.55" fill="#9e1a3e"/>
<circle cx="63.07" cy="732.54" r="1.55" fill="#9e1a3e"/>
<circle cx="73.94" cy="732.54" r="1.55" fill="#4b4b9e"/>
<circle cx="84.80" cy="732.54" r="1.55" fill="#4b4b9e"/>
<circle cx="95.67" cy="732.54" r="1.55" fill="#4b4b9e"/>
<circle cx="106.54" cy="732.54" r="1.55" fill="#4b4b9e"/>
<circle cx="117.41" cy="732.54" r="1.55" fill="#4b4b9e"/>
<circle cx="128.28" cy="732.54" r="1.55" fill="#4b4b9e"/>
<circle cx="139.14" cy="732.54" r="1.55" fill="#9e1a3e"/>
<circle cx="150.01" cy="732.54" r="1.55" fill="#9e1a3e"/>
<circle cx="160.88" cy="732.54" r="1.55" fill="#4b4b9e"/>
<circle cx="171.75" cy="732.54" r="1.55" fill="#4b4b9e"/>
<circle cx="182.62" cy="732.54" r="4.8" fill="#b8103e"/>
<circle cx="193.48" cy="732.54" r="1.55" fill="#4b4b9e"/>
<circle cx="204.35" cy="732.54" r="1.55" fill="#4b4b9e"/>
<circle cx="236.96" cy="732.54" r="1.55" fill="#4b4b9e"/>
<circle cx="247.82" cy="732.54" r="1.55" fill="#4b4b9e"/>
<circle cx="258.69" cy="732.54" r="1.55" fill="#4b4b9e"/>
<circle cx="269.56" cy="732.54" r="1.55" fill="#9e1a3e"/>
<circle cx="280.43" cy="732.54" r="1.55" fill="#4b4b9e"/>
<circle cx="302.16" cy="732.54" r="1.55" fill="#4b4b9e"/>
<circle cx="313.03" cy="732.54" r="1.55" fill="#4b4b9e"/>
<circle cx="323.90" cy="732.54" r="1.55" fill="#9e1a3e"/>
<circle cx="334.77" cy="732.54" r="1.55" fill="#9e1a3e"/>
<circle cx="345.64" cy="732.54" r="1.55" fill="#4b4b9e"/>
<circle cx="356.50" cy="732.54" r="1.55" fill="#4b4b9e"/>
<circle cx="367.37" cy="732.54" r="1.55" fill="#4b4b9e"/>
<circle cx="378.24" cy="732.54" r="1.55" fill="#4b4b9e"/>
<text x="400.3" y="735.64" font-size="8.7" fill="#222">Macrophage cells</text>
<circle cx="52.20" cy="748.14" r="1.55" fill="#9e1a3e"/>
<circle cx="73.94" cy="748.14" r="1.55" fill="#4b4b9e"/>
<circle cx="84.80" cy="748.14" r="1.55" fill="#4b4b9e"/>
<circle cx="95.67" cy="748.14" r="1.55" fill="#4b4b9e"/>
<circle cx="106.54" cy="748.14" r="1.55" fill="#4b4b9e"/>
<circle cx="139.14" cy="748.14" r="1.55" fill="#9e1a3e"/>
<circle cx="150.01" cy="748.14" r="1.55" fill="#9e1a3e"/>
<circle cx="160.88" cy="748.14" r="1.55" fill="#9e1a3e"/>
<circle cx="171.75" cy="748.14" r="1.55" fill="#4b4b9e"/>
<circle cx="193.48" cy="748.14" r="1.55" fill="#4b4b9e"/>
<circle cx="204.35" cy="748.14" r="1.55" fill="#4b4b9e"/>
<circle cx="247.82" cy="748.14" r="1.55" fill="#4b4b9e"/>
<circle cx="258.69" cy="748.14" r="1.55" fill="#4b4b9e"/>
<circle cx="269.56" cy="748.14" r="1.55" fill="#9e1a3e"/>
<circle cx="280.43" cy="748.14" r="1.55" fill="#9e1a3e"/>
<circle cx="302.16" cy="748.14" r="1.55" fill="#4b4b9e"/>
<circle cx="345.64" cy="748.14" r="1.55" fill="#4b4b9e"/>
<circle cx="356.50" cy="748.14" r="1.55" fill="#4b4b9e"/>
<circle cx="367.37" cy="748.14" r="1.55" fill="#4b4b9e"/>
<circle cx="378.24" cy="748.14" r="1.55" fill="#4b4b9e"/>
<text x="400.3" y="751.25" font-size="8.7" fill="#222">Myeloid NOS cells</text>
<circle cx="52.20" cy="763.75" r="1.55" fill="#9e1a3e"/>
<circle cx="63.07" cy="763.75" r="1.55" fill="#4b4b9e"/>
<circle cx="73.94" cy="763.75" r="1.55" fill="#4b4b9e"/>
<circle cx="84.80" cy="763.75" r="1.55" fill="#4b4b9e"/>
<circle cx="95.67" cy="763.75" r="1.55" fill="#4b4b9e"/>
<circle cx="106.54" cy="763.75" r="1.55" fill="#4b4b9e"/>
<circle cx="139.14" cy="763.75" r="1.55" fill="#9e1a3e"/>
<circle cx="150.01" cy="763.75" r="1.55" fill="#9e1a3e"/>
<circle cx="160.88" cy="763.75" r="1.55" fill="#4b4b9e"/>
<circle cx="171.75" cy="763.75" r="1.55" fill="#4b4b9e"/>
<circle cx="182.62" cy="763.75" r="1.55" fill="#9e1a3e"/>
<circle cx="193.48" cy="763.75" r="1.55" fill="#9e1a3e"/>
<circle cx="204.35" cy="763.75" r="1.55" fill="#4b4b9e"/>
<circle cx="236.96" cy="763.75" r="1.55" fill="#9e1a3e"/>
<circle cx="247.82" cy="763.75" r="1.55" fill="#4b4b9e"/>
<circle cx="258.69" cy="763.75" r="1.55" fill="#4b4b9e"/>
<circle cx="269.56" cy="763.75" r="1.55" fill="#9e1a3e"/>
<circle cx="280.43" cy="763.75" r="1.55" fill="#9e1a3e"/>
<circle cx="302.16" cy="763.75" r="1.55" fill="#4b4b9e"/>
<circle cx="345.64" cy="763.75" r="1.55" fill="#4b4b9e"/>
<circle cx="356.50" cy="763.75" r="1.55" fill="#4b4b9e"/>
<circle cx="367.37" cy="763.75" r="1.55" fill="#4b4b9e"/>
<circle cx="378.24" cy="763.75" r="1.55" fill="#4b4b9e"/>
<text x="400.3" y="766.85" font-size="8.7" fill="#222">Myofibroblast cells</text>
<circle cx="52.20" cy="779.36" r="1.55" fill="#4b4b9e"/>
<circle cx="63.07" cy="779.36" r="1.55" fill="#4b4b9e"/>
<circle cx="73.94" cy="779.36" r="1.55" fill="#4b4b9e"/>
<circle cx="84.80" cy="779.36" r="1.55" fill="#4b4b9e"/>
<circle cx="95.67" cy="779.36" r="1.55" fill="#4b4b9e"/>
<circle cx="106.54" cy="779.36" r="1.55" fill="#4b4b9e"/>
<circle cx="117.41" cy="779.36" r="1.55" fill="#4b4b9e"/>
<circle cx="139.14" cy="779.36" r="1.55" fill="#9e1a3e"/>
<circle cx="150.01" cy="779.36" r="1.55" fill="#9e1a3e"/>
<circle cx="160.88" cy="779.36" r="1.55" fill="#9e1a3e"/>
<circle cx="171.75" cy="779.36" r="1.55" fill="#4b4b9e"/>
<circle cx="182.62" cy="779.36" r="1.55" fill="#9e1a3e"/>
<circle cx="193.48" cy="779.36" r="1.55" fill="#4b4b9e"/>
<circle cx="204.35" cy="779.36" r="1.55" fill="#9e1a3e"/>
<circle cx="247.82" cy="779.36" r="1.55" fill="#4b4b9e"/>
<circle cx="258.69" cy="779.36" r="1.55" fill="#4b4b9e"/>
<circle cx="269.56" cy="779.36" r="1.55" fill="#9e1a3e"/>
<circle cx="280.43" cy="779.36" r="1.55" fill="#9e1a3e"/>
<circle cx="302.16" cy="779.36" r="1.55" fill="#4b4b9e"/>
<circle cx="323.90" cy="779.36" r="1.55" fill="#9e1a3e"/>
<circle cx="334.77" cy="779.36" r="1.55" fill="#9e1a3e"/>
<circle cx="345.64" cy="779.36" r="1.55" fill="#4b4b9e"/>
<circle cx="356.50" cy="779.36" r="1.55" fill="#4b4b9e"/>
<circle cx="367.37" cy="779.36" r="1.55" fill="#4b4b9e"/>
<circle cx="378.24" cy="779.36" r="1.55" fill="#4b4b9e"/>
<text x="400.3" y="782.46" font-size="8.7" fill="#222">Plasma cells</text>
<circle cx="52.20" cy="794.96" r="1.55" fill="#4b4b9e"/>
<circle cx="63.07" cy="794.96" r="1.55" fill="#4b4b9e"/>
<circle cx="73.94" cy="794.96" r="1.55" fill="#4b4b9e"/>
<circle cx="84.80" cy="794.96" r="1.55" fill="#4b4b9e"/>
<circle cx="95.67" cy="794.96" r="1.55" fill="#4b4b9e"/>
<circle cx="106.54" cy="794.96" r="1.55" fill="#4b4b9e"/>
<circle cx="117.41" cy="794.96" r="1.55" fill="#4b4b9e"/>
<circle cx="128.28" cy="794.96" r="1.55" fill="#4b4b9e"/>
<circle cx="139.14" cy="794.96" r="1.55" fill="#4b4b9e"/>
<circle cx="150.01" cy="794.96" r="1.55" fill="#9e1a3e"/>
<circle cx="160.88" cy="794.96" r="1.55" fill="#4b4b9e"/>
<circle cx="171.75" cy="794.96" r="1.55" fill="#4b4b9e"/>
<circle cx="193.48" cy="794.96" r="1.55" fill="#4b4b9e"/>
<circle cx="204.35" cy="794.96" r="1.55" fill="#4b4b9e"/>
<circle cx="215.22" cy="794.96" r="1.55" fill="#4b4b9e"/>
<circle cx="226.09" cy="794.96" r="1.55" fill="#4b4b9e"/>
<circle cx="247.82" cy="794.96" r="1.55" fill="#9e1a3e"/>
<circle cx="258.69" cy="794.96" r="1.55" fill="#9e1a3e"/>
<circle cx="269.56" cy="794.96" r="1.55" fill="#4b4b9e"/>
<circle cx="280.43" cy="794.96" r="1.55" fill="#4b4b9e"/>
<circle cx="291.30" cy="794.96" r="1.55" fill="#4b4b9e"/>
<circle cx="302.16" cy="794.96" r="1.55" fill="#4b4b9e"/>
<circle cx="323.90" cy="794.96" r="1.55" fill="#4b4b9e"/>
<circle cx="334.77" cy="794.96" r="1.55" fill="#4b4b9e"/>
<circle cx="345.64" cy="794.96" r="1.55" fill="#4b4b9e"/>
<circle cx="356.50" cy="794.96" r="1.55" fill="#4b4b9e"/>
<circle cx="367.37" cy="794.96" r="1.55" fill="#4b4b9e"/>
<circle cx="378.24" cy="794.96" r="1.55" fill="#4b4b9e"/>
<circle cx="389.11" cy="794.96" r="1.55" fill="#4b4b9e"/>
<text x="400.3" y="798.06" font-size="8.7" fill="#222">Tumor cells</text>
<text transform="translate(55.10,803.8) rotate(-90)" font-size="8.8" fill="#222" text-anchor="end">asct2</text>
<text transform="translate(65.97,803.8) rotate(-90)" font-size="8.8" fill="#222" text-anchor="end">asct2<tspan font-size="4.8" dy="-3.5">high</tspan></text>
<text transform="translate(76.84,803.8) rotate(-90)" font-size="8.8" fill="#222" text-anchor="end">atpa5</text>
<text transform="translate(87.70,803.8) rotate(-90)" font-size="8.8" fill="#222" text-anchor="end">atpa5<tspan font-size="4.8" dy="-3.5">high</tspan></text>
<text transform="translate(98.57,803.8) rotate(-90)" font-size="8.8" fill="#222" text-anchor="end">citrate synthase</text>
<text transform="translate(109.44,803.8) rotate(-90)" font-size="8.8" fill="#222" text-anchor="end">citrate synthase<tspan font-size="4.8" dy="-3.5">high</tspan></text>
<text transform="translate(120.31,803.8) rotate(-90)" font-size="8.8" fill="#222" text-anchor="end">cpt1a</text>
<text transform="translate(131.18,803.8) rotate(-90)" font-size="8.8" fill="#222" text-anchor="end">cpt1a<tspan font-size="4.8" dy="-3.5">high</tspan></text>
<text transform="translate(142.04,803.8) rotate(-90)" font-size="8.8" fill="#222" text-anchor="end">g6pd</text>
<text transform="translate(152.91,803.8) rotate(-90)" font-size="8.8" fill="#222" text-anchor="end">g6pd<tspan font-size="4.8" dy="-3.5">high</tspan></text>
<text transform="translate(163.78,803.8) rotate(-90)" font-size="8.8" fill="#222" text-anchor="end">glut1</text>
<text transform="translate(174.65,803.8) rotate(-90)" font-size="8.8" fill="#222" text-anchor="end">glut1<tspan font-size="4.8" dy="-3.5">high</tspan></text>
<text transform="translate(185.52,803.8) rotate(-90)" font-size="8.8" fill="#222" text-anchor="end">granzymeb</text>
<text transform="translate(196.38,803.8) rotate(-90)" font-size="8.8" fill="#222" text-anchor="end">hexokinase1</text>
<text transform="translate(207.25,803.8) rotate(-90)" font-size="8.8" fill="#222" text-anchor="end">hexokinase1<tspan font-size="4.8" dy="-3.5">high</tspan></text>
<text transform="translate(218.12,803.8) rotate(-90)" font-size="8.8" fill="#222" text-anchor="end">hlaa</text>
<text transform="translate(228.99,803.8) rotate(-90)" font-size="8.8" fill="#222" text-anchor="end">hlaa<tspan font-size="4.8" dy="-3.5">high</tspan></text>
<text transform="translate(239.86,803.8) rotate(-90)" font-size="8.8" fill="#222" text-anchor="end">icos</text>
<text transform="translate(250.72,803.8) rotate(-90)" font-size="8.8" fill="#222" text-anchor="end">idh2</text>
<text transform="translate(261.59,803.8) rotate(-90)" font-size="8.8" fill="#222" text-anchor="end">idh2<tspan font-size="4.8" dy="-3.5">high</tspan></text>
<text transform="translate(272.46,803.8) rotate(-90)" font-size="8.8" fill="#222" text-anchor="end">ido1</text>
<text transform="translate(283.33,803.8) rotate(-90)" font-size="8.8" fill="#222" text-anchor="end">ido1<tspan font-size="4.8" dy="-3.5">high</tspan></text>
<text transform="translate(294.20,803.8) rotate(-90)" font-size="8.8" fill="#222" text-anchor="end">Ki67</text>
<text transform="translate(305.06,803.8) rotate(-90)" font-size="8.8" fill="#222" text-anchor="end">nakatpase</text>
<text transform="translate(315.93,803.8) rotate(-90)" font-size="8.8" fill="#222" text-anchor="end">pd1</text>
<text transform="translate(326.80,803.8) rotate(-90)" font-size="8.8" fill="#222" text-anchor="end">pdl1</text>
<text transform="translate(337.67,803.8) rotate(-90)" font-size="8.8" fill="#222" text-anchor="end">pdl1<tspan font-size="4.8" dy="-3.5">high</tspan></text>
<text transform="translate(348.54,803.8) rotate(-90)" font-size="8.8" fill="#222" text-anchor="end">pnrf2</text>
<text transform="translate(359.40,803.8) rotate(-90)" font-size="8.8" fill="#222" text-anchor="end">pnrf2<tspan font-size="4.8" dy="-3.5">high</tspan></text>
<text transform="translate(370.27,803.8) rotate(-90)" font-size="8.8" fill="#222" text-anchor="end">sdha</text>
<text transform="translate(381.14,803.8) rotate(-90)" font-size="8.8" fill="#222" text-anchor="end">sdha<tspan font-size="4.8" dy="-3.5">high</tspan></text>
<text transform="translate(392.01,803.8) rotate(-90)" font-size="8.8" fill="#222" text-anchor="end">vimentin</text>
<rect x="399.2" y="802.4" width="79.8" height="28.7" rx="2" fill="#fff" stroke="#dcdcdc" stroke-width="0.8"/>
<circle cx="407.5" cy="810.3" r="3.8" fill="#000"/>
<text x="417" y="813" font-size="8.5" font-family="Liberation Serif" fill="#222">P-adjusted&lt;0.05</text>
<circle cx="407.5" cy="824.7" r="1.5" fill="#000"/>
<text x="417" y="827.4" font-size="8.5" font-family="Liberation Serif" fill="#222">P-adjusted&gt;0.05</text>
<rect x="399.2" y="836.9" width="47.3" height="30" rx="2" fill="#fff" stroke="#dcdcdc" stroke-width="0.8"/>
<circle cx="405.9" cy="843.9" r="1.5" fill="#9e1a3e"/>
<text x="409.8" y="846.6" font-size="8.5" font-family="Liberation Serif" fill="#222">log HR&gt;0</text>
<circle cx="405.9" cy="858.9" r="1.5" fill="#4b4b9e"/>
<text x="409.8" y="861.6" font-size="8.5" font-family="Liberation Serif" fill="#222">log HR&lt;0</text>
<text x="470.6" y="603" font-size="14" font-weight="bold">g</text>
<text x="497.9" y="613.6" font-size="8.2" font-weight="bold" fill="#222">PFS by GranzymeB<tspan font-size="4.5" dy="-2.6">+</tspan><tspan dy="2.6"> Macrophage cells</tspan></text>
<line x1="506.2" y1="625" x2="506.2" y2="746" stroke="#777" stroke-width="0.7"/>
<line x1="506.2" y1="746" x2="669.4" y2="746" stroke="#777" stroke-width="0.7"/>
<line x1="504" y1="745.2" x2="506.2" y2="745.2" stroke="#777" stroke-width="0.6"/>
<text x="502.6" y="747.6" font-size="7.5" fill="#222" text-anchor="end">0.0</text>
<line x1="504" y1="722.1" x2="506.2" y2="722.1" stroke="#777" stroke-width="0.6"/>
<text x="502.6" y="724.5" font-size="7.5" fill="#222" text-anchor="end">0.2</text>
<line x1="504" y1="698.9" x2="506.2" y2="698.9" stroke="#777" stroke-width="0.6"/>
<text x="502.6" y="701.3" font-size="7.5" fill="#222" text-anchor="end">0.4</text>
<line x1="504" y1="675.8" x2="506.2" y2="675.8" stroke="#777" stroke-width="0.6"/>
<text x="502.6" y="678.2" font-size="7.5" fill="#222" text-anchor="end">0.6</text>
<line x1="504" y1="652.6" x2="506.2" y2="652.6" stroke="#777" stroke-width="0.6"/>
<text x="502.6" y="655.0" font-size="7.5" fill="#222" text-anchor="end">0.8</text>
<line x1="504" y1="629.5" x2="506.2" y2="629.5" stroke="#777" stroke-width="0.6"/>
<text x="502.6" y="631.9" font-size="7.5" fill="#222" text-anchor="end">1.0</text>
<line x1="510.0" y1="746" x2="510.0" y2="748.2" stroke="#777" stroke-width="0.6"/>
<text x="510.0" y="756.8" font-size="7.5" fill="#222" text-anchor="middle">0</text>
<line x1="529.5" y1="746" x2="529.5" y2="748.2" stroke="#777" stroke-width="0.6"/>
<text x="529.5" y="756.8" font-size="7.5" fill="#222" text-anchor="middle">5</text>
<line x1="549.1" y1="746" x2="549.1" y2="748.2" stroke="#777" stroke-width="0.6"/>
<text x="549.1" y="756.8" font-size="7.5" fill="#222" text-anchor="middle">10</text>
<line x1="568.6" y1="746" x2="568.6" y2="748.2" stroke="#777" stroke-width="0.6"/>
<text x="568.6" y="756.8" font-size="7.5" fill="#222" text-anchor="middle">15</text>
<line x1="588.1" y1="746" x2="588.1" y2="748.2" stroke="#777" stroke-width="0.6"/>
<text x="588.1" y="756.8" font-size="7.5" fill="#222" text-anchor="middle">20</text>
<line x1="607.6" y1="746" x2="607.6" y2="748.2" stroke="#777" stroke-width="0.6"/>
<text x="607.6" y="756.8" font-size="7.5" fill="#222" text-anchor="middle">25</text>
<line x1="627.2" y1="746" x2="627.2" y2="748.2" stroke="#777" stroke-width="0.6"/>
<text x="627.2" y="756.8" font-size="7.5" fill="#222" text-anchor="middle">30</text>
<line x1="646.7" y1="746" x2="646.7" y2="748.2" stroke="#777" stroke-width="0.6"/>
<text x="646.7" y="756.8" font-size="7.5" fill="#222" text-anchor="middle">35</text>
<line x1="666.2" y1="746" x2="666.2" y2="748.2" stroke="#777" stroke-width="0.6"/>
<text x="666.2" y="756.8" font-size="7.5" fill="#222" text-anchor="middle">40</text>
<polygon points="510.00,629.50 517.50,629.50 517.50,638.75 531.25,638.75 531.25,651.25 551.25,651.25 551.25,665.00 564.50,665.00 564.50,668.75 611.25,668.75 611.25,675.00 624.50,675.00 624.50,685.50 653.75,685.50 653.75,740.00 624.50,740.00 624.50,730.00 611.25,730.00 611.25,711.25 564.50,711.25 564.50,702.50 551.25,702.50 551.25,685.00 536.25,685.00 536.25,677.50 531.25,677.50 531.25,671.25 517.00,671.25 517.00,635.00 510.00,629.50" fill="#e6e5ec" opacity="0.9"/>
<polygon points="510.00,629.50 520.00,629.50 520.00,670.00 531.25,670.00 531.25,675.00 540.00,675.00 540.00,686.25 547.50,686.25 547.50,695.00 561.25,695.00 561.25,702.50 565.00,702.50 565.00,715.00 600.00,715.00 600.00,721.25 615.00,721.25 615.00,742.50 561.25,742.50 561.25,733.75 550.00,733.75 550.00,725.00 540.00,725.00 540.00,716.25 527.50,716.25 527.50,711.25 520.00,711.25 518.75,702.50 516.25,682.50 515.00,665.00 513.75,650.00 511.25,630.00" fill="#d9cdf4" opacity="0.7"/>
<polyline points="510.00,629.50 517.00,629.50 517.00,635.00 520.00,635.00 520.00,643.75 522.50,643.75 522.50,650.00 531.25,650.00 531.25,661.25 536.25,661.25 536.25,667.50 551.25,667.50 551.25,683.75 564.50,683.75 564.50,688.00 611.25,688.00 611.25,702.50 624.50,702.50 624.50,716.75 653.75,716.75" fill="none" stroke="#8a8a8a" stroke-width="0.9"/>
<polyline points="510.00,629.50 513.75,629.50 513.75,633.75 515.00,633.75 515.00,645.00 516.25,645.00 516.25,660.00 517.50,660.00 517.50,672.50 518.75,672.50 518.75,682.50 520.00,682.50 520.00,688.75 527.50,688.75 527.50,693.75 533.75,693.75 533.75,698.75 538.75,698.75 538.75,705.00 540.00,705.00 540.00,707.50 547.50,707.50 547.50,712.50 550.00,712.50 550.00,720.00 557.50,720.00 557.50,725.00 561.25,725.00 561.25,732.50 600.00,732.50 600.00,737.00 614.50,737.00" fill="none" stroke="#7458c0" stroke-width="0.9"/>
<rect x="484.5" y="763.3" width="192.1" height="48.7" fill="#fff" stroke="#555" stroke-width="0.7"/>
<line x1="488" y1="769.4" x2="503.3" y2="769.4" stroke="#7b5fc4" stroke-width="1.3"/>
<line x1="488" y1="782" x2="503.3" y2="782" stroke="#8c8c8c" stroke-width="1.3"/>
<line x1="488" y1="787.8" x2="671" y2="787.8" stroke="#777" stroke-width="0.6"/>
<text x="510.0" y="772" font-size="7.5" fill="#222" text-anchor="middle">27</text>
<text x="510.0" y="784.6" font-size="7.5" fill="#222" text-anchor="middle">28</text>
<text x="510.0" y="799" font-size="7.5" fill="#222" text-anchor="middle">0</text>
<text x="529.5" y="772" font-size="7.5" fill="#222" text-anchor="middle">12</text>
<text x="529.5" y="784.6" font-size="7.5" fill="#222" text-anchor="middle">23</text>
<text x="529.5" y="799" font-size="7.5" fill="#222" text-anchor="middle">5</text>
<text x="549.1" y="772" font-size="7.5" fill="#222" text-anchor="middle">8</text>
<text x="549.1" y="784.6" font-size="7.5" fill="#222" text-anchor="middle">19</text>
<text x="549.1" y="799" font-size="7.5" fill="#222" text-anchor="middle">10</text>
<text x="568.6" y="772" font-size="7.5" fill="#222" text-anchor="middle">3</text>
<text x="568.6" y="784.6" font-size="7.5" fill="#222" text-anchor="middle">13</text>
<text x="568.6" y="799" font-size="7.5" fill="#222" text-anchor="middle">15</text>
<text x="588.1" y="772" font-size="7.5" fill="#222" text-anchor="middle">3</text>
<text x="588.1" y="784.6" font-size="7.5" fill="#222" text-anchor="middle">7</text>
<text x="588.1" y="799" font-size="7.5" fill="#222" text-anchor="middle">20</text>
<text x="607.6" y="772" font-size="7.5" fill="#222" text-anchor="middle">1</text>
<text x="607.6" y="784.6" font-size="7.5" fill="#222" text-anchor="middle">4</text>
<text x="607.6" y="799" font-size="7.5" fill="#222" text-anchor="middle">25</text>
<text x="627.2" y="772" font-size="7.5" fill="#222" text-anchor="middle">0</text>
<text x="627.2" y="784.6" font-size="7.5" fill="#222" text-anchor="middle">1</text>
<text x="627.2" y="799" font-size="7.5" fill="#222" text-anchor="middle">30</text>
<text x="646.7" y="772" font-size="7.5" fill="#222" text-anchor="middle">0</text>
<text x="646.7" y="784.6" font-size="7.5" fill="#222" text-anchor="middle">1</text>
<text x="646.7" y="799" font-size="7.5" fill="#222" text-anchor="middle">35</text>
<text x="666.2" y="772" font-size="7.5" fill="#222" text-anchor="middle">0</text>
<text x="666.2" y="784.6" font-size="7.5" fill="#222" text-anchor="middle">0</text>
<text x="666.2" y="799" font-size="7.5" fill="#222" text-anchor="middle">40</text>
<text x="588.2" y="809" font-size="7.5" fill="#222" text-anchor="middle">Time (Months)</text>
<rect x="496" y="815.6" width="170.5" height="18.1" rx="1.5" fill="#fff" stroke="#dcdcdc" stroke-width="0.8"/>
<line x1="503" y1="821.4" x2="514" y2="821.4" stroke="#7b5fc4" stroke-width="0.8"/>
<line x1="503" y1="828.3" x2="514" y2="828.3" stroke="#aaa" stroke-width="0.8"/>
<text x="517.5" y="823.8" font-size="7.5" fill="#333">GranzymeB<tspan font-size="4" dy="-2.2">+</tspan><tspan dy="2.2"> Macrophage Cells &gt;= median</tspan></text>
<text x="517.5" y="830.7" font-size="7.5" fill="#333">GranzymeB<tspan font-size="4" dy="-2.2">+</tspan><tspan dy="2.2"> Macrophage Cells &lt; median</tspan></text>
<text x="497.9" y="844" font-size="7.5" fill="#222">logHR=1.05982, p=0.000394, χ<tspan font-size="4" dy="-2.2">2</tspan><tspan dy="2.2">=12.55868 (LRT)</tspan></text>
<text x="497.9" y="853" font-size="7.5" fill="#222">logHR: 28.24077, p=0.000105 (UCPH)</text>
<g fill="none" stroke-linecap="round" stroke-linejoin="round">
<g stroke="#9c9c9c" stroke-width="1.6" transform="translate(0.8,0.8)" filter="url(#wsh)"><path d="M525.5,857.5 l-2.2,4.6 M524.6,861.2 h7.4 M522.6,866 h10 M528,861.2 v5 l-5.2,7.4 M528.4,866.6 l4.2,6"/><path d="M535,861.5 v10 M535,861.5 h6.6 v10 M535,870.6 h6.6"/><path d="M547,860.2 l16.2,-2.6 M550,862 l1.6,3.2 M559.6,861.6 l-1.8,3 M545.8,867.2 h19.4 M555.6,858.6 v14.2 l-2.2,0.8"/></g>
<g stroke="#ffffff" stroke-width="1.5"><path d="M525.5,857.5 l-2.2,4.6 M524.6,861.2 h7.4 M522.6,866 h10 M528,861.2 v5 l-5.2,7.4 M528.4,866.6 l4.2,6"/><path d="M535,861.5 v10 M535,861.5 h6.6 v10 M535,870.6 h6.6"/><path d="M547,860.2 l16.2,-2.6 M550,862 l1.6,3.2 M559.6,861.6 l-1.8,3 M545.8,867.2 h19.4 M555.6,858.6 v14.2 l-2.2,0.8"/></g>
</g>
<defs><filter id="wsh" x="-5%" y="-20%" width="110%" height="140%"><feGaussianBlur stdDeviation="0.5"/></filter></defs>
<text x="576.3" y="872.4" font-size="20.5" fill="#9c9c9c" filter="url(#wsh)">@Evil Genius</text>
<text x="575.5" y="871.6" font-size="20.5" fill="#ffffff" stroke="#d4d4d4" stroke-width="0.35">@Evil Genius</text>
</svg>
</body></html>
